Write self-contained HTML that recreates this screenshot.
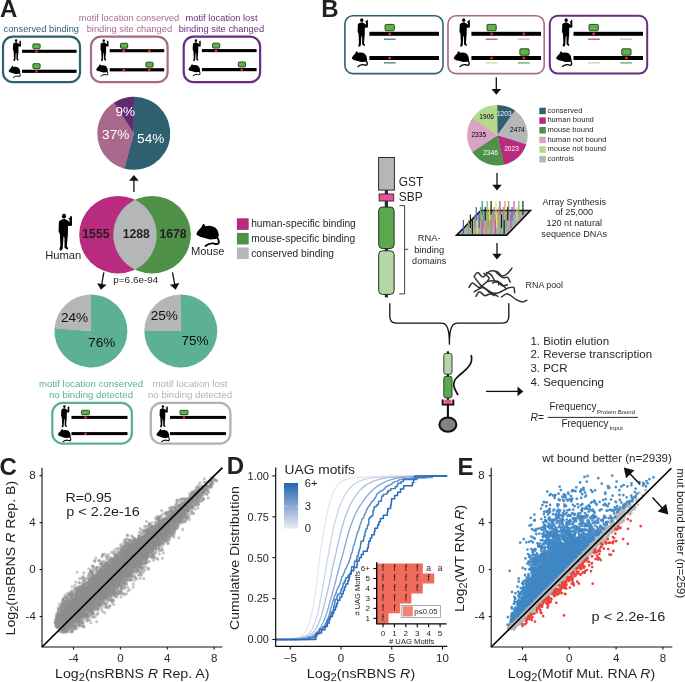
<!DOCTYPE html>
<html><head><meta charset="utf-8"><title>Figure</title>
<style>html,body{margin:0;padding:0;background:#fff}svg{display:block;will-change:transform}text{font-family:"Liberation Sans",sans-serif}</style>
</head><body>
<svg width="685" height="682" viewBox="0 0 685 682">
<rect width="685" height="682" fill="#fff"/>
<text x="0" y="17.2" font-size="24" font-weight="bold" fill="#231f20">A</text>
<text x="3.5" y="31.8" font-size="9.3" textLength="75.5" lengthAdjust="spacingAndGlyphs" fill="#2e6070">conserved binding</text>
<text x="129" y="20.8" font-size="9.3" text-anchor="middle" textLength="100.5" lengthAdjust="spacingAndGlyphs" fill="#a8698d">motif location conserved</text>
<text x="129.4" y="31.8" font-size="9.3" text-anchor="middle" textLength="85.5" lengthAdjust="spacingAndGlyphs" fill="#a8698d">binding site changed</text>
<text x="221.5" y="20.8" font-size="9.3" text-anchor="middle" textLength="72" lengthAdjust="spacingAndGlyphs" fill="#6a2c7e">motif location lost</text>
<text x="221.4" y="31.8" font-size="9.3" text-anchor="middle" textLength="85.5" lengthAdjust="spacingAndGlyphs" fill="#6a2c7e">binding site changed</text>
<rect x="3" y="36.6" width="77" height="45.6" rx="10" fill="none" stroke="#2e6070" stroke-width="2.2"/>
<g transform="translate(12.9,39.2) scale(0.0405)"><path d="M62,79 L27,94 Q5,102 4,129 L0,254 Q2,279 14,286 L19,306 L22,384 L26,474 L14,514 Q10,539 27,546 Q52,539 62,514 L64,474 L72,354 L78,332 L86,354 L88,474 L86,499 Q107,524 130,530 Q147,524 140,506 L122,479 L130,384 L137,314 L139,176 Q162,184 192,178 Q200,174 199,154 L198,54 Q197,32 184,30 Q172,32 170,54 L164,64 L150,54 L145,64 L160,84 L164,129 L142,104 L102,86 L98,74 Z"/><ellipse cx="80" cy="36" rx="31" ry="35"/></g>
<rect x="22.1" y="49.75" width="54.5" height="3.1" fill="#000"/>
<g transform="translate(8.5,65.8) scale(0.0462)"><path d="M0,117 Q15,77 55,42 L77,2 Q95,-3 103,27 Q165,7 215,42 Q260,82 255,142 Q250,167 225,172 L155,177 L115,167 L65,152 L40,147 Q35,137 15,132 Z"/><path d="M238,155 Q268,200 250,227 Q235,237 195,222 Q145,217 105,252" fill="none" stroke="#000" stroke-width="21" stroke-linecap="round"/></g>
<rect x="22.1" y="69.7" width="54.5" height="3.2" fill="#000"/>
<circle cx="36.4" cy="51.5" r="1.35" fill="#ee2d2a"/>
<circle cx="36.4" cy="71.5" r="1.35" fill="#ee2d2a"/>
<rect x="32.9" y="43.9" width="7.2" height="4.9" rx="1" fill="#5db54a" stroke="#1c3a1a" stroke-width="0.9"/>
<rect x="32.9" y="63.7" width="7.2" height="4.9" rx="1" fill="#5db54a" stroke="#1c3a1a" stroke-width="0.9"/>
<rect x="91" y="36.6" width="76.6" height="45.6" rx="10" fill="none" stroke="#a8698d" stroke-width="2.2"/>
<g transform="translate(100.5,39.2) scale(0.0405)"><path d="M62,79 L27,94 Q5,102 4,129 L0,254 Q2,279 14,286 L19,306 L22,384 L26,474 L14,514 Q10,539 27,546 Q52,539 62,514 L64,474 L72,354 L78,332 L86,354 L88,474 L86,499 Q107,524 130,530 Q147,524 140,506 L122,479 L130,384 L137,314 L139,176 Q162,184 192,178 Q200,174 199,154 L198,54 Q197,32 184,30 Q172,32 170,54 L164,64 L150,54 L145,64 L160,84 L164,129 L142,104 L102,86 L98,74 Z"/><ellipse cx="80" cy="36" rx="31" ry="35"/></g>
<rect x="109.7" y="49.15" width="54.5" height="3.1" fill="#000"/>
<g transform="translate(96.1,64.3) scale(0.0462)"><path d="M0,117 Q15,77 55,42 L77,2 Q95,-3 103,27 Q165,7 215,42 Q260,82 255,142 Q250,167 225,172 L155,177 L115,167 L65,152 L40,147 Q35,137 15,132 Z"/><path d="M238,155 Q268,200 250,227 Q235,237 195,222 Q145,217 105,252" fill="none" stroke="#000" stroke-width="21" stroke-linecap="round"/></g>
<rect x="109.7" y="68.2" width="54.5" height="3.2" fill="#000"/>
<circle cx="123.8" cy="50.9" r="1.35" fill="#ee2d2a"/>
<circle cx="149.3" cy="50.9" r="1.35" fill="#ee2d2a"/>
<circle cx="123.8" cy="70" r="1.35" fill="#ee2d2a"/>
<circle cx="149.3" cy="70" r="1.35" fill="#ee2d2a"/>
<rect x="120.5" y="43.3" width="7.2" height="4.9" rx="1" fill="#5db54a" stroke="#1c3a1a" stroke-width="0.9"/>
<rect x="145.9" y="62.2" width="7.2" height="4.9" rx="1" fill="#5db54a" stroke="#1c3a1a" stroke-width="0.9"/>
<rect x="183.7" y="36.6" width="76.4" height="45.6" rx="10" fill="none" stroke="#6a2c7e" stroke-width="2.2"/>
<g transform="translate(192.7,39.2) scale(0.0405)"><path d="M62,79 L27,94 Q5,102 4,129 L0,254 Q2,279 14,286 L19,306 L22,384 L26,474 L14,514 Q10,539 27,546 Q52,539 62,514 L64,474 L72,354 L78,332 L86,354 L88,474 L86,499 Q107,524 130,530 Q147,524 140,506 L122,479 L130,384 L137,314 L139,176 Q162,184 192,178 Q200,174 199,154 L198,54 Q197,32 184,30 Q172,32 170,54 L164,64 L150,54 L145,64 L160,84 L164,129 L142,104 L102,86 L98,74 Z"/><ellipse cx="80" cy="36" rx="31" ry="35"/></g>
<rect x="201.9" y="49.05" width="54.7" height="3.1" fill="#000"/>
<g transform="translate(188.3,64.1) scale(0.0462)"><path d="M0,117 Q15,77 55,42 L77,2 Q95,-3 103,27 Q165,7 215,42 Q260,82 255,142 Q250,167 225,172 L155,177 L115,167 L65,152 L40,147 Q35,137 15,132 Z"/><path d="M238,155 Q268,200 250,227 Q235,237 195,222 Q145,217 105,252" fill="none" stroke="#000" stroke-width="21" stroke-linecap="round"/></g>
<rect x="201.9" y="68" width="54.7" height="3.2" fill="#000"/>
<circle cx="216.1" cy="50.8" r="1.35" fill="#ee2d2a"/>
<circle cx="241.7" cy="69.8" r="1.35" fill="#ee2d2a"/>
<rect x="212.6" y="43.2" width="7.2" height="4.9" rx="1" fill="#5db54a" stroke="#1c3a1a" stroke-width="0.9"/>
<rect x="238.3" y="62" width="7.2" height="4.9" rx="1" fill="#5db54a" stroke="#1c3a1a" stroke-width="0.9"/>
<path d="M133.8,133.3 L133.04,96.81 A36.5,36.5 0 1 1 123.98,168.46 Z" fill="#2e6070"/>
<path d="M133.8,133.3 L124.72,168.65 A36.5,36.5 0 0 1 114.89,102.08 Z" fill="#a8698d"/>
<path d="M133.8,133.3 L114.24,102.48 A36.5,36.5 0 0 1 133.8,96.8 Z" fill="#602a72"/>
<text x="125.3" y="115.5" font-size="13.6" text-anchor="middle" fill="#fff">9%</text>
<text x="115.7" y="139.3" font-size="13.6" text-anchor="middle" fill="#fff">37%</text>
<text x="150.7" y="142.9" font-size="13.6" text-anchor="middle" fill="#fff">54%</text>
<line x1="133.9" y1="192" x2="133.9" y2="180.3" stroke="#111" stroke-width="1.3"/>
<path d="M133.9,175 L138.7,180.8 L129.1,180.8 Z" fill="#111"/>
<circle cx="118" cy="234.7" r="38.8" fill="#b92b7e"/>
<circle cx="152.1" cy="234.7" r="38.8" fill="#4f9148"/>
<path d="M135.05,199.85 A38.8,38.8 0 0 1 135.05,269.55 A38.8,38.8 0 0 1 135.05,199.85 Z" fill="#b4b6b8"/>
<text x="95.9" y="237.6" font-size="12.2" text-anchor="middle" font-weight="bold" fill="#231f20">1555</text>
<text x="136.2" y="237.6" font-size="12.2" text-anchor="middle" font-weight="bold" fill="#231f20">1288</text>
<text x="173" y="237.6" font-size="12.2" text-anchor="middle" font-weight="bold" fill="#231f20">1678</text>
<g transform="translate(58.6,213.8) scale(0.0675)"><path d="M62,79 L27,94 Q5,102 4,129 L0,254 Q2,279 14,286 L19,306 L22,384 L26,474 L14,514 Q10,539 27,546 Q52,539 62,514 L64,474 L72,354 L78,332 L86,354 L88,474 L86,499 Q107,524 130,530 Q147,524 140,506 L122,479 L130,384 L137,314 L139,176 Q162,184 192,178 Q200,174 199,154 L198,54 Q197,32 184,30 Q172,32 170,54 L164,64 L150,54 L145,64 L160,84 L164,129 L142,104 L102,86 L98,74 Z"/><ellipse cx="80" cy="36" rx="31" ry="35"/></g>
<text x="63.3" y="258.6" font-size="11.2" text-anchor="middle" fill="#231f20">Human</text>
<g transform="translate(196.3,223.9) scale(0.0877)"><path d="M0,117 Q15,77 55,42 L77,2 Q95,-3 103,27 Q165,7 215,42 Q260,82 255,142 Q250,167 225,172 L155,177 L115,167 L65,152 L40,147 Q35,137 15,132 Z"/><path d="M238,155 Q268,200 250,227 Q235,237 195,222 Q145,217 105,252" fill="none" stroke="#000" stroke-width="21" stroke-linecap="round"/></g>
<text x="207.7" y="254.5" font-size="11.2" text-anchor="middle" textLength="33.4" lengthAdjust="spacingAndGlyphs" fill="#231f20">Mouse</text>
<text x="135.8" y="283" font-size="9.8" text-anchor="middle" textLength="45" lengthAdjust="spacingAndGlyphs" fill="#231f20">p=6.6e-94</text>
<line x1="103.8" y1="272.4" x2="101.78" y2="284.47" stroke="#111" stroke-width="1.3"/>
<path d="M100.9,289.7 L97.12,283.19 L106.59,284.77 Z" fill="#111"/>
<line x1="172.5" y1="272.4" x2="174.74" y2="284.49" stroke="#111" stroke-width="1.3"/>
<path d="M175.7,289.7 L169.93,284.87 L179.36,283.12 Z" fill="#111"/>
<rect x="236.9" y="218.3" width="11.8" height="11.6" fill="#b92b7e"/>
<text x="251.2" y="227.1" font-size="10.2" textLength="104.6" lengthAdjust="spacingAndGlyphs" fill="#231f20">human-specific binding</text>
<rect x="236.9" y="232.9" width="11.8" height="11.6" fill="#4f9148"/>
<text x="251.2" y="241.8" font-size="10.2" textLength="104" lengthAdjust="spacingAndGlyphs" fill="#231f20">mouse-specific binding</text>
<rect x="236.9" y="247.5" width="11.8" height="11.6" fill="#b4b6b8"/>
<text x="251.2" y="256.5" font-size="10.2" textLength="82.8" lengthAdjust="spacingAndGlyphs" fill="#231f20">conserved binding</text>
<path d="M90.9,331 L90.14,294.51 A36.5,36.5 0 1 1 54.53,327.95 Z" fill="#5bb191"/>
<path d="M90.9,331 L54.47,328.71 A36.5,36.5 0 0 1 90.9,294.5 Z" fill="#b4b6b8"/>
<path d="M180.8,331 L180.04,294.51 A36.5,36.5 0 1 1 144.31,330.24 Z" fill="#5bb191"/>
<path d="M180.8,331 L144.3,331 A36.5,36.5 0 0 1 180.8,294.5 Z" fill="#b4b6b8"/>
<text x="74.5" y="321.6" font-size="13.6" text-anchor="middle" fill="#111">24%</text>
<text x="101.7" y="347" font-size="13.6" text-anchor="middle" fill="#111">76%</text>
<text x="164.3" y="320.2" font-size="13.6" text-anchor="middle" fill="#111">25%</text>
<text x="195" y="345.2" font-size="13.6" text-anchor="middle" fill="#111">75%</text>
<text x="91" y="386.6" font-size="9.6" text-anchor="middle" textLength="104" lengthAdjust="spacingAndGlyphs" fill="#5bb191">motif location conserved</text>
<text x="91" y="397.8" font-size="9.6" text-anchor="middle" textLength="84" lengthAdjust="spacingAndGlyphs" fill="#5bb191">no binding detected</text>
<text x="190" y="386.6" font-size="9.6" text-anchor="middle" textLength="75" lengthAdjust="spacingAndGlyphs" fill="#b2b2b2">motif location lost</text>
<text x="190" y="397.8" font-size="9.6" text-anchor="middle" textLength="84" lengthAdjust="spacingAndGlyphs" fill="#b2b2b2">no binding detected</text>
<rect x="52.3" y="402.9" width="79.6" height="40.7" rx="10.5" fill="none" stroke="#5bb191" stroke-width="2.3"/>
<g transform="translate(61.1,405.1) scale(0.0412)"><path d="M62,79 L27,94 Q5,102 4,129 L0,254 Q2,279 14,286 L19,306 L22,384 L26,474 L14,514 Q10,539 27,546 Q52,539 62,514 L64,474 L72,354 L78,332 L86,354 L88,474 L86,499 Q107,524 130,530 Q147,524 140,506 L122,479 L130,384 L137,314 L139,176 Q162,184 192,178 Q200,174 199,154 L198,54 Q197,32 184,30 Q172,32 170,54 L164,64 L150,54 L145,64 L160,84 L164,129 L142,104 L102,86 L98,74 Z"/><ellipse cx="80" cy="36" rx="31" ry="35"/></g>
<rect x="71.5" y="415.9" width="56" height="3" fill="#000"/>
<g transform="translate(57.8,428.9) scale(0.0508)"><path d="M0,117 Q15,77 55,42 L77,2 Q95,-3 103,27 Q165,7 215,42 Q260,82 255,142 Q250,167 225,172 L155,177 L115,167 L65,152 L40,147 Q35,137 15,132 Z"/><path d="M238,155 Q268,200 250,227 Q235,237 195,222 Q145,217 105,252" fill="none" stroke="#000" stroke-width="21" stroke-linecap="round"/></g>
<rect x="71.5" y="432.1" width="56" height="3" fill="#000"/>
<circle cx="85.5" cy="417.5" r="1.3" fill="#ee2d2a"/>
<circle cx="85.5" cy="433.8" r="1.3" fill="#ee2d2a"/>
<rect x="81.5" y="410.3" width="8" height="4.4" rx="1" fill="#5db54a" stroke="#1c3a1a" stroke-width="0.9"/>
<rect x="150.8" y="402.9" width="79.6" height="40.7" rx="10.5" fill="none" stroke="#b2b2b2" stroke-width="2.3"/>
<g transform="translate(159.6,405.1) scale(0.0412)"><path d="M62,79 L27,94 Q5,102 4,129 L0,254 Q2,279 14,286 L19,306 L22,384 L26,474 L14,514 Q10,539 27,546 Q52,539 62,514 L64,474 L72,354 L78,332 L86,354 L88,474 L86,499 Q107,524 130,530 Q147,524 140,506 L122,479 L130,384 L137,314 L139,176 Q162,184 192,178 Q200,174 199,154 L198,54 Q197,32 184,30 Q172,32 170,54 L164,64 L150,54 L145,64 L160,84 L164,129 L142,104 L102,86 L98,74 Z"/><ellipse cx="80" cy="36" rx="31" ry="35"/></g>
<rect x="170" y="415.9" width="56" height="3" fill="#000"/>
<g transform="translate(156.3,428.9) scale(0.0508)"><path d="M0,117 Q15,77 55,42 L77,2 Q95,-3 103,27 Q165,7 215,42 Q260,82 255,142 Q250,167 225,172 L155,177 L115,167 L65,152 L40,147 Q35,137 15,132 Z"/><path d="M238,155 Q268,200 250,227 Q235,237 195,222 Q145,217 105,252" fill="none" stroke="#000" stroke-width="21" stroke-linecap="round"/></g>
<rect x="170" y="432.1" width="56" height="3" fill="#000"/>
<circle cx="184" cy="417.5" r="1.3" fill="#ee2d2a"/>
<rect x="180" y="410.3" width="8" height="4.4" rx="1" fill="#5db54a" stroke="#1c3a1a" stroke-width="0.9"/>
<text x="321.2" y="17.2" font-size="24" font-weight="bold" fill="#231f20">B</text>
<rect x="344.9" y="15.8" width="98.1" height="57.8" rx="8" fill="none" stroke="#2e6070" stroke-width="1.6"/>
<g transform="translate(357.6,18.3) scale(0.0522)"><path d="M62,79 L27,94 Q5,102 4,129 L0,254 Q2,279 14,286 L19,306 L22,384 L26,474 L14,514 Q10,539 27,546 Q52,539 62,514 L64,474 L72,354 L78,332 L86,354 L88,474 L86,499 Q107,524 130,530 Q147,524 140,506 L122,479 L130,384 L137,314 L139,176 Q162,184 192,178 Q200,174 199,154 L198,54 Q197,32 184,30 Q172,32 170,54 L164,64 L150,54 L145,64 L160,84 L164,129 L142,104 L102,86 L98,74 Z"/><ellipse cx="80" cy="36" rx="31" ry="35"/></g>
<rect x="369.4" y="31.8" width="69.6" height="4" fill="#000"/>
<g transform="translate(351.7,51.2) scale(0.0608)"><path d="M0,117 Q15,77 55,42 L77,2 Q95,-3 103,27 Q165,7 215,42 Q260,82 255,142 Q250,167 225,172 L155,177 L115,167 L65,152 L40,147 Q35,137 15,132 Z"/><path d="M238,155 Q268,200 250,227 Q235,237 195,222 Q145,217 105,252" fill="none" stroke="#000" stroke-width="21" stroke-linecap="round"/></g>
<rect x="369.4" y="56" width="69.6" height="4" fill="#000"/>
<circle cx="389.7" cy="33.9" r="1.4" fill="#ee2d2a"/>
<circle cx="389.7" cy="58.1" r="1.4" fill="#ee2d2a"/>
<rect x="385.1" y="24.4" width="9.2" height="6.4" rx="1" fill="#5db54a" stroke="#1c3a1a" stroke-width="0.9"/>
<line x1="383.9" y1="39.2" x2="395.7" y2="39.2" stroke="#2e6070" stroke-width="1.1"/>
<line x1="383.9" y1="62.9" x2="395.7" y2="62.9" stroke="#2e6070" stroke-width="1.1"/>
<rect x="448" y="15.8" width="96.2" height="57.8" rx="8" fill="none" stroke="#a8698d" stroke-width="1.6"/>
<g transform="translate(459.5,18.3) scale(0.0522)"><path d="M62,79 L27,94 Q5,102 4,129 L0,254 Q2,279 14,286 L19,306 L22,384 L26,474 L14,514 Q10,539 27,546 Q52,539 62,514 L64,474 L72,354 L78,332 L86,354 L88,474 L86,499 Q107,524 130,530 Q147,524 140,506 L122,479 L130,384 L137,314 L139,176 Q162,184 192,178 Q200,174 199,154 L198,54 Q197,32 184,30 Q172,32 170,54 L164,64 L150,54 L145,64 L160,84 L164,129 L142,104 L102,86 L98,74 Z"/><ellipse cx="80" cy="36" rx="31" ry="35"/></g>
<rect x="471.4" y="31.8" width="69.6" height="4" fill="#000"/>
<g transform="translate(453.6,51.2) scale(0.0608)"><path d="M0,117 Q15,77 55,42 L77,2 Q95,-3 103,27 Q165,7 215,42 Q260,82 255,142 Q250,167 225,172 L155,177 L115,167 L65,152 L40,147 Q35,137 15,132 Z"/><path d="M238,155 Q268,200 250,227 Q235,237 195,222 Q145,217 105,252" fill="none" stroke="#000" stroke-width="21" stroke-linecap="round"/></g>
<rect x="471.4" y="56" width="69.6" height="4" fill="#000"/>
<circle cx="491.6" cy="33.9" r="1.4" fill="#ee2d2a"/>
<circle cx="523.8" cy="33.9" r="1.4" fill="#ee2d2a"/>
<circle cx="491.6" cy="58.1" r="1.4" fill="#ee2d2a"/>
<circle cx="523.8" cy="58.1" r="1.4" fill="#ee2d2a"/>
<rect x="487" y="24.4" width="9.2" height="6.4" rx="1" fill="#5db54a" stroke="#1c3a1a" stroke-width="0.9"/>
<rect x="519.9" y="48.8" width="9.2" height="6.4" rx="1" fill="#5db54a" stroke="#1c3a1a" stroke-width="0.9"/>
<line x1="485.7" y1="39.2" x2="497.5" y2="39.2" stroke="#b92b7e" stroke-width="1.1"/>
<line x1="517.9" y1="39.2" x2="529.7" y2="39.2" stroke="#dba2c6" stroke-width="1.1"/>
<line x1="485.7" y1="62.9" x2="497.5" y2="62.9" stroke="#b5d98b" stroke-width="1.1"/>
<line x1="517.9" y1="62.9" x2="529.7" y2="62.9" stroke="#4f9148" stroke-width="1.1"/>
<rect x="549.8" y="15.8" width="97.4" height="57.8" rx="8" fill="none" stroke="#6a2c7e" stroke-width="2"/>
<g transform="translate(562,18.3) scale(0.0522)"><path d="M62,79 L27,94 Q5,102 4,129 L0,254 Q2,279 14,286 L19,306 L22,384 L26,474 L14,514 Q10,539 27,546 Q52,539 62,514 L64,474 L72,354 L78,332 L86,354 L88,474 L86,499 Q107,524 130,530 Q147,524 140,506 L122,479 L130,384 L137,314 L139,176 Q162,184 192,178 Q200,174 199,154 L198,54 Q197,32 184,30 Q172,32 170,54 L164,64 L150,54 L145,64 L160,84 L164,129 L142,104 L102,86 L98,74 Z"/><ellipse cx="80" cy="36" rx="31" ry="35"/></g>
<rect x="573.5" y="31.8" width="69.5" height="4" fill="#000"/>
<g transform="translate(556.1,51.2) scale(0.0608)"><path d="M0,117 Q15,77 55,42 L77,2 Q95,-3 103,27 Q165,7 215,42 Q260,82 255,142 Q250,167 225,172 L155,177 L115,167 L65,152 L40,147 Q35,137 15,132 Z"/><path d="M238,155 Q268,200 250,227 Q235,237 195,222 Q145,217 105,252" fill="none" stroke="#000" stroke-width="21" stroke-linecap="round"/></g>
<rect x="573.5" y="56" width="69.5" height="4" fill="#000"/>
<circle cx="593.7" cy="33.9" r="1.4" fill="#ee2d2a"/>
<circle cx="626.4" cy="58.1" r="1.4" fill="#ee2d2a"/>
<rect x="589.1" y="24.4" width="9.2" height="6.4" rx="1" fill="#5db54a" stroke="#1c3a1a" stroke-width="0.9"/>
<rect x="621.8" y="48.8" width="9.2" height="6.4" rx="1" fill="#5db54a" stroke="#1c3a1a" stroke-width="0.9"/>
<line x1="588.1" y1="39.2" x2="599.9" y2="39.2" stroke="#b92b7e" stroke-width="1.1"/>
<line x1="620.3" y1="39.2" x2="632.1" y2="39.2" stroke="#dba2c6" stroke-width="1.1"/>
<line x1="588.1" y1="62.9" x2="599.9" y2="62.9" stroke="#b5d98b" stroke-width="1.1"/>
<line x1="620.3" y1="62.9" x2="632.1" y2="62.9" stroke="#4f9148" stroke-width="1.1"/>
<line x1="496.3" y1="77.2" x2="496.3" y2="89.4" stroke="#111" stroke-width="1.3"/>
<path d="M496.3,94.7 L491.5,88.9 L501.1,88.9 Z" fill="#111"/>
<path d="M497.4,135.2 L496.77,104.91 A30.3,30.3 0 0 1 515.4,110.83 Z" fill="#2e6070"/>
<path d="M497.4,135.2 L514.89,110.45 A30.3,30.3 0 0 1 526.06,145.03 Z" fill="#b4b6b8"/>
<path d="M497.4,135.2 L526.26,144.43 A30.3,30.3 0 0 1 503.59,164.86 Z" fill="#b92b7e"/>
<path d="M497.4,135.2 L504.21,164.72 A30.3,30.3 0 0 1 472.01,151.73 Z" fill="#4f9148"/>
<path d="M497.4,135.2 L472.36,152.26 A30.3,30.3 0 0 1 472.69,117.67 Z" fill="#dba2c6"/>
<path d="M497.4,135.2 L472.33,118.19 A30.3,30.3 0 0 1 497.4,104.9 Z" fill="#b5d98b"/>
<text x="504.3" y="115.7" font-size="6.6" text-anchor="middle" fill="#fff">1203</text>
<text x="517.4" y="132.1" font-size="6.6" text-anchor="middle" fill="#000">2474</text>
<text x="511.5" y="150.8" font-size="6.6" text-anchor="middle" fill="#fff">2023</text>
<text x="490.5" y="154.6" font-size="6.6" text-anchor="middle" fill="#fff">2346</text>
<text x="478.8" y="136.5" font-size="6.6" text-anchor="middle" fill="#000">2335</text>
<text x="486.7" y="118.9" font-size="6.6" text-anchor="middle" fill="#000">1906</text>
<rect x="539.3" y="107.7" width="6.5" height="6.5" fill="#2e6070"/>
<text x="547.4" y="112.8" font-size="7.6" fill="#231f20">conserved</text>
<rect x="539.3" y="117.36" width="6.5" height="6.5" fill="#b92b7e"/>
<text x="547.4" y="122.46" font-size="7.6" fill="#231f20">human bound</text>
<rect x="539.3" y="127.02" width="6.5" height="6.5" fill="#4f9148"/>
<text x="547.4" y="132.12" font-size="7.6" fill="#231f20">mouse bound</text>
<rect x="539.3" y="136.68" width="6.5" height="6.5" fill="#dba2c6"/>
<text x="547.4" y="141.78" font-size="7.6" fill="#231f20">human not bound</text>
<rect x="539.3" y="146.34" width="6.5" height="6.5" fill="#b5d98b"/>
<text x="547.4" y="151.44" font-size="7.6" fill="#231f20">mouse not bound</text>
<rect x="539.3" y="156" width="6.5" height="6.5" fill="#b4b6b8"/>
<text x="547.4" y="161.1" font-size="7.6" fill="#231f20">controls</text>
<line x1="497" y1="173" x2="497" y2="185.2" stroke="#111" stroke-width="1.3"/>
<path d="M497,190.5 L492.2,184.7 L501.8,184.7 Z" fill="#111"/>
<line x1="497" y1="243" x2="497" y2="254.2" stroke="#111" stroke-width="1.3"/>
<path d="M497,259.5 L492.2,253.7 L501.8,253.7 Z" fill="#111"/>
<line x1="386.4" y1="188" x2="386.4" y2="297.4" stroke="#2b2b2b" stroke-width="3.2"/>
<rect x="378.6" y="157.5" width="15.8" height="32.6" fill="#b4b6b8" stroke="#2b2b2b" stroke-width="1"/>
<rect x="379.1" y="194" width="14.6" height="7" fill="#e94f9b" stroke="#2b2b2b" stroke-width="0.9"/>
<rect x="378.7" y="207" width="15.4" height="41.5" rx="3.8" fill="#5aa94c" stroke="#2b2b2b" stroke-width="1"/>
<rect x="378.7" y="250.8" width="15.4" height="43.6" rx="3.8" fill="#b4d7a5" stroke="#2b2b2b" stroke-width="1"/>
<text x="398.8" y="185.7" font-size="11.9" fill="#231f20">GST</text>
<text x="398.8" y="201" font-size="11.9" fill="#231f20">SBP</text>
<path d="M399.4,205.6 L404.6,205.6 L404.6,249.3 L408.2,249.3 M404.6,249.3 L404.6,293.9 L399.4,293.9" fill="none" stroke="#2b2b2b" stroke-width="0.9"/>
<text x="429.2" y="241.1" font-size="9.3" text-anchor="middle" fill="#231f20">RNA-</text>
<text x="429.2" y="252.8" font-size="9.3" text-anchor="middle" fill="#231f20">binding</text>
<text x="429.2" y="263.5" font-size="9.3" text-anchor="middle" textLength="34.2" lengthAdjust="spacingAndGlyphs" fill="#231f20">domains</text>
<path d="M456.6,235.1 L506.8,235.1 L530.4,210.5 L480.9,210.5 Z" fill="#a9abad" stroke="#111" stroke-width="1.6" stroke-linejoin="miter"/>
<line x1="482.19" y1="214.7" x2="482.19" y2="201" stroke="#3f5fbf" stroke-width="1.15"/>
<line x1="487.19" y1="214.7" x2="487.19" y2="201" stroke="#5fbf4a" stroke-width="1.15"/>
<line x1="491.13" y1="214.7" x2="491.13" y2="201" stroke="#111" stroke-width="1.15"/>
<line x1="495.99" y1="214.7" x2="495.99" y2="201" stroke="#f0e43a" stroke-width="1.15"/>
<line x1="499.93" y1="214.7" x2="499.93" y2="201" stroke="#3f5fbf" stroke-width="1.15"/>
<line x1="504.93" y1="214.7" x2="504.93" y2="201" stroke="#f5892e" stroke-width="1.15"/>
<line x1="508.74" y1="214.7" x2="508.74" y2="201" stroke="#8c8e90" stroke-width="1.15"/>
<line x1="513.99" y1="214.7" x2="513.99" y2="201" stroke="#c24fb0" stroke-width="1.15"/>
<line x1="518.86" y1="214.7" x2="518.86" y2="201" stroke="#5fbf4a" stroke-width="1.15"/>
<line x1="522.93" y1="214.7" x2="522.93" y2="201" stroke="#111" stroke-width="1.15"/>
<line x1="476.28" y1="220.6" x2="476.28" y2="207" stroke="#3f5fbf" stroke-width="1.15"/>
<line x1="480.49" y1="220.6" x2="480.49" y2="207" stroke="#5fbf4a" stroke-width="1.15"/>
<line x1="485.22" y1="220.6" x2="485.22" y2="207" stroke="#111" stroke-width="1.15"/>
<line x1="489.42" y1="220.6" x2="489.42" y2="207" stroke="#f0e43a" stroke-width="1.15"/>
<line x1="494.02" y1="220.6" x2="494.02" y2="207" stroke="#8c8e90" stroke-width="1.15"/>
<line x1="498.88" y1="220.6" x2="498.88" y2="207" stroke="#f5892e" stroke-width="1.15"/>
<line x1="503.22" y1="220.6" x2="503.22" y2="207" stroke="#8c8e90" stroke-width="1.15"/>
<line x1="507.82" y1="220.6" x2="507.82" y2="207" stroke="#111" stroke-width="1.15"/>
<line x1="512.02" y1="220.6" x2="512.02" y2="207" stroke="#3f5fbf" stroke-width="1.15"/>
<line x1="517.02" y1="220.6" x2="517.02" y2="207" stroke="#f0e43a" stroke-width="1.15"/>
<line x1="470.37" y1="227.9" x2="470.37" y2="214.4" stroke="#111" stroke-width="1.15"/>
<line x1="474.97" y1="227.9" x2="474.97" y2="214.4" stroke="#8c8e90" stroke-width="1.15"/>
<line x1="479.17" y1="227.9" x2="479.17" y2="214.4" stroke="#3f5fbf" stroke-width="1.15"/>
<line x1="483.51" y1="227.9" x2="483.51" y2="214.4" stroke="#8c8e90" stroke-width="1.15"/>
<line x1="488.11" y1="227.9" x2="488.11" y2="214.4" stroke="#5fbf4a" stroke-width="1.15"/>
<line x1="492.31" y1="227.9" x2="492.31" y2="214.4" stroke="#f5892e" stroke-width="1.15"/>
<line x1="496.65" y1="227.9" x2="496.65" y2="214.4" stroke="#f0e43a" stroke-width="1.15"/>
<line x1="501.51" y1="227.9" x2="501.51" y2="214.4" stroke="#111" stroke-width="1.15"/>
<line x1="506.24" y1="227.9" x2="506.24" y2="214.4" stroke="#5fbf4a" stroke-width="1.15"/>
<line x1="510.84" y1="227.9" x2="510.84" y2="214.4" stroke="#c24fb0" stroke-width="1.15"/>
<line x1="463.4" y1="233.8" x2="463.4" y2="220" stroke="#3f5fbf" stroke-width="1.15"/>
<line x1="468.4" y1="233.8" x2="468.4" y2="220" stroke="#5fbf4a" stroke-width="1.15"/>
<line x1="472.34" y1="233.8" x2="472.34" y2="220" stroke="#111" stroke-width="1.15"/>
<line x1="477.33" y1="233.8" x2="477.33" y2="220" stroke="#f0e43a" stroke-width="1.15"/>
<line x1="482.19" y1="233.8" x2="482.19" y2="220" stroke="#c24fb0" stroke-width="1.15"/>
<line x1="486.4" y1="233.8" x2="486.4" y2="220" stroke="#f5892e" stroke-width="1.15"/>
<line x1="491" y1="233.8" x2="491" y2="220" stroke="#8c8e90" stroke-width="1.15"/>
<line x1="495.34" y1="233.8" x2="495.34" y2="220" stroke="#c24fb0" stroke-width="1.15"/>
<line x1="500.2" y1="233.8" x2="500.2" y2="220" stroke="#5fbf4a" stroke-width="1.15"/>
<line x1="504.14" y1="233.8" x2="504.14" y2="220" stroke="#111" stroke-width="1.15"/>
<text x="574.2" y="204.5" font-size="9.1" text-anchor="middle" textLength="63.5" lengthAdjust="spacingAndGlyphs" fill="#231f20">Array Synthesis</text>
<text x="574.2" y="215.3" font-size="9.1" text-anchor="middle" fill="#231f20">of 25,000</text>
<text x="574.2" y="226.1" font-size="9.1" text-anchor="middle" fill="#231f20">120 nt natural</text>
<text x="574.2" y="236.9" font-size="9.1" text-anchor="middle" fill="#231f20">sequence DNAs</text>
<path d="M474.27,276.02 C474.86,275.44 476.32,272.37 477.78,272.52 C479.23,272.67 480.99,277.13 483.03,276.9 C485.07,276.67 487.7,271.96 490.04,271.12 C492.37,270.27 495,271 497.05,271.82 C499.09,272.64 500.55,275.76 502.3,276.02 C504.05,276.29 505.95,274.71 507.56,273.4 C509.16,272.08 511.21,269.02 511.94,268.14" fill="none" stroke="#2b3133" stroke-width="1.5" stroke-linecap="round"/>
<path d="M469.02,287.41 C469.6,286.68 470.77,283.03 472.52,283.03 C474.27,283.03 477.05,287.64 479.53,287.41 C482.01,287.18 484.64,282.65 487.41,281.63 C490.18,280.61 493.69,280.61 496.17,281.28 C498.65,281.95 500.4,285.07 502.3,285.66 C504.2,286.24 506.68,284.93 507.56,284.78" fill="none" stroke="#2b3133" stroke-width="1.5" stroke-linecap="round"/>
<path d="M474.27,291.79 C475.73,291.06 480.4,287.26 483.03,287.41 C485.66,287.56 487.41,291.79 490.04,292.67 C492.67,293.54 495.88,293.4 498.8,292.67 C501.72,291.94 505.08,289.16 507.56,288.29 C510.04,287.41 512.52,286.68 513.69,287.41 C514.86,288.14 514.42,291.79 514.57,292.67" fill="none" stroke="#2b3133" stroke-width="1.5" stroke-linecap="round"/>
<path d="M476.02,296.17 C476.61,295.44 478.07,291.88 479.53,291.79 C480.99,291.7 483.03,295.29 484.78,295.64 C486.53,296 488.43,293.89 490.04,293.89 C491.64,293.89 493.69,295.35 494.42,295.64" fill="none" stroke="#2b3133" stroke-width="1.5" stroke-linecap="round"/>
<path d="M501.43,297.05 C502.45,296.52 505.08,293.45 507.56,293.89 C510.04,294.33 513.84,298.33 516.32,299.67 C518.8,301.02 520.7,301.86 522.45,301.95 C524.2,302.04 526.1,300.49 526.83,300.2" fill="none" stroke="#2b3133" stroke-width="1.5" stroke-linecap="round"/>
<path d="M474.27,276.9 C475.44,278.36 478.36,283.03 481.28,285.66 C484.2,288.29 489.02,290.89 491.79,292.67 C494.56,294.45 496.9,295.73 497.92,296.35" fill="none" stroke="#2b3133" stroke-width="1.5" stroke-linecap="round"/>
<path d="M486.53,272.52 C487.26,272.87 489.45,273.16 490.91,274.62 C492.37,276.08 493.69,279.88 495.29,281.28 C496.9,282.68 498.8,281.86 500.55,283.03 C502.3,284.2 504.93,287.41 505.81,288.29" fill="none" stroke="#2b3133" stroke-width="1.5" stroke-linecap="round"/>
<path d="M496.17,272.52 C497.19,273.34 500.4,276.61 502.3,277.42 C504.2,278.24 506.24,276.64 507.56,277.42 C508.87,278.21 509.75,281.37 510.19,282.15" fill="none" stroke="#2b3133" stroke-width="1.5" stroke-linecap="round"/>
<path d="M483.91,273.4 C484.78,274.13 488.58,276.46 489.16,277.78 C489.75,279.09 487.7,280.69 487.41,281.28" fill="none" stroke="#2b3133" stroke-width="1.5" stroke-linecap="round"/>
<path d="M492.67,283.03 C493.54,282.74 496.9,280.99 497.92,281.28 C498.94,281.57 498.65,284.2 498.8,284.78" fill="none" stroke="#2b3133" stroke-width="1.5" stroke-linecap="round"/>
<text x="525.6" y="287.6" font-size="9.1" textLength="37.4" lengthAdjust="spacingAndGlyphs" fill="#231f20">RNA pool</text>
<path d="M389.8,303.3 L389.8,316 C389.8,321 391.5,323.1 396,323.1 L441,323.1 C446.5,323.1 449.4,327 449.4,344.2 C449.4,327 452.3,323.1 457.8,323.1 L502.6,323.1 C507.1,323.1 508.8,321 508.8,316 L508.8,303.3" fill="none" stroke="#111" stroke-width="1.3" stroke-linejoin="round"/>
<line x1="447.9" y1="351.3" x2="447.9" y2="419" stroke="#111" stroke-width="2.1"/>
<rect x="443.8" y="353.4" width="8.2" height="20.8" rx="2.2" fill="#b4d7a5" stroke="#2b2b2b" stroke-width="0.9"/>
<rect x="443.8" y="376.3" width="8.2" height="21.6" rx="2.2" fill="#5aa94c" stroke="#2b2b2b" stroke-width="0.9"/>
<path d="M442.7,399.4 L442.7,404.6 L453.3,404.6 L453.3,399.4" fill="none" stroke="#111" stroke-width="2"/>
<rect x="444.3" y="399.7" width="7.2" height="3.9" fill="#e94f9b"/>
<ellipse cx="447.9" cy="424.6" rx="8.5" ry="7.1" fill="#808285" stroke="#111" stroke-width="2"/>
<path d="M471.3,355.7 C474,366 462,372 456.5,378 C451,384 455,390 457.7,394.5" fill="none" stroke="#111" stroke-width="1.7" stroke-linecap="round"/>
<line x1="486" y1="391.4" x2="518" y2="391.4" stroke="#111" stroke-width="1.3"/>
<path d="M523.3,391.4 L517.5,396.2 L517.5,386.6 Z" fill="#111"/>
<text x="530.4" y="344.5" font-size="11.5" fill="#231f20">1. Biotin elution</text>
<text x="530.4" y="358.32" font-size="11.5" textLength="121.7" lengthAdjust="spacingAndGlyphs" fill="#231f20">2. Reverse transcription</text>
<text x="530.4" y="372.14" font-size="11.5" fill="#231f20">3. PCR</text>
<text x="530.4" y="385.96" font-size="11.5" fill="#231f20">4. Sequencing</text>
<text x="530.6" y="420.8" font-size="10.3" fill="#231f20"><tspan font-style="italic">R</tspan>=</text>
<line x1="547.7" y1="417.4" x2="638" y2="417.4" stroke="#111" stroke-width="0.9"/>
<text x="549.4" y="410.2" font-size="10" textLength="47.2" lengthAdjust="spacingAndGlyphs" fill="#231f20">Frequency</text>
<text x="597" y="413.6" font-size="5.8" textLength="38" lengthAdjust="spacingAndGlyphs" fill="#231f20">Protein Bound</text>
<text x="561.4" y="426.9" font-size="10" textLength="47.2" lengthAdjust="spacingAndGlyphs" fill="#231f20">Frequency</text>
<text x="609.6" y="430.1" font-size="5.8" textLength="13.4" lengthAdjust="spacingAndGlyphs" fill="#231f20">Input</text>
<text x="-0.6" y="474.8" font-size="24" font-weight="bold" fill="#231f20">C</text>
<path d="M136.6 553.2h0M72.5 603.3h0M151.8 534.9h0M111 576.4h0M120 564.4h0M131.7 554.4h0M163.3 543.1h0M71.2 613.6h0M80.6 614h0M78.2 589.2h0M113.4 577h0M133.4 551.3h0M166 527.9h0M187.6 504.9h0M57.7 621.8h0M72.4 610.6h0M72.1 622.1h0M147.2 545.4h0M92.2 572.8h0M141 562.4h0M72.1 591.8h0M104.2 591.8h0M62.5 617.8h0M146.9 554.8h0M173.6 521.6h0M111.6 583.6h0M150.4 539.5h0M149.7 542.8h0M87.8 597h0M98.5 583.3h0M87.7 610.6h0M69.9 592.5h0M91.5 590h0M172.2 507.1h0M122.8 560.2h0M56.3 621.6h0M159.5 530.3h0M81.6 614.9h0M136.8 544.5h0M121.9 581.1h0M107.3 580h0M143.9 565.7h0M87.2 588.9h0M130.1 565.9h0M67.4 609.6h0M67.9 616.4h0M158.4 524.7h0M169.5 528.7h0M170.2 523.3h0M105 578.6h0M142 544.3h0M111.9 563.8h0M126.4 556.7h0M109.7 578.5h0M93.5 596.6h0M130.4 565.9h0M115.1 563.3h0M117.3 574.5h0M91.7 589.3h0M64.9 608.5h0M178 514.4h0M73 613.8h0M117.7 564.9h0M116.8 584.7h0M84.5 595.6h0M119.2 582.7h0M108.2 583.3h0M140.2 545h0M132.7 566.1h0M124.6 552.2h0M90.6 599.9h0M111.3 575.5h0M182.7 510.5h0M108.1 572.7h0M60 616.1h0M139.5 539.1h0M124.1 558.6h0M192.7 499h0M111.6 552.4h0M174.2 520.7h0M72.7 600.6h0M113.7 595.5h0M147.4 553.6h0M96.6 581.7h0M114.2 580h0M103.5 574.9h0M97 576.2h0M75.7 597.6h0M150 538.6h0M101.2 584.4h0M92.2 598.9h0M100.8 601h0M114.7 583.8h0M128.8 551.6h0M139.5 558.5h0M156.6 532.5h0M76.9 616.3h0M55.6 621.9h0M67.6 611.8h0M196.4 502.1h0M136.8 554.5h0M173.4 517.3h0M154.1 542.5h0M67.8 616.6h0M109.4 600.4h0M129.3 562.7h0M185.4 499.3h0M72.3 618h0M75.3 604.5h0M68.3 607.3h0M72.4 618.6h0M87.5 602.7h0M118.3 580.6h0M137.9 553.3h0M154.6 544.2h0M100.7 603.6h0M135.7 543.9h0M143.3 550.4h0M146.3 542.9h0M165.8 533.2h0M94.6 589.4h0M64.2 622.3h0M81.8 607.1h0M157.2 536.2h0M184.7 504.9h0M164.3 536.2h0M130 549.3h0M174.5 511.5h0M98.4 583.9h0M91.4 587.5h0M127.8 557.1h0M80.1 605.6h0M181.9 510.2h0M130.3 579.6h0M184 516h0M187.6 510.8h0M120.6 576.5h0M170.6 517.1h0M111.4 573.9h0M199.1 488.6h0M129.9 560.2h0M153.4 549h0M163.8 539.8h0M178.2 514.4h0M118.3 574h0M132.8 551.4h0M149.4 551.2h0M111.1 572h0M128.3 563.3h0M124.1 594.5h0M96.3 580.9h0M102.3 593.5h0M182.8 507.3h0M181 518h0M58.9 612.9h0M141.6 554.4h0M105.3 594.3h0M135.4 561.6h0M123.9 560h0M105.5 573.4h0M135.6 559.5h0M107.2 576.5h0M107.2 584.7h0M124.4 546.3h0M113.9 581.1h0M106 585.1h0M131.2 571.3h0M154.5 540.4h0M159.2 520.8h0M97.7 574.9h0M115.3 575h0M142.9 554.1h0M88.1 582.2h0M78.7 619.8h0M121.4 565.8h0M124.4 570.5h0M75.8 603.1h0M121.9 552.2h0M73.2 600.5h0M136.7 554.3h0M196.1 497.5h0M82.4 596.3h0M136.4 555.9h0M115.7 563.6h0M98.5 587.6h0M155.6 531.1h0M79.7 606.8h0M77.9 618.4h0M100.2 585.2h0M78.7 620.8h0M106 555.9h0M78.5 624.6h0M68.3 619.6h0M113.2 574.9h0M58.3 620.8h0M86.7 597.4h0M86.8 598.2h0M82.5 589.1h0M150.2 543.8h0M162.8 534.5h0M128.3 575.3h0M87.1 602.9h0M120.7 560.3h0M118.8 570.8h0M113.8 559.6h0M152.1 538.1h0M68.5 623.5h0M91.2 591.7h0M164.7 524.9h0M79.3 605.7h0M63.3 618.6h0M66.6 610.6h0M181.7 508.7h0M109.3 600.3h0M113.9 583.2h0M76.2 611.1h0M77.3 604h0M91.4 603.4h0M112.4 567.3h0M122 561.8h0M92.8 593.9h0M85.5 600.4h0M119.6 567.7h0M111.9 588.6h0M164.1 527.9h0M188.7 503.1h0M128 556.7h0M97.4 584.7h0M97.9 593.9h0M188.6 514.4h0M167.8 531.4h0M104.9 582.8h0M150.5 530.7h0M122.9 562.7h0M118.1 594.1h0M147.9 547h0M87 609.1h0M88.6 595.1h0M87.1 602.9h0M106.6 586h0M161.2 536.8h0M104.9 587.2h0M167.4 525.5h0M126.7 577h0M199.9 492.3h0M89.7 597.3h0M137.1 551h0M92.4 594.2h0M122 573.7h0M71.3 611.4h0M109.8 581.4h0M76.6 619h0M148.6 547.6h0M74.9 610.4h0M111.7 578.4h0M127.6 563.9h0M79.1 599.4h0M125.3 566.5h0M78.5 616.2h0M140.1 548.1h0M84 597.6h0M147.2 544.5h0M107.7 601.5h0M74.7 615h0M144.4 552.6h0M85.1 588.2h0M83.9 611.5h0M128.8 559.2h0M99 582.2h0M84.8 593.3h0M139.8 547.4h0M89.5 600.4h0M115.8 576.2h0M93 581.6h0M91.1 595.1h0M113.7 569.6h0M129.2 560.2h0M118 578.7h0M115.9 571.6h0M83.4 609h0M124.2 555.2h0M163.5 522h0M110.5 573.3h0M129.3 568.6h0M72.4 603.3h0M121 565.9h0M107.4 569h0M146 535.3h0M104.7 612.9h0M104.2 566.2h0M93.3 592.9h0M132.5 542.7h0M63.6 632.3h0M116 578.6h0M196.4 494.2h0M70.4 627.5h0M177.6 511.6h0M120.3 580.2h0M120.5 567.5h0M99.6 573.8h0M111.4 590.6h0M65.8 615.6h0M147.1 531.2h0M121.3 560.9h0M82.4 595h0M97.9 590.6h0M142.2 550.1h0M100.2 580.3h0M89.6 592.2h0M123.8 572.5h0M161.5 530.1h0M57.1 619.1h0M186.7 506h0M199.8 490.1h0M171.1 524.3h0M135.7 553.2h0M104.9 591.6h0M97.9 610.4h0M136.9 551.3h0M59.4 616.6h0M99.8 583.8h0M82.1 590.7h0M185.5 502.2h0M205 487.6h0M116.5 586.1h0M114.3 582.7h0M120.8 556.9h0M114 592.8h0M176.9 510.5h0M83.8 615.2h0M96.8 604.7h0M134.6 549.8h0M133.6 550.8h0M111.1 572h0M102.3 592.5h0M86.9 604.9h0M108.7 577.1h0M153.2 536.2h0M81.5 625.1h0M148.7 539.1h0M98.8 590.8h0M139.3 558.1h0M103.3 599.6h0M146.2 553.2h0M76.3 602.1h0M107.5 568.6h0M61.9 629.8h0M98.8 575.8h0M98.9 590.1h0M145.5 537.3h0M148.5 546.5h0M140.3 549.9h0M110.2 576.2h0M93.7 594.3h0M131 553h0M109.8 606.3h0M129 562h0M151.8 546.2h0M158.6 534.4h0M87.9 591h0M165.4 512.6h0M132.8 550.3h0M188.6 502h0M68.9 605.4h0M151.4 532.3h0M213.8 480.1h0M75.4 611.4h0M124.3 569h0M102.5 603.6h0M83.9 604.5h0M71.2 614.1h0M176.5 515.7h0M103.7 591h0M142.3 551.7h0M64.7 625.2h0M66.9 621.4h0M81.3 603.9h0M154.4 543.2h0M177.1 506.3h0M111.6 567.5h0M183.1 508.3h0M112.4 567.6h0M105.1 573.3h0M167 540.4h0M140.5 541h0M79.7 619.9h0M164.7 531h0M82.1 608.7h0M102.9 587.9h0M136.2 563.9h0M122.2 565.6h0M109.1 589.1h0M134.3 553.9h0M105.2 569.4h0M68.5 595.2h0M164.5 526.7h0M154.5 533.2h0M111.6 569.1h0M81.6 602.8h0M110.1 576.2h0M158.7 545.9h0M112.6 564.9h0M168.3 537.2h0M135.4 556h0M102.6 566.1h0M173.7 513.1h0M165.3 530.9h0M65 623.7h0M76.7 615h0M101.9 583.5h0M109 588.6h0M119.4 562.6h0M127.5 549.8h0M117.6 567.7h0M72.5 630.6h0M121 575h0M99.1 588h0M90.3 595.1h0M120.5 556.9h0M87.9 591.9h0M155.3 545.6h0M88.1 591.1h0M103.6 565.3h0M85.8 599.1h0M189.4 507.7h0M176.7 510.6h0M87.7 591.2h0M104.4 603.8h0M63.5 616.4h0M116.2 573.9h0M177.7 514.9h0M119.9 568.5h0M159.8 530.9h0M104.4 576.3h0M143.2 550.8h0M185.7 520.4h0M61.7 608.6h0M75 628.5h0M87.7 590.2h0M140.4 545.3h0M89.7 580h0M119.7 574.1h0M101.1 585.5h0M57.3 626.4h0M109.8 575.1h0M80.9 603.2h0M79.6 625.4h0M134.6 560.5h0M65.8 617.8h0M91 602.2h0M77.1 614.3h0M62.3 629.7h0M149.2 536.5h0M73.4 606.3h0M102 599.1h0M78.8 623.6h0M82.7 586.6h0M114.9 585.8h0M131.9 562.5h0M115.2 591.1h0M67.9 628.3h0M199.6 500.9h0M97.5 567h0M68.8 613h0M70.7 615h0M173.3 530.3h0M74.9 605h0M115.6 576h0M126.8 553.6h0M93.9 581.1h0M90.4 593.7h0M156 539.1h0M102.5 590.9h0M76.8 611.9h0M70.1 610.3h0M89.8 602.3h0M75 599.4h0M99.2 598.3h0M160.2 529h0M97 588.5h0M118.1 559.8h0M112.1 583.1h0M200.6 500.2h0M151.3 549.3h0M140 550h0M206.1 488.8h0M131.5 572.9h0M86.1 606.5h0M122.1 572.9h0M158.7 528.9h0M89.9 582.4h0M78 610.2h0M90.8 610.4h0M157 531.9h0M131.7 546.4h0M143.8 578.4h0M105.9 562.9h0M164 527.4h0M131.1 551.4h0M61.9 618.9h0M100.6 578.2h0M136.5 565.1h0M110.9 579.2h0M148.5 544.7h0M60.8 617.4h0M131.8 548.2h0M116.3 557.6h0M84.8 608.2h0M83.4 619.9h0M134.1 538.2h0M88.2 596.9h0M66.3 630h0M89.6 590h0M166.2 540.6h0M87 592.4h0M56.8 613.6h0M106.9 579.7h0M156 542.4h0M71.5 604.6h0M133.5 548.5h0M68.2 629.1h0M91.8 590.3h0M103.2 583.6h0M89.6 592.4h0M147.4 551.5h0M82.2 623h0M161.1 532.4h0M116.2 591.5h0M99.7 587.6h0M92.9 596.4h0M148.4 544h0M111 578.9h0M73.6 605.1h0M128.6 555.4h0M102.8 579.9h0M142.4 547.1h0M94.7 607.6h0M128.8 558h0M77.6 615.5h0M182.2 519.6h0M78.5 596.9h0M160 532.4h0M189.6 507.6h0M142.1 542.6h0M89.4 595h0M79.4 591h0M137.4 556.8h0M114.9 580.9h0M104.4 563.9h0M162 529.9h0M62.9 618.9h0M89.9 599.7h0M163.2 535.4h0M79.6 604.4h0M93.6 597.7h0M163.7 531.2h0M121.7 579.8h0M79.8 607.3h0M202.3 491.6h0M124.3 557h0M153.2 532.4h0M162.4 523.7h0M80.8 607.3h0M133.1 564.8h0M171.3 510.2h0M113.9 581.6h0M112 580.4h0M197.2 501.6h0M148.5 527.3h0M98.2 595.3h0M75.9 588.2h0M136.8 556.1h0M77.4 617.8h0M135 550.5h0M118.1 568h0M159.1 531.9h0M78.5 602.9h0M172.5 507.4h0M142.3 543.3h0M100.4 583.2h0M147.1 539.1h0M102.8 572.6h0M136.8 541.6h0M75.5 606.4h0M102.9 590.3h0M64.8 612.5h0M97.4 580.8h0M156.4 537.9h0M118.3 562.1h0M103.2 588.3h0M106.7 587.4h0M101.4 584.4h0M99.1 589.5h0M104.5 585.8h0M122.1 558.3h0M110.3 585.2h0M94.2 594.9h0M158.3 541h0M127.1 563.2h0M104.7 597.7h0M171.7 516.5h0M152.1 556.7h0M119.2 571.3h0M80.7 608.6h0M145.9 553.6h0M154.7 542h0M125.4 558.7h0M75.4 606h0M68.9 623.7h0M114 559.6h0M67.2 625.5h0M143.7 565.2h0M138.1 568.5h0M116.5 576.9h0M119.9 556.1h0M74.3 603.8h0M78.2 595.1h0M140.3 549.2h0M188.7 498h0M133.4 584.1h0M103.4 590.9h0M147.5 555.2h0M83.2 624.5h0M148.9 548.5h0M161.6 527.3h0M107.5 582.2h0M99.7 580.6h0M114.9 583.1h0M98.5 574.5h0M116.8 575.7h0M77.7 606.7h0M89.5 587.7h0M140.4 555.6h0M64 622.7h0M111.5 566.9h0M64.2 607h0M148.5 541.7h0M121.3 564.9h0M132.5 543.6h0M67.2 621.5h0M103.1 594.3h0M162.3 528.6h0M74.3 612.1h0M89.6 597.8h0M146 540.8h0M137 550.5h0M114.1 560.5h0M92.3 578.1h0M141.5 547.1h0M94.6 582.9h0M142.1 540.5h0M101.8 586.6h0M106.3 576.9h0M136.7 558.6h0M86.3 582.4h0M131.7 553h0M117 581.5h0M136.6 565.3h0M91.2 603.5h0M137.7 556h0M64.7 626.9h0M88.9 601.7h0M81.7 593.9h0M89.8 609.4h0M107.6 580.2h0M130.5 558.6h0M97 601.5h0M96.6 608.4h0M88 592.3h0M190 504.8h0M135.6 557.6h0M167.9 523.5h0M82.1 612.3h0M133.5 540h0M88.5 579h0M132.6 559.5h0M127.5 572.4h0M165.9 526.9h0M144.8 554.8h0M122.4 564.5h0M107.1 577.9h0M78.1 599.6h0M104 595.7h0M133.2 563.1h0M127.1 557.4h0M105.5 582.7h0M110.5 574.3h0M108.9 579.5h0M63.4 614.9h0M104.5 591.3h0M83.3 576.4h0M95.4 588.7h0M114.2 570.4h0M109 588.1h0M107.9 579h0M88.5 592.7h0M73.5 610.6h0M130.9 554h0M154 533.8h0M103.8 597.5h0M55.8 622.4h0M199 491.2h0M174 516.7h0M138.7 538.4h0M202 496.1h0M82.8 601.4h0M160.7 533h0M133.2 549.6h0M118.2 568.3h0M181 518.9h0M107.6 586.6h0M128.5 551.5h0M57.5 613.5h0M83.3 601.2h0M64.4 619.9h0M98 580.7h0M152.9 542.8h0M112 573.3h0M175.5 507.8h0M124.2 558.5h0M104.2 575h0M182 505.9h0M122.5 580.7h0M112.8 570.6h0M106.4 569.6h0M81.1 620.2h0M197.3 501.4h0M159.3 529.5h0M93.7 577.7h0M94.5 583.9h0M89.2 593h0M92.1 588.4h0M151.8 527.7h0M136.3 561.8h0M66.5 625.3h0M102.4 581.3h0M130.1 555.5h0M109.3 585.1h0M100.6 598h0M77.2 613.2h0M93.5 605h0M81.9 609.8h0M96.6 588.8h0M102.7 587.1h0M101.7 586.4h0M84.3 606.9h0M121.8 560.8h0M151.1 545.9h0M114.9 583.2h0M80.1 609h0M140.2 578.4h0M68.7 609.9h0M156.5 539.5h0M120 576.8h0M216.8 481.1h0M154.6 535.3h0M102.7 582h0M91.3 603h0M188.7 510.9h0M126.6 557.3h0M118.2 557.4h0M139.2 547.2h0M196.8 495.2h0M73.8 620.2h0M122.5 580.5h0M167.2 534.4h0M123.5 554.5h0M85.4 614.8h0M127 558h0M106.9 596.5h0M146.1 555.3h0M122.1 568.1h0M77.8 605.9h0M212.7 482.3h0M96 576.5h0M115.1 588.9h0M58.4 623.9h0M147.6 547.1h0M143 552.2h0M85.4 600.6h0M166.4 530.8h0M120.4 575.6h0M87.8 589.7h0M203.1 486.5h0M150.2 534h0M81.8 589.4h0M67.2 619.2h0M133.8 551.7h0M108.1 588h0M103.5 574.7h0M153.5 543.2h0M124.5 582.1h0M129.4 569.6h0M82.9 595.1h0M136.5 545h0M105.8 584.8h0M98.9 595.6h0M155.6 540.2h0M71.7 623.5h0M77.5 611.5h0M100.4 604h0M152.1 542.6h0M110.3 581.7h0M126.2 541.9h0M141.3 559.8h0M67.5 620.9h0M137.6 555.8h0M103.5 594.4h0M131.5 557.5h0M158.8 527h0M132.6 560.4h0M152.5 555.9h0M89.1 592.1h0M138.6 543.3h0M128.5 558.9h0M108.4 586h0M115 595.6h0M63.4 619.9h0M99.5 583.9h0M93.4 591.2h0M164.8 528.4h0M106.1 588.6h0M116.5 571.8h0M96.7 575.6h0M102.3 573h0M141.5 536.5h0M155.9 533.4h0M121.3 580.6h0M129.9 551.3h0M128 575.6h0M125.7 563h0M113.7 585.6h0M150.8 540.9h0M209.1 486.7h0M103.6 583.8h0M176.1 517.4h0M126.4 570.5h0M115 563.6h0M92.3 598.8h0M156.5 532.7h0M112.2 575h0M100.2 591h0M135.2 566.3h0M111.1 582.6h0M112.5 566.4h0M121.1 561.5h0M95.7 584.8h0M137.2 547.5h0M118.2 574.6h0M70.1 604.6h0M68.2 606.7h0M138.1 554.1h0M117.3 566.7h0M117.6 578.6h0M94.6 599.9h0M166.1 532.4h0M140.4 566.4h0M145.2 554.7h0M87 598.8h0M90 593.7h0M157.5 528.5h0M183.7 508h0M137.6 549.7h0M108.6 594.3h0M168.9 520.5h0M109.7 580.6h0M116.2 566.6h0M112.9 583h0M157.1 558.3h0M185.8 518.9h0M157.1 525h0M192.5 506.3h0M155.9 539.8h0M95 599.1h0M86 610h0M80.6 600.4h0M135.4 549.6h0M166.7 528.3h0M170.3 519.8h0M82.2 612.8h0M72 604.5h0M87.3 590h0M145.6 536.1h0M166 523h0M117.5 587.6h0M138.9 540.4h0M71.4 605.3h0M159.7 535.4h0M126.4 559.4h0M81.5 615.8h0M107.8 566h0M132.5 549.2h0M94.1 589.9h0M121.6 586.8h0M94.8 594.6h0M73 607.9h0M126.7 556.2h0M117.6 583.9h0M56.2 623h0M119.4 591.9h0M213.3 483.3h0M125.2 550.4h0M85.2 599.3h0M178.3 515.5h0M152.6 534.6h0M113.8 575.8h0M98.4 602.6h0M102.5 579.2h0M109.5 576.4h0M143.7 553.1h0M106.4 578.6h0M131.8 554.5h0M106.7 574.7h0M63.2 630.8h0M115.3 581.8h0M124.9 563.5h0M95.6 605.5h0M154.2 538.4h0M85.4 600.9h0M87.4 593.1h0M70.4 609.2h0M84 589.2h0M91.7 602.8h0M84.9 593h0M110.8 569.2h0M115 570.1h0M139.8 553.5h0M164 525.3h0M74.2 607.8h0M58.6 615.9h0M94.1 594.4h0M144.3 538.3h0M116.8 563.4h0M112.4 569.8h0M104.8 587.6h0M142.8 549h0M188.6 502.3h0M92.4 591.5h0M140.7 533.3h0M93.1 593.9h0M96.2 585.2h0M132.7 547.6h0M144.6 545.5h0M93.7 569.8h0M171.6 529.4h0M100.9 585.1h0M112.4 594.7h0M138.8 550h0M91.7 595.7h0M150 537.4h0M111 592.1h0M119.7 569.1h0M107.7 581.2h0M116.8 561.9h0M78.1 603.3h0M150.3 536.4h0M128.1 564h0M94.2 575.7h0M181.8 502.4h0M82.6 597h0M67.4 608.3h0M201 488.2h0M139.1 551.7h0M154.5 557.2h0M101.1 572.6h0M101.8 597.5h0M62.7 619.5h0M147.4 544.1h0M136.9 549.4h0M149.6 537.7h0M110.4 573.3h0M133.3 558.6h0M171.1 512.2h0M124.2 588.6h0M73.5 609.2h0M178.8 513.5h0M145.6 541h0M126.8 567.8h0M179.9 512.1h0M90.4 591.2h0M94.4 568.5h0M66.2 618.9h0M74.7 601.5h0M129.6 562.3h0M71.6 627.9h0M152 528.2h0M145.1 543.8h0M89.9 595.8h0M159.8 528.5h0M64.7 602.9h0M174.1 519.3h0M87.8 596.2h0M145.1 549.6h0M94.1 596.2h0M121.6 575h0M141.9 552.6h0M134.2 556.6h0M125 561.2h0M91.1 588.7h0M117.6 571.6h0M101.4 588.6h0M60.7 627.2h0M120.6 556.6h0M102.1 576.4h0M69.1 604.1h0M161.7 534.9h0M163 528.5h0M204.3 492h0M78 593.1h0M147.5 538.5h0M116.8 555.6h0M127.6 555.8h0M161.5 543.8h0M120.6 561.2h0M136.8 554.4h0M172.2 515.6h0M82.1 597.2h0M123.3 575.4h0M141.4 547.4h0M138.4 575.3h0M139 536.1h0M113.3 564.7h0M94.8 578.3h0M181.4 505.4h0M125.7 555.3h0M103.9 597.3h0M136.2 543.9h0M80.5 604.3h0M166.2 518.2h0M132.9 554h0M148.8 545.1h0M123.9 558.1h0M152.8 533.8h0M131.7 559.2h0M95.7 587.8h0M145.2 546.7h0M90.6 605h0M166.4 521.3h0M199.9 499.4h0M90.5 601.7h0M140.1 574.8h0M68.5 608.3h0M156 534h0M113.8 565.8h0M125 552.6h0M170.9 522.6h0M94.1 584.3h0M98 605.1h0M136.7 548.3h0M114.4 563.9h0M159.5 541.8h0M109.2 571.4h0M71.7 625.2h0M68.4 609.1h0M142.7 549.4h0M160.6 521.8h0M160.4 538h0M110.5 571.3h0M131.7 558.8h0M84.9 594.8h0M158.2 534.9h0M134.5 563.3h0M141.5 567.1h0M101.1 586.7h0M70.7 616.8h0M83.2 618.7h0M123.1 568.7h0M155.1 536.3h0M113.3 571h0M92.1 602.7h0M97.5 586.8h0M110.7 576.1h0M118.4 572.7h0M163.3 540.9h0M138.3 546.1h0M128 579.9h0M178.8 515.3h0M92.3 600.5h0M72.3 607.9h0M169.3 527.2h0M134.2 552.8h0M131.1 552.1h0M150.4 543.2h0M113.7 573.1h0M121.6 572.7h0M141.7 550.2h0M110.9 577.5h0M185.5 509.3h0M102.7 580.7h0M77.8 605.1h0" fill="none" stroke="#898b8d" stroke-width="3.1" stroke-linecap="round" opacity="0.5"/>
<path d="M148.9 542.6h0M115.4 580.3h0M133.5 545.1h0M146.9 543.1h0M97.4 587.1h0M118.8 563.4h0M117.8 578.6h0M93 585.3h0M68.7 620.7h0M153.1 531.7h0M131.9 560.9h0M89.8 619.8h0M81.3 609.6h0M70.6 605.4h0M130.2 556.9h0M117.5 561.7h0M77.8 603h0M174.4 507.1h0M141.6 541h0M128.8 565.7h0M73.8 611.1h0M141.2 561.1h0M66.6 615.6h0M77.3 608h0M105.4 569.4h0M80.4 602.8h0M118.4 580.9h0M99.9 576.2h0M70.7 616.8h0M77.7 611.1h0M108.3 586h0M160.5 542.8h0M62.2 615.3h0M132.9 554.6h0M92 601.4h0M84.4 606.2h0M80.6 600.2h0M146.5 540.8h0M121.1 551.8h0M139 566.6h0M59.2 615.9h0M77.3 605.4h0M127.5 558.7h0M166.2 520.9h0M109.4 591h0M146 538.7h0M70.1 605.5h0M194.7 499.2h0M87.2 594.8h0M74.7 618h0M99 574.4h0M85.5 593.5h0M63.2 612.7h0M113.7 577.6h0M128.4 569.1h0M197.3 491.8h0M162.2 530.8h0M139.3 544.6h0M135.4 564.6h0M138 556h0M106.2 574h0M197 494.4h0M147.6 554.1h0M135.2 547.7h0M112.7 580.6h0M69.4 615h0M117.2 580.3h0M147.4 546.1h0M158.1 536.5h0M90.3 592h0M124.6 557.2h0M206.9 484.8h0M146.7 536.2h0M125.8 559h0M88.8 574.9h0M164.4 522.3h0M87.8 594.1h0M138.8 551.7h0M115.1 564.4h0M82.4 615.4h0M66.8 612.7h0M76.3 622.1h0M150.1 551.4h0M141.4 558.4h0M101.4 573.9h0M141.8 545.9h0M73.9 603.2h0M101.2 595.3h0M99.4 596h0M162.5 538h0M96.2 600.8h0M92.5 589.6h0M126.9 559.9h0M100.4 584h0M113 577.9h0M104.7 596.8h0M193.6 500.3h0M100 583.2h0M138.1 555.4h0M73.1 605.5h0M171.2 533h0M143.2 550.9h0M159.7 520.9h0M124.1 570.6h0M179.4 521.4h0M148.5 556h0M157.5 534.6h0M103.4 587.4h0M112.2 577.6h0M118.3 581.2h0M149.7 539.2h0M107.8 567.6h0M181.1 512.7h0M140.3 550.6h0M122.8 564h0M137.8 552.8h0M87.2 593.4h0M116.2 573.1h0M170.8 520.3h0M125.3 550.1h0M140.6 551.8h0M210.4 485.7h0M160.3 542.7h0M73.6 608.5h0M108.4 570.2h0M58.9 615.8h0M147.3 536h0M195.3 490.8h0M117.3 581h0M90.9 600.2h0M123 561.5h0M80.1 601.8h0M101.1 572.9h0M104.8 585.6h0M188.2 508.3h0M56.5 626.7h0M113.2 572.2h0M124 584.6h0M116.3 563.2h0M131.1 560.8h0M78 604h0M154 526.7h0M191.9 506.2h0M153.1 539h0M83.2 585.3h0M97.7 593h0M168 513.5h0M120 586.2h0M82.4 590h0M145.1 540.7h0M116.3 548.8h0M163.5 529.6h0M127.4 565.6h0M74.3 616.4h0M86.5 604h0M74.7 601.4h0M147.8 540.4h0M115.8 582.5h0M181.9 517.5h0M93.2 598.1h0M98.7 587.5h0M146.5 545.5h0M154.7 526.6h0M66.1 631.6h0M126.6 561.7h0M64.7 607.2h0M144 557h0M77.9 615.9h0M176.2 517.5h0M118.4 564.8h0M155.9 551.7h0M115 576.9h0M96.6 592.4h0M69.8 608.1h0M133.5 552.3h0M210.4 482h0M110.2 578.8h0M90.1 593.8h0M196.4 496.4h0M125.6 563.9h0M97.1 603.7h0M183.1 509.6h0M115.4 569.8h0M99.4 583.6h0M161.1 526h0M151.3 537.5h0M173.2 515.6h0M93.3 602.4h0M74.3 599.4h0M108.3 572.1h0M135.7 577.8h0M109.5 579.3h0M166.6 515.7h0M61.4 617h0M132 550.6h0M165.1 536.4h0M66.1 607.4h0M114.6 554.5h0M135.7 552h0M160.4 540.3h0M110.8 584.4h0M151.9 540.3h0M148.5 552.3h0M142.3 560.7h0M82.2 588.5h0M63.5 615.6h0M151.1 542h0M198.1 488.3h0M118.4 570.1h0M68.7 611.9h0M135 555h0M76.2 615h0M91.8 609.4h0M151.3 525.9h0M121.1 592h0M161.4 526.8h0M167.8 528.6h0M119.9 562.1h0M118.5 566.4h0M137.7 553.3h0M174.9 523.6h0M146.2 545.2h0M80.5 602h0M102.7 596.5h0M126 572.8h0M84.3 609.5h0M187.6 502.2h0M186.9 508.9h0M57.6 622h0M71.6 616.1h0M104.5 593.3h0M177.9 513.9h0M94.7 592.4h0M99.3 594.1h0M166.7 541.5h0M116.7 567.8h0M94.3 590.9h0M81.9 601.1h0M80.4 600.2h0M181.1 516.3h0M136.1 549.9h0M91.2 593.7h0M80.3 592.9h0M82.6 601.9h0M73.1 599.2h0M76.4 595.1h0M150.5 532h0M178.2 516.3h0M81.1 592.5h0M151 540.9h0M127.9 557.5h0M80.5 616.2h0M186.6 506.4h0M141.3 551.4h0M132.9 548.9h0M160.1 535.3h0M66.7 617.6h0M137.7 548.8h0M156.6 539.6h0M140.8 550.4h0M157.8 527.9h0M139.3 550.8h0M83.5 608.5h0M108.9 583.5h0M134.4 556h0M142.3 551.3h0M83.3 585.7h0M199.2 494.9h0M130 560.9h0M101.3 579.5h0M131 565.4h0M78.8 610.8h0M140.3 554.8h0M134.1 561h0M98.2 575.2h0M90.1 585.6h0M72 596.3h0M88.6 596.7h0M96.6 590.3h0M182.4 513.3h0M100.4 581.3h0M199 491h0M108.2 581.1h0M82.4 598.6h0M82.5 598.5h0M72 609h0M160.7 522.7h0M95.5 587.7h0M99.6 600.3h0M101.9 576.2h0M102.6 593.8h0M201.5 489.8h0M91.2 596.9h0M144.3 549.5h0M98.8 585.1h0M79.1 596.6h0M129.9 554.6h0M82.6 596.5h0M112.9 600.5h0M134.8 553.3h0M128.6 542.9h0M188.4 511.2h0M81.9 604.4h0M130 566.4h0M146.9 542.6h0M128.6 551h0M102.5 581.5h0M144 554h0M99.3 588h0M84.8 595.7h0M99.5 585.7h0M118.9 584.1h0M68.7 624.3h0M132.3 556.1h0M102.5 580.1h0M134.8 548h0M193.1 513.3h0M143.1 548.5h0M168.8 523.9h0M77 620.5h0M134.1 551.4h0M79.9 596.8h0M141.2 557.9h0M120.6 573.5h0M122.6 556.4h0M68.3 606.5h0M83 602h0M121.4 560.7h0M83.3 600.4h0M70.2 607h0M102.7 586.9h0M149.2 524.8h0M151.7 557.4h0M61.3 617.4h0M102 589.4h0M125 560.9h0M107.5 570h0M169.2 539.5h0M153.1 534.8h0M147.4 536.3h0M120.4 560.8h0M127.4 534.9h0M123.3 563.9h0M158.8 538.9h0M158.7 549h0M85.4 607.1h0M158.7 522.7h0M112 579.8h0M119.9 592.9h0M157.3 531.8h0M154 533.9h0M80.8 598.4h0M167.5 531.1h0M109.2 579.5h0M133.8 550.7h0M149.6 543.1h0M152.1 532h0M168.5 543.1h0M104.6 582.3h0M135.2 559.3h0M110.2 579.5h0M171.7 514.8h0M77.9 613h0M190.6 505.6h0M148.1 540.5h0M152.2 549.3h0M173.3 520.3h0M126.4 543.8h0M64.3 627h0M140 539.3h0M142.4 549.5h0M118.3 561.8h0M140.9 542.9h0M142.2 533.5h0M115.6 564.1h0M138.9 547.1h0M113.8 576.2h0M96.3 575.6h0M165 524.8h0M124.2 568.1h0M173.7 514.1h0M76.6 594.3h0M128 547.6h0M72.1 586.8h0M215.6 479.8h0M151.4 557.7h0M126.9 553.1h0M76.6 612.3h0M97 595.4h0M159.1 544.6h0M144.2 538.3h0M146.2 557.8h0M147.3 553.3h0M68.5 599.7h0M90.4 590.3h0M79.3 591.6h0M117.5 557.9h0M90.2 604.8h0M115.5 570.5h0M99.8 587.3h0M60.7 614.3h0M150 549.6h0M131.7 563.8h0M133.4 561.3h0M141.2 545.3h0M95 588.5h0M184.7 513.2h0M82.1 595.9h0M92.4 607.4h0M161 537.2h0M64.8 623.5h0M163.2 519.6h0M91.1 577h0M61.8 607.6h0M72.9 602.1h0M134.6 566.9h0M72.2 603.1h0M124.9 540.3h0M83.4 603.8h0M125.9 574.4h0M173.7 525.8h0M108.5 608h0M100.9 594.4h0M156 545.6h0M70.8 614.7h0M140.3 551.4h0M145.8 537.8h0M120.2 555.3h0M155.2 538.3h0M134.6 556.9h0M133.5 566.9h0M133.8 553.7h0M114.7 558.1h0M58.3 624.7h0M200.7 496.9h0M108.9 582.7h0M128.7 566.6h0M89.5 595.8h0M87.1 597.4h0M91.6 602.6h0M90.2 612.3h0M76.3 598.2h0M95.6 580.4h0M69 611.4h0M61.7 615.6h0M127.4 579.9h0M174.1 521.4h0M127.3 553.2h0M105.1 574.3h0M204.3 478.8h0M155.1 544.2h0M184.5 512.5h0M124.6 567.6h0M82.5 598.1h0M185.9 505.5h0M120.1 563.8h0M136.3 560.1h0M131.5 554.9h0M148 544.4h0M152 534.8h0M80.2 601.2h0M113 594.1h0M73 607.3h0M94.9 591.5h0M72.4 619h0M175.9 522.8h0M85.8 593h0M109.5 578h0M133.9 560.4h0M71.6 620.6h0M112.8 571.1h0M63 618.4h0M187.7 516.6h0M126 570.1h0M159.1 526.2h0M132.5 548.8h0M124.6 573.1h0M123.7 559.6h0M93.4 589.9h0M62.7 614h0M148.4 542.9h0M108.8 565.3h0M63.6 625.6h0M164.6 531.4h0M131.1 552.9h0M138.6 553.3h0M143.6 564.1h0M106.1 567.3h0M65.1 611.9h0M95.2 592.9h0M85 594.1h0M136.3 543.3h0M129.8 549.7h0M123.9 566.7h0M210.8 478.3h0M129.8 565.9h0M133 567.2h0M101.5 595.3h0M89 590.1h0M166.3 537.1h0M69.9 604.1h0M98.9 575.4h0M197.8 489.8h0M186.8 510.7h0M108.8 584.1h0M58.5 609.9h0M151.2 534.7h0M64.2 601h0M144.1 547.4h0M191.2 513.8h0M128.2 547.7h0M88.9 575.4h0M80.7 606.3h0M123.8 559.6h0M147 556h0M163.7 526.7h0M120.9 567.1h0M162.9 514.1h0M111.7 572.6h0M97.3 591.5h0M127.9 561.7h0M77.2 603.6h0M87.4 595.9h0M94.8 590.9h0M112.6 579.4h0M119 577.5h0M64.8 615.9h0M72.6 609.2h0M160.8 533.9h0M122.6 557.5h0M104.8 593.6h0M101.2 589h0M102.8 592.7h0M126.9 546.8h0M91 602.6h0M76.5 595.3h0M101.2 588.7h0M152.8 536h0M157.7 534.3h0M150.5 542.8h0M107.5 576.3h0M117.9 560.9h0M141.9 552.7h0M75.2 616.5h0M116.9 574h0M102.6 554.4h0M84 595h0M179.4 511.8h0M136.8 565h0M107.9 594.2h0M96.5 589.1h0M132.5 547.6h0M154.2 545.6h0M96.6 585.3h0M120.9 574.1h0M94.8 601.6h0M70.9 595.3h0M86.5 600.3h0M134.3 552h0M155.9 538h0M105.5 579.3h0M110.6 572.3h0M139.8 562h0M87.8 605.4h0M69.1 618.3h0M114.1 576.9h0M96.8 595.8h0M158.6 536.9h0M133.8 559.8h0M97.8 596h0M199 496.2h0M145.5 536h0M66.9 608.8h0M122 570.6h0M138.4 542h0M96.6 580.8h0M132.1 565.7h0M166.3 532.3h0M206.5 485.3h0M146.6 542.4h0M101.7 564.1h0M126.4 571.1h0M92.9 590.4h0M136.5 562.3h0M167.8 528.1h0M86.4 599.6h0M113.4 562.4h0M159.1 541.5h0M108.5 588h0M132.6 555.2h0M93.9 578.2h0M69.8 610.6h0M138.8 559.8h0M135.1 547.6h0M68.3 614h0M95.7 590.6h0M153.7 543.2h0M161.6 531.8h0M158.1 542h0M83.5 604.2h0M159.1 537.7h0M91.6 607.9h0M138.5 552.1h0M126.8 566h0M119.3 577.9h0M168.5 526.1h0M172.2 514.8h0M113.2 568.9h0M167.9 525.7h0M143.4 537.8h0M145.7 561.6h0M70.8 613.9h0M169.5 516.8h0M166.3 513h0M81.2 595.1h0M144 545.5h0M93.6 589.1h0M150.6 545.3h0M64.6 628.2h0M174.1 520.8h0M123.8 554.5h0M111.4 579.2h0M98.4 574.5h0M155.2 529.2h0M206.4 494.1h0M93.1 603.8h0M135.7 554.3h0M114.5 560.2h0M166.5 519.5h0M85.5 601h0M160 529.2h0M119.6 579.8h0M76.1 599.2h0M69.1 612.2h0M111.1 582.3h0M97.5 602.9h0M77.1 588h0M95.6 587.9h0M92.2 587.2h0M70.1 618.7h0M119.1 575.7h0M95.4 594.1h0M86.6 615.4h0M110.6 577.4h0M56 625.7h0M86.3 589.3h0M145.8 547.6h0M126 570.1h0M137.5 547.6h0M97.6 585.1h0M171.8 509.7h0M117.8 581.5h0M125.7 570.9h0M159.3 530h0M142.1 556.6h0M142.2 545.7h0M117.5 577.1h0M133.8 563.1h0M98.2 576.5h0M183.7 512.6h0M143.1 552.2h0M154.3 530.7h0M112.9 578.8h0M82.1 606h0M150.8 540.3h0M147.3 533h0M117.2 556.9h0M107.6 581.3h0M77.8 607.8h0M153.9 539.8h0M61.8 629h0M80.2 612.4h0M121.6 572.4h0M112.1 591.9h0M137.3 559.1h0M101.8 594.6h0M79.1 613.7h0M98.3 581.7h0M163.6 533.4h0M95.4 581.7h0M115.4 566h0M123.8 568.1h0M124.4 581.7h0M115.1 564.3h0M132.6 564.2h0M95.2 589.6h0M149.3 539.5h0M129.3 560.8h0M99.5 586.5h0M103.9 597.8h0M137.8 552.5h0M100.6 575.6h0M167.3 518.8h0M103.2 587.4h0M70 617.2h0M89.5 588.2h0M206.6 486.3h0M132.5 552.8h0M121.7 549.5h0M83.2 600.8h0M126.3 571.6h0M132.1 553.3h0M107.8 586.5h0M132.1 548h0M120.5 566.5h0M125 570.4h0M152.6 545h0M160.5 538.8h0M136.9 551.5h0M158 523.9h0M72.2 611h0M107.7 581.6h0M156.5 533.9h0M108.8 569.9h0M148 541.4h0M116.8 581.9h0M61 616.9h0M159.4 534.4h0M125.5 575.3h0M124.3 540.1h0M113.2 560.4h0M114.2 576.9h0M84.1 599.6h0M163 530.4h0M143.7 550.3h0M113 571.9h0M92.3 608.7h0M78.4 589.2h0M153.8 539.7h0M181.6 510.5h0M188.4 498.8h0M90.9 609.3h0M126 559.3h0M145.7 549.4h0M146.7 530.1h0M126.9 579.7h0M169.9 537h0M140.3 545.7h0M106.2 580.9h0M124.2 576.1h0M77.8 621.5h0M107.7 584h0M99.5 575.5h0M124.1 567.8h0M98.7 589h0M89.1 599.2h0M155.9 542.9h0M97.6 608.3h0M65.9 606.7h0M149.2 540.6h0M81.9 610.9h0M67.7 624.9h0M123.2 562h0M142.7 557.6h0M96.6 592h0M93.5 601.3h0M142.7 540.4h0M144.5 551.7h0M89.8 607.7h0M79.7 602.5h0M158.6 517.8h0M82.8 580.3h0M133.2 550.3h0M139.5 552.3h0M95.6 585.7h0M107.3 568.5h0M138.9 544.4h0M142 545.8h0M63.8 616.5h0M182.5 498.7h0M149.2 529.8h0M83.5 607.4h0M191 498.4h0M97.8 604h0M100.1 588.1h0M148.6 531.7h0M119.2 563.7h0M121.1 568.8h0M100.9 597.7h0M103.3 595.2h0M158.2 531.1h0M79.6 597.8h0M104.2 590h0M147.8 533.5h0M77.6 604.3h0M82.2 596.9h0M124.6 573.4h0M113.8 588.6h0M85.2 604.7h0M127.2 563.6h0M67.1 615.7h0M148.5 531h0M114.4 571.2h0M84.6 584.3h0M140.5 549h0M143 541.6h0M136.6 540.5h0M71.4 614.9h0M166.1 514.8h0M113.8 600.6h0M128 563.9h0M176.1 507.2h0M153.4 560.1h0M71 617.7h0M65.5 607.2h0M102 576.3h0M111.6 586.5h0M124.8 557h0M160.9 536.7h0M78.7 608.5h0M83.1 602.2h0M117.2 581.2h0M172.6 520.8h0M116.6 562.3h0M140.6 550.3h0M180.2 509.7h0M197.4 491.3h0M86.7 587.4h0M137.2 545.9h0M68 625.7h0M100.1 579.3h0M97.4 580.8h0M135.2 557.9h0M77.7 617.1h0M63.1 614.5h0M97.2 585.7h0M92.9 601.8h0M109.9 582h0M179.9 506.6h0M160.1 538.4h0M152.3 549.4h0M159.4 531.3h0M149.4 542.1h0M130.2 573.2h0M79.5 598.1h0M103.4 589.5h0M74.9 604.5h0M99.6 578.6h0M71.6 596h0M141.1 555.9h0M109.4 585.1h0M95.6 591.4h0M63.8 617.7h0M172.3 518h0M101 570.3h0M182.5 504.5h0M71.2 622.6h0M77 613.4h0M168.3 516.8h0M143.8 544.5h0M170 533.6h0M152 548.5h0M148.5 533.1h0M197.5 502.2h0M73.1 614.6h0M117.8 557.3h0M126.4 552.4h0M96.6 579.2h0M117.8 577.1h0M89.9 591.2h0M143.9 544.6h0M106.4 590.1h0M145 537.6h0M152.8 537.5h0M78.5 608.8h0M70 621h0M203.9 488.6h0M91 571.9h0M130.8 566.2h0M72.6 609.7h0M121 596.9h0M74.5 618.9h0M99 590.5h0M96.7 621.6h0M131.8 555.2h0M145.2 558.3h0M117.2 575.6h0M191.8 500.6h0M104.5 596.1h0M69.7 594.9h0M109 585.1h0M130 564.5h0M165.4 528.5h0M121.7 575.8h0M80.1 586.8h0M90.8 596.3h0M67.7 601.8h0M122 569h0M77.9 598h0M98.7 580.2h0M112.3 565.9h0M100.9 561.3h0M124 572.2h0M83.5 607.9h0M66.5 596.9h0M95.8 599.1h0M101.5 563.2h0M135.9 542.8h0M185.3 504.6h0M88.5 609.9h0M99.8 604.5h0M119.9 574.6h0M144.1 529.9h0M152.6 550.3h0M88.5 597.8h0M161 535.4h0M127.6 558.7h0M99.2 581.3h0M179 509.2h0M135.4 557.6h0M125 576.2h0M146.6 532.4h0M182.6 529.4h0M119 573h0M119 579.1h0M168.2 517.9h0M138.2 543.6h0M131.3 554.4h0M66.5 625.5h0M91.2 597h0M106.2 574.2h0M116.2 580.2h0M83.8 604h0M114.5 563.7h0M129.8 556.9h0M97.2 584.6h0M193 498.3h0M149.6 542.1h0M118.1 585.3h0M154.7 529h0M59.9 631.5h0M104.5 570.9h0M99.6 604.4h0M88.6 592.2h0M139.6 546h0M124.6 562.9h0M94.2 594.7h0M145.7 548.5h0M204 482.1h0M138 563h0M155.6 529.1h0M64.5 616.3h0M119.6 566.9h0M86.3 582.9h0M118.3 571.3h0M121.1 567.9h0M104.5 577.4h0M122.3 570.7h0M94.1 584.7h0M102.7 590.5h0M124.6 563.7h0M140.2 540.3h0M164.4 523.4h0M111 583.8h0M124 593.7h0M95.3 593.7h0M146.2 531.6h0M156 532.8h0M93.8 605.8h0M101.2 598.3h0M131.8 551.9h0M176.9 527.9h0M125.2 552.7h0M103.3 576.8h0M93.1 604.4h0M77.7 593.9h0M125.6 564.7h0M67.9 626.2h0M78.4 590.9h0M88.7 589h0M81.4 608.2h0M177.6 516.7h0M78.2 609.4h0M152.7 536.7h0M117.5 569.2h0M70.1 618.1h0M77.6 610.2h0M103.4 590h0M181.8 515.9h0M107.3 573.6h0M158.3 533.6h0M80 602.8h0M97.9 587.4h0M61.3 631.9h0M195.5 495.6h0M148.7 541.3h0M100.2 595.1h0M179.4 507.5h0M158.2 529.3h0M90.4 592.5h0M107 585.6h0M159.1 533.3h0M127.5 555.6h0M97.6 582.3h0M163.5 529.2h0M119.5 565.7h0M96.1 603.7h0M124.8 561.9h0M70.3 612.7h0M85.4 609.5h0M134 558.9h0M65.9 618.3h0M154.1 555.9h0M67.5 615.2h0M113.7 580.6h0M99.1 589.7h0M91.4 583h0M90.5 604.4h0M83.3 593.7h0M113.8 579.6h0M114.9 578.9h0M123.6 572.4h0M147.2 551.8h0M91.4 605.9h0M72.5 617.6h0M81.2 619.3h0M140.5 545.8h0M75.2 614.3h0M87.7 577h0M157.9 524.9h0M135.6 549.8h0M72.1 615.3h0M118.7 564h0M109.3 578.8h0M73.5 615.1h0M114.1 573h0M154.8 553.7h0M122.2 568.7h0M62.4 618.8h0M76.1 608h0M139.1 548h0M193.7 499.7h0M121.1 570.3h0M88.4 613.9h0M134.4 555.5h0M95.8 558.1h0M109.1 573.2h0M149.1 552.1h0M124.1 570.2h0M76.8 609.7h0M73.9 616.8h0M108.8 585.9h0M62.9 620.8h0M96.4 588.7h0M143.9 547h0M117.4 575.7h0M168.6 521.6h0M111.3 558.1h0M202.3 492.9h0M115.7 572.3h0M88.4 588.5h0M124.6 565.3h0M139.6 545.5h0M140.4 544.2h0M106.3 587.5h0M99.2 603.2h0M160.5 532.7h0M78.6 600.9h0M127.7 550.3h0M147 533.4h0M137.7 541.6h0M98.7 602.9h0M126.2 556.1h0M67.5 601.5h0M141.9 545h0M86.2 591.7h0M131 558.8h0M95.4 597.2h0M136.4 548.4h0M113.2 593.5h0M99.1 583.6h0M187.2 501.6h0M102 577.5h0M168.1 525.9h0M180.5 518.7h0M70.9 600.3h0M100.9 572.3h0M143.9 543.9h0M196.9 500.7h0M139 557.5h0M64 622.9h0M161.8 543h0M187.3 502.5h0M92.7 594.1h0M64.5 614.9h0M119.3 552.9h0M129.6 550.3h0M117 565.7h0M74.5 610.3h0M139.2 545.5h0" fill="none" stroke="#898b8d" stroke-width="3.1" stroke-linecap="round" opacity="0.5"/>
<path d="M131.9 570.9h0M79.1 594.3h0M102.3 593.3h0M203.8 493.3h0M65 612.9h0M154 541.1h0M90.3 592.9h0M129.7 553.4h0M130.5 550.5h0M140 544h0M166.8 532.1h0M138.3 550.9h0M83.3 596.1h0M83.7 594.2h0M173 525h0M56.8 621.2h0M125.9 565h0M72.4 616.2h0M116 588h0M100.4 573.7h0M143.5 538.4h0M80.2 596.4h0M169.9 517h0M176.7 522.9h0M63 611.7h0M123.8 553.5h0M95.3 594.6h0M112.6 591.7h0M135.1 556.5h0M108.3 592.8h0M67.8 629h0M144.9 542.1h0M135.5 548.9h0M109 574.6h0M143.9 546.5h0M191.7 511.3h0M95.1 577.4h0M123.1 560.8h0M58 620.3h0M201.2 490.6h0M88.1 591.2h0M160.1 532.6h0M101.5 583.1h0M155.6 531h0M189.4 500.4h0M138.9 543.1h0M175.2 516h0M94.5 600.4h0M83.4 603.1h0M81.4 600.7h0M73.1 607h0M139.6 565.1h0M136.4 560.1h0M108.3 572.2h0M146.5 549.4h0M178 524h0M110.8 590.6h0M175.7 520.4h0M149.3 540.8h0M62 622.5h0M92.3 611.4h0M194.5 494.7h0M141.8 562.9h0M100.5 591.3h0M96.7 576h0M130.5 563.7h0M63.1 618.7h0M62.1 630.7h0M114.2 591.2h0M63.3 610.5h0M165.6 535h0M67.3 616.2h0M115.8 587.5h0M101.5 590.5h0M60.4 610.3h0M172.2 527.6h0M110.6 579.2h0M64.3 624.4h0M164.4 536.4h0M67.6 614.3h0M63.6 620.2h0M164.7 533.8h0M175.5 508.9h0M161.1 523.7h0M167.9 528.3h0M91.8 600h0M119.5 567h0M133.2 552.5h0M184.2 506.4h0M133.9 545.5h0M179.6 516.1h0M138.9 546.5h0M122.4 571.4h0M207.3 487.2h0M95.6 596.4h0M142 558.8h0M103.9 581.7h0M104.6 579h0M130 562.4h0M58.1 623.2h0M155.5 544.4h0M77.4 609.3h0M135.8 568.5h0M186.1 504.8h0M116.4 580.6h0M115.3 573.6h0M165.1 538.8h0M99.3 599.4h0M104 591.1h0M133.8 564.7h0M83.7 600.4h0M105.6 581.8h0M200.7 495.9h0M162.1 526.1h0M156.9 545.9h0M130.2 566.3h0M116.1 574.3h0M184.8 504.9h0M66 620.3h0M146 549h0M119.6 563.7h0M95.5 593.3h0M177.5 526.8h0M94.2 586.5h0M84.4 578.8h0M94 596.6h0M62.6 613.6h0M104.6 584.9h0M96.5 573.4h0M86 598.9h0M158.3 533h0M155.8 517.4h0M97.2 571.8h0M155.4 542.3h0M78.8 612.7h0M68 621.1h0M119.4 584h0M136 564.7h0M118.2 584h0M72.8 618.6h0M141.6 549.5h0M129.3 549.6h0M81.5 593.7h0M113.9 574.7h0M187 505.3h0M134.6 540.5h0M116.2 571.1h0M135.7 561.2h0M91.2 607h0M76.8 592.9h0M114.9 576.1h0M132.5 551h0M104.1 581.8h0M75.5 613.3h0M131.7 570.5h0M151.5 547.3h0M155.2 537.2h0M149.2 540.3h0M67.2 601.1h0M96.2 586.5h0M123.2 557.7h0M138.2 561.4h0M120.3 575.4h0M189.2 504.8h0M136.9 561.2h0M81 599.3h0M127.4 555.7h0M101.9 591.8h0M78.2 616.2h0M127.7 552.7h0M89.4 591.5h0M90.6 580.2h0M174.5 520.1h0M71.7 597.7h0M72.4 597h0M179.8 512.6h0M108.1 554.5h0M97.3 574.9h0M178.6 505.4h0M92.4 595.1h0M103.9 583h0M161.8 539.3h0M57.3 613.5h0M76.1 602.9h0M109 589.4h0M142.4 547h0M115.6 586.4h0M200.2 493.3h0M127.5 565.8h0M168.9 532.8h0M120.1 581.8h0M135.5 558h0M189.5 500.1h0M154.2 539.2h0M55.1 622.6h0M67.6 606.4h0M132.8 558.9h0M139.1 550.3h0M83.7 608.8h0M178.2 515.8h0M120.9 564.7h0M123.3 555.3h0M117.5 569.2h0M167.2 525h0M115.1 572.6h0M133.1 553.9h0M142.1 555.9h0M107.9 577.8h0M118 564.2h0M166.1 540.2h0M113.5 574.8h0M142.6 563.1h0M141.8 542.1h0M92.1 606.3h0M120.2 570.3h0M192 499.2h0M199.3 497.3h0M192 506.5h0M126.8 554.3h0M159.8 529.1h0M85.8 590.6h0M126.4 560.8h0M119.9 557.4h0M100.9 588.8h0M99.4 580.5h0M164 534.5h0M89.2 585.1h0M176 509.3h0M211 483.7h0M109.5 573.8h0M142 567.8h0M122.1 570.2h0M68.9 610.4h0M128.5 576.4h0M189 504.8h0M87.4 594.9h0M80.1 619.3h0M97.2 580.6h0M82 602.6h0M73 607.3h0M107.8 591.8h0M146.3 543.3h0M124.2 552.5h0M156.7 534.4h0M204.4 489.7h0M86.6 597.4h0M164.1 524.1h0M113.2 570.7h0M131.2 561.8h0M113.2 566.1h0M131.8 553h0M100.5 585.5h0M179.1 509.8h0M123.4 572.1h0M80.1 601.5h0M173.8 516.6h0M72.2 615.3h0M131.3 558h0M65.9 626.4h0M114.5 573.4h0M91.6 594.3h0M100.8 584.6h0M77.9 606.5h0M134.8 551.6h0M123.3 577.2h0M69.5 628.1h0M75.4 594.9h0M185.9 514.1h0M143.3 546.1h0M67.6 609.8h0M93.9 595.4h0M81.2 612.8h0M141.7 551.5h0M63.4 617.5h0M116.7 565.1h0M132.6 547.1h0M58.2 609.1h0M116.4 586.3h0M70.9 616.4h0M74.7 605.7h0M122 568.4h0M83 609.7h0M147.8 534.9h0M159.8 534.1h0M76.4 627.5h0M160.4 538.7h0M101.2 597.2h0M104.9 566.4h0M145.8 556.8h0M179.5 517.8h0M99.3 586.6h0M70.6 602.1h0M85.7 600.3h0M160.2 530.6h0M205.8 488.8h0M85.2 599.2h0M79.5 592.2h0M63.3 610.6h0M104.8 587.1h0M71.8 617.4h0M154.2 545h0M78.4 604.5h0M92.3 593.1h0M176.4 510.4h0M112.7 580h0M63.8 616.6h0M127 575.3h0M89.1 575.5h0M166.9 526.8h0M191.7 493.9h0M131.5 550.2h0M84.7 615.4h0M80.9 621.6h0M146.5 553.3h0M156.2 537.8h0M119.2 561.4h0M121.2 572h0M75.8 608.4h0M149.8 547.6h0M102.1 578.4h0M65 616.5h0M90.8 610.6h0M82.9 591.3h0M137.4 542.7h0M61 623.6h0M141.4 556.5h0M146.8 542.1h0M112.4 581.4h0M119.6 586.6h0M87.7 618.5h0M83.5 594.3h0M154.1 534.6h0M97.3 584.1h0M191.2 495.8h0M117 562.1h0M60.2 611.1h0M110.7 566.4h0M151.2 533.7h0M156.3 530.8h0M59.7 608.8h0M148.8 533.9h0M91 587.1h0M89.5 601.8h0M171.8 529.8h0M77.7 596.4h0M131.1 573.2h0M173.9 517.7h0M134 558.6h0M164 525.8h0M78.9 606.9h0M105.8 585.8h0M105.8 588.4h0M202.3 500.6h0M68.4 611.1h0M60 627.2h0M114 569.2h0M159 532.3h0M67 602.1h0M105.3 585.4h0M104.2 579.8h0M91.6 605.5h0M116.3 568.8h0M150.6 531.8h0M110 568.8h0M65.4 620.1h0M83.3 599h0M110 590.7h0M149.5 544.9h0M99.1 593.8h0M106.3 589.5h0M128.8 551.8h0M63.3 625.1h0M86.7 613.7h0M116.5 569.2h0M124.3 548.8h0M112.1 578.9h0M132.7 549.4h0M154.1 542.4h0M142.6 548.8h0M128.7 568h0M185.3 509.3h0M178.4 522.5h0M174.8 529.7h0M125.1 552.7h0M61.5 618.5h0M115 567.8h0M138.6 544.3h0M114.2 569.6h0M78.7 615.4h0M201.6 492.2h0M174.7 515.2h0M128.6 561.3h0M128.6 568.3h0M156.6 538.5h0M106.6 582.9h0M93.3 596.6h0M61.5 622.7h0M90.3 603.1h0M112.1 584.9h0M127.7 563.4h0M111.6 568.5h0M139.3 561.6h0M69.1 610.3h0M96.8 599.4h0M94.7 592.4h0M95 595.7h0M123.1 571.4h0M125.2 556.5h0M139.4 557.5h0M160.1 525.2h0M104.8 571.8h0M83.8 612.6h0M60.9 612.5h0M117.1 576.1h0M141.4 544.5h0M105.7 570.1h0M132 548.8h0M132.7 560.4h0M111.8 565.4h0M104.2 591.9h0M136.4 572.4h0M100 598.8h0M166.4 532.1h0M86.1 615.8h0M89.6 604.1h0M137.1 548.8h0M103.9 571h0M81.2 603.5h0M143.4 535.8h0M96.2 583.1h0M149.9 531h0M151.6 555.5h0M110.3 566.2h0M171.2 519.3h0M147.5 557.9h0M136.2 564.1h0M196.7 498.1h0M179.3 510.4h0M99.4 593.4h0M154.4 534.4h0M123.6 564.6h0M101.4 594.8h0M98.9 578.5h0M75.4 607.5h0M93.7 595.8h0M170.2 510.8h0M134 561.3h0M193 494.2h0M83.8 608.6h0M148.7 534.6h0M208.2 497.9h0M97.9 574.6h0M143.1 539.4h0M143.2 556.5h0M135.2 544.3h0M148.9 537.2h0M116.2 567.5h0M168.1 522.2h0M126.8 563.3h0M62.7 630.1h0M60.2 617.4h0M91.9 591.9h0M129.7 567.1h0M153.9 540.3h0M88.4 594.6h0M110.1 587.8h0M127.5 561.9h0M137.5 550.8h0M97.3 606.4h0M95.1 586.4h0M103.3 575.9h0M79.1 610.4h0M86.2 587.7h0M122.7 579.7h0M69.2 604.9h0M125.9 584h0M66.2 604.6h0M143.5 554h0M92.1 584.4h0M147 555.1h0M116.2 580.4h0M147 544.9h0M156.3 532.8h0M159.4 526.4h0M58.3 617.5h0M108.8 585h0M208.1 486.7h0M130.8 562.1h0M104.2 586.9h0M145.4 543h0M172.2 521.2h0M132.3 557.4h0M111.9 563.4h0M129.2 556.7h0M88.6 617.3h0M79.6 601.2h0M83 583.5h0M80 612.9h0M145.2 556.2h0M64.2 620.9h0M161.9 532h0M105.3 571.4h0M121.8 546.2h0M82.8 604.7h0M94.8 581.9h0M153.8 544.5h0M110 605.6h0M134.6 557.4h0M101.3 571.2h0M120.6 563.9h0M159.2 528.5h0M74.1 603.4h0M81.7 616.3h0M141.4 556.8h0M64.6 613.6h0M99.7 586.1h0M97.2 587.7h0M140.2 547.8h0M111.6 574.6h0M170.4 517.4h0M93.7 592.6h0M74.9 615h0M86.6 599.7h0M124.7 563.7h0M111.2 569.7h0M62.3 605.5h0M93 587.4h0M145.8 541.6h0M168.6 532.7h0M67.1 627.4h0M160.3 528.5h0M89.6 588h0M132.5 559.5h0M89.1 587.2h0M93.7 590.2h0M92 584.5h0M159 528.4h0M132.6 553.9h0M82.5 601.2h0M116.9 564.2h0M148.9 545.8h0M121.1 559.8h0M114.1 585h0M73.4 625.5h0M108.6 591.6h0M130.1 552h0M125.2 564.3h0M109.3 575h0M121.8 569.1h0M100.2 591.1h0M119.2 567h0M161.5 528h0M109.2 589.9h0M109.7 577.4h0M90.5 581.5h0M106.4 572.9h0M98 598.6h0M120.4 574.3h0M91.1 594.8h0M172 515h0M178.6 510h0M98.1 573.6h0M93.7 599.4h0M108.9 597.1h0M161.9 521h0M81.8 599.7h0M70.7 610h0M117.9 589.8h0M118.4 564.1h0M107.4 570.4h0M60.4 615.2h0M123.3 576.1h0M85.1 606.6h0M92.4 588.1h0M105.9 576.6h0M143.4 538.9h0M93.2 583.3h0M83.9 607.5h0M110.9 593.8h0M108.9 582.9h0M121.3 561.8h0M108 593.6h0M151.2 553.4h0M116.5 565.7h0M93 600.2h0M67 603.9h0M174.8 527.1h0M84.3 579.5h0M185.2 510.9h0M138.9 538.6h0M94.6 587.6h0M110.2 582.4h0M144.9 570.1h0M109.3 566.1h0M89.3 598.6h0M140 549.8h0M104.4 574.7h0M128.8 558.7h0M145.9 548h0M94.5 595.1h0M112.5 578.5h0M160.6 536.9h0M80.4 602.4h0M81.1 606h0M123.6 560h0M148.8 542.2h0M134.2 538.4h0M89.3 593.9h0M98.6 580.9h0M158.1 533.4h0M82.7 593h0M98.8 595.2h0M74.2 615.9h0M127.4 574h0M184.1 510.1h0M130.4 565.3h0M94 585.5h0M82.8 593.5h0M65.7 627.7h0M169.5 537.5h0M109 582.9h0M84.3 601.1h0M78.4 613.6h0M117.6 583.3h0M199.8 491.4h0M95.2 601.2h0M154.8 537.3h0M120.5 584.1h0M96.8 582.5h0M136.3 548.1h0M109.4 586.1h0M91.7 601.8h0M171 519.4h0M155.5 526.1h0M121.8 567.6h0M130.1 548.1h0M133.2 587.3h0M64.3 604.4h0M75 604.2h0M118.2 568h0M99.6 581.9h0M94 590.6h0M65.3 606.8h0M136.8 548.5h0M71.5 632h0M158 537.6h0M97.2 577h0M186.8 499.5h0M99.9 584.5h0M156.7 540.6h0M73.8 595.7h0M81.1 605.9h0M118.6 586.5h0M89.3 605h0M70.2 611.3h0M75.3 617.2h0M104.6 585.9h0M98.7 587.9h0M130.5 571.6h0M83.3 595.2h0M112.1 564h0M97.7 602.5h0M93.9 595.3h0M73.4 626.2h0M77.8 612.9h0M138.9 539.9h0M68.6 624.6h0M78.9 595.9h0M74.7 612.8h0M105.2 604h0M189 501.6h0M123.9 563.5h0M140.7 563.2h0M130.2 564.1h0M90.8 599h0M101.1 598.1h0M107.2 579.4h0M173.5 521.1h0M70.1 601.1h0M129.6 552.7h0M166.1 518.8h0M128.6 558.5h0M120.6 544.6h0M105.4 582.5h0M82.3 606.4h0M155.3 535.4h0M108.5 584.6h0M120.4 561.9h0M182.6 507h0M74.1 614.3h0M90 582.3h0M116.1 558.1h0M87.4 601h0M105.9 589.3h0M115.9 582.6h0M135.1 548.2h0M138.5 551.7h0M180.7 512.3h0M105.9 592.9h0M88.1 592.3h0M171.6 516h0M127.2 565.7h0M93.3 596.3h0M89 588.8h0M71.1 623.8h0M83 610.4h0M87.6 592.6h0M75.9 615.4h0M110 571.6h0M164.5 531.5h0M139.9 551.1h0M139.6 541.7h0M162.8 519.9h0M95 594.2h0M83.2 616.2h0M68 603.5h0M207.7 491h0M108.6 577.9h0M116.9 572.8h0M102.1 591.5h0M138.7 549.6h0M147.8 544.8h0M157.4 534.8h0M135.6 564.4h0M76.4 602.2h0M71.2 625.2h0M67.8 599.1h0M136.7 562.1h0M107.9 570.8h0M211.2 479.4h0M75.8 597.5h0M69.2 613.7h0M61.3 611.1h0M97.2 588.9h0M119.7 580h0M129 554.2h0M141.4 545h0M82.8 592.6h0M154.2 543.3h0M79.5 601.4h0M184.2 514.8h0M108.3 564.2h0M118.8 571.9h0M72.3 617h0M83.6 605h0M162.3 536.3h0M93 586.9h0M158.7 518.3h0M63.1 618.1h0M75.3 607.5h0M140.9 540.3h0M187.2 507.2h0M88.8 604.1h0M78.9 590.1h0M189.2 499.9h0M130 575h0M127.3 552.8h0M78.9 611.9h0M125.6 576.3h0M149.2 545.9h0M117.7 580.9h0M167.8 528.7h0M172.7 533.8h0M113.4 570.2h0M141 557.4h0M69.8 607.6h0M70 622.4h0M126.3 565.7h0M164.4 526.8h0M118.6 576.1h0M139.3 532.2h0M107.4 579.2h0M130.9 540.5h0M133.6 567.6h0M64.6 627.7h0M182.8 513.5h0M160.1 531h0M169.7 524h0M183.6 517.4h0M167.2 521.6h0M98.8 588.6h0M95.7 588.5h0M83.7 612.7h0M66.9 616.4h0M96.5 586.1h0M90.9 598.8h0M129.6 547.7h0M103.9 582.5h0M167.5 536.4h0M115.1 593h0M97.2 593.2h0M127.6 560.3h0M165.1 531.8h0M61.3 618.4h0M138.6 556.9h0M96.1 582.2h0M67.3 612.5h0M131 561.4h0M153.1 537.5h0M113.1 573.9h0M133.1 547.2h0M101.8 572.7h0M62.3 616.8h0M105 583.5h0M130.6 556.8h0M146 562.7h0M145.4 551.7h0M179.4 519.1h0M84.5 601.4h0M107.3 569.7h0M163.1 530.8h0M133.2 571.6h0M144.4 554.8h0M170.2 515h0M173.7 518.5h0M144.5 543.5h0M79.8 610.4h0M98.3 597.6h0M145.9 546.6h0M121.2 549.8h0M67.4 610.8h0M143.5 531.1h0M91.9 584.5h0M154.1 539.6h0M190.9 502.8h0M69.2 606.6h0M130.4 547.1h0M79.3 611.6h0M97.8 603.1h0M158 530.3h0M101.6 572.7h0M94.1 595.4h0M145.1 552.1h0M105.4 571.3h0M198.4 504.8h0M123.4 567.4h0M199.5 491.4h0M106.8 607.3h0M75 610.2h0M158.4 523.3h0M88.4 584h0M126.3 560.7h0M160 527.8h0M118.8 570.9h0M175 517h0M95.6 577.8h0M139.4 551.4h0M125.9 565.1h0M136 562.1h0M120.7 580.7h0M157.5 526h0M101.7 577h0M60.1 624.3h0M74.5 588.2h0M167.2 522.5h0M161.1 549.6h0M105.9 597.8h0M96.4 608.7h0M89.8 598.1h0M117.7 581.7h0M147.1 531.2h0M136.5 558.5h0M80.9 610.7h0M180.1 508.7h0M69.5 614.9h0M126.3 568.1h0M99.3 601.1h0M116.4 577h0M124.6 547.3h0M69.3 603.1h0M80.4 615.8h0M59.3 611.3h0M106.8 575.1h0M201.2 498.2h0M147.6 547.8h0M108 587.5h0M174.2 526.4h0M131.8 558.7h0M151.4 549.9h0M96.2 593.4h0M140.7 544.6h0M102.9 589.2h0M204.8 489.3h0M79.7 605h0M167.8 528.1h0M172 530.7h0M110.3 575.9h0M106.2 578.2h0M184.4 498.6h0M75.6 625.6h0M80.8 612.8h0M192.8 506h0M122.2 557.8h0M151.6 536.5h0M111.2 578.5h0M148.1 544.6h0M122.5 576.2h0M146.2 531.4h0M121.4 560.6h0M65.5 619.7h0M142.1 557.7h0M71.1 605.1h0M164.9 527.6h0M106.2 572.5h0M79.5 611.1h0M111.4 574.5h0M132.5 559.5h0M99.4 593h0M86.3 606.7h0M104 582.5h0M62.5 628.7h0M105.2 585.8h0M122.5 584.1h0M152.7 539h0M62.2 609.9h0M152.2 530.8h0M131.6 535.9h0M100.4 569.6h0M144.8 551.3h0M206.2 486.2h0M62 603.2h0M119.7 562.1h0M114.4 577.4h0M63.3 620.7h0M126.4 580.3h0M152.7 533.4h0M125.1 576.4h0M76.1 621.9h0M112 590.8h0M58.3 618.3h0M186.5 509.9h0M146.7 558.9h0M113.1 578.7h0M107.4 585.4h0M107.4 575.1h0M120.6 583.7h0M99.3 605.8h0M142.1 551.7h0M96.3 605.9h0M116 562.3h0M79.3 615.7h0M162.1 524.2h0M155.6 538.8h0M102.9 592.3h0M145.1 541.2h0M165.7 533.6h0M134.6 564.6h0M145.1 545.2h0M174.7 522.7h0M103.2 602h0M71.1 604.7h0M168.6 539.9h0M134.6 560h0M91.6 593.8h0M151.2 546.3h0M147.5 542.8h0M103.3 581.3h0M126.2 561.8h0M198.8 499.7h0M137 551.1h0M104.2 579.1h0M95 561.3h0M154.8 535.1h0M134.8 550.8h0M131 555.7h0M78.2 604.3h0M91.7 581.5h0M163.1 535h0M71.2 617.8h0M148.6 537.1h0M163.1 525h0M76.5 628.4h0M91.4 590h0M175.2 524.7h0M126.5 543.4h0M127.2 567h0M130 561.9h0M141.1 560.2h0M156.8 531.9h0M106.7 583.6h0M141.3 550.7h0M106.5 567.8h0M113.5 558.6h0M112.6 575.7h0M92.3 593.3h0M162.7 526h0M82.3 614.2h0M96.8 585h0M205.6 482.3h0M111.6 560.5h0M104.4 584.1h0M104.3 588.3h0M68.7 613.6h0M169 530h0M61.3 628.7h0M142.7 555.6h0M154 526.1h0M161.2 530.4h0M157.4 516.4h0M143 543.1h0M88.1 591.9h0M164.8 530.5h0M69.9 617.8h0M152.3 556.8h0M115.2 596.7h0M114.6 566.1h0M57.6 618h0M186.3 508.3h0M133.3 556.8h0M121.9 593.5h0M109.4 577.2h0M116.3 558.2h0M151.2 537.5h0M99.4 578.6h0M95.8 600h0M65.3 602.4h0M134 546.9h0M146.7 546.4h0M74.4 607.4h0M94.6 600.2h0M89.2 603.5h0M86.1 600.2h0M110 578.1h0M111.1 575.8h0M62.2 604.1h0M128.5 565h0M117 571.8h0M75.7 609.5h0M159.1 526.2h0M93.1 603.5h0M120.3 551.8h0M172.3 522.8h0M128.7 562.1h0M109.7 573.1h0M99.8 586.2h0M196.7 498.7h0M79.6 609.3h0M98.2 591.5h0M171 534.7h0M148.4 548.4h0M99.1 582.2h0M58.1 611.9h0M197.4 486.6h0M105.8 577.9h0M135.1 553.9h0M113.6 567.7h0M94.6 592.2h0M124.3 569.3h0M136.7 558.5h0M64.6 625.8h0M148 550.9h0M74.7 608.1h0M126.1 565.2h0M106.4 587.1h0M204 490.9h0M84.2 605h0M131.1 550.9h0M130.3 570.3h0M56.7 622.5h0M106 597.1h0M92.1 595.9h0M117.1 556.9h0M102.5 570h0M106.4 571.6h0M96.3 594.7h0M98.5 560.6h0M171.4 516.7h0M120.1 561.1h0M89.8 580.6h0M143.4 537.2h0M111.8 574h0M87.7 583h0M132.7 544.6h0M120.8 565.5h0M211.3 486.5h0M58.3 615.8h0M68.6 625.9h0M75.3 608.4h0M192.6 494.7h0M122.2 581.3h0M84.3 611.6h0M134.6 564.8h0M160.6 532h0M181.3 513.1h0M166.8 523.3h0M93.7 575.9h0M98.6 599.8h0M105.5 567.9h0M62 630.1h0M147.6 540.7h0" fill="none" stroke="#898b8d" stroke-width="3.1" stroke-linecap="round" opacity="0.5"/>
<path d="M122.6 567.1h0M117 562.2h0M84.8 590.4h0M90.3 597.9h0M165.4 526.6h0M140.4 547.7h0M112.5 586.1h0M86.6 607.3h0M67 615.1h0M77.6 610.3h0M86.7 592.7h0M56.7 618.2h0M96.6 574.1h0M157.8 545.3h0M125.9 563.9h0M124.8 571.3h0M176.1 522h0M81.1 599.7h0M112.9 579.1h0M114.8 563.3h0M187.9 500.6h0M161.8 534.3h0M75.9 609.3h0M140.7 537.4h0M69.4 607.5h0M163.8 524.7h0M73.3 613.4h0M81.9 606.2h0M100.2 592.2h0M163.4 523.2h0M154.4 558h0M95.6 580.4h0M86.3 590.4h0M101.1 594.4h0M184.4 504.4h0M113.6 593h0M164.6 533.8h0M69 625.4h0M134.7 553.8h0M109.7 591.3h0M85 594h0M121.8 581h0M148.5 546.9h0M146.5 521.3h0M113 569.6h0M138 557.1h0M79.7 597.1h0M159.8 528.7h0M105.6 569.7h0M99.5 570.4h0M163 527.1h0M169.9 516.1h0M125.7 554.6h0M147.7 540.4h0M67 618.3h0M172 534.5h0M86.8 601.2h0M94 589.5h0M117.5 562.8h0M129.4 561.4h0M156.1 518.7h0M159.8 543.5h0M70.3 619.4h0M95.6 598.9h0M138.9 556.5h0M88.6 582.3h0M193.1 503.1h0M139.9 542.1h0M152.6 540.5h0M104.1 593.4h0M153.6 539.7h0M141.9 551h0M113 568.1h0M71.6 600.8h0M74.3 620.4h0M83.3 611.3h0M159.6 537.3h0M86.4 604.7h0M131.5 556.6h0M102 592.6h0M83 590.5h0M181.1 506.8h0M107.5 575h0M85.7 596.7h0M104.4 578.5h0M126 569.4h0M131.5 566.5h0M172.6 530.1h0M79.4 600h0M91.4 585.8h0M79 614.7h0M131.2 580.6h0M187.6 510.8h0M180.6 511.1h0M164.7 532.8h0M84.3 602.4h0M205.6 488.5h0M176 503.6h0M88.3 606.1h0M180.2 515.6h0M96.8 575.6h0M120.7 578.7h0M127 546.3h0M132.8 560.9h0M76.8 609.7h0M143.7 556.2h0M121 571.1h0M88 589.6h0M103.2 591h0M106.8 581.5h0M122.2 572.1h0M123.6 574.2h0M173.5 516.5h0M139.1 560.6h0M82.5 604.6h0M67.4 609.5h0M150.4 547.1h0M67.1 630.5h0M91.8 595.2h0M128.4 546.4h0M143.6 547.3h0M78.2 602.5h0M85.1 596.7h0M185.2 517.2h0M106 594.1h0M159.7 531.1h0M84.7 589.7h0M157.1 529.3h0M163.1 522.5h0M115.9 576.8h0M98.3 580.5h0M112 573.1h0M97.7 600.4h0M109.9 573.7h0M139.7 555.3h0M145.1 549.2h0M119.3 554.2h0M126.7 567.1h0M123.3 564.6h0M143.6 536.5h0M174 535.1h0M93 590.5h0M118 548.5h0M128.8 557h0M112 577.3h0M99.5 588.1h0M150.8 538.4h0M97.9 588.8h0M163.7 544h0M104.4 554h0M89.3 598.8h0M75.6 595.7h0M150 531h0M149.4 548.6h0M84.1 612.9h0M142.5 547h0M129.2 544.4h0M119 557.8h0M138 549.4h0M144.7 542.3h0M132.8 563.4h0M90.6 571.4h0M146.8 547.3h0M104 593.8h0M85.1 593.3h0M150.3 535.5h0M116.9 574.8h0M63.8 609.7h0M67 625h0M109.3 563.9h0M157.8 531h0M128.9 560.5h0M89.5 601.2h0M107.5 592.3h0M132.6 548.5h0M67.6 600.9h0M71.6 617.5h0M149.7 550.1h0M199.9 501.8h0M123.5 566.3h0M152.7 536.9h0M75.4 605.3h0M101.1 578.9h0M182.4 518.7h0M133.2 540.3h0M153.8 536.1h0M93.7 580.8h0M176.5 525.8h0M112.2 567.7h0M177.4 524.8h0M120.9 571.2h0M125.1 567.7h0M124.9 559.7h0M89.5 583.1h0M99.2 586.1h0M92.8 585.1h0M122 591.7h0M156.5 530.5h0M163.7 531.1h0M156.9 541.4h0M138 556.8h0M97.8 585h0M116.5 558.4h0M162.3 532.4h0M114.1 550.8h0M174.7 517.4h0M116.8 574.1h0M60 626.7h0M78.6 615.7h0M114.3 579.7h0M101.5 584.4h0M83.4 598h0M198.5 504.1h0M70.6 612.6h0M134.7 557h0M94 583h0M95.5 589h0M145.5 537.6h0M88.5 587.1h0M82.9 601.9h0M72.5 609.3h0M145 548.4h0M76.7 598.6h0M181.8 509.6h0M182 507.3h0M69.7 611.7h0M87 602.4h0M92 584.8h0M159.7 520.7h0M134.3 555.6h0M56.3 616.4h0M137.5 550.3h0M140.6 541.6h0M112.4 559.6h0M165.6 523.1h0M99.6 604.8h0M116.2 582h0M190.1 501.5h0M159.2 529.3h0M145.8 545.8h0M141.5 554.3h0M106.5 575h0M130.3 551.9h0M71.6 620.4h0M134.6 539.5h0M131.7 559.5h0M60.4 619.9h0M59.4 627.7h0M130.4 548.4h0M93.6 592.7h0M123.7 547.4h0M186.6 511.1h0M130.8 574.8h0M137.3 553.1h0M165.6 519.8h0M118.7 580.6h0M179.5 513.3h0M103.9 584.2h0M92.6 612.6h0M72.6 604.3h0M111.8 571.7h0M104.8 580.3h0M155.9 530.4h0M83.9 604.5h0M129.5 554.9h0M124.3 565.6h0M89.3 587.1h0M125.8 557.9h0M137.5 553.3h0M127 565.6h0M164 533.2h0M78.2 617.6h0M74.3 600.1h0M167.5 543.6h0M142.8 542.1h0M64.7 621.8h0M122 555.3h0M172.2 518.9h0M123.4 558.6h0M64.7 618h0M174.4 514.7h0M132.2 565.7h0M119.2 553.7h0M68.9 611.6h0M135.3 548.8h0M55.6 625.3h0M124.9 541.7h0M102 573.4h0M72.7 626.4h0M88.2 611.3h0M100 586.7h0M77 607.9h0M181 506h0M139.3 555.9h0M140.4 541.6h0M162.2 538.2h0M143.8 549.2h0M138.5 548.2h0M104.9 579.8h0M193.4 502.8h0M86.4 594.6h0M93.3 609.7h0M177.8 520.2h0M134.3 561.5h0M149.2 548.1h0M156.7 532.5h0M95.5 583h0M108.8 583.5h0M59.8 618.1h0M146.9 541.9h0M138.5 552.9h0M75.4 591.2h0M64.5 601.2h0M123.9 580h0M83.8 585.2h0M131.3 551h0M145.7 559.1h0M66.7 598.6h0M104.3 589.3h0M102.6 578.2h0M97.4 601.9h0M105.4 578.4h0M101.9 577.8h0M125.6 568.8h0M140.9 562.6h0M91 599.1h0M58.8 617.1h0M115.7 574.1h0M82.6 594.6h0M109.8 568.5h0M93.6 566.3h0M113.4 579.6h0M145.9 546.8h0M109.3 569.6h0M107.1 579.8h0M90.7 597.8h0M145.5 557.1h0M103.8 592.1h0M165.8 532.4h0M151.8 530.2h0M67 602.9h0M199.7 488h0M65.1 621.9h0M147.7 543.9h0M124.6 565.6h0M137.8 560.2h0M98.9 589.7h0M108.7 576.4h0M68.2 609.7h0M81.6 615.7h0M127.4 560.1h0M59.6 627.6h0M147.2 543.5h0M89.5 581.5h0M111.6 575.7h0M119.6 576.2h0M117.2 570.2h0M76.5 604.8h0M86.1 599.5h0M141.4 544.7h0M72.3 601.3h0M119.9 571.3h0M119.8 557.6h0M148.2 551.7h0M91.4 593.8h0M97.8 587.5h0M100.1 595.1h0M168.5 528h0M185.5 518.5h0M61.4 623.1h0M125 551h0M149.9 528.4h0M67.2 602.1h0M164.5 523.5h0M117.7 563.4h0M194.2 493.9h0M171.1 518.8h0M90.5 594.7h0M111.7 566.9h0M129.2 546.6h0M101.1 582h0M142.6 545.2h0M64 618.4h0M179.5 514.6h0M148.3 569.2h0M123.6 567.4h0M57.1 619.5h0M129.5 551.6h0M93.6 617.2h0M114.3 589.7h0M63.6 611.7h0M87.4 583.5h0M110.1 568.2h0M136 548h0M110.6 572.4h0M106 569.7h0M205.2 489.3h0M119.4 571.1h0M73.8 621.4h0M175.8 517.9h0M79.5 589h0M80.1 598.3h0M108.2 577.1h0M99.5 593.6h0M148.7 550.6h0M106.9 596.6h0M132.5 576.3h0M123.1 549.3h0M118.7 579.3h0M140.9 551.2h0M165.4 526.9h0M71.9 619.3h0M115.6 568.4h0M115.2 576h0M89.7 611.9h0M124.6 572.7h0M135.7 548.2h0M125.5 557.9h0M141.4 547.6h0M62.7 619.9h0M73.9 613.5h0M132.4 546.6h0M116.8 588.5h0M138.2 569.4h0M117.2 559.8h0M140.1 539.8h0M78.1 600.8h0M64.6 612.1h0M135.1 548.8h0M95.8 592.8h0M74.2 622.2h0M79.9 623.1h0M85.9 586.8h0M90.5 601.3h0M108.1 565.9h0M103.3 598.6h0M133.8 555.5h0M71 618.7h0M106.4 563.9h0M135.8 556.4h0M164.7 520.5h0M138.3 542.7h0M72.9 609.4h0M125.8 549.9h0M166.3 534.7h0M82.8 600.7h0M90.7 584.7h0M189.5 503.5h0M182.9 506.4h0M90.7 596.3h0M182.7 516.6h0M171.8 511.4h0M89.7 590.6h0M77.3 596.7h0M70.2 613.9h0M65.8 632h0M107.6 576.2h0M71.6 602.3h0M145.5 538.2h0M143.9 554h0M211.8 477.2h0M131 546.2h0M146.9 536.2h0M148.6 547.6h0M72.2 631.7h0M67.6 609.8h0M68 626.3h0M73.5 618.9h0M115.5 582.1h0M159.8 534.6h0M82.7 608.6h0M83.7 596.2h0M155.6 544.5h0M141 546.8h0M108.1 575.7h0M79.6 578.6h0M160.7 533.6h0M180.6 514.4h0M88 595.5h0M78.1 604.3h0M71.2 614h0M143.7 537.5h0M146.9 531.9h0M79 605.2h0M157.7 559.3h0M70.4 597.5h0M81.9 626h0M103.7 561.1h0M99.7 596.2h0M89.5 611.3h0M131.5 563.4h0M81.2 602.2h0M136.6 555.4h0M128.3 555.2h0M129.5 545.3h0M171.9 527.7h0M127 568.4h0M132.4 557.8h0M128.8 554.5h0M65.5 604.8h0M160.7 528.3h0M102.3 590.3h0M84.6 593.6h0M121.2 562.8h0M112.6 571.3h0M185 504.9h0M82.5 595.4h0M71.5 612.7h0M97.9 598h0M147.1 540.5h0M168.8 524.6h0M109.6 581.5h0M105.2 579.3h0M76.3 605.9h0M75.1 604.1h0M90.1 601.6h0M157.4 539.6h0M114.8 573.5h0M110.2 592.2h0M149.5 534.2h0M104.8 582.3h0M130.2 554.5h0M74.5 614.4h0M124.3 582.1h0M111.4 575.8h0M60.2 617.8h0M95 583.1h0M148.4 552.2h0M85.5 593.3h0M180.6 508.2h0M78.7 607.5h0M97.2 570.3h0M102.9 579.3h0M167.8 528.7h0M113.9 564.2h0M144.4 555h0M98 580.8h0M132.9 545.6h0M84.4 592h0M99.4 589.6h0M105.8 607.2h0M111.3 579.9h0M73.4 605.3h0M106.2 582.7h0M110.3 578.9h0M134 566.1h0M68.3 609.1h0M116.3 566.8h0M111.2 598.2h0M141.9 549.3h0M80.8 595.6h0M80.8 613.2h0M114.9 578.4h0M137.9 547.7h0M78.2 612.2h0M112.1 580.2h0M133.6 570.5h0M140.5 544.4h0M95.2 598.2h0M199.7 491.4h0M108.9 587h0M187.2 509.5h0M107.8 575.6h0M79.5 597.2h0M154.7 533.2h0M161 534h0M102.9 576.6h0M80.8 592.8h0M204.2 488.3h0M105.9 576.6h0M104.9 567.1h0M78.1 603.7h0M144.8 547.2h0M108.4 585.4h0M112.9 573.1h0M179.2 500.4h0M60.1 623.6h0M171.6 527.6h0M112.8 590.6h0M148.7 543.7h0M197.4 494.4h0M129.7 569.8h0M92.7 594.6h0M206.1 486.8h0M86.8 604.5h0M106.3 587.4h0M177.3 514.4h0M80.2 605.1h0M173.9 537.1h0M109.3 570.5h0M180.7 522.2h0M174.5 527.9h0M130.6 544.6h0M107 591.9h0M148.2 539.1h0M89 591h0M97.6 575h0M69.8 603.1h0M120.1 572h0M143.4 549h0M195.3 505.2h0M81.2 595.9h0M89.5 593.2h0M117.5 580.4h0M65.1 613.2h0M137.6 563.8h0M78.3 609.4h0M176.4 519.8h0M134.7 539.3h0M102.2 575.8h0M140.2 554.6h0M113.5 576.2h0M79.1 610.8h0M164.2 540.9h0M143.6 548.6h0M56.3 616.6h0M111.9 583.1h0M146.9 537.3h0M138.4 554.8h0M182.8 507.3h0M85.1 594.2h0M137.7 544.1h0M92.4 604.3h0M160.9 524.9h0M79.3 593.4h0M72 598.3h0M97.5 585h0M113.5 559.6h0M176.2 509.5h0M139.6 554h0M165.2 539.2h0M140.6 559.5h0M127 561.4h0M130.7 566.4h0M124.3 567.3h0M108.1 562.6h0M96.3 588.7h0M81.1 603.5h0M124.5 559.8h0M65.4 616.3h0M111.5 581.5h0M114.6 568.9h0M142.5 553.5h0M122.7 554.7h0M146.6 552.7h0M117.2 578.4h0M91.1 590.1h0M179.2 508.8h0M130.5 550.3h0M98.9 584.5h0M106.8 585.1h0M97.3 583.4h0M120.7 589.2h0M65.3 618.8h0M116.8 568h0M150.1 555.4h0M137.6 555.7h0M136.7 565h0M108.4 587.7h0M75.9 608.8h0M173.4 521.2h0M87.2 613.7h0M191.1 506.9h0M81.4 601.5h0M130.3 573.9h0M156.8 534.7h0M104.3 606.8h0M148 545.1h0M137.6 552.8h0M153.1 550.6h0M108.5 574.2h0M160.9 535.1h0M70.1 621.2h0M130.8 558h0M61.9 616.4h0M91.4 584.3h0M173.4 527.8h0M82.5 622.9h0M68.7 606.9h0M147.7 542.6h0M109.4 571.1h0M144.4 540.1h0M82.6 614.4h0M183.3 514.9h0M182.3 515h0M120.6 565.1h0M199.9 482.7h0M137.9 571.6h0M151 548.1h0M116.7 574.4h0M198.6 504.3h0M109.9 562.7h0M121 572.5h0M141.8 546.9h0M117 578h0M102.4 570.3h0M74.9 626.2h0M152.9 554.4h0M76.8 599.3h0M112 577.7h0M121.2 568.6h0M70 615.6h0M139 535.7h0M67.7 602.6h0M154.3 546.7h0M129.6 552.2h0M98 592h0M102.1 595.6h0M109.9 569.5h0M133.4 568.8h0M113.7 566.2h0M132.8 561.6h0M153.5 535.7h0M87.4 586.5h0M129.2 554.5h0M103.7 588.1h0M195.3 509.3h0M65.8 615.3h0M103.5 590.6h0M105.2 594.3h0M110.6 578.5h0M110.9 580.5h0M87 599.7h0M106.5 586h0M112.4 594.8h0M129.6 580.1h0M127 553.6h0M197.6 498.7h0M91.9 573h0M112.7 599.1h0M136.4 549.9h0M140.5 539.7h0M148.4 534.9h0M92 585.3h0M76.2 601.2h0M128.1 561.8h0M91.4 593.8h0M120.9 582.2h0M152.5 533.9h0M192.8 500.9h0M127 574.3h0M85.5 591h0M161.8 529.2h0M85.2 604.1h0M79.7 591.2h0M148.2 529.6h0M158.3 538.6h0M78.3 605.5h0M138.8 551.7h0M180.9 506.6h0M174.4 520.4h0M121.4 576.8h0M133.2 562.5h0M136 553.5h0M123.8 572.7h0M121.9 566.8h0M125.1 567.3h0M99.1 597.3h0M144.2 541.4h0M134.7 566.7h0M106.2 584.4h0M67.3 618.2h0M84.4 603.8h0M85.5 589.1h0M159.2 522.7h0M113.9 581h0M59.9 615.9h0M111.2 575.4h0M108.5 587.7h0M147.6 539.5h0M131.5 561.4h0M108.2 591.4h0M96.9 595h0M117.2 570.7h0M77.4 596.1h0M85.2 602.8h0M158.4 538.6h0M174.7 513.8h0M99.4 594h0M183.4 514h0M163.9 534.4h0M78.9 582.6h0M166.5 533.9h0M144.6 546.2h0M93.6 585.9h0M71.6 623.2h0M135.6 547.5h0M81.3 608.2h0M69.8 619.4h0M71.1 619.1h0M106 586.9h0M136.7 571.3h0M104 597.9h0M72.4 610.1h0M122.3 576.7h0M143.5 550.4h0M71.4 621.5h0M135.9 553.1h0M126.4 593.9h0M65.4 607.1h0M175.2 517h0M75.6 620.6h0M136.9 550.2h0M89.9 604.5h0M79 601.5h0M92.9 598.1h0M73.5 620.5h0M85.7 610h0M76.6 613.1h0M141.8 553.2h0M160.6 529.8h0M129.6 566.7h0M99.6 599.7h0M99.4 587.1h0M152.3 526.9h0M161.7 531.9h0M96 597.8h0M154 545.9h0M93.1 586.1h0M100.6 586h0M92.8 594.5h0M90.9 588.4h0M127.6 546.4h0M72.2 603.2h0M105.3 594h0M127.2 559.6h0M130.5 571.7h0M111.8 575.2h0M121.6 569.2h0M73 602.4h0M119 554h0M109 556.7h0M148.6 531.8h0M73.8 605.4h0M105.1 579.2h0M65.1 608.6h0M110.4 587.9h0M101.2 585.3h0M87.2 583.9h0M121.1 572.1h0M124.5 547.8h0M100 580.7h0M147.9 537.7h0M84.7 597.4h0M90.9 612h0M66.9 618.9h0M97.1 582h0M93.6 586.5h0M147.6 539h0M201.7 485.7h0M71.3 597.1h0M146 542.3h0M135.7 555.2h0M58.9 622.2h0M74.2 603.6h0M152.8 555.6h0M168.6 526.7h0M94 590.4h0M109.7 583.9h0M106.8 587.5h0M129.7 550.4h0M117.9 557.1h0M139.6 552.1h0M108.2 577h0M130.1 575h0M69 597.1h0M119.7 557.4h0M98.9 596.7h0M77 612.8h0M109 576.4h0M126.7 562h0M189.6 506.7h0M91.3 599h0M66.9 608.6h0M154.8 536.5h0M85.5 601.5h0M134.6 558.3h0M61.4 622.1h0M115 592h0M94.7 586.5h0M72 613.9h0M103.8 568.7h0M157 536h0M81.3 597.3h0M162.3 531h0M114.6 576.2h0M137.9 545.5h0M81.8 610.8h0M65.2 603.8h0M88.5 603.8h0M136.3 543h0M103.7 598h0M104.4 600h0M145.8 541.7h0M127.6 566h0M182.1 521.1h0M189 517h0M149.2 532.7h0M140.1 546h0M171 516.9h0M93.6 576.9h0M105.8 573.9h0M100 589.2h0M113.5 586.4h0M162.8 532.6h0M125.2 574.9h0M152.4 539.6h0M126.1 551.7h0M151.4 540.7h0M170.5 517.4h0M107.2 580.2h0M161.2 538h0M134.7 540h0M110.5 585.9h0M89.2 611.3h0M154.2 544.4h0M62.8 617.6h0M109.9 585.6h0M74.2 613.9h0M85.7 616.7h0M168.7 530.8h0M93.8 587.7h0M79.7 604.7h0M122.8 568.5h0M184.6 510.7h0M106.1 575.8h0M101.7 584.2h0M64.5 618.8h0M157.6 534.6h0M61.8 629.9h0M161.5 529.3h0M149.9 537.8h0M88.8 593.7h0M100.4 578.8h0M129.3 589.6h0M92.5 593.8h0M169.9 531.7h0M94.4 596.8h0M85.7 584h0M77.1 572.2h0M115.1 561.1h0M96.8 596.5h0M104.3 576.9h0M113.7 572.9h0M154.4 529.4h0M152.8 534.1h0M179.3 512.8h0M177.1 516.8h0M99.4 594.5h0M152.5 539h0M85.9 589.3h0M78.8 605h0M129.9 567.7h0M144.9 548.3h0M112.5 570.3h0M125 556.6h0M87.9 611.9h0M89 580h0M140 564.8h0M165.5 523h0M62.1 622.1h0M210.5 486.1h0M100.8 582.9h0M127.9 548.2h0M155.6 534.7h0M109.2 589h0M174 523.4h0M61.9 620.5h0M96.4 600.3h0M92.3 581.3h0M159.6 535.3h0M159.7 540.6h0M78 599.1h0M111.2 577.5h0M143.6 558.7h0M55.5 623.8h0M68.9 623.8h0M123.1 580.4h0M109.2 582.4h0M93.7 597.5h0M139.4 536.7h0M56 623.8h0M139 555.5h0M88.7 599h0M150.6 543h0M152.3 547.6h0M127.4 553.5h0M130.4 549.4h0M157.8 526.4h0M85.4 585.6h0M111 574.5h0M109.6 576.2h0M139.6 553.5h0M103.7 584.8h0M161.7 534.7h0M125.5 552.2h0M119.6 562.6h0M155.7 548.3h0M128.6 562h0M135.6 544.9h0M128.1 564.5h0M156.8 542h0M83.8 606.9h0M177.3 513.2h0M76.7 595.2h0M142.9 552.7h0M71.5 622.1h0M60.9 617.2h0M95.8 589.9h0M130.8 557.1h0M193.3 496.9h0M109.5 575.3h0M124.4 564.5h0M107.1 576.5h0M90.9 586.8h0M181.6 515.6h0M76.2 603.5h0M113.1 584.6h0M148.3 546.3h0M154.7 540.2h0M90 595.4h0M124.4 572.7h0M146.3 541h0M129.4 566.3h0M84.1 626.7h0M126.8 572.9h0M76.4 609.7h0M127.3 571.5h0M71.3 610.4h0M73.7 606.9h0M115.2 576.3h0M93.8 582.5h0M111.8 558.6h0M92.3 607.5h0M100.5 590.3h0M110 574h0M176.4 513.6h0M98.5 579.1h0M127.1 552.4h0M125.6 563.1h0M107.4 599.1h0M123 575.8h0M86.9 604.2h0M137.5 551.3h0M95.8 595.6h0M120 573.6h0M95.1 604.8h0M77 592.1h0M87.3 609.4h0M90.4 590.9h0M79.8 590.9h0M96.5 576.7h0M65.3 629h0M100.4 587.5h0M93.1 589.4h0M75.2 594.9h0M79.1 617.7h0M105.6 583.5h0M130.4 570.6h0M149.3 561.4h0M147 541.4h0M128.7 576.8h0M178.9 506.3h0M179.5 521.2h0M87.5 592.9h0M127.4 568.2h0M82.6 593.8h0M79.8 602h0M71.4 612.2h0M161.5 524.3h0M106 568.2h0M138 549h0M176.3 520.2h0M95.5 593.3h0M191.8 499h0M135.7 548.3h0M71.5 594.5h0M170.6 519.8h0M95.1 592.5h0M127.7 561.8h0M173 511.1h0M117.7 580h0M135.4 560.3h0M104.3 574.2h0M78.9 596.5h0M148.2 531.9h0M110.5 575.7h0M67 622.1h0M83.6 593.7h0M118.5 581.1h0" fill="none" stroke="#898b8d" stroke-width="3.1" stroke-linecap="round" opacity="0.5"/>
<path d="M135.9 564.3h0M161.6 534.7h0M103.7 590.6h0M137.2 553.9h0M79.7 588.8h0M105.5 581.6h0M70.7 616.9h0M61.3 617.2h0M91.9 616.8h0M79.7 588.2h0M93.1 589.4h0M123.3 565.6h0M137 552.3h0M128.5 560.2h0M140.1 551.9h0M93.7 574.8h0M121.5 563.7h0M124.5 559h0M114.7 575.3h0M81.1 609.6h0M122.2 567.3h0M78.1 614.5h0M117.8 586.3h0M96.4 589.3h0M65.2 627.8h0M56.2 619h0M115.3 578.3h0M123.8 556h0M112.5 565.7h0M120.5 572.6h0M100.6 594.5h0M172.3 518.1h0M102.9 583.8h0M168.1 531.2h0M107.7 582.5h0M155.9 540.3h0M195.3 500.1h0M108.1 594.5h0M72.1 613.4h0M91.2 593.7h0M74.5 621.5h0M62 626.5h0M142 545.3h0M174.3 520.8h0M159.3 520.1h0M134.6 540.2h0M147.4 546.7h0M105.8 571.3h0M180.9 516.8h0M152.4 539.9h0M63.1 629h0M130.1 565.7h0M87.7 605.8h0M119.2 567.1h0M163.5 552.9h0M111.4 576.8h0M212.7 478.5h0M88.8 599.9h0M89.1 601.5h0M85.3 608.3h0M74.6 609.3h0M77.5 617.1h0M67.6 629.9h0M78.9 609.8h0M100.2 576.7h0M158.4 537.7h0M82.9 602.9h0M119.3 565.4h0M148.2 548.9h0M109.3 573.4h0M68.8 609.3h0M131.2 550.5h0M153 544.7h0M168 530.6h0M108.7 574.2h0M173.9 522h0M123.6 547.6h0M73 629.5h0M138.8 557.4h0M64.2 627.8h0M109.9 559.6h0M141.8 544.1h0M148.7 536.7h0M142.4 544.1h0M83 598.6h0M145.2 539.5h0M127.2 553.4h0M127.4 543h0M125.4 562.5h0M150.5 548.8h0M115.4 574.7h0M134.5 576h0M80.2 612.9h0M66.1 617.4h0M140.9 565h0M68.6 610.5h0M71.6 617.7h0M100.1 603.9h0M125.3 575.9h0M88.5 606.7h0M133 573.6h0M120.7 565.8h0M159.6 536.2h0M102.4 562.9h0M171.4 521.7h0M111.6 591.7h0M105.2 577.2h0M128.7 563.9h0M101.3 594.4h0M190.3 498.1h0M76.6 590.7h0M106.8 587.1h0M130.5 557h0M109 560.8h0M160.6 537.2h0M141.1 562.7h0M165.3 533.1h0M105 580h0M97.2 575h0M89.8 594.9h0M145.9 538.1h0M136.7 557.9h0M164.7 518.6h0M155.9 544.8h0M87.4 591.6h0M130.7 558.2h0M191.1 505.1h0M85.1 607.2h0M106.4 586.5h0M112.3 602.5h0M93.9 583.7h0M126.2 555.4h0M102.1 591.4h0M93.1 581.4h0M95.9 593.9h0M77 616.3h0M184.4 506.5h0M91.6 600.5h0M167.2 515.1h0M194.9 503.9h0M172.2 523.2h0M166.6 521.2h0M169.8 518.5h0M106.3 565.2h0M175.4 520.5h0M85.8 618.9h0M185.4 510.1h0M133.3 565.5h0M76.4 607.2h0M201.2 493.7h0M105 581.3h0M163.6 526.4h0M74 611.7h0M100.7 575.7h0M91.2 598.5h0M168.1 529.8h0M150 546.1h0M71.4 600.5h0M192.1 491.8h0M123.4 565.9h0M129.8 576.4h0M133.9 558.9h0M161.2 542.2h0M66.7 609.9h0M100.4 597.8h0M81 589.5h0M106.3 581.8h0M127.8 560.7h0M176.3 517.5h0M197 497.7h0M129.1 560.3h0M122.2 557h0M105.1 589.4h0M81.2 613.9h0M69.6 603.9h0M79.1 603.8h0M155.7 549.3h0M124.1 560.7h0M118.6 584h0M96.4 590.9h0M121.4 568.5h0M110.7 572.9h0M73.9 612.2h0M211.9 483h0M159.1 525.1h0M105.2 584h0M134.1 544.5h0M177.1 500.5h0M80.6 587.5h0M141.5 549h0M112.1 567.1h0M142.9 554.8h0M112.7 572.4h0M136.4 565.3h0M190.1 498.5h0M81 612.5h0M92.5 591.6h0M94.3 579.7h0M130.2 563.1h0M132 561.3h0M87.4 603.5h0M137.6 570h0M73.9 606.2h0M101.3 590.6h0M179.6 520.3h0M66.1 610.4h0M174.5 528.5h0M114.7 573.1h0M106.9 564.1h0M109.7 569.7h0M79.3 598h0M125.5 559.8h0M141.4 539.5h0M88.1 593.5h0M108.6 579.9h0M79.8 597.5h0M120.8 577.4h0M158.3 545.3h0M79.4 624h0M107.3 567.3h0M99.5 576.7h0M133.8 557.2h0M59 631h0M91.1 583.4h0M57.3 620.8h0M171.1 522.2h0M102.3 572h0M88.9 601.2h0M84.5 609.6h0M110 582.6h0M115.9 571.8h0M93 592.4h0M65.4 614.3h0M68.3 605.7h0M160.1 535.7h0M112.6 583.3h0M151.7 542h0M128.6 564.1h0M146.9 547h0M152.8 538.9h0M160.9 535.3h0M168.7 532.8h0M125.9 550.4h0M160.9 541.5h0M104.7 594.5h0M176 505.2h0M125.9 557.7h0M113.7 586.4h0M182.6 508.6h0M124.4 567.6h0M156.8 534h0M121.6 564.3h0M178.9 512.8h0M134.7 571h0M77.3 609.6h0M131.9 572.7h0M111.7 574.2h0M139 553.2h0M73.3 608.5h0M58.3 624.4h0M211.5 479.9h0M203.5 498.4h0M136.9 545.1h0M121.2 575.8h0M105.5 563.8h0M100.6 593.7h0M118.3 567.2h0M88 616.3h0M201.1 495h0M126 555.9h0M99.2 577.1h0M133.5 553.2h0M106.1 573.9h0M175.5 518.1h0M98.4 579.5h0M114.3 577.9h0M165.8 520h0M73.6 604.6h0M104.7 579.9h0M79.7 609.9h0M148.8 549h0M150.8 536.3h0M126.2 555h0M134.2 549.3h0M106.9 582.8h0M115.4 575.4h0M147.8 541.8h0M135.6 555.9h0M167.2 531.3h0M96.2 575.6h0M80.1 601.9h0M58.2 616.1h0M78.8 600.6h0M130.5 554.5h0M73.7 600.2h0M126 549h0M83.8 600.7h0M116.5 571.8h0M143.7 541.8h0M80.2 599.6h0M114.9 573.7h0M141.4 564.4h0M79.3 605h0M113.7 579.8h0M160.8 536h0M162.6 537.6h0M92.8 598.2h0M64.9 611.5h0M97.3 591h0M145.6 563.4h0M164.7 528.5h0M97.7 588.1h0M124.2 569.2h0M165.3 529.8h0M91.8 581.8h0M116.9 585.9h0M117.2 560.3h0M154.8 536.6h0M70.5 602.6h0M87.8 590.2h0M111.5 586.8h0M133.6 564.7h0M170.5 520.7h0M76.9 606.8h0M65.9 614.5h0M77.2 604h0M91.4 601.2h0M164.5 522.2h0M93.4 609.8h0M109.2 583.6h0M126.1 575.9h0M103.4 592.3h0M90.7 600.9h0M157.7 528.6h0M56.3 618.7h0M138.6 550.4h0M64.8 625.7h0M99.1 578.7h0M161 528.7h0M155.8 528.4h0M178.7 537.8h0M193 494.5h0M92 596.8h0M177 524.2h0M153.3 540h0M144.3 551.6h0M148.9 553.8h0M128.6 573.9h0M160.5 541.9h0M80.4 610h0M139.3 547.4h0M146.3 547.2h0M85.7 586.6h0M154.8 536.3h0M100.2 593.8h0M127.8 572.6h0M140.3 566.8h0M111.8 569.4h0M102.9 584.4h0M81.8 604.3h0M70.5 615.7h0M153.4 544.8h0M128.2 560.8h0M68.2 616.7h0M69.3 594.2h0M120.7 567.4h0M136.7 540.2h0M141.6 552.8h0M174.5 515h0M140.1 558.7h0M129.3 544.2h0M176.8 516h0M82 593.4h0M121.6 568.2h0M86.8 593.8h0M150.7 525.2h0M93 573.2h0M80.3 620.2h0M150.1 534.5h0M66.9 610.1h0M154.3 547.4h0M137.8 569.7h0M163.4 535h0M126.6 563.8h0M159 548.2h0M159.1 527.9h0M134.7 546.3h0M108.8 581h0M65.8 606.8h0M89.8 609.3h0M192.2 507.3h0M122.4 577.3h0M174.7 511.4h0M75.3 609.2h0M132.5 572.5h0M194.9 493.9h0M166.7 519.3h0M113.8 581.1h0M100.5 570h0M122.3 568.6h0M185 504.5h0M129.1 550.8h0M146.7 552.8h0M166.5 536.9h0M140.3 542.6h0M103.3 589.3h0M98.7 586.4h0M124.6 577h0M116.6 584.3h0M103.1 568.2h0M176.5 516.4h0M67 609.3h0M93.4 587.3h0M75.3 607.6h0M136.3 551.2h0M168 535h0M71.7 618.5h0M89.5 589.6h0M131.1 554.4h0M175.7 505.6h0M133.3 545.7h0M170.7 524.8h0M108 568.2h0M185.9 514h0M101.7 577.5h0M112.9 582.9h0M80.4 596.5h0M184.7 507.5h0M136.2 556.4h0M107.9 571.7h0M179.4 511.4h0M92.1 587.1h0M59.6 619.7h0M118.4 568.9h0M82.4 606.3h0M129.5 562.5h0M85.9 602.1h0M97.5 595.6h0M130.6 566.7h0M92.6 603h0M63.7 598.1h0M107.3 572.7h0M132.1 551.5h0M122.1 562.5h0M95.6 598.9h0M188.6 508.2h0M107.7 573.7h0M91.4 569.9h0M78.3 608.1h0M140.5 539.3h0M150.8 543.8h0M99.2 589.4h0M182.6 515.7h0M162.5 534.7h0M112.2 567.3h0M61.2 613.3h0M102.4 585.1h0M60.4 617.8h0M133.7 553.2h0M106.8 594.2h0M112.8 580.6h0M125.4 578.1h0M73.1 618.8h0M120 573.8h0M80.2 583h0M129.3 563.2h0M111.7 590.5h0M151.5 552.7h0M170.7 532.2h0M131.3 561.1h0M141.9 549.7h0M131.8 564.8h0M113.5 568.1h0M68.2 612.2h0M157.9 531.9h0M101.9 596.5h0M153 548.7h0M71.1 629.1h0M84.9 594.8h0M143.8 555.3h0M86.9 597.1h0M203.6 488.9h0M147.4 539.7h0M104.1 577.6h0M188.3 507.4h0M83.8 594.7h0M145.1 549h0M92.3 608.1h0M70.3 617.5h0M127 565.4h0M115.5 556.7h0M113.3 594h0M183.3 511.1h0M130.9 564.4h0M206.5 486.3h0M192 506.4h0M136.2 556.7h0M148 536.3h0M130.7 547.8h0M137.3 539.2h0M118.2 570h0M59 624.9h0M151.5 541h0M129.2 572.6h0M119.2 557.8h0M74.3 617.7h0M89.9 587.2h0M157.9 533.3h0M131.3 560.3h0M159.5 536.2h0M83.9 590h0M70 614h0M164.7 524.8h0M163 524.3h0M97.7 605h0M94.2 583.3h0M122.8 571.5h0M135.8 563.8h0M112.2 585.6h0M215.8 480.3h0M67.9 617.6h0M80.9 613.8h0M179.7 518.4h0M80.6 617.3h0M176.8 511.8h0M63.5 626h0M118.6 566.3h0M172.6 521h0M117.3 578h0M141.9 545.5h0M86.7 602.4h0M78 610.3h0M134.7 546.8h0M181.2 508.8h0M132.1 564.3h0M154.9 547.3h0M133.4 559.6h0M117.8 593h0M115 591.7h0M128.4 573.4h0M112.6 563.7h0M162 532.1h0M86.8 598.4h0M111.5 574h0M127.6 547.5h0M99.1 593h0M148.1 547.6h0M146.8 543.2h0M124 568.6h0M126.5 558.2h0M124.6 562.4h0M133.2 575.4h0M157.6 542.5h0M87.4 593.1h0M91.6 586h0M101.8 601.6h0M93.1 589.3h0M161.5 540.8h0M95.3 595h0M84.7 596.5h0M74.5 607.2h0M137.8 552h0M128 572.1h0M138.6 549.8h0M62.1 624.3h0M173.1 516.4h0M96.7 584.4h0M159.7 534.7h0M84.2 587.8h0M86 599h0M116.2 578.1h0M161.4 530.1h0M83.8 590.4h0M119.9 569.3h0M128.2 566.4h0M134.6 566.2h0M127.4 560h0M149.4 542.1h0M82.9 602h0M104 587.1h0M154.4 536.5h0M158.9 536.3h0M148.4 536.6h0M99.1 584.8h0M132.4 559h0M180.7 511.7h0M145.9 538.8h0M78.2 601.8h0M134.1 548.2h0M87.7 601.2h0M192.8 501.8h0M157.7 519.2h0M60.2 621.5h0M102.6 586.6h0M117.9 573.2h0M84.7 599.2h0M61.7 617.2h0M86.3 600.8h0M166.2 534.5h0M143 549.7h0M84.2 601.7h0M133.7 565.6h0M108 565.5h0M120.5 572.7h0M90.6 579.4h0M145.2 526.8h0M81.8 592.2h0M151.6 540.7h0M66.1 612.5h0M127.4 561.7h0M164.4 529.9h0M93.4 592.5h0M150.1 531.6h0M109.1 588h0M79.8 607.7h0M155.2 543h0M129.7 573.4h0M100.7 606.6h0M137.4 557.8h0M102.9 582.7h0M131.9 556.2h0M106.5 577.7h0M84.5 606.6h0M187.4 508.4h0M137.3 550.8h0M154 531.7h0M178.7 521.1h0M79.1 620.6h0M73.7 599.5h0M62.9 611.4h0M139.5 546.3h0M104.7 584.1h0M153.7 537.3h0M117.1 582.6h0M93.9 592.3h0M162.3 542h0M115.3 571h0M126.8 565.1h0M117.8 576.8h0M191.7 494.1h0M89.1 609.1h0M146.9 546.1h0M155.3 544h0M127.6 587.2h0M83.4 597.8h0M80.1 608.8h0M109.2 573.2h0M168.2 512.2h0M150.4 531h0M163.2 534.2h0M106.9 581.4h0M133.1 551h0M73.9 625.6h0M141.8 551.7h0M127.6 564.2h0M129.9 554.2h0M180.9 499h0M124.1 568.5h0M140.7 554.4h0M91.3 608.9h0M118.7 573.6h0M140.1 549.2h0M61.8 612.4h0M185.6 505.9h0M92.7 596.6h0M62 618.2h0M152.1 549.7h0M179.3 507.7h0M191.8 498.5h0M104.1 590.6h0M93 603.9h0M143.1 572.4h0M96.2 596.1h0M105.6 564.2h0M88.9 603.9h0M66.5 622.4h0M80.6 610.7h0M83.4 595.1h0M112.4 581.1h0M91.3 589.2h0M99.3 587h0M80.9 608.7h0M152.5 542.7h0M94.3 591h0M103.1 595.7h0M103 591.3h0M167.7 531.8h0M93.2 608h0M184.6 505.7h0M70.8 628.2h0M110.2 574h0M60.3 625.2h0M107.3 569.6h0M162.7 536.8h0M74 616.2h0M76.5 589.6h0M99.9 588.7h0M127.4 555.9h0M84.1 587.7h0M125 564.2h0M75.4 618.2h0M144.6 526.3h0M126.8 561.2h0M64.7 620.1h0M89.8 586.7h0M112.4 601.7h0M124.8 543.3h0M162.4 528.2h0M144.8 552.7h0M59.6 615.6h0M121.6 589.1h0M141.5 546.4h0M86.1 607h0M136.8 579.1h0M56.2 619.2h0M133.3 561.6h0M94.9 588.3h0M141.9 541.9h0M108.1 592.3h0M117.4 572.5h0M71.3 592.8h0M111.3 561.8h0M106.4 604.1h0M119 561.9h0M144.3 539.3h0M131.4 558.9h0M74.3 601.9h0M126.2 561.4h0M98.1 576.3h0M123 569.6h0M159.3 517.5h0M160.6 525.7h0M165.3 541.4h0M101.1 589h0M113.2 575.5h0M107.8 579.1h0M127.9 562.4h0M97.4 594.9h0M135.7 551.3h0M186.1 517.1h0M166.5 532.4h0M169.9 523.4h0M73.4 618.5h0M97.6 583.8h0M123.7 542.9h0M154.9 536.4h0M158.9 528.3h0M107.3 568.5h0M94.6 575.2h0M78.9 610.7h0M111.1 595.6h0M158.4 526.8h0M188.3 501.9h0M160 542.3h0M99.5 595.4h0M168.8 524h0M152.3 533.7h0M134.6 558.4h0M64 629.3h0M98.1 571.8h0M192.7 498.2h0M89.2 597.7h0M122.2 576.2h0M113.1 579.2h0M190.6 496.5h0M63.2 620.5h0M142.7 543.5h0M142 571.6h0M182.8 522.5h0M91.8 605.5h0M121.6 560.6h0M110.6 577.8h0M90.3 606.4h0M115.1 558.7h0M113.4 588.4h0M120.9 559.1h0M58.4 616.9h0M101.6 577.8h0M123.3 573.8h0M96.6 596.8h0M77.1 605.9h0M137.9 543.9h0M92.4 603.8h0M150.5 530.8h0M63.3 623.7h0M126.8 554.5h0M140.1 560.2h0M140 562.1h0M63.8 614.6h0M82.2 597.6h0M163.9 522.8h0M127.5 545.2h0M136.9 553.5h0M90.9 622.8h0M131.1 567.3h0M82.9 594.3h0M111.3 577.4h0M151.9 553.1h0M136.4 566.9h0M117.2 580.9h0M109.7 585.5h0M105.7 599.3h0M97.2 578.3h0M85 584.2h0M92.1 585h0M127.5 561.4h0M137.8 555.9h0M113 572.7h0M175 516.3h0M130.4 557.4h0M85.9 618.4h0M75.5 608.3h0M92 604.4h0M111.8 578.9h0M158.2 538.7h0M148 544.7h0M83.8 587.4h0M73.2 594.2h0M192 499.9h0M206.5 485.9h0M112.2 584.7h0M64.3 626.9h0M63.1 628.3h0M115.4 582.2h0M162.4 542.5h0M152.8 554.8h0M157.4 537.9h0M71.2 605h0M111.4 566.2h0M142.7 544.5h0M149 532.7h0M108.6 583.7h0M90.7 596.5h0M138.5 543h0M164.4 518.2h0M123 575.1h0M142.1 548.7h0M133.9 555h0M155.7 540.5h0M130.7 566.4h0M68.6 615.5h0M130.2 558h0M63.7 619.4h0M116 563.4h0M66.7 609.8h0M103.2 586h0M174.4 507.5h0M70.8 613.7h0M144.9 537.6h0M136.9 548.8h0M139.5 547.3h0M115.5 568.1h0M123.4 560.1h0M154.5 533.6h0M77.1 620h0M92.1 601.6h0M103 572.6h0M124.7 557.1h0M136.7 546.2h0M75.2 615.4h0M122.7 576.8h0M149.4 523.7h0M174.4 532.8h0M109.1 573.7h0M67.8 618h0M66.1 613.3h0M84.7 592.1h0M94 591.8h0M156.5 532.3h0M92.7 583.4h0M60 615.7h0M184.4 499.7h0M104.5 568.4h0M104.8 586.9h0M127.9 554.3h0M98.2 613.4h0M97.3 599.1h0M150.3 536.1h0M106.4 571.1h0M96.8 601.2h0M92.7 611.6h0M125.4 570.8h0M113.7 560.2h0M184.2 509h0M66.7 609.1h0M130.6 552.9h0M108 583h0M134.3 541.6h0M136.8 561.9h0M130.8 556.3h0M153.7 537.3h0M191.1 504.8h0M64.1 625h0M72.1 602.7h0M106.6 576.5h0M83.4 601h0M80.6 600.3h0M140.3 548.8h0M175.6 510h0M159.4 532.5h0M94.7 590.5h0M104.1 586.6h0M102.2 585.6h0M107 582.3h0M194.6 491.1h0M65.1 624.3h0M87.4 596.1h0M125 567.5h0M214.9 479.2h0M87 590.7h0M109.3 584.3h0M90.4 593.5h0M87 594.4h0M109 581h0M96.4 577.9h0M170.8 522.1h0M155.1 534.9h0M122.6 557.7h0M120.8 556.9h0M89.4 588.1h0M87.5 600.3h0M158.6 523.5h0M117.9 582.9h0M95.6 583h0M144.1 555.6h0M85.9 592.4h0M62 605.4h0M99.7 592.9h0M113.8 572.5h0M154.6 546.7h0M156 534.1h0M62.2 618.5h0M63.1 628.1h0M112 564.4h0M62.6 617.8h0M127.1 573h0M130.5 557.4h0M71.3 614.8h0M121.7 560.9h0M125.9 559.7h0M61.5 623.7h0M94.4 591.6h0M158.9 532.7h0M146.3 547.5h0M98.1 576.6h0M180.6 512.3h0M93.9 591.8h0M132.5 563.5h0M173 508.1h0M71.7 609.6h0M144.4 537.4h0M127.2 575.7h0M106.4 586.4h0M132.5 576.2h0M63.5 625.4h0M63.1 605.8h0M181.8 508.2h0M160.2 528.3h0M118 577.9h0M90.6 593.2h0M111 584.1h0M74 611.7h0M112.6 580.3h0M106.5 594.4h0M147.5 554.2h0M68.9 595h0M92.1 578.5h0M156.4 536.4h0M66.4 615.8h0M72.7 619.8h0M134.2 571.5h0M62.8 614.9h0M123.6 571.4h0M185.7 509.1h0M101.7 574.1h0M103.2 581.1h0M64.4 613.8h0M83.4 608.7h0M138.7 553.5h0M74.6 606.5h0M181 520.8h0M103.7 567.5h0M82.2 604.3h0M111.9 571.8h0M99.1 585.4h0M99.6 587.1h0M126.4 558.6h0M90.4 587.2h0M107.4 582.9h0M61.3 623.6h0M63.3 623.8h0M102.9 578.9h0M105.2 581.4h0M101.8 605.2h0M171.2 512.2h0M116.6 579h0M148.3 545.3h0M175 528.8h0M95.4 578.1h0M141.7 567.4h0M146.7 552.3h0M74.8 608.8h0M131.5 567.3h0M208.4 481h0M130.3 571.1h0M121.8 574.1h0M65.9 609h0M100.9 588.3h0M147.4 562.1h0M122.8 575h0M85.6 615.7h0M138 545.2h0M194 492.4h0M100.4 604.7h0M162.5 534.3h0M90 583.4h0M127.4 565.7h0M119.1 565.4h0M129.7 549.9h0M88.5 599.5h0M67.2 625.6h0M160.9 515.7h0M134.4 573.5h0M176.5 516.1h0M95.8 599.9h0M136.5 562h0M122.1 564.4h0M99.7 585.3h0M140.6 549.4h0M90.7 599.2h0M145.5 545.1h0M117.7 567.5h0M154.7 536.3h0M113.7 604.4h0M96.4 567.8h0M145.1 544h0M57.7 627.4h0M117.6 583.2h0M119.2 580.6h0M174.6 519.1h0M141.7 563.5h0M77.4 610.7h0M77.4 599.6h0M152.8 531.1h0M60.3 623.8h0M130 545.9h0M69.1 602.8h0M79.5 614.3h0M100.7 575.3h0M152.5 539.1h0M141.4 548.1h0M133.1 549.7h0M134.8 541.4h0M62.6 623.2h0M75.8 604.3h0M124.7 545.5h0M100.7 573.1h0M71.8 627.2h0M92.9 613.9h0M92.6 604h0M152.1 548.2h0M117.3 573.7h0M143.5 549.8h0M77.8 613.5h0M153.8 539.7h0M134.4 563.1h0M127.5 553.8h0M170.8 517h0M177.6 519.8h0M141.6 552h0M122.7 563.3h0M81.7 599.6h0M146.5 539.3h0M100.8 591.8h0M159 529h0M86.4 604.8h0M178.5 508.2h0M72.5 609.6h0M129.7 575.6h0M87.7 604.2h0M202.4 486.4h0M115 566.3h0M76.1 621.7h0M91.6 597.4h0M143.5 548.9h0M112.5 581.4h0M72.1 600.2h0M80 602.3h0M71.6 620.6h0M94.6 592.9h0" fill="none" stroke="#898b8d" stroke-width="3.1" stroke-linecap="round" opacity="0.5"/>
<path d="M71.2 613.6h0M136.1 551.4h0M71.2 619.9h0M58.5 618.2h0M132.4 547.3h0M62.3 619.3h0M92.9 592.6h0M97.8 577.1h0M110.5 582.7h0M79.1 623.6h0M206.1 485.5h0M58.7 620.4h0M140.5 557.7h0M135 545.4h0M142.6 569.1h0M152.4 533.3h0M138.7 556.9h0M115.3 570.4h0M120.3 567.6h0M123.5 551.4h0M73.4 619.4h0M151.1 537.4h0M119.7 562.3h0M75 615.5h0M93.4 602.8h0M141.6 538.2h0M110.3 567.4h0M83.5 626.9h0M75.8 608.3h0M154.6 548.2h0M72.7 606.4h0M73.5 627.5h0M135.5 562.4h0M135.3 545.6h0M76.9 601.7h0M93.3 613.1h0M100.8 587.3h0M138 560.7h0M103.3 594.9h0M134.9 568.1h0M145 562.3h0M107 574.7h0M116.2 554.5h0M108.3 588.2h0M120.5 579.2h0M85.4 602.9h0M89 602.9h0M116.8 578.6h0M120.6 557.5h0M88 587.3h0M116.3 565.5h0M65.2 597.1h0M144.9 531.5h0M160.1 534.5h0M151.7 526.9h0M92 588.4h0M123.5 576.8h0M182.3 516.2h0M80.1 600.5h0M109.1 573.8h0M61.7 618.2h0M168 521h0M89.6 591.4h0M165.4 534.6h0M163.5 535h0M78.8 596.5h0M170.5 519.4h0M98.7 582.8h0M141.3 559.9h0M79.7 615.6h0M65.6 614.5h0M98.4 581.7h0M145.4 559.2h0M100.9 582.3h0M62.2 610.4h0M136.3 546.7h0M81.8 609.2h0M153.6 536.1h0M110.4 570.5h0M62.8 621.4h0M150.2 543.6h0M84 615.6h0M159.6 545h0M190.9 498.2h0M129.4 557.2h0M80.6 606.2h0M100.8 602.7h0M143.2 538.3h0M125.4 563.2h0M113.3 575.1h0M124.6 569.9h0M127.7 591h0M180.5 503.3h0M81.9 577.6h0M77.8 595.1h0M165.9 513.5h0M144 560.6h0M71.8 617.6h0M138 560.9h0M138 539.3h0M129.9 559.7h0M92 613h0M158.4 517.8h0M150.7 534.6h0M86.1 597.4h0M118.9 576.9h0M148.7 538.5h0M132.4 548.4h0M137.1 563.4h0M102.6 565.7h0M112.2 575.4h0M67.3 615.1h0M97.5 580.8h0M147.8 544.1h0M69.3 616.6h0M113.6 565.7h0M86.4 601.7h0M129.7 578.9h0M93.1 608.6h0M89.4 603.3h0M106.7 564.9h0M165.2 531.9h0M127.5 573.2h0M116.8 596.9h0M171.9 525.8h0M75.3 596.6h0M88.3 596.7h0M90.4 602.7h0M203.6 490.7h0M150.2 541.2h0M114.9 579.5h0M68.8 604.9h0M157.1 536.6h0M122.2 556.5h0M147.3 532.1h0M88.5 599.5h0M120 572.8h0M107.8 578.9h0M92.2 565.8h0M137.7 542.3h0M134.7 566h0M137.4 566.8h0M105.1 570.1h0M139.5 569h0M113.6 583.6h0M88.6 587.2h0M123.4 582.6h0M129.2 562.1h0M66.4 613.1h0M79.9 603.6h0M170.6 525h0M110.2 572.5h0M164.9 528.9h0M93.4 577.6h0M152.5 533.8h0M141.5 563.2h0M117 576.5h0M106.1 590.1h0M101.7 609.2h0M144.1 545.9h0M110.2 580.8h0M153.8 548.8h0M75.3 602h0M132.1 568.7h0M104.1 578.7h0M91.9 594.6h0M70.1 612.5h0M148.5 529.2h0M106.6 565.9h0M135 564.4h0M104.9 587.1h0M57.6 618.1h0M140.7 550.7h0M184.7 509.3h0M163.5 529.5h0M162.4 558.3h0M94.2 606.7h0M108.9 591.3h0M67.2 606h0M115.4 567.8h0M141.8 554.2h0M196.1 490.3h0M114.4 580.8h0M92.7 588.2h0M103.5 586.5h0M157.4 537.3h0M118.8 572.4h0M96.8 581h0M106.2 591.6h0M93.1 591.5h0M112.3 565.3h0M94.1 589.2h0M114.9 581.9h0M160.7 533.4h0M194.8 502.8h0M160.5 524.5h0M83.3 586.6h0M156.3 543.5h0M136.2 554.5h0M89.3 605.8h0M84.7 606.2h0M119.7 566.4h0M94.1 588.8h0M61.3 617.9h0M138.1 564.7h0M147.7 542.6h0M86.2 578.5h0M118.4 568.6h0M211.4 485.4h0M169.9 528.5h0M113.7 567.3h0M135.8 569h0M97.2 595.4h0M157.7 542.4h0M106.9 581.6h0M93 584.4h0M56.7 615.7h0M125.9 559.6h0M100.5 582.2h0M118.7 566.5h0M193.7 513.5h0M64.7 625.3h0M78.5 620h0M114.4 579.5h0M89.6 578.3h0M124.3 565.4h0M137.6 564.8h0M149.7 548.3h0M147.4 532.1h0M103.8 576.4h0M136.9 542.5h0M109.5 581h0M79.7 604.1h0M101.4 591.5h0M78 619.6h0M156.6 526.9h0M92 594.2h0M80.8 618.7h0M146.6 543.9h0M172.7 535.8h0M105 583.9h0M145.8 536.9h0M114.6 576h0M93.6 589.1h0M157.6 539.3h0M63.6 630h0M86.1 605.5h0M142 555.9h0M120.3 559.5h0M117.4 583h0M70.7 615.1h0M147.7 533.4h0M77.3 602.6h0M170 517.6h0M60.1 625.5h0M131 559.4h0M126.9 578.9h0M123.1 550.6h0M140.5 572.5h0M59.9 613.2h0M122 572.9h0M139.7 562.8h0M88 596.7h0M73.6 618.8h0M81.8 612.1h0M63.7 612.1h0M79.3 597.5h0M118.7 577.7h0M104.7 590.6h0M144.6 551.4h0M94.2 591.2h0M159 532h0M70.1 615.9h0M85.9 596.4h0M114 558.7h0M134.4 550.2h0M126.4 559.4h0M98.9 589.7h0M103.6 578.2h0M165.7 531.5h0M130.7 565.9h0M156.3 527.9h0M76.9 592.9h0M147.4 542.4h0M129 572.8h0M115 577.5h0M125.9 559.3h0M84.9 597.9h0M191.7 502.5h0M91 579.5h0M109.7 574.2h0M119.6 572.6h0M63.7 616.2h0M108.4 589.1h0M61.9 622h0M119.4 565.2h0M206.4 490.2h0M149.5 539.8h0M61.5 619.5h0M68.9 626h0M154.1 531h0M162 530.6h0M78.9 603.3h0M145 548.3h0M123.3 580h0M158.5 532.9h0M92 578.7h0M113.7 566.1h0M178.1 515.8h0M136 553h0M98.4 592.2h0M62 609.5h0M62.2 631.1h0M110.8 590.1h0M116.3 573.6h0M153.9 542.9h0M78.2 610.5h0M167.2 533.8h0M131.2 556h0M133 553.5h0M190.9 507.2h0M77.4 597.4h0M106.1 571.7h0M143.6 555.4h0M169.6 533.5h0M136.4 552.2h0M83.5 603.9h0M101.6 580.4h0M57.8 621.4h0M138.6 540.4h0M96.7 587.9h0M102.4 590.6h0M59.5 627.4h0M61.2 605.7h0M59.8 612.5h0M70.7 611.7h0M125.3 563.1h0M102.9 571.8h0M110.2 561.8h0M133.3 565.5h0M75.5 599.3h0M100.2 592.1h0M122.1 570.8h0M66 609.9h0M190.7 499.6h0M95.6 599.8h0M66 608.5h0M137.7 544.6h0M164.6 521h0M86.2 594.8h0M186.3 509.7h0M73.8 606.2h0M96 596.3h0M141.8 558.1h0M80.1 614.1h0M183.5 502.7h0M157.8 535.7h0M87.8 620.6h0M160.1 541.6h0M114 575.7h0M60.3 608.6h0M59.7 618h0M117.9 569.5h0M115.5 576.1h0M66.3 615.9h0M79.4 612.1h0M190 496.8h0M117.1 564.8h0M152.9 540.8h0M122.5 552.4h0M96.4 592h0M193.2 493.6h0M130.8 579.3h0M144.2 533.4h0M63.1 616.4h0M84.2 608.3h0M61.7 614.2h0M153 532.7h0M121 564.1h0M79.3 626.1h0M68.1 614.3h0M179.7 523.2h0M108 568.7h0M85.4 594.6h0M63.3 611.2h0M103.6 566h0M108.8 578.9h0M70.3 624.1h0M82.8 607.1h0M165 522.4h0M58 616.5h0M108.7 581.4h0M155.4 545.1h0M125.1 554.3h0M88 601.9h0M131.7 545.6h0M205.6 492h0M158.3 529.5h0M89.4 594.5h0M141 561.7h0M64.5 621.2h0M144 558.9h0M120.4 593.8h0M111.6 572.1h0M107.6 572.8h0M170.8 529h0M123.5 553.9h0M87.8 601.7h0M160.1 531.5h0M140.2 543.1h0M116.2 558.2h0M84.8 602.9h0M85.8 613.2h0M156.3 526.3h0M122.2 566.8h0M104.1 585.9h0M115.1 576.2h0M77.8 614.2h0M123.8 564.7h0M90.2 615.3h0M104.4 585.1h0M154.3 526.8h0M103.9 591h0M116.8 575.8h0M190.2 508.7h0M66.9 604.7h0M164.1 520.1h0M155 542.8h0M91 609.5h0M170 520.6h0M112.2 580.7h0M80.4 595.8h0M182.5 520h0M191.3 508h0M87.5 599h0M98.9 600h0M103.4 584.3h0M94 585.1h0M161.9 521.5h0M132.9 549.6h0M66.5 622.8h0M122.5 562.8h0M182.3 508.4h0M110 591.4h0M84.2 601.1h0M60.7 607.2h0M126.9 550.2h0M132.4 560.8h0M135.7 560.5h0M89.2 592.4h0M160 529.9h0M132.8 551h0M83.9 597.2h0M68.5 616.3h0M97.3 589.5h0M139.5 540.7h0M168.1 525.7h0M105.6 578.9h0M110.9 574.8h0M139.7 551.5h0M68.8 615.5h0M100.5 580.1h0M103.1 573h0M59 618.6h0M121.7 556.1h0M120.9 581h0M110.8 569.3h0M65 618.1h0M83.4 608.5h0M85.8 613.2h0M133.2 568.5h0M126.6 567.1h0M91 596.2h0M128.9 556.3h0M79 613h0M123.8 571h0M195.1 492.3h0M75.6 618.7h0M99.3 585.6h0M133 541.5h0M171.7 536.1h0M83.1 602.3h0M151.4 537.1h0M134.5 544.7h0M117.8 573.9h0M60.5 617.1h0M195.8 501.6h0M98.1 598.6h0M155.7 535.1h0M123.8 560.7h0M126.2 563.6h0M114 567.8h0M108.3 571.7h0M64.4 605.8h0M68.5 610.4h0M121.8 555.1h0M91.6 599.7h0M124.2 566h0M85.6 599.2h0M125.6 563.2h0M134 558.5h0M167.6 519.9h0M77.9 588.1h0M118.5 559.9h0M81.3 594.3h0M108.9 581.1h0M128.5 569h0M151.4 535.7h0M120.8 590h0M101.2 582.1h0M70.5 595.6h0M154.5 541.6h0M65.3 604h0M100.3 567h0M145.5 548.4h0M101 584.4h0M122.5 561.3h0M170.3 522h0M89.8 589.5h0M127.8 562.7h0M150 533.3h0M62.8 599.8h0M161.9 539.9h0M157.2 540h0M130.3 556h0M190.6 499.7h0M95.1 607.4h0M114.4 581.6h0M89.5 594.9h0M115.6 571.8h0M127.7 548.5h0M102.2 594.5h0M74 613.6h0M140.5 549.6h0M123.5 572.1h0M112.1 578.2h0M159.9 525.9h0M71.6 614h0M130.2 575.7h0M131.2 564.5h0M119.1 580.1h0M66.6 609.6h0M81.9 587.5h0M80.5 605.8h0M77.4 596.9h0M162.7 537.7h0M109.3 598.3h0M143 546.8h0M78.2 605.8h0M77 605.6h0M76.3 616h0M100.5 598.1h0M146.7 555.4h0M146 548.4h0M129.1 557h0M91.9 606.5h0M96 590.3h0M199.2 494.9h0M109.4 568.3h0M117.8 564.9h0M63.7 628.4h0M97.6 591.2h0M142.5 554.8h0M153.3 527.2h0M123.2 566.4h0M100.2 579.3h0M95.2 616.8h0M186.8 519h0M134.7 546.8h0M96.1 596.6h0M164.6 524.5h0M73.9 607.9h0M94.9 588.6h0M110.2 573.4h0M100.5 592.2h0M198.8 485.3h0M179.4 505.5h0M93.5 606.5h0M113.5 576.1h0M111.2 581.5h0M150.7 542.3h0M128.4 577.9h0M140.7 550.3h0M192.9 506.9h0M155.7 535.4h0M110.2 581.1h0M138.3 555.3h0M144.5 541.7h0M132.4 552.2h0M103.6 582.6h0M69.9 618h0M113 579.7h0M71 597.9h0M124.2 572.3h0M71 614.3h0M84.9 596.8h0M161.1 516.3h0M126.6 557.6h0M144.5 553.1h0M83.4 602.7h0M126.8 544h0M125.5 557.1h0M127.9 552.2h0M94.2 585.7h0M137.4 538.7h0M93 578.2h0M147.2 556h0M169.7 523h0M116.3 566.2h0M145.3 546h0M166.3 522.5h0M101.2 586.5h0M211.5 480.5h0M108.3 583.6h0M131 561.7h0M124.2 560.7h0M179.3 513.9h0M140.9 537.9h0M62.7 618.1h0M182.8 515.3h0M173.7 531.5h0M119.5 564.3h0M141.6 556.1h0M177.7 514.9h0M132.7 570.5h0M167.5 526.8h0M120.5 564.8h0M73.6 619.9h0M145.7 535.7h0M138.4 545.7h0M76 592.9h0M68 614.2h0M94.5 601.8h0M130.4 545.4h0M153.9 526.6h0M104.1 577.7h0M179.6 516.4h0M127.2 567.2h0M63.5 603.8h0M100.6 577.6h0M82.8 596.9h0M89.4 607.3h0M150.6 546.1h0M94 589.3h0M117.4 583.9h0M156.9 533.4h0M159.1 543.2h0M174.9 517.6h0M62.7 614.4h0M121.4 586.7h0M130.8 542.5h0M161.1 535.8h0M115.1 562.6h0M150.2 543.1h0M132.5 553.2h0M79.5 592.3h0M149.4 523.6h0M163.4 532.8h0M76.4 618.3h0M125.8 550h0M115.2 572.7h0M161.5 526.5h0M59.2 624.9h0M143.9 567.9h0M107.9 594.5h0M149.9 541.1h0M71.3 610.7h0M94.7 587.8h0M69.9 615.5h0M160.9 522.8h0M102.8 591.3h0M93.2 597.6h0M139.7 551.5h0M180.9 522.6h0M183.6 507.2h0M92.8 597.3h0M114.6 573.2h0M189.3 493.9h0M92.6 575.9h0M91.9 584.3h0M133.9 566h0M75.1 585.3h0M76.6 594.1h0M147.7 554.6h0M173 518.3h0M59.8 613.2h0M115.4 572.1h0M94.4 594.9h0M145.9 536.6h0M65.9 607.8h0M64.8 631.9h0M64.3 606.6h0M106.6 589.2h0M163.2 522.9h0M94.8 596.7h0M74.7 610h0M157.4 523.7h0M121.1 550.5h0M196.1 496.6h0M110.6 562.4h0M147.6 531.4h0M65.2 607.2h0M102.2 593h0M149.1 551.4h0M88.1 591.4h0M93.1 576.5h0M123.1 574.9h0M71.1 610.5h0M100 580.6h0M158.4 536.7h0M127.6 553.3h0M163.6 520h0M174.5 520.1h0M74.1 608.6h0M129.5 554.2h0M153.8 541h0M120.6 567.9h0M180.6 505.2h0M88.8 568.8h0M122.6 567.1h0M155.6 522.3h0M136.3 553.7h0M112.7 560.6h0M131.7 549.3h0M168.3 526.1h0M164.6 539.5h0M133.8 547.3h0M166.4 534.2h0M66.2 619.8h0M134.2 545.9h0M88.5 600.8h0M184.1 504.2h0M78.6 607.2h0M83.9 610.1h0M154.5 533.6h0M136.5 547.2h0M193.5 501.6h0M97.4 596.1h0M56.7 620.5h0M89.2 590.7h0M172.2 527.7h0M87.4 603.9h0M165.6 528.7h0M127.9 552.3h0M130.2 573.9h0M77.6 618.9h0M107.3 566.1h0M89.8 606.1h0M190.1 501h0M108.4 566.2h0M146.3 550.8h0M186.4 505h0M175.8 529.2h0M98.4 607.9h0M166.8 525h0M86.2 613.1h0M128.9 565.6h0M130.5 560.7h0M57.3 618.4h0M129.7 554.9h0M153 552.9h0M88 602.6h0M156.7 542.1h0M138.4 551.2h0M85.9 593.4h0M57.9 618.5h0M103.7 573.6h0M89.8 593h0M150.3 550.4h0M146.2 537.6h0M164.4 524.4h0M105.9 575.4h0M138.8 545.2h0M118.4 558.2h0M128.9 570.4h0M137.6 570.6h0M138.5 556.8h0M170.1 530.9h0M80 604.3h0M199.9 494.4h0M166 523.7h0M89.8 598.3h0M58.7 625.3h0M91.5 585.2h0M124.5 566.6h0M75.7 609.9h0M142.8 548.5h0M125.1 557.6h0M164.1 529.7h0M113.4 585.8h0M73.8 619.3h0M93.9 599.2h0M122.8 565.3h0M145.7 548.8h0M156 533.9h0M186 502.6h0M156 536.2h0M177.7 520.2h0M183.8 515.4h0M158.6 532.8h0M82.5 603.7h0M71.2 602.7h0M105.8 596.3h0M157.8 541.8h0M130.1 559.8h0M150 552.5h0M126.5 570.2h0M77.8 620.4h0M81.3 608.6h0M82.7 599.5h0M131.7 560.2h0M60.9 611.8h0M56.3 620.8h0M72.4 608.2h0M94.6 603.6h0M149.4 542h0M110.1 563.4h0M154 540.1h0M156.9 529.3h0M114.3 579.1h0M136.9 552.6h0M126.1 567.3h0M128.5 571.3h0M74 622.5h0M64.3 625.8h0M92.9 581h0M63.6 613.5h0M157.9 532.3h0M134.4 542.8h0M75.3 617.6h0M80.1 599.4h0M206.2 488.9h0M101.5 603.3h0M102.7 555.4h0M97.9 592.4h0M78.1 617.2h0M116.4 569.6h0M99.6 584.9h0M127.2 571.6h0M121.4 568h0M155.6 542.5h0M152 542.1h0M141.2 554.8h0M157.3 520.4h0M141.5 546.5h0M133 557.7h0M101.9 593.6h0M96.6 593h0M129.4 557.3h0M89 583.1h0M118.2 566.3h0M67.8 613.7h0M153.7 531.6h0M167 531.8h0M92.9 586.7h0M193 501.2h0M150.2 548.2h0M60.3 614.1h0M98.2 587.4h0M191.9 508.5h0M66.7 619.5h0M102.3 597h0M143.1 557h0M76.9 602.9h0M140.6 551.2h0M135.4 556h0M108.5 571.4h0M108.1 579.2h0M121 573.5h0M67.5 615.3h0M74.2 599.2h0M206.3 489.5h0M124.4 559h0M93.3 606.1h0M143.1 551.3h0M107.3 569.3h0M108.8 564.1h0M119.1 577.4h0M165 526.8h0M181.4 512.8h0M108.5 586.3h0M64.4 620.2h0M70 593.8h0M74.2 616.3h0M139.3 564.2h0M97.9 578.9h0M149.4 542.2h0M132.2 544.4h0M159.2 537.3h0M156.8 536.9h0M141.4 537.1h0M159.4 554.1h0M86.7 606.1h0M182.1 517.3h0M83 599.2h0M76.6 590.5h0M58.6 609.9h0M144.3 546.6h0M139.9 568h0M118.3 585.5h0M117.3 561.8h0M120.6 552.3h0M113.3 590.6h0M120.8 571.6h0M210.8 487.4h0M163.9 527.2h0M81.9 616.8h0M98.8 585.2h0M180 508.4h0M101.4 586.1h0M156.9 532.2h0M129.1 567.6h0M130.7 545.9h0M66.8 623.8h0M116.4 579.7h0M110.4 595.8h0M107.6 587.6h0M77 604h0M157.8 531.3h0M82.7 601.8h0M129.2 564.3h0M118.6 551h0M139.6 536.9h0M101.8 596.6h0M144.1 547.4h0M175.7 516.9h0M65 625.7h0M89.4 611.4h0M80.4 611.9h0M128.3 557.8h0M203.1 487.5h0M165.7 534.9h0M152.8 544.1h0M87.6 617.1h0M103.3 577.8h0M103.3 578.7h0M68.6 624.7h0M111.4 580.9h0M145.6 550.8h0M187.7 508.1h0M165.5 522.1h0M127.4 555.9h0M76.7 590.3h0M79.7 608.7h0M141.9 558.4h0M196.1 498.3h0M92 596h0M116.6 571.5h0M134.9 555.1h0M134.1 558.2h0M101.5 572.5h0M89.5 585.6h0M89.7 591.9h0M156.1 530h0M96.9 576h0M128.2 558.2h0M132.7 569h0M69 617.6h0M82 608.9h0M151.9 535.5h0M115.8 572.2h0M127.7 560.7h0M143.4 547.2h0M121.6 566.5h0M178.8 525.3h0M140.9 552.2h0M148.2 538.1h0M138.2 566.4h0M118.4 574.3h0M120.9 570.6h0M174.7 523h0M152.2 551.8h0M68.4 607.3h0M154.2 538.7h0M114.1 586.3h0M156.5 539.2h0M99.4 601.3h0M60.3 626.2h0M164.1 533.3h0M57 616.8h0M153.5 546h0M85 599.5h0M142.5 544h0M141.1 548.2h0M88.9 601.1h0M121.1 562.5h0M97.7 590.1h0M141.2 552.3h0M128.1 553.3h0M166.6 522.5h0M105.9 585.5h0M91.3 605.1h0M106.1 571.7h0M132.8 556.3h0M78.7 600.9h0M158.7 534.3h0M115.3 558.9h0M109.7 581.1h0M111.2 567.4h0M138.4 548.3h0M111.5 571.6h0M121.8 562.8h0M59.6 604.1h0M96 579.1h0M75.9 602.1h0M166.2 531.7h0M136.7 549.4h0M73.4 599.3h0M87.9 590.2h0M144.2 533.5h0M70.3 607.4h0M121.5 574.3h0M140.3 572.5h0M110 567h0M108.7 588.6h0M71.8 602h0M111.5 563h0M197.1 493.1h0M102.8 583.1h0M71.7 608.1h0M128.2 566.4h0M58.8 623h0M122.8 558.8h0M114 574.7h0M171.1 534.5h0M101.9 583.1h0M191.8 511.9h0M116.8 578.2h0M92.3 590h0M117.2 563.3h0M77.6 600.5h0M112.7 573.7h0M148.7 533.5h0M185.2 511.2h0M127.7 552.6h0M161.6 537.5h0M196.5 497.1h0M107.4 596.8h0M112.2 561.2h0M92 600.8h0M159.8 516.9h0M100.3 573.3h0M100.7 593.5h0M117.5 563.6h0M167 520.6h0M159.8 537.4h0M93.5 601.2h0M123.4 582.5h0M117.2 578.6h0M91.1 593.1h0M98.3 581.3h0M111.1 599.9h0M157.5 524.1h0M94.9 594.7h0M134.7 552.3h0M157.2 543.7h0M115 593.8h0M90 604.6h0M72.6 622.7h0M146 539.3h0M112.6 574.9h0M84.2 585.5h0M111.6 567.9h0M124.3 572.7h0M141.6 558.4h0M127.2 565.6h0M202.9 493.6h0M129.2 540.1h0M188.5 499.3h0M99.9 591.2h0M154.4 539.3h0M133.4 562.8h0M110 560.1h0M72.4 603.8h0M90.9 591.2h0M123.1 565.1h0M81.9 589.9h0M111.9 573.6h0M131.1 552.2h0M139.2 563h0M63.4 630h0M84.3 596.1h0M156.1 542.7h0M164.4 529.1h0M90.9 596.5h0M141.9 557.5h0M196.4 504.4h0M191 499.5h0M72.4 622.1h0M100.2 581.4h0" fill="none" stroke="#898b8d" stroke-width="3.1" stroke-linecap="round" opacity="0.5"/>
<path d="M77.1 616.1h0M142.2 540h0M99 582.1h0M160.5 530.7h0M65.7 610.5h0M72.9 614.2h0M100.9 569.4h0M86.4 587.9h0M176 510.7h0M80.8 593.9h0M166.6 514h0M133.8 555.5h0M127.6 553.8h0M110.5 595h0M84.3 604.9h0M67.4 613.7h0M203 494.6h0M98.1 576.9h0M83.9 610.2h0M106.9 566.5h0M146.1 553.6h0M92.3 583.4h0M121.7 565.6h0M84.6 598.8h0M113.4 582.7h0M91.2 610.9h0M142.9 542.5h0M65.4 621.7h0M142.4 544.2h0M102 596.2h0M98.9 587h0M63.4 613.8h0M128.8 547.4h0M67.3 618.4h0M62.6 601.4h0M96.2 592h0M58.9 614.5h0M76.4 601h0M117.9 579.9h0M141.6 575.2h0M95 598.3h0M78.6 590.5h0M128.7 556.6h0M102.2 589.2h0M92.9 603.5h0M148.3 542.2h0M104.9 577.4h0M78.7 594.8h0M148.8 532h0M89.6 595.1h0M119.1 573h0M149.9 541.6h0M85.5 598.7h0M157.6 542.3h0M196.1 493.5h0M87.7 594.8h0M131.4 554.1h0M96.7 614.4h0M154.5 543.7h0M73.7 610.2h0M67.4 624.5h0M97.1 585.7h0M123.7 573.7h0M113.6 567.9h0M94.9 592.7h0M81 611h0M152.8 536.5h0M178.7 518h0M153.7 526.4h0M159.3 550.9h0M101.7 589.8h0M86.4 591.9h0M191.3 505.5h0M122 569.6h0M73.4 612.1h0M119.2 564h0M146.9 550.9h0M98 588.2h0M177.5 527.8h0M110.3 579.2h0M157.9 534.9h0M143.5 541.9h0M178.3 517.5h0M111.5 571.3h0M98.5 587.8h0M143.8 541.3h0M177.7 522.3h0M132.6 553.5h0M98.4 587.6h0M116.3 575.6h0M178.5 521.2h0M88.9 588.8h0M143 544.3h0M71.7 593.8h0M170.7 515.6h0M80.7 593.4h0M168.7 531.9h0M139.2 566.1h0M125.5 553.4h0M135 549.2h0M120 577.9h0M81.2 590.2h0M91.5 576.7h0M79.4 610.6h0M83.6 592.9h0M98.2 594.9h0M97.2 591.6h0M129.5 545h0M160 531.2h0M142.2 562.7h0M118.3 565h0M97.2 584.7h0M102.7 571.3h0M73.3 600.6h0M127.8 559.1h0M112.6 568h0M142.6 545.3h0M106.2 603.5h0M141.1 548.8h0M167.5 517.5h0M124.1 545.1h0M152.4 531.8h0M59.9 618.7h0M108.2 587.2h0M158.2 528.3h0M167.2 531.1h0M151.2 544.6h0M84.1 606.7h0M118.9 573.1h0M100.4 584.8h0M126 566.2h0M76 609h0M176.8 525.3h0M187.2 511.2h0M155.9 535.9h0M102.4 580.8h0M62.3 607.8h0M93.5 579.8h0M107.1 556.7h0M108.2 568.5h0M145.5 562.7h0M147.4 539.1h0M114.5 565.8h0M66.1 624h0M107.9 585.4h0M77.7 609.4h0M131.3 564.3h0M104.6 564.5h0M154.8 530.3h0M183.7 502.8h0M175.7 528h0M137.9 563.3h0M92.5 602.4h0M88.4 611.2h0M116.4 564.2h0M167 523.1h0M151.9 532.4h0M89.3 588.7h0M134.1 547.5h0M82.3 596.3h0M197.9 491.1h0M92.8 567h0M166 523.5h0M127.8 564.6h0M81.2 609.6h0M107.2 585.5h0M82.1 615.9h0M123.6 568.9h0M83.8 600.1h0M79 599.3h0M129.6 554.7h0M97.9 580.3h0M147 545.1h0M108.4 583.1h0M165.1 532.1h0M75.5 615.5h0M112 581.3h0M131.6 567.2h0M136.4 562.7h0M118.5 566.5h0M83.3 612.1h0M60.3 606.4h0M137 548.7h0M122.5 560.7h0M146.6 545.6h0M141.8 552.9h0M151.4 544.4h0M146 559.1h0M108.1 565.5h0M196.1 496.3h0M127.9 572.3h0M112.1 580.5h0M72.3 621.5h0M56.3 623.5h0M103.9 575.8h0M138 552.5h0M81.8 594.3h0M138.8 542.1h0M106.6 587.9h0M107 586.3h0M73.5 603.4h0M151 530.7h0M118 577.8h0M126.4 555.1h0M142 541.1h0M180.4 519.6h0M194.8 502.2h0M125.1 566.1h0M159.7 531.2h0M91.8 589h0M155.7 525.7h0M92 602.7h0M152.3 533.6h0M115.2 581.2h0M186 499h0M130.7 548.9h0M177.1 511.4h0M100.6 574.9h0M128.8 552h0M96.8 588.8h0M173.1 515.4h0M130.3 555.2h0M88.3 595h0M75.2 593.3h0M83 622.2h0M121.5 548.9h0M121 585.5h0M170.3 520.5h0M148.1 546.7h0M134 551.6h0M161.1 531.4h0M193.6 497.6h0M131.6 559h0M140 542.7h0M124.3 584.4h0M130.1 554.4h0M169.1 524.6h0M127.5 567.8h0M130.2 566.7h0M143.5 545.2h0M207.9 488.2h0M150.5 539h0M70 624.3h0M167.6 525.6h0M65 602.6h0M74.1 612.6h0M121.5 564.7h0M62.2 621.1h0M146.3 536.1h0M84.6 598.5h0M152.4 550.4h0M131.8 568.9h0M197.9 507.7h0M83.6 606.8h0M85.4 600.6h0M197.7 507.9h0M155.1 540.7h0M163.1 520.5h0M181.8 513.9h0M142.1 557.1h0M119.5 554.3h0M139.1 571.3h0M143.9 536.6h0M119.8 563.4h0M123.8 550.1h0M177.1 518.1h0M85.1 604h0M127.7 535.7h0M97.5 580.9h0M162.1 530.1h0M128 553.6h0M138.3 561h0M142 561h0M83 608.4h0M126 564.2h0M100.6 582.6h0M176.7 515.1h0M138.1 557.3h0M113.6 578.8h0M80.4 595.4h0M71.8 609.9h0M172.4 532.6h0M116.6 555h0M128.3 546.9h0M162.7 534.9h0M175.7 514.1h0M171.2 519.8h0M70.8 609.4h0M155.1 531.8h0M143.3 561.5h0M142.7 558.5h0M145.4 545.7h0M95.8 587h0M109.8 577.4h0M87.8 605.1h0M145 544.5h0M96.1 591.8h0M156.9 529.9h0M115.8 576.1h0M169.3 508.2h0M69.5 614.4h0M55.9 621.8h0M118.2 573.7h0M146 529.6h0M103.7 570.2h0M79.2 623.5h0M184.3 501.7h0M65.7 611.1h0M93.5 614.2h0M93.1 591.2h0M126.3 564.1h0M101.8 596h0M138.1 553.7h0M102.4 582.6h0M93.9 578.7h0M130.6 561.1h0M98.4 599.1h0M86.9 603h0M145 547.8h0M109.1 571.8h0M112.1 571h0M153.6 537.3h0M131.2 550.2h0M73.3 598.5h0M175.8 516.3h0M102.9 589.6h0M80.1 609h0M133.6 568.8h0M139.9 553.2h0M101.3 600.4h0M107.1 572.6h0M114 580h0M143.4 538.1h0M85.4 615.7h0M64.6 611.3h0M137 560.8h0M190.7 498.6h0M132.8 552.1h0M96.5 608.9h0M115.3 561.4h0M124.8 557h0M154.4 545.4h0M132.9 537h0M91.1 605.3h0M107.1 582.1h0M85.2 587.6h0M89.1 588.3h0M96 587.6h0M160.5 530h0M137.6 546.7h0M106 577.8h0M133 543.9h0M118.6 568.7h0M71 615.2h0M91.2 575.4h0M114.8 582h0M59.4 626.2h0M96.8 595.4h0M100.6 588.5h0M90.9 589.7h0M123.4 548.9h0M69 620.9h0M127.3 560.2h0M89.1 599h0M158.5 523.7h0M192.3 501.6h0M107.6 587.1h0M198.1 495h0M122.7 583.1h0M96 576.3h0M110.8 568h0M142.5 550h0M103.5 572.1h0M143.4 552h0M80.3 597.8h0M133.3 570.7h0M158 528.3h0M203.9 491.8h0M114 573.8h0M77.6 610.8h0M154.4 547.6h0M114.5 594.1h0M111.4 582.4h0M82.5 604.5h0M114.3 571.5h0M170.7 529h0M142 569.4h0M61.5 611.1h0M144.2 545h0M130.2 551.3h0M117.7 569.2h0M89.5 608.2h0M149.4 551.7h0M136.5 570.7h0M66.4 622.1h0M83.7 572.7h0M90.9 571.6h0M130.9 553.9h0M146.2 543h0M183.2 512.3h0M125 568.9h0M135.6 540.6h0M127.3 573h0M174.1 518.3h0M179.2 505.3h0M60.7 619.8h0M165.1 519.3h0M153 543.6h0M113.2 553.1h0M82.7 606.3h0M98.5 608.7h0M84.1 592.3h0M119.8 569h0M73.6 612.6h0M118.9 577.3h0M102.3 592.7h0M101.3 592.5h0M171.7 513.4h0M114.7 577h0M103.8 592.4h0M110.2 573.9h0M117.8 566.3h0M102.1 584.4h0M138.8 558.2h0M58.6 607.3h0M158.6 538h0M103.5 577.3h0M158.7 536.4h0M132.7 542.7h0M157.7 532.9h0M151.1 528.5h0M176.2 519.7h0M63.9 599.3h0M89.2 601.3h0M74.3 590.4h0M104 598.9h0M75.7 609.4h0M140.2 563.5h0M154.9 536.3h0M95.9 584.9h0M147.9 538.1h0M163.7 527.3h0M114.6 571.8h0M96.6 595.6h0M97.6 602.2h0M152 522.7h0M91.2 590.5h0M129.5 575.6h0M144 538.5h0M116.5 572.7h0M176.9 519.8h0M65.1 598.7h0M125.7 576.6h0M127.8 563.9h0M209.4 482.9h0M86.3 606h0M72.6 615.1h0M83.9 597.8h0M132.9 560.5h0M60.2 623.1h0M108.1 558.8h0M139.6 545.9h0M154.9 530.9h0M108.4 580.8h0M170.5 518.2h0M116.5 564.9h0M117.8 552.7h0M103.7 582.9h0M92 581.5h0M150.9 539.2h0M110.9 572h0M76.2 608.8h0M109.5 563.1h0M104.8 582.1h0M147.8 551.6h0M127.9 557.6h0M122.2 550.4h0M102.7 588h0M117.4 567.8h0M168.6 536.2h0M92.7 581.9h0M202.2 489.3h0M190.1 498.1h0M74.8 621.4h0M154.8 533h0M96.5 597.6h0M184.3 521.7h0M83.1 598.4h0M80.8 601.5h0M182 502.8h0M154.9 546.6h0M119.9 561.4h0M154.9 534.6h0M164.4 531.8h0M93 583.4h0M146.7 546.6h0M88.9 593.5h0M101.5 587.5h0M55.3 622.6h0M116.7 574.5h0M86.9 601h0M113.5 579.5h0M140.3 547.2h0M114 566.4h0M122 555.6h0M141.6 542.9h0M155.4 552.7h0M80.9 588.1h0M71.8 602.9h0M78.4 608.3h0M89.4 607.4h0M94.8 601.4h0M135.7 556.9h0M144.6 542.3h0M131 563.2h0M85.5 607.9h0M64.6 625.8h0M117 575.7h0M105.5 571.5h0M86.2 597.4h0M146.3 534.1h0M131.4 541.2h0M123.7 564.8h0M100.1 564.1h0M74.6 613h0M75.7 598.3h0M80.3 604.8h0M88.3 605.5h0M144.2 550.2h0M84.2 599.3h0M87.4 594.7h0M144.7 556.4h0M83 608h0M69.5 612.5h0M108 561.6h0M178.2 512.9h0M147.2 544.8h0M169.9 518.8h0M108.1 592.4h0M112.3 582.3h0M90.2 604.2h0M122.8 563.7h0M115.3 577.1h0M132.8 555.3h0M125.7 572.7h0M141.8 550.2h0M73.2 606.8h0M132.4 552.4h0M90.1 599.1h0M124 567h0M108.1 588.4h0M80.6 590.4h0M131.8 554.9h0M173.5 520.5h0M86.8 585h0M148.6 551.4h0M75.9 619.2h0M165 522.8h0M99.2 582.4h0M139.7 550.4h0M113.3 580.1h0M166.8 537.7h0M94.4 594.5h0M102.1 578.4h0M58.8 614.4h0M88.2 603.8h0M116.3 562.3h0M146.1 560h0M108.3 582.8h0M174.9 512.9h0M125.4 574.3h0M73.4 611.7h0M101.9 592.7h0M97.5 603.6h0M117.5 567.8h0M163.4 534.6h0M68.7 620.6h0M173.5 516.4h0M115.9 565.3h0M90 589.8h0M190.4 501.5h0M152.3 545.9h0M68.1 611.7h0M168.9 514.2h0M74.5 612.6h0M129 569.4h0M137.4 556.4h0M167.9 528.3h0M136.3 557.9h0M142.3 559.1h0M152.5 531.1h0M118.5 578.1h0M82.1 610.6h0M164.6 524.9h0M110.8 573.8h0M180 505.8h0M107.4 587h0M123.8 572.9h0M142.7 546.5h0M75.2 607.3h0M73.6 619.3h0M75.9 607.8h0M55.8 620h0M137.3 554.3h0M72.7 624.8h0M90.1 606.9h0M94.4 560.9h0M154.7 536.8h0M113.4 582.5h0M86.5 598.9h0M83 594.1h0M150 540.8h0M89.9 590.9h0M140.7 549h0M98 594.9h0M207.1 486.5h0M110.6 579h0M114.6 569.3h0M102.5 580h0M123.6 562.9h0M117.9 573.2h0M158.4 525.2h0M158.5 536.2h0M136.8 559.9h0M104.2 574.5h0M105.1 580h0M74.3 601.8h0M118.5 570.8h0M94.4 593.6h0M116 565.2h0M75.8 582h0M133 560.1h0M118.5 581.9h0M90.6 592.6h0M70.3 603.2h0M79.3 599.8h0M129.5 566h0M122.5 563h0M143.8 554h0M69.8 606.3h0M94.2 592.3h0M129.3 562.5h0M209.7 483.2h0M130.7 540.4h0M113.5 584h0M192 497.4h0M171.7 516.4h0M133.4 556.9h0M77.7 595.5h0M92.4 580.5h0M181.2 509.8h0M111.2 569.6h0M194 500h0M103.9 585.6h0M68.3 609h0M158.8 534.7h0M112 560.2h0M193.1 500.4h0M127.6 574.5h0M79.4 602.5h0M114.2 581.1h0M65.8 630.3h0M88.1 582.7h0M138.4 540.6h0M71.8 590.9h0M185 504.4h0M206.1 485.7h0M176.1 525.7h0M121.8 559.8h0M117.3 569.2h0M115.6 572.2h0M82.6 601h0M95.4 590.8h0M68.4 612.5h0M111.3 569.4h0M154.7 539.6h0M197.2 498h0M126.4 584.2h0M92.4 592.9h0M99.2 588.8h0M151.8 534.6h0M102.2 603.3h0M96.9 587.8h0M112.3 566.5h0M159.1 532.5h0M80.2 607.1h0M143 550.4h0M94.1 582.5h0M99.6 599.8h0M76.5 588.6h0M77.9 613.3h0M92 591.8h0M210.9 483.1h0M81.2 602.6h0M62.7 603.4h0M194.9 501.5h0M94.7 589.9h0M59.4 623.2h0M148.2 538.2h0M127.3 565.2h0M122.7 552.6h0M209.7 481.6h0M89.5 608.4h0M129.2 561.6h0M103.9 582.3h0M103.3 572.4h0M86.2 607.4h0M115 577.6h0M84.4 612.5h0M92.9 574.7h0M88.2 602.1h0M149.1 526.1h0M155.7 539.3h0M109.5 583.1h0M109.9 588.8h0M180.9 518.5h0M72 611.3h0M140.8 560.6h0M151 548.4h0M83.8 617.1h0M124.8 566.9h0M100.8 593h0M69.6 601.7h0M88.6 583.4h0M171.3 527.3h0M113.9 570.4h0M106.8 582.7h0M93 593.6h0M94.5 592.3h0M63.7 618.6h0M81.6 592.3h0M102 569.2h0M158.9 543.1h0M74.8 614.5h0M102.5 584.5h0M115.7 552.2h0M121.2 568.9h0M141.9 561.9h0M102.1 584.6h0M76 626.6h0M80.4 586.6h0M99.7 600.6h0M65.5 600.6h0M212.7 478.3h0M63.4 632.2h0M114.7 555.1h0M88.6 589.3h0M143.1 545.4h0M88.6 584.2h0M93.7 583.2h0M144.3 531.5h0M99.9 590h0M119.5 573.3h0M67.6 619h0M90.5 611.6h0M63.3 616.2h0M78 601.3h0M164 535.4h0M122.6 565.4h0M113.7 584.6h0M67.6 613.8h0M77.2 616.7h0M95.9 599.9h0M84.4 613.1h0M107.3 584.8h0M100.8 582.7h0M78.2 604h0M85 608.2h0M94.6 606.9h0M114.6 569.2h0M166.8 527.2h0M115.5 576.3h0M114.2 577.4h0M147 548.7h0M112 570.7h0M83.3 610.3h0M141.2 545.5h0M84.3 612.4h0M132.6 552.8h0M82.2 606.3h0M169.9 522.8h0M88 611.7h0M122.8 587.4h0M96.1 599h0M122 567.4h0M74.7 611.3h0M71.6 616.5h0M77.1 602.5h0M94.8 581.6h0M79.8 600.6h0M64.5 611.2h0M82.7 587.4h0M161.8 546.4h0M163.3 525h0M137.4 553.1h0M68.4 624.3h0M122.5 571.8h0M56.4 624h0M147 543.7h0M143.5 562.6h0M104.8 579h0M95.7 604.5h0M126.3 556h0M79.4 602.3h0M77.6 618.8h0M89 573h0M84.6 602h0M166.5 529h0M153.5 539h0M86.9 588.4h0M75.9 616.9h0M115 576.9h0M132.3 553.1h0M67.6 612h0M98.8 571.6h0M139.4 553.3h0M84.8 594.6h0M68.4 611.1h0M165.1 531.1h0M177.4 513.4h0M89.3 589.3h0M126.2 557.1h0M75.3 594.3h0M56.6 626.5h0M134.1 564.7h0M146.1 567h0M132.3 546.9h0M205.1 490.1h0M73.9 614.2h0M135.1 554.9h0M108.2 570.4h0M110.1 582.3h0M87.9 587h0M147.4 543h0M170.5 525.6h0M161.7 510.5h0M140.2 528.6h0M95.4 581.6h0M164.4 539.2h0M177.1 510.4h0M129.5 567.5h0M87.4 610.4h0M90.1 594.7h0M110.8 579.7h0M120.2 577.3h0M130.5 562.5h0M96.3 586.4h0M162.7 534.6h0M86.3 593h0M118.3 564.9h0M77.7 616.3h0M117.7 572.7h0M152.5 535.3h0M119.4 573.5h0M83.2 599.8h0M98.4 584.3h0M134.7 551.1h0M175.2 522.7h0M172.5 511.7h0M113.3 577.4h0M68 625.8h0M94.6 570.8h0M170.1 511.2h0M140.8 548.7h0M152.9 547.1h0M117.7 574.7h0M113.2 571.7h0M176.6 516.9h0M129.6 573h0M99 590.4h0M149.1 535.5h0M164.3 518.8h0M100.4 605.7h0M69.7 619.7h0M165.2 529.9h0M66 625.4h0M138.7 554.3h0M173 518.6h0M95 604.2h0M145.4 531.1h0M84.7 604.3h0M148.7 534.2h0M98.8 594.6h0M179.3 516.3h0M178.1 513.2h0M175.5 517.7h0M77.5 619.3h0M93.4 588.1h0M103.4 583.5h0M147.5 549.3h0M123.8 570.7h0M113.5 572.4h0M192.1 503.9h0M83.5 599.1h0M115.7 557.9h0M192.6 505.7h0M98.8 589.5h0M137.3 541.2h0M124 560.4h0M89.2 609.9h0M144.5 547.2h0M112.3 601.1h0M159.2 542.4h0M81.3 599.3h0M75.7 612.7h0M107.6 590.7h0M187.5 501.3h0M126.8 549h0M143.6 542h0M59.6 626.5h0M88.4 606.8h0M167 525.3h0M109.5 577.4h0M119.2 591.3h0M58.6 626.4h0M186 513.4h0M107.5 579.7h0M116.3 587.6h0M152.4 539.3h0M124.1 587h0M104.8 572.4h0M94.6 586.9h0M87.1 620.9h0M159.1 517.5h0M106.2 569.8h0M91.1 599.3h0M103.6 597.8h0M74.7 603.8h0M109.6 576.4h0M180.5 516h0M173.7 525.2h0M116.5 567.6h0M98.1 590.9h0M102.5 594.5h0M153.7 541.4h0M136.3 545.4h0M141.5 541h0M135.3 549.8h0M95.7 582.3h0M82.1 601h0M113.1 578.4h0M179.2 511.7h0M128.6 567.7h0M106.7 580.1h0M135.3 554.4h0M71 610.4h0M138.8 546.6h0M130.2 556.6h0M161.9 532.7h0M99.4 594.3h0M117.7 571.5h0M140.4 552.6h0M66.4 627.6h0M137.7 549.8h0M187.7 506.7h0M94.1 578.2h0M128.5 570.8h0M145.3 550.5h0M164.7 533.2h0M140 557.5h0M163.3 532.9h0M119.9 562.8h0M116.7 573.1h0M117.8 570.3h0M130.9 566.5h0M145.7 540.8h0M121.7 557.4h0M99.6 578.6h0M146.3 526h0M79.9 602.5h0M64.7 611.2h0M102.7 586.6h0M92.1 578.4h0M71.6 615h0M105.4 593.6h0M100.3 577.4h0M89.4 606.4h0M102.2 566h0M119.3 574.4h0M63.8 608.9h0M119.7 569.7h0M87.6 613.1h0M73.2 601.7h0M204.7 490.5h0M94.1 586.7h0M142.5 548.4h0M123.2 558.9h0M95.1 587.5h0M139.6 547.8h0M135.1 561.6h0M113 573.4h0M125 563.7h0M155.1 528.2h0M132 565.2h0M83.5 607.7h0M103 584.7h0M130.4 567.1h0M151.5 543.1h0M116.4 565.8h0M96.7 568.6h0M140.8 557.2h0M106.9 587.4h0M161.9 528.5h0M184.6 512.6h0M105.1 572.9h0M80 610.5h0M148.2 556.2h0M57.4 622.9h0M189 500.9h0M120.4 568h0M150.7 537h0M153.8 532.4h0M64.8 619.5h0M120 560.4h0M102 581h0M127.3 539.5h0M97.1 589.2h0M151.6 540.6h0M69.4 611.9h0M60.7 619.5h0M155.3 534.9h0M62.7 624.5h0M89.4 588.4h0M110.3 588.1h0M169.4 531.1h0M93.6 597.8h0M160.5 519h0M140.6 543.1h0M74.1 593h0M146.8 535.4h0M203.9 499h0M77.9 616.1h0M170.2 524.5h0M68.3 618.2h0M92.1 587.5h0M211.9 483.4h0M157.7 539.2h0M166.3 519.7h0M120.3 578.7h0M89.5 591.4h0M145.7 543.4h0M143 552.1h0M129 568.3h0M80.1 604.4h0M77.9 608h0M107.8 585.1h0M106.7 570.4h0M61 620.4h0M106.9 587h0M75.5 608.3h0M153.9 529.8h0M146.4 544.3h0M211.8 485.2h0M118.4 558.9h0M82.4 609.9h0M112.7 588.8h0M74.7 610.3h0M134.6 554.7h0M158.8 529h0M138.6 553.5h0M57.5 627.9h0M196.1 487.9h0M146.5 536.2h0M105.6 596h0M67.6 609.7h0M108.3 576.6h0M138.8 563.3h0M97.2 603.1h0M130.3 552.5h0M151.4 544.3h0M137.8 540.2h0M70.8 623h0M145.6 552.9h0M103.3 579.6h0M63.4 629.3h0M68.2 622.2h0M63.1 627.9h0M141.9 539.3h0M112.8 561.7h0M143.9 545h0M91.5 604.3h0M108.9 570.8h0M80.1 600.7h0M140.8 556.8h0M193.5 491.9h0M117.7 594.3h0M170.8 514.3h0M83.8 581.5h0M120.5 567.1h0M64.5 615.3h0" fill="none" stroke="#898b8d" stroke-width="3.1" stroke-linecap="round" opacity="0.5"/>
<path d="M159.9 528.7h0M57 621.9h0M135.9 556.2h0M160.6 529.7h0M146.9 561.9h0M187.2 509.4h0M104.6 587.4h0M116.2 595.8h0M73.2 622.9h0M130.8 554.3h0M83.4 617h0M114.3 571.7h0M75.8 595.2h0M138.4 557.4h0M166.6 531.5h0M91.9 572.6h0M67 620.7h0M140.5 543h0M65.9 614.5h0M85.1 580.8h0M66.5 604h0M76.9 607.6h0M131.3 567.1h0M148.3 547.3h0M122 562h0M84.2 591.4h0M82 591.6h0M107.8 581.8h0M153.4 542.4h0M103.7 580.7h0M118.5 567h0M79.5 616.5h0M111.7 585.5h0M125.2 561h0M92.4 598.1h0M142 538.1h0M57.8 619.8h0M102.5 583.1h0M144.9 537.6h0M105.1 589.8h0M57 626.4h0M106.6 585.4h0M148.7 538.8h0M83.5 592h0M88.5 604.8h0M83.4 603.5h0M108 568.9h0M139.2 574.7h0M79.5 611.9h0M134.2 580.3h0M124.6 572h0M86.9 597.1h0M75.2 628.9h0M80.7 615.7h0M69 606h0M120.1 548.1h0M154.4 535h0M109 567.2h0M167 524.7h0M72.5 612.5h0M128.9 553.2h0M123.5 556h0M115.5 575.9h0M125.3 567h0M67.4 631.7h0M108.1 584.9h0M145.3 548h0M112.9 571.8h0M171 525.3h0M92.8 579.5h0M110.2 591.9h0M126.2 550.9h0M94.4 597.6h0M184.8 515.2h0M74.9 620.9h0M57 617.9h0M145.8 539.2h0M76.7 622.5h0M100.4 584.6h0M197.7 490.8h0M76.1 594h0M108.2 580.9h0M119.9 563.9h0M147 558.2h0M64.5 615.2h0M111 580.9h0M107.2 568.2h0M106.9 576.4h0M145.6 540h0M177.5 511.3h0M210.6 485.3h0M87.9 616.3h0M79.9 599.9h0M108.7 568.7h0M101.8 556.7h0M102.8 595.5h0M110.7 570.6h0M113.5 588.7h0M102.1 594h0M95.3 594.3h0M113.5 571.1h0M163.3 525.1h0M82.8 607.6h0M173.3 525.1h0M74.1 622.3h0M160.2 536.2h0M132.2 543.3h0M168.5 519.8h0M133.9 560h0M154.7 545.7h0M92.3 586.3h0M120.4 583.4h0M175.3 517.7h0M178.2 518.1h0M91.1 614.4h0M103 591.7h0M171 519.5h0M98.4 587.9h0M95.7 592.7h0M132.7 548h0M135.6 547.8h0M133.5 555h0M94.8 610.2h0M121.5 565.6h0M175.3 512.7h0M64.6 617.1h0M102.5 579.1h0M80.8 613.3h0M126.4 583h0M119.8 580.9h0M161.8 525.7h0M127.6 573.6h0M124.7 587.3h0M170.1 517.6h0M145.8 561.8h0M167 527.2h0M99.8 577.3h0M170.7 507.6h0M67 616.5h0M96.9 598.2h0M100.9 571.9h0M111.6 559.2h0M118.8 579h0M112.5 585.5h0M139.3 546.4h0M105.6 588.9h0M152.3 538.3h0M161.2 529.4h0M92.6 597.5h0M169 531.4h0M114 582h0M142.1 550.6h0M62.3 616.9h0M86.6 615.4h0M94.1 595.7h0M125.1 556h0M60.8 625.4h0M56.6 618.3h0M127.9 550.8h0M144.2 548.2h0M70.3 616.1h0M108.3 599.4h0M110.4 560.7h0M74.9 615.3h0M176.2 519.8h0M75.9 608.2h0M135.2 560h0M106.4 574.5h0M93.6 578.3h0M110.1 596.3h0M70 631.5h0M108.7 586.1h0M106.6 558.7h0M130 567.9h0M105.1 589.9h0M118.2 571.4h0M62.3 612h0M190.4 505.3h0M95.9 595.5h0M108.1 577.5h0M199.7 489.6h0M102.8 597.5h0M75.7 595.4h0M144.1 540.6h0M82.7 584.6h0M102.1 574.3h0M82 601.9h0M144.3 545.6h0M55.8 623.6h0M68.8 598.7h0M84.4 588.5h0M63.4 615.9h0M144.1 550.8h0M129.6 550.7h0M75.2 614.4h0M143.2 542h0M194.2 493.6h0M146.4 541.1h0M111 571.9h0M135.2 562.1h0M70.8 626.4h0M96.7 579.6h0M74.3 620.6h0M188.7 510.3h0M144.6 549.6h0M136 563.8h0M84 586.9h0M192.8 500.3h0M86.8 605.4h0M66.7 609.6h0M106.8 575.2h0M142.1 544.5h0M96.2 592.2h0M73.6 618.7h0M140.1 554.3h0M128.1 553.5h0M65 595h0M179.8 520.7h0M89.5 610h0M66.3 601.3h0M106.8 606.4h0M76.1 595.3h0M98 582.1h0M156.7 536.3h0M187.5 517.4h0M132.3 559.7h0M128.8 563.2h0M65.7 620.7h0M142.5 553h0M126.3 562.8h0M124.6 565.4h0M176.5 517.3h0M128.6 558.7h0M130.6 551.6h0M162.8 528h0M62.4 625.7h0M101.5 578.1h0M80.2 614.3h0M115.7 568.7h0M172.8 513h0M83.6 600.2h0M179.4 520.9h0M167.6 512.1h0M85 612.4h0M82.2 614.4h0M87.3 598.7h0M182.1 511.3h0M88.8 590.3h0M170.7 516.9h0M156.7 547.2h0M98 592.2h0M121.5 584.1h0M167.3 519h0M107.1 568.6h0M166 530.2h0M60.5 612.8h0M78.6 586.4h0M97.8 594h0M107.6 581.4h0M132.4 565.1h0M121.3 555.6h0M158 525.1h0M100.1 582.9h0M86.3 615.6h0M88.4 600.2h0M100.5 593.8h0M130.4 545.4h0M114.4 561.2h0M84.6 603.3h0M110.9 573.6h0M74.3 614.4h0M169.5 522.2h0M93.6 602.1h0M142.2 547.9h0M99.2 570.9h0M146.1 537.4h0M78.7 622.3h0M75.6 611.4h0M186.1 516.4h0M80 608.9h0M70.9 612.5h0M93.5 597.5h0M91.8 596.9h0M157.3 529h0M88.5 607.8h0M137 544.2h0M152.1 534.9h0M123.7 571.9h0M86.7 598.2h0M107.5 570.7h0M88.4 600.1h0M70.1 619.9h0M83.9 602.7h0M81.2 594h0M111.6 561.3h0M129.9 563.6h0M78.3 612.4h0M142.5 554.1h0M181.6 511.2h0M126.7 555h0M102.8 586.4h0M115.5 581h0M147.9 540.7h0M98.2 593h0M107.2 567.7h0M122.3 577.4h0M162.4 542.9h0M145.6 544.6h0M95.4 580h0M68.8 613.1h0M96.5 584.8h0M117.9 591h0M128.9 567.6h0M108.7 565.5h0M148.6 556.7h0M80 597.9h0M202.1 488.8h0M180.7 515.2h0M67.3 617.4h0M84.9 596.7h0M104.2 580.5h0M149 549.3h0M135.4 558.9h0M129.7 556.3h0M94.3 588.3h0M126.1 580.9h0M145.5 546.7h0M111.9 573.7h0M74 619.8h0M148.2 537.4h0M87 591.3h0M196.7 495.6h0M149.7 548.7h0M86.9 599.6h0M62.7 599.7h0M155 531h0M61.5 614h0M146.1 547.9h0M177.4 502.7h0M129.4 541.2h0M166.7 524.5h0M169.8 518.3h0M89.6 597.1h0M185.3 521.4h0M128.6 564.3h0M92 589.9h0M70.8 629.6h0M126.7 562.3h0M198.1 502.5h0M122.3 550.6h0M163.5 527.9h0M119.8 574.5h0M57.2 618.2h0M83.6 612.4h0M83.3 578.2h0M88.2 615h0M145.2 552.9h0M87.9 585.5h0M161.6 536.9h0M73.8 597.2h0M115.2 562.2h0M158.4 532.8h0M142.3 548.5h0M106.3 562.1h0M66.4 625.1h0M70.5 612.2h0M147.8 533.1h0M66.5 597.1h0M159.2 542.8h0M81.8 611.3h0M132.3 553.2h0M113.6 576.4h0M155.6 525h0M116.9 580.1h0M162.7 530.3h0M107.2 569.4h0M192 492.3h0M67.3 610.6h0M62.7 620.4h0M56.5 616.1h0M189.3 519.4h0M76.7 603.4h0M90.7 590.5h0M89.7 588.3h0M67.1 604.9h0M109.1 572.5h0M64.9 611h0M115.7 571.8h0M151.3 544.1h0M105.2 586.7h0M113.5 578.9h0M159.1 538.2h0M72.5 610.2h0M91.8 592.5h0M73.1 595.6h0M124.1 558h0M107.4 567.5h0M152.3 540.2h0M67.9 599.1h0M88 586h0M71.4 625.8h0M86.5 599.7h0M79.6 602.2h0M125.7 553.1h0M89.9 607.8h0M81 607.3h0M69.4 611.2h0M95.1 589h0M92.8 588.6h0M138.4 558.4h0M114.9 561.9h0M140 544.8h0M107.1 591.1h0M162.4 535.5h0M131.4 561.5h0M139 535.9h0M98.3 597h0M91.3 578.2h0M112.2 577.7h0M101.6 594.6h0M57.5 618.5h0M96.4 597.4h0M155.5 548.3h0M153.6 540.2h0M80.2 598.2h0M119.3 569.9h0M159.8 545.5h0M145.5 538.6h0M132.7 559.3h0M183.2 507h0M103.9 588.6h0M120.5 568.3h0M96 586.2h0M136.7 557.1h0M122.9 568.5h0M101.4 579.2h0M85.5 589.6h0M101.5 588.8h0M114.9 555.9h0M74.2 595.8h0M146.3 539.1h0M100.8 563.2h0M143.7 542h0M106 573.9h0M141.8 546.7h0M126.6 568.8h0M112.3 589.7h0M67.3 617.1h0M131.2 566.8h0M142.2 542.9h0M87.3 595.2h0M151.4 544.1h0M135.9 566.7h0M62.6 602.6h0M70.8 601.6h0M106.1 575.7h0M131.3 563.2h0M62.3 605.6h0M110.1 592.4h0M172.7 526.2h0M78.6 613.1h0M92.9 590.8h0M137 559.5h0M69.7 624.7h0M147.1 530h0M126 571h0M87.6 615.9h0M70.7 628h0M66.1 614.6h0M160.1 527h0M156 548.5h0M89.4 604.8h0M141.9 548.4h0M81.2 591.8h0M127.9 572.5h0M161.2 525.5h0M69 623.8h0M102.9 582.5h0M105.9 563.4h0M112.2 578.7h0M152.7 549.1h0M97.9 590.1h0M65 625.7h0M92 573.9h0M92.5 606.5h0M94.9 578h0M108.3 578.7h0M131.3 554.1h0M72.6 608.1h0M143.7 541.1h0M103 585.3h0M126.4 546.2h0M93.2 584.3h0M95.4 599.8h0M95.5 599.5h0M144.9 534.2h0M87.3 598.4h0M117.8 558.6h0M142.2 542.4h0M154.3 540.5h0M85.2 598.2h0M85 595.7h0M141.6 530.4h0M180.3 519.6h0M88.4 597.1h0M147.8 545.7h0M149.1 548.6h0M64.2 615.5h0M86.4 594.5h0M122.2 561.3h0M138.1 551.6h0M108.4 573.2h0M111.1 576.8h0M130.8 547.1h0M103.1 568h0M101.3 593.6h0M92.8 602.6h0M160.4 539.3h0M84.8 612.5h0M173.4 511.7h0M77.5 613.5h0M104.8 585.5h0M105.9 589.6h0M111.8 575.1h0M55.6 619.3h0M63.8 619.4h0M78.7 607h0M113.8 577.8h0M104.8 573.9h0M99.4 591.8h0M140.4 547h0M144.3 539h0M102.9 586.1h0M95.2 608.7h0M176.8 510.6h0M86.1 599.8h0M128.1 551.2h0M111 580.8h0M152.8 542.7h0M137.4 547.2h0M99.2 560.5h0M170.2 520.9h0M145.9 534.4h0M147 536.9h0M121.8 568.2h0M108.6 572.5h0M176.6 516.7h0M152 553.2h0M119.1 562.5h0M71.7 593.2h0M68.1 623h0M100.2 584.1h0M100.3 568.3h0M96.6 589.2h0M136.8 547.6h0M68.6 603.2h0M124.6 556.5h0M102.7 577h0M61.8 609.4h0M105.6 577.8h0M107.9 581.3h0M125.3 562.6h0M143.7 554.7h0M79.5 616.7h0M188.1 508.9h0M82.9 601.8h0M164.2 527.7h0M158.6 532.7h0M111.3 574.7h0M155.5 537.3h0M120.3 571.5h0M92.2 573.1h0M70.5 614.9h0M71.7 593.2h0M90.7 604.4h0M103.6 588.6h0M170.5 527.3h0M114.1 578.2h0M64.2 613.8h0M122 562.3h0M152.2 547.8h0M139 551.3h0M163.5 534.8h0M107.7 575.7h0M91.2 592h0M145.7 543.8h0M64.5 617.3h0M82.2 610.4h0M102.3 584.1h0M170.1 530.2h0M78.6 620h0M75.9 601.8h0M132 555.5h0M126.1 538.8h0M89.6 591.4h0M159.7 534.2h0M83.9 607.1h0M100.5 597.9h0M131 565.4h0M108.9 568.1h0M87.1 603.5h0M167.7 528.5h0M86.6 591.3h0M122.6 556h0M139.2 555.9h0M63.5 620.5h0M153.5 536h0M119.3 568.2h0M187.7 502.6h0M67.3 611.7h0M94.3 581h0M130.1 567.1h0M139.7 547.3h0M109.7 590h0M72.5 615.6h0M148.1 530.1h0M125.7 579h0M120.7 568.6h0M136.5 549.4h0M85.6 609.2h0M73.7 600.8h0M106.2 593.5h0M65.5 630.6h0M174 526.3h0M84.1 584.1h0M100 584.5h0M149.9 534.2h0M61.8 627.7h0M78.8 615.1h0M156.1 525.4h0M203.9 486.5h0M135.2 552.4h0M139.4 554.3h0M187.6 504.7h0M116 571.4h0M199 495.1h0M91.8 614.2h0M118.7 578.7h0M163 519.1h0M81.3 592.1h0M153.9 544.6h0M69.5 610.2h0M106.1 581.5h0M65.9 619.6h0M117.7 581.9h0M161.3 533.9h0M102.1 586.6h0M109.9 571.9h0M111.2 565.4h0M112.7 585.4h0M92.3 586.4h0M176.4 517.6h0M153.7 527.8h0M149.9 540.8h0M118.9 560.7h0M70.2 600.5h0M138.2 549.5h0M203.1 489.3h0M145.6 555h0M113.9 590.5h0M134.9 557.1h0M126.4 566.2h0M120.3 564.2h0M153.6 540.1h0M101 579.3h0M138.3 549.2h0M175.6 519.6h0M107.1 580h0M146.8 536.5h0M123.9 577.6h0M160.6 533.6h0M131.5 554.5h0M128.1 567h0M90.4 596.7h0M170 517.9h0M150.1 540.1h0M101.6 569.8h0M127.2 560.1h0M141.6 556.7h0M145 557.7h0M140.7 573.1h0M83 599.5h0M61.9 605.8h0M124.1 560.7h0M147.7 553h0M145.6 545.3h0M86.6 606.9h0M180.7 517h0M137.9 550.2h0M159.6 527.4h0M169.7 522.7h0M118.2 554.9h0M142.2 551.5h0M121.3 576.2h0M192.7 508.1h0M173.2 528.6h0M98.2 588.3h0M74.6 603.3h0M144.2 551.4h0M121.4 547.4h0M75 600.8h0M104.4 586.3h0M160.1 543.1h0M122.6 563.8h0M136.1 549.3h0M122.4 557.1h0M148.3 548.7h0M136.3 557.9h0M172.9 528.6h0M89.3 595.9h0M129.4 553.5h0M130.3 551.8h0M89.7 591h0M67.4 593.4h0M70.6 608.5h0M66.5 619.5h0M80.6 599.5h0M88.4 603h0M105.6 583.8h0M147.4 548.4h0M115.8 561.5h0M68.8 613.7h0M87.2 604.4h0M67.1 618.4h0M104.1 601.7h0M117.6 574.2h0M168.1 528.5h0M121.4 546.1h0M91.1 600.5h0M124 578h0M115.7 568.5h0M109.8 589.1h0M165.1 527.5h0M63.2 626.3h0M133.3 553.1h0M184.1 502.7h0M78.2 602.6h0M98.5 595.9h0M76.5 624.9h0M106.3 582.5h0M88.7 604.6h0M93.4 592.7h0M168 528.3h0M82.8 593.5h0M162.7 527h0M75.9 595h0M134.7 577.6h0M140.9 549.2h0M85.6 608.5h0M131.5 562.3h0M121.8 586.9h0M149.1 549.3h0M105.6 588.1h0M117.3 581.6h0M104.4 599.1h0M70.1 614.6h0M57 616.9h0M134.9 565.2h0M145.7 542.8h0M105.5 592.5h0M75.2 601.5h0M90 593h0M62 628.2h0M121.2 565.1h0M163.8 534.5h0M115.7 592.9h0M209.7 485.6h0M61.5 609.5h0M132.2 559.3h0M139.9 564.9h0M195.4 504.9h0M127.5 557.9h0M104.5 577.2h0M73.3 614.3h0M68.8 628.7h0M91.2 611.3h0M101 587h0M81.2 586.3h0M199.8 496.4h0M117.7 560.2h0M148.5 545.4h0M131.3 559.8h0M172.2 526.3h0M159.5 528.1h0M131.9 575.4h0M73.4 621.3h0M129.3 554.5h0M112.1 582.1h0M133 571.2h0M106.2 584.8h0M108.8 587h0M113.1 574.2h0M128.2 568.7h0M76.3 609.2h0M143.2 553.2h0M153.6 537.7h0M162.6 549.4h0M98.9 582.5h0M155.5 522.8h0M128.6 561.9h0M149.7 537.2h0M140.7 546.5h0M113.6 563.1h0M97.5 585.4h0M170.1 523h0M135.8 551.6h0M140.2 550.2h0M150.4 539.3h0M211.6 481h0M129.9 563.9h0M117.3 575.8h0M104.2 580h0M190.7 499.8h0M191 494.7h0M207 494.2h0M154 529.4h0M66.4 623.7h0M150.9 540h0M86.1 596.6h0M150.6 536.9h0M121.4 574.8h0M56.8 625.4h0M99.9 587.5h0M115.2 559.4h0M133.3 557.4h0M154 545.1h0M145.7 555.4h0M144.3 556.6h0M149.8 531.8h0M92.6 589.6h0M102.1 589.8h0M84.9 611.5h0M92.4 587.7h0M137.3 562.3h0M141.7 540.9h0M98.8 587.1h0M136.1 546.9h0M169.2 531h0M157.5 544.2h0M101.2 573.8h0M117 577.8h0M113.7 580.5h0M80.1 598.9h0M188.2 503.6h0M107.2 573.8h0M101.7 588.1h0M132.4 560.3h0M140.6 563.3h0M99.9 593.1h0M103 590.2h0M146.3 557.1h0M104.8 570.5h0M142.9 551.2h0M169.5 524.4h0M148.6 568.3h0M176.7 519.2h0M150.2 537.4h0M85.3 598h0M197.1 496.1h0M117.2 578.3h0M136.9 545.4h0M67.5 612.9h0M114.7 563.7h0M130.2 557.6h0M161.6 550.5h0M120.7 563h0M119.6 581.7h0M123.6 565.5h0M125.5 569.7h0M151.4 537.7h0M140.5 549.6h0M147.4 551.8h0M113.2 567.5h0M72.6 619.4h0M181.7 514.4h0M168 520.1h0M124.6 554.7h0M169.6 517.2h0M100.8 598.4h0M161.8 538.3h0M111.1 565.8h0M169 525.8h0M148.7 540.4h0M114.3 585.8h0M129.5 574.4h0M97.2 605.7h0M157.5 529.4h0M134.3 552.9h0M79.9 607.2h0M98.8 582.4h0M149 549h0M129.6 544.5h0M169.6 518.1h0M181.5 499.5h0M75.3 619.7h0M108 581h0M71.6 601h0M85.1 593.5h0M139.8 551.6h0M172.4 517.8h0M146.1 556.3h0M157.1 524.5h0M182.2 507.5h0M187.4 506.8h0M84.6 615.1h0M105.9 591.4h0M164.3 530.5h0M101.9 600.1h0M137.7 563.1h0M115.5 585.1h0M105.3 590h0M106.8 583.7h0M90.7 592.8h0M156.7 529.7h0M69.9 622.7h0M74.4 624.2h0M188.7 503.4h0M155 537.6h0M129.6 539.9h0M119.6 568h0M77.3 619.1h0M157.7 542h0M82.5 594.5h0M87.9 602.7h0M103.9 588.4h0M191.3 500.8h0M60.1 622.2h0M87.9 598.4h0M95.8 598.9h0M136.2 555.4h0M119.6 583.2h0M103.6 584.8h0M116 564.4h0M107.9 588.2h0M124.5 564.1h0M136.5 564.5h0M96.3 598.9h0M73.2 609.2h0M120.4 585.4h0M81.5 606.6h0M137.7 567.2h0M82.7 596.8h0M80 610.7h0M109.4 568.3h0M167.7 538.1h0M185.6 502.9h0M122.5 563.6h0M131.5 566.5h0M142.7 549.5h0M97.8 594.5h0M151.3 530.6h0M90.2 610h0M78.4 606.7h0M146.6 539.4h0M142.4 541.4h0M129.7 562.9h0M78.8 624.4h0M121.9 553.2h0M141.9 554h0M202.8 492.3h0M117.2 561.2h0M126 574.9h0M120 572.4h0M97.2 587.9h0M134 567.5h0M166.2 529.9h0M92.8 598.4h0M173.9 515.3h0M190.9 498.5h0M70.5 624.2h0M113.7 564h0M180.7 515.7h0M97 567.7h0M130.2 557.4h0M184.3 504.7h0M170.7 515.8h0M118 572.2h0M60.5 615.6h0M106.8 595.8h0M72.2 611.9h0M108.2 578.6h0M106.8 592.7h0M137.2 550.9h0M124.7 578.4h0M92.6 603h0M95.8 577.9h0M111.2 600.1h0M62.2 621.4h0M104.4 593.8h0M173.5 519.4h0M61.1 616.6h0M157.1 532.4h0M87.7 603.3h0M133.6 548.8h0M107.1 580.6h0M192.6 495.6h0M76.2 602.4h0M112.5 576.4h0M117.8 568.6h0M149.1 528h0M104.3 588.2h0M181.6 515.8h0M102.4 611.2h0M129.4 556.7h0M95 608h0M81.3 608.8h0M129.3 556.3h0M123.4 564.3h0M139.1 545.2h0M79.5 601.7h0M174.9 519.2h0M184.4 509.4h0M68.1 607.8h0M183.6 516.4h0M130 545.2h0M64.1 613.5h0M88.9 598.5h0M111.9 589.2h0M98.3 603.5h0M177 500h0M131.3 551.3h0M81.1 608.8h0M95.7 591.7h0M112.7 581.2h0M142.8 558.7h0M95 591.9h0M128.1 560.3h0M131.2 562.8h0M137.7 541.3h0M160.1 544.4h0M74.4 613.4h0M97 572.2h0M140.2 560.1h0M101.7 574.1h0M133.9 563.5h0M129.8 562.6h0M150.1 539.5h0M105.5 586.7h0M198.5 498.5h0M107.3 577.6h0M159 545.2h0M142.5 551.7h0M130.8 560.1h0M157.6 548.3h0M173.5 516.8h0M133.6 566.3h0M121.4 561.7h0M127.4 566.8h0M97.2 580.2h0M89.5 599.5h0M155.4 543.1h0M148.9 532.5h0M55.9 620.1h0M78.2 595.2h0M92 585.9h0M115.6 572.5h0M157.1 535.2h0M82.6 604.9h0M130.7 547.8h0M75 608.1h0M174.5 531.2h0M169.1 533.7h0M89 579.5h0M120.1 568h0M170.2 522.7h0M99.8 593.6h0M131.3 578.8h0M121.3 567.6h0M159.1 521.6h0M130.5 554.5h0M202.9 500h0M98.6 582.1h0M208.7 492.4h0M81.7 597h0M112.3 586.7h0M93.6 598.8h0M183 517.2h0M184 509.2h0M119.2 562h0M92.9 590.7h0M71.3 604h0M136.8 556.9h0M113.9 580.7h0M136 554.5h0M208.1 489.7h0M82.4 613.6h0M95.6 597.3h0" fill="none" stroke="#898b8d" stroke-width="3.1" stroke-linecap="round" opacity="0.5"/>
<path d="M42,467.8 L42,647 L222.4,647" fill="none" stroke="#111" stroke-width="1.1"/>
<line x1="42" y1="647" x2="222.4" y2="467.7" stroke="#000" stroke-width="1.7"/>
<line x1="39.6" y1="616.56" x2="42" y2="616.56" stroke="#111" stroke-width="1.1"/>
<line x1="73.52" y1="647" x2="73.52" y2="649.6" stroke="#111" stroke-width="1.1"/>
<text x="35.8" y="620.26" font-size="10.2" text-anchor="end" textLength="10.25" lengthAdjust="spacingAndGlyphs" fill="#231f20">-4</text>
<text x="73.52" y="662.4" font-size="10.2" text-anchor="middle" textLength="10.25" lengthAdjust="spacingAndGlyphs" fill="#231f20">-4</text>
<line x1="39.6" y1="569.6" x2="42" y2="569.6" stroke="#111" stroke-width="1.1"/>
<line x1="120.4" y1="647" x2="120.4" y2="649.6" stroke="#111" stroke-width="1.1"/>
<text x="35.8" y="573.3" font-size="10.2" text-anchor="end" textLength="6.41" lengthAdjust="spacingAndGlyphs" fill="#231f20">0</text>
<text x="120.4" y="662.4" font-size="10.2" text-anchor="middle" textLength="6.41" lengthAdjust="spacingAndGlyphs" fill="#231f20">0</text>
<line x1="39.6" y1="522.64" x2="42" y2="522.64" stroke="#111" stroke-width="1.1"/>
<line x1="167.28" y1="647" x2="167.28" y2="649.6" stroke="#111" stroke-width="1.1"/>
<text x="35.8" y="526.34" font-size="10.2" text-anchor="end" textLength="6.41" lengthAdjust="spacingAndGlyphs" fill="#231f20">4</text>
<text x="167.28" y="662.4" font-size="10.2" text-anchor="middle" textLength="6.41" lengthAdjust="spacingAndGlyphs" fill="#231f20">4</text>
<line x1="39.6" y1="475.68" x2="42" y2="475.68" stroke="#111" stroke-width="1.1"/>
<line x1="214.16" y1="647" x2="214.16" y2="649.6" stroke="#111" stroke-width="1.1"/>
<text x="35.8" y="479.38" font-size="10.2" text-anchor="end" textLength="6.41" lengthAdjust="spacingAndGlyphs" fill="#231f20">8</text>
<text x="214.16" y="662.4" font-size="10.2" text-anchor="middle" textLength="6.41" lengthAdjust="spacingAndGlyphs" fill="#231f20">8</text>
<text x="132.3" y="678" font-size="13.1" text-anchor="middle" fill="#231f20" xml:space="preserve" textLength="154.4" lengthAdjust="spacingAndGlyphs">Log<tspan font-size="10.22" dy="3">2</tspan><tspan dy="-3">(nsRBNS </tspan><tspan font-style="italic">R</tspan> Rep. A)</text>
<text x="15.4" y="558.1" font-size="13.1" text-anchor="middle" fill="#231f20" xml:space="preserve" transform="rotate(-90 15.4 558.1)" textLength="154.6" lengthAdjust="spacingAndGlyphs">Log<tspan font-size="10.22" dy="3">2</tspan><tspan dy="-3">(nsRBNS </tspan><tspan font-style="italic">R</tspan> Rep. B)</text>
<text x="65.4" y="501.5" font-size="13.5" textLength="46.4" lengthAdjust="spacingAndGlyphs" fill="#231f20">R=0.95</text>
<text x="66.3" y="515.9" font-size="13.5" textLength="73.6" lengthAdjust="spacingAndGlyphs" fill="#231f20">p &lt; 2.2e-16</text>
<text x="226.7" y="474.4" font-size="24" font-weight="bold" fill="#231f20">D</text>
<path d="M275 639.5 L288.2 639.5 L297.2 637.7 L301.9 635.8 L303.7 634 L305.2 632.1 L306.3 630.3 L307.2 628.5 L307.9 626.6 L308.5 624.8 L309.1 623 L309.7 621.1 L310.3 619.3 L310.8 617.4 L311.3 615.6 L311.7 613.8 L312.1 611.9 L312.5 610.1 L312.9 608.3 L313.3 606.4 L313.6 604.6 L313.9 602.7 L314.2 600.9 L314.5 599.1 L314.8 597.2 L315.1 595.4 L315.4 593.5 L315.6 591.7 L315.9 589.9 L316.1 588 L316.3 586.2 L316.6 584.4 L316.8 582.5 L317 580.7 L317.2 578.8 L317.4 577 L317.6 575.2 L317.8 573.3 L318 571.5 L318.2 569.6 L318.4 567.8 L318.6 566 L318.8 564.1 L319.1 562.3 L319.3 560.5 L319.6 558.6 L319.8 556.8 L320.1 554.9 L320.3 553.1 L320.6 551.3 L320.9 549.4 L321.1 547.6 L321.4 545.8 L321.7 543.9 L321.9 542.1 L322.2 540.2 L322.5 538.4 L322.8 536.6 L323.1 534.7 L323.4 532.9 L323.7 531 L324 529.2 L324.3 527.4 L324.7 525.5 L325 523.7 L325.4 521.9 L325.7 520 L326.1 518.2 L326.5 516.3 L326.9 514.5 L327.3 512.7 L327.7 510.8 L328.1 509 L328.5 507.1 L328.9 505.3 L329.4 503.5 L330 501.6 L330.5 499.8 L331.1 498 L331.8 496.1 L332.5 494.3 L333.3 492.4 L334.2 490.6 L335.1 488.8 L336.3 486.9 L337.8 485.1 L339.7 483.3 L342.1 481.4 L345.5 479.6 L353.2 477.7 L391.8 475.9 L447.1 475.9" fill="none" stroke="#e6e6eb" stroke-width="1.3" stroke-linejoin="round"/>
<path d="M275 639.5 L291.3 639.5 L300.8 637.7 L306 635.8 L308.2 634 L310 632.1 L311.3 630.3 L312.4 628.5 L313.2 626.6 L314 624.8 L314.7 623 L315.4 621.1 L316 619.3 L316.5 617.4 L317 615.6 L317.5 613.8 L318 611.9 L318.4 610.1 L318.8 608.3 L319.1 606.4 L319.5 604.6 L319.9 602.7 L320.2 600.9 L320.6 599.1 L321 597.2 L321.3 595.4 L321.7 593.5 L322 591.7 L322.4 589.9 L322.7 588 L323 586.2 L323.3 584.4 L323.6 582.5 L323.9 580.7 L324.2 578.8 L324.5 577 L324.8 575.2 L325.1 573.3 L325.4 571.5 L325.7 569.6 L326 567.8 L326.3 566 L326.6 564.1 L327 562.3 L327.3 560.5 L327.6 558.6 L328 556.8 L328.3 554.9 L328.7 553.1 L329 551.3 L329.3 549.4 L329.7 547.6 L330 545.8 L330.4 543.9 L330.7 542.1 L331 540.2 L331.4 538.4 L331.8 536.6 L332.1 534.7 L332.5 532.9 L332.9 531 L333.3 529.2 L333.7 527.4 L334.1 525.5 L334.6 523.7 L335.1 521.9 L335.5 520 L336 518.2 L336.6 516.3 L337.1 514.5 L337.6 512.7 L338.2 510.8 L338.8 509 L339.4 507.1 L340.1 505.3 L340.8 503.5 L341.6 501.6 L342.4 499.8 L343.3 498 L344.3 496.1 L345.3 494.3 L346.5 492.4 L347.7 490.6 L349.1 488.8 L350.9 486.9 L353 485.1 L355.7 483.3 L359 481.4 L363.4 479.6 L372.4 477.7 L412.1 475.9 L447.1 475.9" fill="none" stroke="#cad4ea" stroke-width="1.3" stroke-linejoin="round"/>
<path d="M275 639.5 L294.3 639.5 L303.8 637.7 L309.1 635.8 L311.5 634 L313.4 632.1 L314.9 630.3 L316.1 628.5 L317.1 626.6 L317.9 624.8 L318.8 623 L319.5 621.1 L320.2 619.3 L320.9 617.4 L321.5 615.6 L322 613.8 L322.5 611.9 L323 610.1 L323.5 608.3 L323.9 606.4 L324.3 604.6 L324.8 602.7 L325.2 600.9 L325.7 599.1 L326.1 597.2 L326.6 595.4 L327 593.5 L327.5 591.7 L327.9 589.9 L328.3 588 L328.7 586.2 L329.1 584.4 L329.5 582.5 L329.9 580.7 L330.3 578.8 L330.7 577 L331.1 575.2 L331.4 573.3 L331.8 571.5 L332.2 569.6 L332.6 567.8 L333 566 L333.4 564.1 L333.8 562.3 L334.3 560.5 L334.7 558.6 L335.1 556.8 L335.6 554.9 L336 553.1 L336.4 551.3 L336.8 549.4 L337.2 547.6 L337.6 545.8 L338 543.9 L338.4 542.1 L338.9 540.2 L339.3 538.4 L339.7 536.6 L340.2 534.7 L340.6 532.9 L341.1 531 L341.6 529.2 L342.1 527.4 L342.6 525.5 L343.1 523.7 L343.7 521.9 L344.3 520 L344.9 518.2 L345.5 516.3 L346.2 514.5 L346.9 512.7 L347.6 510.8 L348.4 509 L349.2 507.1 L350 505.3 L350.9 503.5 L351.9 501.6 L353 499.8 L354.1 498 L355.4 496.1 L356.7 494.3 L358.1 492.4 L359.6 490.6 L361.4 488.8 L363.5 486.9 L366 485.1 L369.2 483.3 L373 481.4 L378 479.6 L387.5 477.7 L422.2 475.9 L447.1 475.9" fill="none" stroke="#adbfe0" stroke-width="1.3" stroke-linejoin="round"/>
<path d="M275 639.5 L297.4 639.5 L306.8 637.7 L312.2 635.8 L314.8 634 L316.9 632.1 L318.5 630.3 L319.9 628.5 L321 626.6 L321.9 624.8 L322.8 623 L323.7 621.1 L324.5 619.3 L325.2 617.4 L325.9 615.6 L326.5 613.8 L327.1 611.9 L327.6 610.1 L328.2 608.3 L328.7 606.4 L329.2 604.6 L329.7 602.7 L330.2 600.9 L330.7 599.1 L331.3 597.2 L331.8 595.4 L332.3 593.5 L332.8 591.7 L333.3 589.9 L333.8 588 L334.3 586.2 L334.8 584.4 L335.3 582.5 L335.8 580.7 L336.2 578.8 L336.7 577 L337.2 575.2 L337.6 573.3 L338.1 571.5 L338.6 569.6 L339.1 567.8 L339.6 566 L340 564.1 L340.5 562.3 L341 560.5 L341.6 558.6 L342.1 556.8 L342.6 554.9 L343.1 553.1 L343.6 551.3 L344.1 549.4 L344.5 547.6 L345 545.8 L345.5 543.9 L346 542.1 L346.5 540.2 L347 538.4 L347.5 536.6 L348 534.7 L348.5 532.9 L349.1 531 L349.6 529.2 L350.2 527.4 L350.8 525.5 L351.5 523.7 L352.2 521.9 L352.9 520 L353.6 518.2 L354.4 516.3 L355.2 514.5 L356.1 512.7 L357 510.8 L358 509 L359.1 507.1 L360.2 505.3 L361.4 503.5 L362.6 501.6 L364 499.8 L365.4 498 L366.9 496.1 L368.5 494.3 L370.3 492.4 L372.1 490.6 L374.1 488.8 L376.3 486.9 L379 485.1 L382.3 483.3 L386.2 481.4 L391 479.6 L399.1 477.7 L427.3 475.9 L447.1 475.9" fill="none" stroke="#8da7d6" stroke-width="1.35" stroke-linejoin="round"/>
<path d="M275 639.5H300.4V639.1H302.8V638.7H307.7V638.3H309.8V637.9H311.8V637.6H312.1V637.2H312.3V636.8H313.5V636.4H314.1V636H314.1V635.6H314.9V635.2H315V634.8H315.3V634.4H315.9V634H316V633.7H316.2V633.3H316.5V632.9H317.6V632.5H318V632.1H318.3V631.7H319.4V631.3H319.5V630.9H320.4V630.5H320.6V630.2H321.2V629.8H321.6V629.4H322V629H322.2V628.6H322.4V628.2H322.5V627.8H323.3V627.4H323.8V627H323.8V626.6H324V626.3H324V625.9H324.3V625.5H324.5V625.1H325.1V624.7H325.1V624.3H325.3V623.9H325.3V623.5H325.8V623.1H326V622.8H326.2V622.4H326.3V622H326.4V621.6H326.5V621.2H326.7V620.8H326.8V620.4H327.1V620H327.1V619.6H327.5V619.2H327.5V618.9H327.8V618.5H328.1V618.1H328.2V617.7H328.3V617.3H328.3V616.9H328.5V616.5H328.6V616.1H329.1V615.7H329.1V615.3H329.4V615H329.5V614.6H329.5V614.2H329.6V613.8H329.6V613.4H329.7V613H329.8V612.6H329.8V612.2H329.9V611.8H330.1V611.5H330.2V611.1H330.3V610.7H330.3V610.3H330.3V609.9H330.4V609.5H330.7V609.1H330.7V608.7H330.9V608.3H330.9V607.9H331.1V607.6H331.2V607.2H331.3V606.8H331.4V606.4H331.5V606H331.6V605.6H331.8V605.2H331.9V604.8H332V604.4H332.1V604.1H332.2V603.7H332.4V603.3H332.4V602.9H332.6V602.5H332.7V602.1H332.7V601.7H332.8V601.3H333.2V600.9H333.2V600.5H333.6V600.2H333.7V599.8H333.7V599.4H333.7V599H333.8V598.6H334V598.2H334.2V597.8H334.2V597.4H334.2V597H334.4V596.7H334.5V596.3H334.7V595.9H334.8V595.5H335V595.1H335.4V594.7H335.5V594.3H335.7V593.9H335.7V593.5H335.7V593.1H336.3V592.8H336.3V592.4H336.3V592H336.4V591.6H336.5V591.2H336.7V590.8H336.7V590.4H336.8V590H337.1V589.6H337.3V589.3H337.3V588.9H337.6V588.5H337.9V588.1H338V587.7H338V587.3H338.2V586.9H338.3V586.5H338.7V586.1H338.8V585.7H339.4V585.4H339.5V585H339.7V584.6H339.8V584.2H340V583.8H340.1V583.4H340.1V583H340.1V582.6H340.2V582.2H340.4V581.9H340.7V581.5H340.7V581.1H341V580.7H341.1V580.3H341.3V579.9H341.3V579.5H341.3V579.1H341.4V578.7H341.4V578.3H341.4V578H341.7V577.6H341.8V577.2H342V576.8H342V576.4H342.6V576H342.8V575.6H343.2V575.2H343.2V574.8H343.3V574.4H343.3V574.1H343.5V573.7H343.7V573.3H344V572.9H344.3V572.5H344.4V572.1H344.5V571.7H344.6V571.3H344.7V570.9H344.7V570.6H344.8V570.2H345V569.8H345.3V569.4H345.7V569H345.8V568.6H346.1V568.2H346.4V567.8H346.5V567.4H346.5V567H346.6V566.7H347V566.3H347V565.9H347.1V565.5H347.3V565.1H347.4V564.7H347.8V564.3H348V563.9H348.1V563.5H348.4V563.2H348.5V562.8H348.6V562.4H349V562H349.1V561.6H349.1V561.2H349.2V560.8H349.2V560.4H349.6V560H349.7V559.6H349.8V559.3H350V558.9H350.1V558.5H350.1V558.1H350.1V557.7H350.3V557.3H350.4V556.9H350.7V556.5H350.7V556.1H350.8V555.8H350.8V555.4H350.8V555H350.8V554.6H351V554.2H351.2V553.8H351.5V553.4H351.5V553H352V552.6H352V552.2H352.2V551.9H352.3V551.5H352.4V551.1H352.5V550.7H352.6V550.3H352.6V549.9H352.6V549.5H352.7V549.1H352.8V548.7H352.9V548.4H352.9V548H353.1V547.6H353.2V547.2H353.2V546.8H353.4V546.4H353.4V546H353.4V545.6H353.6V545.2H353.8V544.8H354.1V544.5H354.5V544.1H354.5V543.7H354.5V543.3H354.5V542.9H354.5V542.5H354.6V542.1H355.1V541.7H355.1V541.3H355.2V541H355.3V540.6H355.4V540.2H355.5V539.8H355.6V539.4H355.6V539H355.8V538.6H355.9V538.2H356.1V537.8H356.2V537.4H356.3V537.1H356.3V536.7H356.4V536.3H356.5V535.9H356.6V535.5H356.6V535.1H356.7V534.7H356.8V534.3H356.8V533.9H356.9V533.5H357V533.2H357.4V532.8H357.6V532.4H357.6V532H357.9V531.6H358V531.2H358.3V530.8H358.3V530.4H358.5V530H358.6V529.7H359V529.3H359V528.9H359V528.5H359.1V528.1H359.2V527.7H359.3V527.3H359.6V526.9H359.8V526.5H359.8V526.1H359.8V525.8H360V525.4H360V525H360.2V524.6H360.3V524.2H360.4V523.8H360.5V523.4H360.8V523H361.1V522.6H361.1V522.3H361.2V521.9H361.3V521.5H361.4V521.1H361.5V520.7H361.7V520.3H361.8V519.9H361.8V519.5H362V519.1H362V518.7H362.9V518.4H363V518H363.5V517.6H363.9V517.2H364.1V516.8H364.1V516.4H364.1V516H364.1V515.6H364.1V515.2H364.2V514.9H364.6V514.5H364.6V514.1H365.1V513.7H365.1V513.3H365.3V512.9H365.4V512.5H365.7V512.1H366.2V511.7H366.2V511.3H366.2V511H366.2V510.6H366.4V510.2H366.5V509.8H366.8V509.4H367.3V509H367.4V508.6H367.4V508.2H367.6V507.8H368.1V507.5H368.1V507.1H368.3V506.7H368.9V506.3H368.9V505.9H369.2V505.5H369.5V505.1H370V504.7H370.3V504.3H370.3V503.9H370.7V503.6H370.8V503.2H371.2V502.8H371.3V502.4H371.3V502H371.4V501.6H372.4V501.2H373V500.8H373.3V500.4H373.3V500.1H373.6V499.7H374.2V499.3H374.4V498.9H374.4V498.5H374.7V498.1H374.7V497.7H375.5V497.3H375.9V496.9H375.9V496.5H376.2V496.2H376.3V495.8H376.3V495.4H376.4V495H376.5V494.6H376.7V494.2H377.3V493.8H377.8V493.4H378.3V493H378.6V492.6H379V492.3H379.8V491.9H379.9V491.5H380V491.1H381.3V490.7H382.6V490.3H382.8V489.9H383.3V489.5H383.8V489.1H384.4V488.8H384.4V488.4H384.9V488H385V487.6H385.3V487.2H385.7V486.8H386.2V486.4H387.7V486H388.4V485.6H388.8V485.2H388.8V484.9H390.6V484.5H390.8V484.1H392V483.7H392.1V483.3H392.4V482.9H392.8V482.5H394.1V482.1H394.8V481.7H395.3V481.4H397.7V481H397.9V480.6H398.5V480.2H399.2V479.8H399.5V479.4H402.4V479H403.7V478.6H410.2V478.2H412.3V477.8H416.8V477.5H432.4V477.1H432.4V476.7H432.4V476.3H432.4V475.9H447.1" fill="none" stroke="#6a90cc" stroke-width="1.4" stroke-linejoin="round"/>
<path d="M275 639.5H308.5V637.7H314.5V635.9H315.6V634H319.1V632.2H319.4V630.4H319.5V628.6H322.9V626.8H326V625H326.7V623.1H326.7V621.3H327.8V619.5H329.1V617.7H330.8V615.9H330.8V614.1H331.2V612.2H332.9V610.4H333.5V608.6H333.7V606.8H334.1V605H334.8V603.1H334.9V601.3H335.1V599.5H337V597.7H337.1V595.9H337.8V594.1H340.3V592.2H340.9V590.4H341.3V588.6H342.5V586.8H342.9V585H343.1V583.1H344.4V581.3H345.3V579.5H345.9V577.7H347.8V575.9H349.1V574.1H350.9V572.2H351.2V570.4H351.6V568.6H351.6V566.8H354.2V565H354.5V563.2H354.6V561.3H356.3V559.5H356.9V557.7H357.1V555.9H358.2V554.1H358.5V552.2H359V550.4H359.5V548.6H360.2V546.8H360.5V545H360.7V543.2H361V541.3H363.4V539.5H363.9V537.7H363.9V535.9H364.9V534.1H365V532.3H365.6V530.4H366.1V528.6H367.3V526.8H367.5V525H368.6V523.2H368.8V521.3H368.8V519.5H369.2V517.7H370.8V515.9H372.9V514.1H373V512.3H373V510.4H373.8V508.6H374.2V506.8H376.4V505H378.2V503.2H378.6V501.3H381.4V499.5H381.6V497.7H381.7V495.9H383.6V494.1H387.1V492.3H388.2V490.4H390.8V488.6H395.3V486.8H397.1V485H397.9V483.2H401.1V481.4H403.5V479.5H417V477.7H425.8V475.9H447.1" fill="none" stroke="#3d79c0" stroke-width="1.45" stroke-linejoin="round"/>
<path d="M275 639.5H315.9V636.2H316.9V633H321.6V629.7H325.1V626.4H327.4V623.1H329.2V619.9H329.9V616.6H332.5V613.3H333.7V610.1H335.5V606.8H336.7V603.5H337.7V600.2H339.9V597H341.9V593.7H343.3V590.4H344.5V587.1H345.7V583.9H347.9V580.6H349.1V577.3H349.6V574.1H351.3V570.8H353.8V567.5H357V564.2H357.4V561H359.2V557.7H361.3V554.4H363.3V551.2H367.3V547.9H368.3V544.6H368.7V541.3H370.3V538.1H371.8V534.8H374.3V531.5H374.9V528.3H377.6V525H378.9V521.7H380.4V518.4H383.4V515.2H387.3V511.9H387.8V508.6H390.6V505.3H391.2V502.1H391.6V498.8H394.6V495.5H397.6V492.3H400.5V489H403.7V485.7H412.4V482.4H413.7V479.2H414.8V475.9H447.1" fill="none" stroke="#276ab7" stroke-width="1.5" stroke-linejoin="round"/>
<path d="M275.7,467.6 L275.7,646.4 L447.3,646.4" fill="none" stroke="#111" stroke-width="1.2"/>
<line x1="272.4" y1="475.9" x2="275.7" y2="475.9" stroke="#111" stroke-width="1.1"/>
<text x="268.8" y="479.7" font-size="10.2" text-anchor="end" textLength="21.2" lengthAdjust="spacingAndGlyphs" fill="#231f20">1.00</text>
<line x1="272.4" y1="516.8" x2="275.7" y2="516.8" stroke="#111" stroke-width="1.1"/>
<text x="268.8" y="520.6" font-size="10.2" text-anchor="end" textLength="21.2" lengthAdjust="spacingAndGlyphs" fill="#231f20">0.75</text>
<line x1="272.4" y1="557.7" x2="275.7" y2="557.7" stroke="#111" stroke-width="1.1"/>
<text x="268.8" y="561.5" font-size="10.2" text-anchor="end" textLength="21.2" lengthAdjust="spacingAndGlyphs" fill="#231f20">0.50</text>
<line x1="272.4" y1="598.6" x2="275.7" y2="598.6" stroke="#111" stroke-width="1.1"/>
<text x="268.8" y="602.4" font-size="10.2" text-anchor="end" textLength="21.2" lengthAdjust="spacingAndGlyphs" fill="#231f20">0.25</text>
<line x1="272.4" y1="639.5" x2="275.7" y2="639.5" stroke="#111" stroke-width="1.1"/>
<text x="268.8" y="643.3" font-size="10.2" text-anchor="end" textLength="21.2" lengthAdjust="spacingAndGlyphs" fill="#231f20">0.00</text>
<line x1="290.25" y1="646.4" x2="290.25" y2="649.6" stroke="#111" stroke-width="1.1"/>
<text x="290.25" y="662.4" font-size="10.2" text-anchor="middle" textLength="13.14" lengthAdjust="spacingAndGlyphs" fill="#231f20">−5</text>
<line x1="341" y1="646.4" x2="341" y2="649.6" stroke="#111" stroke-width="1.1"/>
<text x="341" y="662.4" font-size="10.2" text-anchor="middle" textLength="6.41" lengthAdjust="spacingAndGlyphs" fill="#231f20">0</text>
<line x1="391.75" y1="646.4" x2="391.75" y2="649.6" stroke="#111" stroke-width="1.1"/>
<text x="391.75" y="662.4" font-size="10.2" text-anchor="middle" textLength="6.41" lengthAdjust="spacingAndGlyphs" fill="#231f20">5</text>
<line x1="442.5" y1="646.4" x2="442.5" y2="649.6" stroke="#111" stroke-width="1.1"/>
<text x="442.5" y="662.4" font-size="10.2" text-anchor="middle" textLength="12.82" lengthAdjust="spacingAndGlyphs" fill="#231f20">10</text>
<text x="361" y="678" font-size="13.1" text-anchor="middle" fill="#231f20" xml:space="preserve" textLength="108.3" lengthAdjust="spacingAndGlyphs">Log<tspan font-size="10.22" dy="3">2</tspan><tspan dy="-3">(nsRBNS </tspan><tspan font-style="italic">R</tspan>)</text>
<text x="239" y="558" font-size="13.1" text-anchor="middle" textLength="143.8" lengthAdjust="spacingAndGlyphs" fill="#231f20" transform="rotate(-90 239 558)">Cumulative Distribution</text>
<text x="284.6" y="473.5" font-size="12.8" textLength="70.3" lengthAdjust="spacingAndGlyphs" fill="#231f20">UAG motifs</text>
<defs><linearGradient id="cb" x1="0" y1="0" x2="0" y2="1"><stop offset="0" stop-color="#2166ac"/><stop offset="0.5" stop-color="#8aa6d4"/><stop offset="1" stop-color="#ececf1"/></linearGradient></defs>
<rect x="284" y="483" width="14.1" height="45.6" fill="url(#cb)"/>
<line x1="284" y1="506.3" x2="286.8" y2="506.3" stroke="#fff" stroke-width="0.6" opacity="0.8"/><line x1="295.3" y1="506.3" x2="298.1" y2="506.3" stroke="#fff" stroke-width="0.6" opacity="0.8"/>
<text x="304.7" y="486.9" font-size="10.2" textLength="12.79" lengthAdjust="spacingAndGlyphs" fill="#231f20">6+</text>
<text x="304.7" y="509.7" font-size="10.2" textLength="6.24" lengthAdjust="spacingAndGlyphs" fill="#231f20">3</text>
<text x="304.7" y="532.4" font-size="10.2" textLength="6.24" lengthAdjust="spacingAndGlyphs" fill="#231f20">0</text>
<path d="M376.7,563.5 L422.78,563.5 L422.78,573.47 L434.2,573.47 L434.2,583.44 L422.78,583.44 L422.78,593.41 L411.36,593.41 L411.36,603.38 L399.94,603.38 L399.94,613.35 L388.52,613.35 L388.52,623.32 L376.7,623.32 Z" fill="#ef6c5c"/>
<line x1="422.58" y1="573.47" x2="422.58" y2="583.44" stroke="#f39a8c" stroke-width="0.5"/>
<text x="383" y="571.4" font-size="8.6" text-anchor="middle" fill="#2a1512">f</text>
<text x="394.42" y="571.4" font-size="8.6" text-anchor="middle" fill="#2a1512">f</text>
<text x="405.84" y="571.4" font-size="8.6" text-anchor="middle" fill="#2a1512">f</text>
<text x="417.26" y="571.4" font-size="8.6" text-anchor="middle" fill="#2a1512">f</text>
<text x="383" y="581.37" font-size="8.6" text-anchor="middle" fill="#2a1512">f</text>
<text x="394.42" y="581.37" font-size="8.6" text-anchor="middle" fill="#2a1512">f</text>
<text x="405.84" y="581.37" font-size="8.6" text-anchor="middle" fill="#2a1512">f</text>
<text x="417.26" y="581.37" font-size="8.6" text-anchor="middle" fill="#2a1512">f</text>
<text x="428.68" y="581.37" font-size="8.6" text-anchor="middle" fill="#2a1512">f</text>
<text x="383" y="591.34" font-size="8.6" text-anchor="middle" fill="#2a1512">f</text>
<text x="394.42" y="591.34" font-size="8.6" text-anchor="middle" fill="#2a1512">f</text>
<text x="405.84" y="591.34" font-size="8.6" text-anchor="middle" fill="#2a1512">f</text>
<text x="417.26" y="591.34" font-size="8.6" text-anchor="middle" fill="#2a1512">f</text>
<text x="383" y="601.31" font-size="8.6" text-anchor="middle" fill="#2a1512">f</text>
<text x="394.42" y="601.31" font-size="8.6" text-anchor="middle" fill="#2a1512">f</text>
<text x="405.84" y="601.31" font-size="8.6" text-anchor="middle" fill="#2a1512">f</text>
<text x="383" y="611.28" font-size="8.6" text-anchor="middle" fill="#2a1512">f</text>
<text x="394.42" y="611.28" font-size="8.6" text-anchor="middle" fill="#2a1512">f</text>
<text x="383" y="621.25" font-size="8.6" text-anchor="middle" fill="#2a1512">f</text>
<text x="428.68" y="571.1" font-size="8.6" text-anchor="middle" fill="#231f20">a</text>
<text x="440.1" y="571.1" font-size="8.6" text-anchor="middle" fill="#231f20">a</text>
<path d="M376.7,562.3 L376.7,623.9 L446.6,623.9" fill="none" stroke="#000" stroke-width="1.3"/>
<line x1="373.4" y1="568.49" x2="376.7" y2="568.49" stroke="#000" stroke-width="1.1"/>
<text x="370.1" y="571.38" font-size="8.1" text-anchor="end" fill="#231f20">6+</text>
<line x1="373.4" y1="578.46" x2="376.7" y2="578.46" stroke="#000" stroke-width="1.1"/>
<text x="370.1" y="581.36" font-size="8.1" text-anchor="end" fill="#231f20">5</text>
<line x1="373.4" y1="588.43" x2="376.7" y2="588.43" stroke="#000" stroke-width="1.1"/>
<text x="370.1" y="591.33" font-size="8.1" text-anchor="end" fill="#231f20">4</text>
<line x1="373.4" y1="598.39" x2="376.7" y2="598.39" stroke="#000" stroke-width="1.1"/>
<text x="370.1" y="601.29" font-size="8.1" text-anchor="end" fill="#231f20">3</text>
<line x1="373.4" y1="608.37" x2="376.7" y2="608.37" stroke="#000" stroke-width="1.1"/>
<text x="370.1" y="611.26" font-size="8.1" text-anchor="end" fill="#231f20">2</text>
<line x1="373.4" y1="618.34" x2="376.7" y2="618.34" stroke="#000" stroke-width="1.1"/>
<text x="370.1" y="621.24" font-size="8.1" text-anchor="end" fill="#231f20">1</text>
<line x1="383" y1="623.9" x2="383" y2="627.3" stroke="#000" stroke-width="1.1"/>
<text x="383" y="636.1" font-size="8.1" text-anchor="middle" fill="#231f20">0</text>
<line x1="394.42" y1="623.9" x2="394.42" y2="627.3" stroke="#000" stroke-width="1.1"/>
<text x="394.42" y="636.1" font-size="8.1" text-anchor="middle" fill="#231f20">1</text>
<line x1="405.84" y1="623.9" x2="405.84" y2="627.3" stroke="#000" stroke-width="1.1"/>
<text x="405.84" y="636.1" font-size="8.1" text-anchor="middle" fill="#231f20">2</text>
<line x1="417.26" y1="623.9" x2="417.26" y2="627.3" stroke="#000" stroke-width="1.1"/>
<text x="417.26" y="636.1" font-size="8.1" text-anchor="middle" fill="#231f20">3</text>
<line x1="428.68" y1="623.9" x2="428.68" y2="627.3" stroke="#000" stroke-width="1.1"/>
<text x="428.68" y="636.1" font-size="8.1" text-anchor="middle" fill="#231f20">4</text>
<line x1="440.1" y1="623.9" x2="440.1" y2="627.3" stroke="#000" stroke-width="1.1"/>
<text x="440.1" y="636.1" font-size="8.1" text-anchor="middle" fill="#231f20">5</text>
<text x="411.7" y="643.6" font-size="6.9" text-anchor="middle" textLength="45.4" lengthAdjust="spacingAndGlyphs" fill="#231f20"># UAG Motifs</text>
<text x="360.2" y="593.3" font-size="6.9" text-anchor="middle" textLength="44.6" lengthAdjust="spacingAndGlyphs" fill="#231f20" transform="rotate(-90 360.2 593.3)"># UAG Motifs</text>
<rect x="401.2" y="605.5" width="39.2" height="12" fill="#fff" stroke="#8a8a8a" stroke-width="0.7"/>
<rect x="402.6" y="606.2" width="10.2" height="10.2" fill="#f08474"/>
<text x="414.2" y="613.8" font-size="7.6" textLength="23.4" lengthAdjust="spacingAndGlyphs" fill="#231f20">p≤0.05</text>
<text x="457.6" y="474.8" font-size="24" font-weight="bold" fill="#231f20">E</text>
<path d="M544.1 600.7h0M528.6 610.7h0M546.4 598.4h0M564.2 576.8h0M556.3 579.4h0M515.8 618.5h0M576.6 567.6h0M557.6 576.4h0M594.2 547h0M538.9 602.3h0M600.8 543h0M548.9 589.6h0M618.8 517.8h0M541.3 590.7h0M563 570.2h0M584.9 558h0M563.5 576.7h0M556.7 581h0M528.8 604.3h0M613.2 531h0M537.8 599.7h0M572 565.8h0M535.9 603.3h0M537.6 594.9h0M556.9 579.7h0M619.7 513.3h0M627.6 510h0M527.5 612.6h0M581.4 557h0M510.1 622.2h0M583.8 551.8h0M600.5 542.1h0M632.2 500.5h0M577.4 563.6h0M608.7 531.1h0M519.8 614.8h0M623.2 520.6h0M519.6 613.6h0M525.7 610.7h0M529.7 604.8h0M562.5 581.8h0M580.7 559.8h0M530.5 607.6h0M567.5 565.1h0M565.7 569h0M614.4 518.6h0M525.7 608h0M551.2 581.7h0M584.5 558.8h0M569.9 570.3h0M590.6 552h0M538.9 594.8h0M547.1 585.6h0M515.2 618.7h0M611.6 532.9h0M526.9 609.7h0M579 562.8h0M605.5 530.3h0M520.9 623.2h0M566.4 572.2h0M552.9 579.1h0M542.8 594.1h0M525.3 609.1h0M581.8 561.1h0M530.1 604.3h0M579.7 560h0M525.8 610h0M573.9 570.8h0M594.6 541.3h0M642.6 495.3h0M613.9 526.5h0M533.8 603.2h0M584.2 549h0M521.7 620.2h0M593.3 551.3h0M535.3 600.1h0M554.7 580h0M530.5 602.2h0M566.1 569.6h0M586.2 552.4h0M566.6 576.9h0M526.7 609.9h0M513.8 618.3h0M575.8 565.3h0M587.9 551.4h0M564.2 574.2h0M512 621.6h0M535.1 604.2h0M584.6 547.3h0M580.1 551.8h0M532.1 608h0M583.9 555.3h0M586.4 549.6h0M627 506.9h0M565.6 566.1h0M563.8 572.3h0M607.5 535.5h0M591.1 553.1h0M576 561h0M600.9 532h0M543.9 597.2h0M533.4 609.6h0M532.5 604.9h0M565.7 568h0M589.5 550.9h0M577.3 562.6h0M622.1 511.5h0M562.9 574.5h0M545.4 591.6h0M524 612.2h0M518.3 619.5h0M538.5 595.3h0M577.5 566.2h0M592.3 542.2h0M545.4 596.3h0M536.4 595.9h0M552.3 585.3h0M596 541.8h0M545.2 592.5h0M579.1 556.8h0M598.8 542.7h0M595.5 538.5h0M570.9 563.3h0M554 588.5h0M606.3 532.2h0M576.2 567.3h0M543.4 589.5h0M603.1 539.7h0M635.9 495.8h0M522.6 617.9h0M516.9 625.3h0M594.9 537.1h0M542.1 594.2h0M539.8 601.4h0M604 528.3h0M554.2 590.5h0M575.4 569h0M597.4 541.7h0M519.9 620.5h0M546 591.5h0M519.7 620.8h0M549.5 583.3h0M538.8 597.9h0M538.7 602.9h0M593.8 539.6h0M602.4 535.9h0M547.3 589.2h0M545.7 586.3h0M528.8 615.5h0M576.6 559.8h0M535.2 605.3h0M527.3 611.4h0M582.2 551.5h0M563.2 573.2h0M566.4 571.2h0M636 497.9h0M557.5 576.4h0M550.3 584.7h0M525.1 611.8h0M592.2 550.6h0M531.1 602.8h0M567.8 574.9h0M577.9 560.9h0M580.8 558h0M558.1 578.6h0M518.5 614.4h0M570.6 570.1h0M558.2 584.6h0M535 597.1h0M619.3 519.6h0M568.9 564.6h0M531.7 600.5h0M532.5 605.7h0M585.3 552.8h0M544.6 597.3h0M531 607.2h0M551.2 588.7h0M589.1 544.7h0M588.7 553.7h0M573.6 570.4h0M602.6 531.2h0M572.4 559.2h0M557.5 575.9h0M594.5 546.5h0M582.1 561.6h0M569.8 568.5h0M585.6 554.2h0M556.6 584.6h0M575.5 564.9h0M560.6 582.9h0M581.7 562.2h0M586 557.6h0M533.4 605h0M542.2 602.4h0M617.2 523h0M628.6 507.2h0M534.8 599.2h0M601.2 540.9h0M622.4 514.1h0M526.8 618h0M557.4 579.4h0M531.5 602.2h0M544.1 591.3h0M561.9 575.7h0M523.9 618.7h0M583.7 548.5h0M536.2 606.1h0M536.6 602.2h0M562.4 581.5h0M539.3 595.4h0M516.2 620.3h0M603.8 531.7h0M548.8 584.4h0M552.4 589.9h0M542 601.8h0M524.2 613.7h0M535.9 605.3h0M528.7 615.2h0M584.1 550h0M566.6 566.6h0M513.5 623.3h0M562.5 576.8h0M600 538.9h0M588.1 555.3h0M536.4 605.1h0M564.5 578.6h0M555 586.3h0M570.7 561.1h0M585.2 556.3h0M606.1 526.7h0M606.5 528.5h0M514.9 624h0M595.3 546.7h0M562.6 575.7h0M537.9 598.4h0M556.4 582.5h0M541.6 591.4h0M541 602h0M544.1 595.9h0M525 611.9h0M554.6 587.8h0M550.9 586.9h0M562.5 573.2h0M559.9 577.5h0M580.4 552.8h0M557.1 576.8h0M545.4 589.4h0M572.6 568h0M591.7 551.4h0M541.5 600.5h0M582 551.8h0M632.6 502h0M553.1 578.8h0M589.6 545.5h0M568.4 573.4h0M508.1 628.2h0M591.2 540.6h0M560.6 579.9h0M601 533.6h0M558.3 585.7h0M594.6 543.1h0M568 573.6h0M601.5 540.1h0M594.9 542.5h0M548.3 584.1h0M530.7 606.1h0M554.1 582.5h0M537.9 596.2h0M520.5 617.2h0M622.8 521.1h0M532.9 600.8h0M589.7 545.8h0M614.5 517.9h0M588.5 554.1h0M593.3 538.7h0M538.2 594.9h0M570.1 570.4h0M603.4 540.4h0M515.4 626.1h0M546 595.6h0M525.1 613.1h0M546.5 585.8h0M546.6 585.5h0M587.4 554.6h0M585.2 549h0M623.6 508.3h0M583.3 555.7h0M565 575.8h0M540.7 592.6h0M600.9 531.1h0M551.3 584.9h0M590 550.9h0M598.2 533.5h0M557.4 584.9h0M573.6 568.8h0M559.3 572.5h0M542.8 596.1h0M549.4 582.3h0M573.5 566h0M563.1 577h0M627.8 513.6h0M576.4 558h0M571.5 566h0M563.6 572.7h0M632.7 509.5h0M517.7 620.8h0M522.5 615.7h0M560 577.1h0M529.7 605.2h0M553.6 579.4h0M558.2 575.5h0M507.3 624.8h0M615.6 518h0M597.1 535.6h0M566.6 576.9h0M580.9 557.8h0M560.4 577.2h0M523.9 619h0M555.8 576h0M574.5 560.6h0M526.2 606.3h0M530 605h0M571.8 562.2h0M581 552.2h0M510.8 622h0M524.4 607.6h0M595.8 542h0M553.1 582.1h0M550 589.2h0M541.8 596.3h0M593 544.3h0M530.5 603.5h0M511 626.5h0M549.5 585.7h0M514 629.6h0M549.2 587.2h0M611.5 523.7h0M616.8 515.2h0M574.8 562.4h0M549.3 584.2h0M566.1 576.3h0M580.3 552.3h0M530.4 604.2h0M548.9 587h0M520.4 616.1h0M628.1 504.9h0M624.8 510.6h0M542.2 593.2h0M558.4 579.5h0M551.9 589.1h0M536 608.6h0M587.5 555.4h0M592.1 550.2h0M615.6 528.9h0M540.1 594.7h0M583.8 557.1h0M562.2 574h0M609.9 522.7h0M524.1 615.9h0M521.2 621.8h0M625.8 506.5h0M562.6 573.8h0M523.8 614.5h0M532.1 600.9h0M540.9 600.8h0M568.5 563.3h0M553.1 590.3h0M606.9 534.3h0M547.8 586.9h0M579.8 558.1h0M634.4 509.3h0M527.9 615.9h0M545.1 596.5h0M521.3 611.3h0M589.7 553.8h0M624.3 512.9h0M585.1 557.3h0M548.8 592.8h0M603.9 533.6h0M563.1 575.4h0M632.9 507.9h0M596.1 546.8h0M590.3 546.3h0M531.3 602.1h0M596 541.5h0M563.9 576.9h0M615.9 515.9h0M591.4 540.7h0M579 557.4h0M529.9 610.9h0M534.5 602.8h0M530.4 602h0M630.1 514.4h0M566.9 565.8h0M573.7 562.2h0M580.7 555.7h0M553.2 584.3h0M516.5 625.8h0M522.1 611.6h0M536.8 606.1h0M567 572.8h0M543.5 594.2h0M547.5 594.7h0M572.8 570h0M537 602.2h0M536.2 597.7h0M534.9 609h0M585.6 547.6h0M527.7 611.1h0M627 504.6h0M549.9 593h0M529.7 608.8h0M569.2 564.9h0M544.7 593.8h0M568.7 573.3h0M574.3 569h0M512.8 627.1h0M606.4 537.9h0M539.2 598.9h0M538 599.3h0M612.2 530.9h0M569.7 568.9h0M536.5 606.9h0M528.1 607.5h0M570.7 568h0M548.1 585.6h0M572.1 567.6h0M555.9 578.2h0M639.3 492.7h0M528.1 609.2h0M584.6 554.9h0M601 532.4h0M582.3 559.7h0M532.6 610.9h0M533.6 601.2h0M547.5 590.4h0M579.5 563.9h0M545.8 596.8h0M542.4 601.7h0M606.3 527.2h0M554.9 579.4h0M571.6 572.9h0M596.6 546.1h0M594 543.8h0M620.6 513.4h0M580 558.4h0M565.9 574.7h0M530.3 605.6h0M570.3 569.1h0M611.8 526.7h0M539.9 596.5h0M589.7 550.8h0M575.3 557.5h0M582.4 552.6h0M610.1 526.7h0M556.6 581.4h0M558.5 584.4h0M523.8 608.2h0M576.9 556.4h0M512 627.1h0M570.5 568h0M578.9 565.1h0M590.7 542h0M593.5 541.7h0M528 614.3h0M623.9 520.4h0M537.1 600h0M562.5 580.6h0M514.9 620.5h0M538.7 605.4h0M617.3 524.9h0M596.1 547.6h0M620.6 511.2h0M602.5 539.8h0M549.2 592.8h0M522.7 610h0M541.3 591.6h0M555 586.1h0M513.1 628.6h0M568.7 566.5h0M580.1 561.2h0M548.5 592.5h0M529.8 605h0M522.5 621.4h0M624.8 517.3h0M587.7 548.4h0M558.1 574.6h0M601.2 532.7h0M568.5 565.9h0M594.3 543h0M600.5 536.6h0M562.6 577.1h0M517.5 622.8h0M536.9 600.5h0M543.1 593.9h0M602.4 535.5h0M547.2 587h0M555.4 587.4h0M541.9 593.1h0M541.8 592.2h0M551.7 587.6h0M527.9 609.5h0M548.1 587.9h0M590.2 552.8h0M548.8 584.2h0M588.6 550h0M593.6 542.7h0M526.4 611.6h0M519 618.9h0M602.3 540.4h0M523.2 616.6h0M574.9 559.7h0M555.5 579.7h0M606 528.8h0M599.9 539.6h0M579.3 560.9h0M563.2 576.1h0M591.9 550.7h0M572.5 561.4h0M529.8 609h0M572.4 562.9h0M563.8 579.6h0M588.2 552.7h0M590.5 543h0M575.5 556.5h0M525.9 618.8h0M566.7 572.2h0M520.2 621.5h0M583.6 551.2h0M538.2 596.6h0M608.4 533.9h0M553.7 581.2h0M551.3 591.3h0M535.4 599h0M579.5 556.1h0M645.5 490.1h0M573.7 564.3h0M591.2 543.6h0M598.2 540.4h0M553.3 590.9h0M544.7 588.8h0M532.3 607.1h0M586.2 558.4h0M601 539.7h0M583.2 560.2h0M601.6 531.1h0M562.7 572h0M528.9 604.4h0M567.7 573.8h0M607.9 530.6h0M524.3 608.1h0M573.9 564.1h0M546.7 590h0M522.7 620.5h0M525 612.9h0M575.4 559.8h0M529.8 603.5h0M635.5 506.9h0M533.4 606.8h0M574.2 561.7h0M559.1 574.5h0M524.6 612.5h0M581.2 556.3h0M520.5 616.7h0M549 587.8h0M545.3 592.5h0M513.1 622.5h0M621.7 515.4h0M561.1 572.3h0M511.5 628.8h0M578.4 563.7h0M516.3 615.8h0M582.2 557.9h0M547 587.5h0M540.3 596h0M517.9 623.5h0M534.8 597h0M525.4 616.9h0M524 613.6h0M546.7 591.7h0M511.8 624h0M544.3 591.7h0M586.3 551.3h0M566.7 566.3h0M608.5 532.1h0M565.6 571h0M544.9 593.5h0M623.9 512.7h0M612.4 519.4h0M548.2 596.5h0M528.5 613.1h0M589.1 552.5h0M641.8 498.2h0M586.7 547.6h0M534.5 598.2h0M588.2 551.1h0M526.2 606.2h0M602.3 536.2h0M526.6 610.4h0M555.8 583.6h0M596.7 541.2h0M622 516.1h0M611.2 524.4h0M618.6 517.5h0M562 574.4h0M566.4 575.9h0M602.6 541.4h0M590.5 548.3h0M601.2 530.4h0M523.5 616.2h0M537.4 601.9h0M547.9 593.1h0M610.6 521.2h0M519.1 621.1h0M599.9 541.8h0M600.4 536.9h0M524.4 616.7h0M565.2 572.2h0M547.1 594h0M544.8 588.1h0M576.3 567.8h0M572 565.6h0M514.3 618.8h0M546.5 597.4h0M591.4 552.3h0M526 610.5h0M517.7 614.2h0M561.4 578.8h0M538.2 603.7h0M599.3 544.3h0M566.2 565.7h0M514.6 627.3h0M519.3 620.1h0M628.2 511.8h0M595.4 540.9h0M569.5 568.5h0M601.1 530.7h0M595.3 536.9h0M568.6 566.8h0M623.3 511.4h0M591.2 549.9h0M537.8 603.8h0M511 622.1h0M606.1 536.7h0M511.8 624.9h0M556.5 585.9h0M511.1 623.5h0M624.4 508h0M539.6 594.3h0M593.1 548h0M517.9 624.7h0M527.3 606.7h0M601.7 539h0M632.6 500.1h0M582.9 550.8h0M587.7 546.7h0M543.9 592.3h0M551.5 592.5h0M562.9 569h0M521.9 618.1h0M618.3 522.3h0M562.3 570.7h0M590.4 550.4h0M547.5 585.4h0M616.5 527.4h0M590 554h0M522.5 619.9h0M594.6 539.9h0M612.2 531.4h0M528 615.3h0M621.5 516.7h0M520.2 611.9h0M593.4 551h0M552.9 590.7h0M607.1 527.4h0M539.3 594.1h0M533.4 611.3h0M570.7 564.9h0M632.5 509.3h0M553.2 582.5h0M551.6 581.8h0M598.4 541.4h0M575.3 567.9h0M520.9 619.6h0M530.9 608.4h0M619.3 515.5h0M576.2 557.4h0M535.3 600h0M563.3 574.1h0M521.9 610.9h0M639.6 499.3h0M575.8 556.1h0M609.9 526.1h0M575.4 559.1h0M565.5 570.6h0M611.4 521.9h0M543.7 588.4h0M523.3 608.8h0M574.7 557.8h0M617.8 514h0M564 569.6h0M571.5 571.7h0M552.3 583.3h0M621.5 521.1h0M536.9 606h0M553.6 583.6h0M546.6 596.7h0M538.5 601.6h0M541 597.9h0M556.8 582.7h0M535.6 603.2h0M543.7 600.4h0M555.3 589h0M604.9 528.4h0M536.4 603.3h0M597.3 545.5h0M618.5 523.4h0M564.2 572.8h0M586.5 552.7h0M519.9 614.5h0M584.4 550.6h0M564.2 576.7h0M570.9 565.2h0M531.7 602.2h0M544.8 591.9h0M603.3 536.9h0M552.3 582h0M618.5 516.7h0M581.2 554h0M580.1 554h0M527.3 611h0M542.9 590.1h0M563.9 568.4h0M581.1 558h0M573.8 560.3h0M533.1 610.4h0M553.4 591.3h0M540.5 599.5h0M549.2 583.1h0M546 591.7h0M558.3 579h0M524.2 615h0M550.2 590.6h0M536.1 604.9h0M519.5 617.5h0M531.3 605.1h0M558.8 573.1h0M519.3 621.3h0M559.2 584.7h0M582.5 551.2h0M545.8 593.8h0M537.2 604.6h0M577 559.2h0M542.4 596.6h0M536.2 601.7h0M522.7 613.7h0M543.9 594.3h0M528.1 609.7h0M546.7 591.8h0M540.9 596.5h0M631.3 512.5h0M538.3 599.9h0M584.8 549.3h0M562 577.7h0M592.5 548.8h0M554.5 584.1h0M552.1 584h0M622.1 522.3h0M521.8 616h0M597.9 534h0M524.6 620h0M588.4 552.6h0M592.2 549.8h0M592.5 540.2h0M576.2 556.5h0M548.7 591.6h0M533.9 607.7h0M570.3 573.7h0M554.6 579.4h0M614.6 526.2h0M516.1 627.1h0M586.9 555.9h0M544.8 591.5h0M586.2 548.3h0M557 577h0M514.3 622.6h0M536.4 602.8h0M581.7 559h0M630.5 512.9h0M546.4 590.4h0M584.7 547.5h0M526.7 617.5h0M540.7 602.5h0M530 607.5h0M569.7 570.1h0M544.4 600.2h0M524.2 610.2h0M525.2 606.7h0M514.3 626.2h0M622 511.4h0M523.5 612.9h0M532.2 600.7h0M591.7 550h0M521 613.4h0M549.3 583.3h0M534.7 609.7h0M562 574h0M559.5 580.7h0M591.7 550.6h0M583.8 556.4h0M634.4 506.6h0M575.9 565.5h0M512.6 623.6h0M559 579.3h0M604 532.3h0M612.4 520.2h0M544.9 599.7h0M604.3 534h0M570.7 562.2h0M589.2 544.7h0M583.4 548.3h0M518.3 619.7h0M553.5 578.9h0M574.3 559.1h0M540.6 603.7h0M597 546.5h0M519.7 623h0M630.1 505.1h0M548.6 584.5h0M608.3 529.9h0M535.1 597.9h0M515 628h0M606.7 530.3h0M603.9 533.9h0M607 528.2h0M521.8 618.6h0M563.7 570.4h0M549.4 588.3h0M525.4 608.3h0M579.7 552.3h0M511.8 624.7h0M545 589.7h0M524.4 615h0M570.3 573.2h0M520.9 617.2h0M565.8 567.9h0M553.5 586.4h0M611.3 531.3h0M576.3 560h0M548.5 588.6h0M541.8 593.3h0M581.5 562h0M537 599h0M563.9 577.7h0M536.2 604h0M551.2 587.2h0M508.9 624.7h0M599 540.5h0M536.8 596.4h0M598.1 541.1h0M591.9 543.9h0M567.4 574.2h0M515.3 626.8h0M582.5 561.8h0M531.9 606.1h0M561.3 576.2h0M592.7 551.8h0M557.7 578.1h0M602 541.2h0M580.6 561.9h0M548.7 591.8h0M545.8 588.9h0M558 573.7h0M545.2 594.8h0M539.5 604.7h0M588.4 555.1h0M597 541.6h0M609.4 528.6h0M617.8 525.4h0M520.6 611.9h0M538.4 596h0M595.3 537.3h0M514.1 618.1h0M579.5 557h0M516.2 622h0M563.8 573.7h0M537 606.2h0M511.4 621.4h0M596.1 538.4h0M576.8 567.9h0M527.2 607.3h0M616.2 526.3h0M540.8 597.7h0M554.5 580.3h0M561.2 577.2h0M554.8 588.4h0M582.3 555h0M567.1 574.3h0M582.5 551.2h0M575.1 558h0M567.1 571.9h0M619.9 516h0M551.8 583.3h0M535 602h0M570.7 574.1h0M558.5 584.1h0M603.6 532.9h0M592.1 542.5h0M518.6 618.3h0M540.7 597.6h0M540.9 593.5h0M517.7 620.2h0M608.8 532.2h0M516.9 618.6h0M557.3 580.2h0M612.5 528.4h0M613.5 530.4h0M524.7 619.8h0M511.5 621.2h0M586.3 551.3h0M573 568.6h0M573.9 560.6h0M589.7 542.2h0M594.6 538.3h0M573.9 570.6h0M594.2 539.4h0M593.9 549.4h0M582.3 557h0M517.1 615.8h0M550.4 583.9h0M628.9 502.8h0M603 536h0M527 613.5h0M550 582.1h0M581.4 561.9h0M559.7 583.8h0M582.4 551.2h0M569 570.7h0M555.6 577.2h0M629 511.1h0M585 553.3h0M606.9 525.7h0M553.5 591.2h0M541.4 592.3h0M614 523.1h0M570.1 566.5h0M559.8 578.8h0M639.1 500.3h0M525.2 611.4h0M583.1 554.3h0M525.7 616.8h0M605.7 532.7h0M561.6 577.9h0M602.3 534.8h0M572.9 571.7h0M548 585.9h0M595.3 543.7h0M572.1 563.7h0M556 586.2h0M533.4 604h0M531.1 611.2h0M541.4 597.5h0M617.3 516.6h0M557.1 581.1h0M610.3 531.4h0M630.3 508h0M596.8 544.6h0M517.9 619h0M524.1 609.8h0M552.4 585.9h0M576.2 565.1h0M575.8 564.7h0M555.6 581.2h0M519.6 615.1h0M587 556.4h0M537.1 595.8h0M608.9 534.7h0M531.2 611.4h0M553.5 586.2h0M552.6 583.2h0M551.6 593.1h0M563.8 572.4h0M621.1 518.2h0M557.3 578h0M570.5 572.5h0M602.3 530h0M515.8 627h0M574 566.1h0M581.1 553.5h0M580.9 562h0M527.9 609.6h0M515.1 620.6h0M534.9 604.8h0M606.2 532.8h0M591.4 545.2h0M530.7 611.4h0M631.1 510.8h0M614.8 526.7h0M589.4 550.3h0M545.2 590.6h0M542.4 591.9h0M520.3 618.6h0M623.3 517.2h0M558 583.1h0M527.8 607.4h0M523.2 618.4h0M582.7 554.9h0M572.4 564.5h0M523.9 620.4h0M591.3 541.5h0M615.7 525.7h0M599.3 532.8h0M574.7 564h0M604.8 533.5h0M514.2 621h0M555.4 579.3h0M564.9 569.5h0M524.7 608.5h0M533.2 599.2h0M574 564.3h0M550.9 593.2h0M587.3 544.9h0M541.9 591.7h0M508.8 628h0M569.7 569.2h0M552.2 580.1h0M536.1 596.8h0M636.3 500.5h0M617 525.9h0M531.3 610h0M531.1 612.1h0M525.9 607.4h0M558.4 575h0M567 568.6h0M577.9 555.6h0M593.3 540.4h0M555.1 579.7h0M538.4 595h0M526.7 618h0M522.4 609.6h0M527 608.6h0M611 531.1h0M603.3 532.2h0M620 523.3h0M622.4 520h0M536 606.4h0M582.7 549h0M548.3 595.8h0M574.6 557.8h0M600.2 536.6h0M589.1 550.9h0M621.1 514.2h0M548.9 595h0M555.7 585.2h0M581.8 554.2h0M525.4 610.6h0M617.3 514.4h0M630.6 505.8h0M535.3 606.6h0M549.3 595.4h0M548.4 583.3h0M547.3 593h0M561.3 571.6h0M567.8 574h0M566.7 574.3h0M591.1 543.5h0M526.4 606.1h0M549.8 589.5h0M543.5 592.4h0M565.5 575.6h0M621.2 514h0M616.6 515.9h0M559.8 573.7h0M576.1 561.2h0M528.5 606.8h0M524.8 617.7h0M574.8 557.5h0M599.5 533.3h0M532.1 610.8h0M588.3 551h0M519.4 621.2h0M542.7 596.4h0M522.4 610.5h0M535.5 604h0M542.9 601.1h0M517.5 620.9h0M519.3 615.4h0M583.9 548.7h0M553.4 588.2h0M532.7 609.4h0M541.2 601.2h0M538.9 603.2h0M521.6 617.9h0M546.5 587.7h0M519.2 613.1h0M559.8 583h0M608.7 531.8h0M559 584.3h0M535.9 600.9h0M563.8 577.3h0M594.4 547.7h0M566.8 567.9h0M518 618.4h0M522.4 621.5h0M576.4 555.3h0M535 609.4h0M541.6 601.7h0M574.4 564.5h0M545.1 596.9h0M526.8 607.3h0M564.8 574.7h0M560.7 579.2h0M508.8 629.6h0M572.7 570.2h0M587.5 547.8h0M535.5 607.8h0M585.8 552.9h0M516 617.6h0M556.4 577.9h0M585.4 546.3h0M638 504.5h0M574.4 569.3h0M552.3 591.8h0M530.6 607.2h0M542.4 599.4h0M586.3 556.8h0M558.9 578.4h0M546.9 588h0M537.3 606.3h0M577.7 555.6h0M569.4 573.1h0M560.4 582h0M562.7 570.4h0M549.9 582.2h0M573.9 560.7h0M598.4 542.7h0M560.3 583.5h0M588.8 549.1h0M524.4 614.6h0M602.7 534h0M591.1 547.6h0M557.8 580.6h0M542.2 591h0M550.4 586.9h0M572.7 565.2h0M613.8 527.5h0M521 611.1h0M539.9 602.4h0M546.2 594.8h0M607.4 537.2h0M567.1 568.3h0M611.8 527.5h0M565.9 569.4h0M531.6 613.1h0M622.5 509.6h0M579.6 559.2h0M584.7 553.7h0M523.3 609h0M590.3 552.2h0M571.4 568.8h0M573.6 559.5h0M618.3 521.9h0M548.7 594.7h0M559.3 582.4h0M508.1 626.1h0M524.4 613.9h0M598.5 538.9h0M570.5 571h0M545.7 597.3h0M571.3 569.1h0M546.6 594.1h0M553 582.8h0M584.3 560h0M544.7 596.2h0M620.2 519.1h0M559.1 577.5h0M526.9 607.7h0M560.2 577h0M573.8 564.7h0M595.6 541.6h0M532.2 604.8h0M519.6 614.6h0M577.5 559.4h0M593.8 538.1h0M572.1 571.8h0M599.5 544.3h0M544.9 588.1h0M563.3 579.6h0M559.3 578.8h0M558.3 574.5h0M514 624h0M575.6 558.2h0M569.1 562.9h0M547.5 594.3h0M583.1 554.2h0M533.3 609.3h0M624.6 514.9h0M587.2 551.4h0M568.5 564.9h0M536.1 595.9h0M573.2 560.5h0M568.2 572.6h0M537.6 599.7h0M534.7 604.6h0M523.4 608.4h0M576 556.6h0M602.9 538.2h0M534 605.7h0M580.6 559.2h0M546.1 594h0M531.8 603.5h0M616.9 524.4h0M595.6 539h0M589.8 547.6h0M577.2 565h0M526.4 616.2h0M545.3 588.5h0M525.2 617.6h0M579.8 560h0M571.2 566h0M596.4 540.2h0M534.5 601.7h0M553.3 588.8h0M550.1 581.9h0M587.8 552.6h0M529.3 609.9h0M542.3 599.5h0M597.8 543.4h0M514.7 618.4h0M566.5 571.4h0M536.5 602.8h0M562.5 576.5h0M546.6 590.3h0M547.4 589.9h0M587 549.3h0M522.1 615.4h0M514.6 619.1h0M544.7 597.5h0M513.1 621.4h0M522.1 618.5h0M579.7 557.6h0M570.1 567.9h0M556.4 584.2h0M595.6 542.7h0M574.4 567h0M561.6 574.4h0M510.9 621.3h0M532.5 607.7h0M549.8 586.6h0M599.1 536.7h0M561.7 573.3h0M528.6 612h0M610 522.4h0M574.1 559.9h0M565.7 570.1h0M513 624.8h0M598.1 537.6h0M559.9 583h0M535.5 608.7h0M579 562.1h0M553.2 582.4h0M604.6 527.5h0M565.8 576.3h0M567.5 575.8h0M523.4 614.7h0M590.8 553.1h0M595.7 541.8h0M583.2 554.1h0M555.4 588.6h0M549.6 591.6h0M560 575.8h0M571.7 562.6h0M526.4 615.1h0M577.9 558h0M575.8 559.5h0M545.6 589.9h0M612.7 523.9h0M544.6 591.3h0M597.6 542.3h0M536.5 598.9h0M547.7 587.2h0M560.5 578.9h0M593.3 546.7h0M594 541.6h0M580 563h0M563.7 580.4h0M602.8 539.2h0M561.1 579h0M611.6 521.1h0M535.4 609.5h0M542.9 598.7h0M565.2 573.8h0M575.1 567.3h0M541.8 602.1h0M550.1 588.2h0M587.2 554.7h0M582.4 550.1h0M533.5 610.7h0M586.4 558h0M599.3 535.8h0M591.1 552.4h0M566.8 571.2h0M530.1 614.2h0M575.1 564.2h0M549.5 588.5h0M568.1 564.3h0M524.6 612.5h0M580 558.5h0M541.5 602.6h0M512.3 620.9h0M523.2 620.1h0M562.6 577.3h0M629.8 504.4h0M538.8 602.2h0M598.9 535h0M574 563.4h0M615.1 517h0M613.5 521.2h0M623.7 513.3h0M588.4 547.7h0M594.2 547.4h0M600.8 543.1h0M541.3 593.8h0M549.7 583.1h0M582.6 558.8h0M593.7 549.2h0M517.5 616.4h0M576.6 556.4h0M553.8 585.1h0M555.6 587.2h0M555.5 587.1h0M542.4 594.7h0M595.7 548.8h0M544.4 590.6h0M547.4 593.5h0M556.1 587.8h0M540.1 592.8h0M538.7 600.8h0M541.3 600.5h0M534.5 608.8h0M548.5 591.4h0M622.6 515h0M618.5 513.8h0M531.5 609.5h0M555.3 585.6h0M507.6 624.8h0M576.9 562.5h0M582.7 560.7h0M571 565h0M519.8 624.5h0M562.7 581.3h0M551.7 583h0M613.6 521h0M551 593.4h0M578.5 560h0M524.9 614.5h0M573.1 563.2h0M569.3 570.6h0M538.3 594.5h0M572.3 568.2h0M608.8 526.6h0M605.5 533.1h0M527.1 611h0M592.4 540.6h0M576.8 560.4h0M555.4 582.1h0M532.2 600.6h0M594.2 544.4h0M569 570.9h0M569.1 562.8h0M568.9 570.8h0M557 585.3h0M561.3 582.9h0M518.4 616.3h0M555 589.7h0M543.3 594.4h0M518.3 622.6h0M616.3 515.7h0M545.3 589.9h0M515.6 621.7h0M566.7 577.6h0M524 611.5h0M566.8 566.9h0M549.7 588.5h0M526.7 612.1h0M588.4 550.6h0M551.6 586.3h0M564 568.7h0M594.6 548.1h0M589.4 549.9h0M608.6 535.7h0M605.5 539.1h0M571.5 560.8h0M540.8 597.3h0M569.7 562.4h0M601.4 536.5h0M542.5 596.6h0M537.6 604.1h0M529.5 603.1h0M577.1 557.6h0M520.4 619.9h0M549.5 592.6h0M552.4 592.4h0M514.9 618h0M558 573.9h0M546.3 591.2h0M613.2 518.6h0M591.2 548.2h0M629.4 506.4h0M557.3 575.2h0M542.3 595.9h0M580.2 558.1h0M539.6 592.4h0M512.9 627.4h0M566.2 570.4h0M594.7 549h0M538.7 598h0M511.5 621.9h0M623.9 510.2h0M587 550.5h0M588.9 546.8h0M529.5 603.3h0M563.4 569.9h0M528.9 610.3h0M570.3 565.7h0M537.6 605.3h0M568.9 564.2h0M562.9 569.9h0M620.9 515.7h0M617.4 519.9h0M577 566.2h0M560.1 577.9h0M526.5 610.4h0M586.2 555.3h0M590.8 551.5h0M608.9 530.1h0M612.4 524.2h0M583.6 552.4h0M547.6 596.4h0M561 582.6h0M580 564.5h0M581.5 556.2h0M583.7 553.1h0M540.3 604.5h0M517.4 617.1h0M557.6 575.6h0M607.8 531.6h0M606.8 530.5h0M536.5 597.2h0M540.6 599.7h0M567.4 573.8h0M572.7 560.4h0M590.6 552.1h0M531 610h0M557.6 585.3h0M574.3 562.2h0M593.4 539.4h0M581.4 558h0M546.6 593h0M580.6 555.6h0M559.7 575.7h0M512.5 620.8h0M529 609.1h0M619.4 519.9h0M523.8 620.1h0M531.4 601h0M556.6 584.3h0M603.3 528.8h0M579.8 560.3h0M541.7 602.1h0M559.6 575.1h0M589 555.3h0M596.9 544.6h0M573.5 565.1h0M585.7 555.4h0M611.1 521.2h0M605.4 527.2h0M538.2 594.2h0M541.3 597.9h0M533 603.4h0M545.4 589.8h0M544.5 594.1h0M563.7 577.4h0M510.4 624h0M609.1 526.6h0M589.5 551h0M528 616.1h0M619 522.4h0M543.1 601.4h0M542.1 593.7h0M572.7 563.4h0M540.4 595.2h0M559.9 578.7h0M582.8 550.8h0M557.2 579.9h0M568.1 568.5h0M513 622.2h0M588.7 544.3h0M512.5 622.1h0M559.8 583.2h0" fill="none" stroke="#b4b6b7" stroke-width="2.7" stroke-linecap="round" opacity="1"/>
<path d="M555.4 571.9h0M578.3 542.1h0M512.7 619h0M581.8 516.2h0M547.3 555.8h0M532.3 589.4h0M532.3 559h0M526.7 600.8h0M543.8 502.1h0M564.8 561.9h0M559.9 572.9h0M560.9 567.6h0M514.5 611.7h0M517 615.1h0M579.1 531.6h0M567.5 532.2h0M591.7 536.7h0M572.3 553.6h0M527.9 585.9h0M573.8 545.4h0M560.7 570.4h0M552.5 568.9h0M531.9 594.8h0M548.3 547.9h0M545.3 561.2h0M566 560.9h0M550.7 579.7h0M579.8 550.1h0M532.8 595.5h0M557.6 570.5h0M558.2 564.4h0M531 601.9h0M524.7 607.6h0M568.4 557.8h0M558.5 573.1h0M545 553.4h0M556.1 565h0M534.8 560.1h0M553 569.4h0M536.2 562h0M552 558.7h0M567.9 561.9h0M541.5 591.4h0M565.1 564h0M527.7 579h0M542.5 565.2h0M521.1 611.5h0M546.2 558.6h0M549.8 571.2h0M544.3 511.6h0M542.9 568.6h0M574.9 546.2h0M576.6 542.6h0M524.1 608.5h0M571.6 500h0M514 614.6h0M533.6 590.5h0M544.8 587.6h0M550.4 576.7h0M527.4 563.6h0M533.9 585.4h0M549.8 495.2h0M534.4 590.3h0M535.5 549.1h0M561.5 562.2h0M566.8 560.1h0M547 539.9h0M548.6 582.1h0M547.9 577.9h0M539.2 577.1h0M538.1 589.7h0M527.6 597.8h0M561.1 551.9h0M546.6 543.2h0M545.5 570.4h0M552.2 569.5h0M558.8 571.7h0M576.5 528.1h0M542.8 586.6h0M540.3 587.7h0M552.2 575.5h0M531.4 595.4h0M573.5 554.2h0M566.7 560.5h0M562 567.8h0M545.9 581.3h0M563 543.5h0M569.1 509.8h0M558.2 553.6h0M542.7 527h0M514.7 617.5h0M567.1 539.8h0M541.2 590h0M531.5 584.3h0M566 538h0M555 531.1h0M520 610.9h0M546.3 531.6h0M542.9 576.7h0M568 558.3h0M540.6 579.8h0M545.5 581.5h0M576.5 547.2h0M526.7 601.7h0M520.7 601.9h0M553.5 566.7h0M564.3 559.7h0M582.7 546.4h0M556.2 570.8h0M532.3 577.5h0M565.8 537.8h0M548 575.9h0M544.2 587.3h0M548.6 562h0M573.6 555.6h0M530.3 600h0M527.9 604.7h0M546.9 579.5h0M546.9 578.8h0M532 590.6h0M530.7 599.8h0M555.8 553.9h0M574.8 554.1h0M562.4 557.9h0M561.9 563.9h0M573 542h0M518.2 602.5h0M534.2 590.2h0M524.5 604.3h0M528.6 581.9h0M549.6 528.5h0M522.7 567.9h0M539.4 587.6h0M528.9 593.7h0M575 555.9h0M537.4 595.4h0M554.7 578h0M562.3 568.4h0M538.5 545.3h0M559.8 552.8h0M552.5 564.2h0M562.1 570.9h0M535.6 573.3h0M519.6 612.2h0M527.9 591.5h0M537.2 595.2h0M558.9 535.3h0M544.2 585.3h0M540.3 587h0M544.7 587.2h0M570.1 560.2h0M536.8 595.3h0M578.3 513.7h0M523.8 592.9h0M536.5 578.1h0M565.2 546.9h0M558.5 559.5h0M531.2 536.6h0M546.1 576.3h0M534.1 596.8h0M565.2 544.2h0M559 538.7h0M534.1 558.2h0M556.1 558h0M540.9 581.3h0M546.8 562.6h0M549.5 579.7h0M537 595.6h0M556.7 560.2h0M557.4 521.4h0M556.7 574.9h0M570.2 556.9h0M542.8 587.7h0M518.7 595.2h0M538.5 578h0M552.2 578.6h0M548.7 551.3h0M564.3 563.8h0M545.9 574h0M546 579.8h0M528.6 595.9h0M568.8 562.9h0M543 588.5h0M526.7 599.4h0M526.1 589.1h0M540 580.1h0M579.2 536.3h0M563.6 568.6h0M514.5 616h0M545.8 580.2h0M553.5 579.1h0M560.7 556.2h0M555.1 561.6h0M535.5 591.4h0M556.4 572.9h0M537.2 591h0M534.1 582.4h0M534.6 593.3h0M567.2 523.9h0M569.2 535.5h0M527.4 605h0M551.7 558.2h0M550 572.5h0M519.7 594.2h0M546.4 584.6h0M551 582.1h0M536.4 562.6h0M547.7 510.8h0M536.7 588.7h0M530.5 559.3h0M541.8 554.3h0M525.8 604.1h0M559.4 539h0M548.5 572.7h0M537.1 594.6h0M553.8 569.3h0M547.6 531.5h0M518 605.3h0M545.4 521h0M539.1 592.9h0M513.6 615.3h0M535.3 582.9h0M556.7 569.9h0M535.9 589.6h0M576.2 539.3h0M582 517h0M542.1 590.3h0M559.2 499.6h0M587.9 542.3h0M541.6 582.1h0M530.4 592.7h0M539.8 576.5h0M520.9 600.3h0M521.4 607h0M552.4 564.9h0M540 574.2h0M553.1 567.5h0M558 543.6h0M533 542.3h0M544.4 586.4h0M542.9 574.5h0M534.9 587.5h0M531.6 592.4h0M554.5 565.2h0M545.5 581.7h0M554.8 555.5h0M568.1 549.3h0M568.4 555.8h0M526.1 580.2h0M531.2 597.7h0M543.1 583.2h0M550.7 546.7h0M566.9 551.9h0M529.1 593h0M539.6 583.2h0M553.2 572.7h0M572.7 544.5h0M575.7 532.8h0M528.2 603.5h0M544 568.7h0M532.2 574.7h0M565.1 553.8h0M557.1 552.6h0M541.1 550.5h0M536.1 580h0M554.1 570.7h0M567.7 564h0M533 590.8h0M541.8 545.9h0M550.5 570.5h0M548.6 523.6h0M555 552.3h0M528.4 599.7h0M536.4 587.4h0M549.3 579.2h0M569.5 542.6h0M535.7 583.9h0M566.1 537.2h0M545.4 577.3h0M571.5 542.6h0M519.9 609.3h0M575.5 491.2h0M536.6 585.1h0M534.2 583.3h0M548.8 569.1h0M547.8 570.9h0M560.2 559.1h0M558.2 571.6h0M545.3 585h0M574.5 558.2h0M562.4 565.5h0M553.7 572.1h0M550.9 561.2h0M546.3 586.5h0M546.7 583.9h0M561.5 558.9h0M557.7 565.1h0M549 564.2h0M568.4 535.2h0M543 583.2h0M556.9 548h0M565.3 557.2h0M526.1 583.8h0M543 584.8h0M581.4 541.6h0M529.2 576.1h0M571.2 560.7h0M527.2 603.4h0M556.3 538.1h0M527.1 586.5h0M536 574.4h0M540.8 562.4h0M537.3 571.3h0M568.3 534.7h0M564.8 537.7h0M565.5 547.5h0M552.1 569.6h0M580.8 543h0M568.7 544.2h0M554.7 546h0M527.4 577.6h0M561.9 553h0M561.2 558.6h0M550.1 564.1h0M562.4 516.1h0M563.6 563.2h0M542.3 581.2h0M559.5 572.5h0M555.1 575.4h0M554.5 537.4h0M541.4 565.6h0M539 586.4h0M550.6 562.2h0M576.7 550h0M594.5 522.4h0M540.9 586.8h0M527.3 590.5h0M541.4 573h0M531.6 601.2h0M539.9 589.6h0M556.1 547.7h0M530.1 598.4h0M560.4 555.7h0M564 555.6h0M578.4 507.1h0M584.4 537.7h0M568.1 550.5h0M593.3 515h0M538.3 587.1h0M553.7 578.8h0M551.7 527h0M557 562.3h0M568.6 521.4h0M541.8 589.7h0M582.3 549.1h0M573.6 545.1h0M555.3 567.2h0M557.6 561.3h0M529.1 604.1h0M546.6 579.1h0M554.7 543h0M552.9 575.4h0M526.6 600.4h0M539.4 533.5h0M583.2 545.8h0M562.9 535.8h0M560.7 554.2h0M542.3 576.4h0M563.1 560.4h0M573.9 547.6h0M563.5 539.5h0M540.4 591.4h0M554.1 540.3h0M531.1 597.4h0M542.4 505.1h0M560.2 569.8h0M537.9 594.3h0M543.9 563.6h0M576.9 553.8h0M545.2 528.4h0M563.7 546.3h0M542.6 566.2h0M526 602.9h0M548.6 558.5h0M541.4 553.8h0M524.8 604.4h0M540.2 587h0M577.7 553.4h0M537.2 585.1h0M547.9 570.6h0M561 570.8h0M554.3 564.3h0M541.9 584.3h0M582.1 546.4h0M575 551.6h0M567.5 529h0M559.3 557.8h0M567.9 557.8h0M550.3 568.1h0M564.8 548.3h0M586.6 517.3h0M582.3 536.2h0M583.8 530.1h0M569.3 540.7h0M566.8 551.8h0M567.1 555.7h0M526.5 603.6h0M593.4 538.1h0M553.2 555.5h0M555 567.7h0M550.9 576.6h0M557.9 558h0M553.1 578.7h0M523.6 587.1h0M529.1 600.5h0M511.9 621.2h0M514.6 618.1h0M560.1 572.9h0M538.9 568.8h0M546.5 576.1h0M545.1 586.4h0M525.6 587.2h0M534.5 597.8h0M523.6 581.4h0M542.3 583h0M540.7 585.7h0M566.4 566h0M572.2 524.1h0M571 544.7h0M558.2 571.7h0M528.5 574.1h0M566.3 543.6h0M558.6 551h0M553.6 552.7h0M524.4 600.4h0M556 518.9h0M576.2 549.1h0M563 539.1h0M543.8 581.7h0M559.1 535.1h0M548.4 574.7h0M551.8 574.6h0M565 566.3h0M555.1 546.4h0M549.7 575.5h0M555.9 575h0M532.1 566.1h0M528.6 602.8h0M557.9 566.7h0M536.5 574.5h0M559.3 561h0M511.9 621.1h0M571.9 491.2h0M546.3 575.9h0M581.2 497.9h0M515 614.1h0M576 551.4h0M551.4 569.5h0M554.3 550.3h0M550.8 557h0M551.5 528h0M559 557h0M528.4 601.7h0M545 574.9h0M574 550.8h0M551.9 577.8h0M536.1 588.5h0M550.2 578.7h0M569 558.2h0M544.4 566.2h0M544.8 576.1h0M558.1 548.7h0M565.2 526.5h0M577.6 552.4h0M545.8 581.7h0M555.3 519.6h0M569 546.5h0M551.3 547.5h0M557.6 559.9h0M546.8 580.6h0M531.6 600.3h0M560.1 534.8h0M573.1 527.1h0M546.8 580.5h0M539 559.7h0M544.3 559.2h0M579.4 549.5h0M573.2 545h0M549.5 508.9h0M526.9 602.2h0M523.6 609h0M542.3 548.7h0M542.4 581.2h0M554 573.3h0M526.3 605.2h0M546.2 581.9h0M559.3 556.8h0M515.3 598.7h0M594.2 500.7h0M560.2 570.3h0M559.2 565h0M523 592.2h0M528.5 574.6h0M569 531.4h0M566.4 559h0M571.7 557.7h0M563.3 562.4h0M561.2 562.4h0M526.9 582.3h0M554 541.4h0M536.9 566.1h0M560.1 568.7h0M585.5 543.3h0M561.7 569.2h0M569.2 563.6h0M542.8 537h0M528.7 575.9h0M549.3 533.1h0M569.6 538.4h0M578.2 543.5h0M547.9 575.5h0M554.1 572.7h0M541.2 548h0M515 617.7h0M556 577h0M540.9 588.2h0M545.7 579.7h0M513.4 614h0M550.3 579.5h0M576.6 545.6h0M548.7 556h0M561 569.9h0M558 569.6h0M534.1 588.2h0M553.3 557.9h0M532.9 583.7h0M553.3 566h0M527.5 597.9h0M518.7 614.5h0M578.8 552.4h0M561.4 560.8h0M557 557.1h0M522.1 598.1h0M538 589.1h0M525.1 596.5h0M571 544.1h0M538.7 593.4h0M587.4 545.3h0M559.4 561.8h0M542.8 540.3h0M575.8 520.3h0M532.6 582h0M541.2 577.6h0M570.4 538.8h0M570.5 556.6h0M513.9 618.8h0M538.6 567.8h0M527.2 601.5h0M573.9 549.5h0M540.4 586.3h0M560.8 549.1h0M586 542.5h0M547.7 571.7h0M541.5 586.3h0M550.1 570.6h0M550 542.8h0M549.4 581.7h0M550.5 579.8h0M541.3 591.2h0M586.2 526.2h0M536.2 583.3h0M554 563.5h0M543.2 585.2h0M568.4 549.1h0M553.7 543.3h0M521.8 592.5h0M534.6 583.8h0M517 612.4h0M554.7 536.4h0M580 524.2h0M573.2 556.5h0M523.3 609.1h0M514.7 614.2h0M559.4 561.7h0M582.4 530.2h0M549.9 577.7h0M569.8 509.8h0M521.2 605h0M546.6 578.6h0M557.6 553.1h0M540.7 558.1h0M544.3 575.1h0M562.4 538.9h0M536.4 591.9h0M529 603.3h0M563.6 565.5h0M553.6 576.9h0M528.9 541.9h0M557.3 565h0M537.5 572.9h0M561.4 569h0M548.5 541.9h0M543 581.2h0M533.3 593.4h0M552.7 542.7h0M547.8 557.7h0M586.3 539.2h0M547.8 581.5h0M521.9 608.2h0M589.8 537h0M581.5 547.2h0M531.5 594.9h0M576.2 545.9h0M544.9 587.8h0M559.4 515.3h0M549.2 547.7h0M546.4 520.9h0M558.9 526.6h0M535.8 594.5h0M558.1 573h0M527 601.6h0M534 581.9h0M538.4 584h0M546.5 539.3h0M572.7 545.2h0M531.9 568.9h0M531.4 599h0M526.1 605.8h0M540.4 560.6h0M559.6 563.2h0M533.6 594.6h0M542.6 581.5h0M550.1 568.9h0M560.2 551.5h0M566.8 559.8h0M531.7 564.7h0M547 534.2h0M530.3 599.4h0M568.3 563.7h0M560.9 543h0M606 522.2h0M544.3 580.9h0M531 600.4h0M538.9 593.3h0M523.4 606.2h0M552.6 573.4h0M554.6 568.4h0M566.9 549.1h0M556.5 538h0M574.3 550.5h0M560.1 568.1h0M565.1 565.2h0M525.3 589.7h0M532 597.9h0M535.9 558.7h0M540.9 556.8h0M572.6 539.6h0M544.6 562.6h0M565.6 562.1h0M564.2 555.5h0M578.6 540.9h0M560.3 564.7h0M556.4 546.3h0M534.3 596h0M551.5 564.8h0M584 516.7h0M514.1 615.6h0M535.1 589.1h0M554.7 571h0M581.4 510h0M527.5 549.5h0M540.4 591.8h0M552.5 578.8h0M532.3 597.8h0M546.4 586.6h0M564.4 506.3h0M535.6 597.5h0M557.3 561h0M557.9 557.5h0M542.6 586.5h0M556.8 572.9h0M584.1 538.9h0M552.4 573.2h0M535.1 584.7h0M554.5 573.7h0M570.6 540.4h0M552.9 579.7h0M556.2 576.6h0M602.7 521.2h0M534.9 520.1h0M528.6 602.6h0M555.5 549.1h0M545.8 578.8h0M561.5 520.3h0M574.7 556.2h0M557.2 575.5h0M546.2 560h0M560.4 571.7h0M559.7 523.8h0M548.3 580h0M538.7 586h0M563.4 554.1h0M546.1 554.2h0M527.3 591.7h0M563.6 563.7h0M539.7 586.8h0M539.3 583.6h0M562.9 561.1h0M534.4 582.5h0M546.5 583.6h0M530.4 601.2h0M519.6 606.5h0M580.8 523.9h0M532.5 583.1h0M573 548.8h0M571 559.5h0M579.8 535.9h0M528.6 574.9h0M536.9 557.8h0M582.5 540.2h0M548.8 572h0M549.7 573.8h0M564 557.4h0M562.1 559.6h0M545.8 563h0M562.7 559h0M555.4 574.7h0M535.6 593.3h0M575.5 549.1h0M567 565.8h0M543.8 581.4h0M539.2 591.9h0M568.5 559.4h0M552.3 535.5h0M538.5 586.5h0M536.9 592.8h0M567.8 557.9h0M556.4 555.5h0M546.1 583.4h0M557.7 564.3h0M522.7 602.6h0M570.5 557.6h0M538.8 587.8h0M554.9 553.5h0M576.3 554.7h0M574.1 518.2h0M560.4 569.4h0M576.1 541.7h0M541.9 587.9h0M532.2 571h0M520.5 611.6h0M561.7 561.7h0M589.7 506.8h0M544.3 568h0M550.9 562.9h0M544.4 562.5h0M560.3 568.6h0M514.5 618.3h0M572.1 538.5h0M537.1 560.5h0M530.6 595.8h0M533.1 599.3h0M561.6 545.6h0M579.3 527.2h0M530.8 599.9h0M519.9 608.9h0M552.6 562.7h0M555.8 575.8h0M564.6 549.8h0M536.7 580.8h0M565 549.6h0M572.3 556.2h0M517.9 614.4h0M544.4 575.4h0M562.5 559.7h0M565.5 563.5h0M539.3 584.5h0M511.6 607h0M534.7 588.8h0M521.8 607.2h0M539.7 567.4h0M570.4 553.2h0M537.4 543.3h0M551.6 560.7h0M525.9 602.1h0M568.3 556.2h0M537.4 572.8h0M529.1 593.7h0M586.9 543h0M556.4 545.1h0M563.3 556.3h0M578 551.4h0M583.8 490h0M547 562.4h0M543.7 584.5h0M538.1 573.9h0M571 496.2h0M518.5 612h0M556.1 537h0M589.3 532.8h0M552.3 535.6h0M588.8 525.9h0M550.1 569.4h0M543.6 567.4h0M567.7 562.6h0M548.1 578.2h0M551.6 577.4h0M541.6 554.9h0M525.6 603.9h0M543.5 576.1h0M563.6 559.1h0M571 546.8h0M548.2 553.2h0M555.7 576.7h0M531.1 588.9h0M546.1 583.3h0M546.5 578.8h0M546.9 551.1h0M550.8 560h0M556.6 528.1h0M573.9 544.2h0M564.9 553.4h0M559.9 570.5h0M525.5 595.8h0M533.7 593.5h0M550.6 553.9h0M551.7 567.1h0M564.2 514.1h0M514.8 615.2h0M553.3 530.3h0M552.2 523.2h0M543 584.8h0M534 595h0M554.2 573.8h0M546.6 543.5h0M559.1 570.7h0M531.9 587.1h0M580 545.7h0M554.3 535.9h0M534.5 593.1h0M543.5 581h0M524.2 607.3h0M578 547.8h0M578.2 546.9h0M567.4 531.7h0M573.8 553.1h0M559.2 570.9h0M576 542.8h0M562.6 559.4h0M578 552h0M549.6 574.1h0M548.4 571.7h0M539 593h0M540.9 591.5h0M519 607.9h0M576.4 552.7h0M577.9 550.6h0M564.7 531.5h0M570 550.7h0M554.7 537.6h0M559.9 559.5h0M523.6 604h0M548.8 584h0M514.5 611.9h0M536.8 582.8h0M544.6 525.8h0M544.1 564.4h0M529.3 596h0M575.5 548.8h0M569.7 553.9h0M539.8 559.6h0M526 604.5h0M540.5 590.3h0M568.6 547.1h0M512.5 612.8h0M566 542.6h0M547.6 577h0M542.3 570.4h0M570.2 541.3h0M550.5 557.2h0M543.2 577.3h0M574.5 533.3h0M518.8 607.3h0M581.9 524.5h0M533.5 593.1h0M533.7 591.5h0M581.4 542.1h0M574.4 539.7h0M533.6 588.2h0M554.9 554.8h0M550.2 577.9h0M538.7 589.1h0M547.7 558.2h0M536.8 590.1h0M566.8 565.2h0M548.5 573.3h0M546 558.6h0M555.1 564.4h0M521.5 594h0M564.6 564h0M549.4 581h0M543.4 581.8h0M526.5 605.2h0M561 544.9h0M558.8 546.3h0M570.8 558.3h0M534.7 583.9h0M559.6 556.4h0M522.8 600.6h0M556.3 574.1h0M545.3 552h0M554.5 544.4h0M549.6 583.1h0M569.9 554.8h0M543 584.1h0M546.2 572.1h0M577.3 546.4h0M548.4 582.1h0M539.3 576.3h0M532 529.2h0M550 534.9h0M549.1 571.3h0M562.4 565.8h0M546.4 571.4h0M563.3 558.9h0M544.5 585.4h0M581.1 548.2h0M548.8 547.9h0M563.1 499.6h0M557.3 540.2h0M523.8 599.7h0M570.1 551.6h0M541.4 590.2h0M567.8 545.4h0M513.2 616.3h0M514.2 615.4h0M541.8 572h0M548.8 519.1h0M530.1 593.5h0M542.6 564.4h0M535.9 565.5h0M563.9 555h0M563.3 538h0M555.2 573.8h0M562 556.9h0M583.1 489.3h0M562 565.7h0M519.3 612h0M545.1 556h0M543.4 580.1h0M565.3 540.4h0M558.6 570.3h0M566.2 513.9h0M518.8 614.1h0M576.7 551.9h0M546.3 585.2h0M568.1 558.8h0M558.6 499.6h0M531.8 592.5h0M533 582.4h0M560.9 557.2h0M571.5 555.6h0M531.1 589.6h0M526.5 597h0M530.4 584.3h0M534.1 593.2h0M542.9 584.7h0M560.5 541.8h0M538.9 593.7h0M526.6 595.4h0M541 554.2h0M546.9 585.9h0M551.3 579.5h0M551 544.1h0M544.8 570.1h0M559.1 567.7h0M542.5 582.5h0M544.8 586.3h0M584.7 545.7h0M532.1 572.5h0M596.3 535.1h0M538.3 558.1h0M562.3 570.3h0M516.6 615.6h0M546.2 506.2h0M576.5 554.3h0M525.2 604.7h0M534 596.2h0M554.4 556.7h0M555.1 563.6h0M519.2 609.7h0M523.6 606h0M553.9 564.2h0M554 576.7h0M562.6 546.6h0M545 584.7h0M560.5 531.3h0M571.9 549.6h0M524.3 608.7h0M568.2 551.4h0M563.1 562.2h0M573.4 549.2h0M540.7 566h0M547.7 571.2h0M549.9 578.7h0M538.9 587.6h0M568.1 543.5h0M552.8 567.1h0M528.9 580h0M553.4 578.6h0M527.5 603.4h0M517.8 614.4h0M528 586.3h0M548.7 556h0M550.6 578.5h0M546.2 574.5h0M558.9 518.1h0M585.8 543h0M526.3 605.7h0M556.7 565h0M553.7 569.9h0M525.1 605.4h0M538.5 590h0M552.3 574.1h0M548.9 552.9h0M532.1 597.1h0M563.3 558.1h0M553 563.2h0M560.8 563.4h0M579.2 553.5h0M523.7 602.9h0M567.5 559h0M557.6 563.3h0M531.4 590.1h0M547.2 582.7h0M540.2 589.1h0M525.6 591.8h0M563.9 556.1h0M533.3 537.5h0M564.2 554.2h0M538.8 575.2h0M555.5 577.3h0M552.3 540h0M542.3 556.1h0M540.9 576.4h0M540.3 580.6h0M526.2 589.4h0M558 570.4h0M535.6 586.3h0M550.1 553.1h0M525.9 589h0M534.5 571.8h0M538.8 567.6h0M556 561.4h0M520.1 610.8h0M563 554.1h0M545.4 587.3h0M538.5 589.9h0M554.8 556.9h0M567.8 564.6h0M570.5 530.7h0M528 580.6h0M574.2 548h0M548.9 576.3h0M573.5 538.4h0M527.7 590.5h0M544.9 582.7h0M546 572.8h0M523.6 595.6h0M539.4 573.4h0M565.6 562.4h0M569.7 559.1h0M560.8 544.1h0M553.6 548.7h0M539.5 546.4h0M587.9 530.5h0M522.1 597.8h0M524.8 596.9h0M533.2 561.7h0M551.5 576.9h0M539.2 560.4h0M563 568h0M517.7 615.5h0M564.1 545.6h0M582 538.2h0M564.9 567.2h0M542.2 573h0M536.3 586.8h0M569 564h0M515 616.1h0M532.6 589.3h0M515.5 593.2h0M545.1 578.9h0M583.5 539.5h0M539.6 591.6h0M568.7 561.6h0M527 602.1h0M537.3 587.8h0M536.8 554.9h0M568.3 559.3h0M530.9 589.2h0M534.9 598.1h0M548 584h0M577.8 548.7h0M549.1 563.2h0M582.3 504.1h0M555.6 561.4h0M543 580.8h0M570.1 499.7h0M536.7 591.9h0M530.3 600.5h0M550 535.6h0M518.1 609.3h0M524.9 600.1h0M532.3 597.2h0M548.6 569.7h0M568 528h0M570.1 559h0M544.2 588h0M552.4 579.6h0M541.9 556.1h0M520.5 602.5h0M555.8 548.6h0M533.8 568.7h0M562.4 547h0M537.4 557.4h0M528.4 575.8h0M554.3 571.5h0M537.3 570.5h0M522.6 589.8h0M567.9 561h0M554 554h0M554 537.9h0M549.4 581.3h0M537.1 594.3h0M537 557.7h0M539.3 572h0M556 571.2h0M522.6 605.6h0M557.1 552h0M548.5 581.9h0M576.3 552.2h0M533.9 587.2h0M548.2 584.6h0M552.7 532.5h0M559.3 539.6h0M572.9 541.5h0M557.2 549h0M520.9 593.9h0M580 530.6h0M560.5 570.6h0M573.6 545.1h0M534.9 582.7h0M547.2 579.5h0M546.7 543.3h0M526.6 577.6h0M555.3 569.4h0M529.6 600.5h0M554.5 577.4h0M559.9 548.6h0M569.4 563.3h0M574.5 547.6h0M556.5 569.1h0M557.7 554.6h0M544 585.5h0M547 561.6h0M565.4 559.6h0M563.4 565.9h0M557.5 566.6h0M548.1 545.8h0M568.3 562.3h0M526.5 590.7h0M538 571.6h0M552.6 562.2h0M570.1 557.6h0M524.4 605.4h0M527.7 585.7h0M524.9 600.8h0M562.4 548.5h0M563.8 551.1h0M578 548.9h0M592.3 520.3h0M525.1 601h0M544.7 573.1h0M537.7 579.5h0M527.2 605.8h0M549.1 580.9h0M537.7 562h0M551.1 569.4h0M541.4 566.7h0M520.3 603.1h0M559.8 570.7h0M559.2 570.4h0M539.8 561.3h0M521.5 610.1h0M555.4 577.5h0M561.1 569.4h0M549.6 578.6h0M549.5 573.9h0M555.1 577.3h0M534.8 576.5h0M542.7 544h0M529.4 602.4h0M562.7 564.8h0M555.3 495.2h0M527.4 604.9h0M518 601.2h0M535.8 570.1h0M564.8 565.6h0M558.4 549.5h0M549 578.4h0M565.6 551.8h0M554.5 562h0M529.5 583.5h0M560.4 567.2h0M546.7 569.1h0M531.8 571.3h0M569.9 558.2h0M556.2 576.6h0M520 605.5h0M562.7 552.3h0M551.7 579.2h0M540.9 580.5h0M539 573.7h0M528.1 590.6h0M519.6 612h0M553.2 579.4h0M557 554.6h0M541.4 585.8h0M552.8 574.2h0M540.6 567.2h0M541.1 589.7h0M557.3 566.1h0M575.3 539.2h0M539 585.8h0M554.7 566h0M544.7 561.8h0M552.1 521.4h0M572.1 513.5h0M555.6 576h0M532.9 564h0M539.1 575.5h0M536.6 594.1h0M542.9 589.4h0M535.1 597.4h0M538.4 559h0M544.7 563.4h0M554.2 572.8h0M531.6 595.3h0M549.2 565.2h0M548.7 564.5h0M564.1 552.5h0M552.8 579.6h0M557.9 540.7h0M553.1 579.4h0M569.7 544.6h0M545.5 572.6h0M519.3 611.6h0M554.5 533.5h0M529.1 562.7h0M556.8 574.4h0M546.9 578.5h0M551.3 548.4h0M556.3 571.5h0M544.2 572.7h0M568 563h0M548.7 571.3h0M541.7 569.7h0M548 582.3h0M557.1 563h0M519.5 604.3h0M554.9 566.9h0M544.8 582.1h0M548.8 552.5h0M532 598.7h0M579 534.4h0M544.8 550.4h0M530.3 602.1h0M517.2 613.8h0M574.5 525.7h0M550.9 565.8h0M593.3 528.8h0M562.1 523.4h0M556.8 534.8h0M558.1 563.1h0M523.1 596.4h0M522.6 604.8h0M574.5 519h0M562.9 551.1h0M533.6 594.8h0M549.6 517.6h0M550.7 565.5h0M570.7 495.8h0M554.3 551.4h0M534.7 563.9h0M563.1 563.5h0M537.8 593.1h0M558.8 563.4h0M537 591.8h0M578.6 544.1h0M530.4 599.3h0M566.9 539.3h0M560 539.9h0M538.2 558.3h0M526.2 604.3h0M584.5 539.2h0M552.7 572.3h0M572.6 490.2h0M554.8 560.3h0M566.3 552.2h0M552.8 565.9h0M524.2 597.7h0M533.9 530.3h0M555.7 573.8h0M526 593.3h0M542.1 576.9h0M546.6 564.8h0M569.5 551h0M579.2 537.7h0M556.5 553.6h0M582.7 529.3h0M522.9 602.5h0M528.1 598.2h0M570.8 534.8h0M551.9 557.1h0M538.1 574.8h0M552.5 536h0M562.4 569h0M550.5 573.3h0M556.1 566.2h0M552.9 566.9h0M556.6 522.9h0M553.1 565.5h0M557.3 575.7h0M546.4 583.2h0M570.5 546.3h0M543.9 534.8h0M540.2 576.8h0M522.6 608.9h0M535.7 578.3h0M552.7 564.1h0M546.4 574.2h0M561.1 561h0M527.8 602.1h0M537.8 590.1h0M512.5 619.2h0M544.7 579.4h0M567.9 546.1h0M558.5 552.9h0M542.1 568.9h0M558.7 573.1h0M554.8 565h0M532.7 593.1h0M530.4 590.6h0M532 589.2h0M557.9 545.5h0M560.4 563.3h0M556.9 565.6h0M544.5 553h0M585.1 541.1h0M545.6 577h0M558.6 504.6h0M552.8 579.2h0M569 551.9h0M517.7 612.9h0M559.2 556.5h0M545.8 534.8h0M547.7 575.9h0M529.6 585.4h0M535.6 580.5h0M572.3 513h0M565.8 547.4h0M522.4 609.5h0M554 557.4h0M540.2 587.7h0M569.6 524.3h0M557.9 555.3h0M563.8 553.2h0M548.3 560.9h0M550.3 563.6h0M537.1 582.8h0M521.1 592h0M538.6 589.6h0M572.5 557.1h0M574.7 518h0M532.8 561.2h0M533.1 589.6h0M535.1 580.1h0M534.3 568.1h0M526.9 601.3h0M535.9 590.9h0M561.2 564.4h0M562.6 554.6h0M580.7 491.4h0M545.6 572.4h0M537.9 570.4h0M528.3 596.1h0M541.9 581.3h0M534.5 550h0M566.6 550.7h0M532.5 598.6h0M548.4 579.1h0M582.1 541.8h0M548 579.1h0M517 616h0M565.1 557.8h0M558.5 573.7h0M561.2 549.6h0M530.3 595.2h0M529.5 596.4h0M551 570.9h0M516.3 614.8h0M532.4 584.7h0M569.8 521.9h0M524.2 603h0M554.7 573.6h0M568.1 562.6h0M547 568.1h0M539.7 543.6h0M572.7 523.3h0M522.3 606.5h0M579.4 544.5h0M531.3 561.7h0M548.7 545.2h0M527.4 605.4h0M527.8 599.5h0M566.7 532.3h0M549.5 566.9h0M557.8 569h0M523.6 609.4h0M541.4 554.4h0M524.8 588.4h0M547.5 540.6h0M556.7 518.8h0M557.5 566.3h0M557.8 570.7h0M535.7 578.1h0M558.9 557h0M539.8 591.8h0M573.5 542h0M544.9 570.3h0M570.6 532.4h0M541.3 571.4h0M552.4 557.6h0M520.5 610.1h0M560.7 550h0M530.8 579.8h0M514.4 617.2h0M550.7 576.6h0M569.4 559h0M562 563.5h0M532.1 598.5h0M515.8 615.1h0M535.9 587.9h0M538.2 564.3h0M544.9 559.5h0M571.3 552.8h0M544.3 565.6h0M527.6 585.7h0M526.9 593.3h0M530 592.8h0M535.3 568.7h0M554.1 564.6h0M542 587.4h0M546.6 554.5h0M549.9 574.3h0M551.9 523.2h0M560.3 560.2h0M570.1 551.3h0M529.2 578.9h0M542.5 589.5h0M545.9 561.2h0M545.1 580.9h0M563.5 563.3h0M561.8 563.9h0M536.2 595.9h0M579.6 535h0M558 574.6h0M561.3 570.3h0M536.9 590.4h0M563.1 560.1h0M542.2 583.2h0M530.3 597.4h0M550.6 573.5h0M529 600.5h0M527.7 601.1h0M556.8 559.9h0M563.3 557.6h0M535.3 576.1h0M566.4 566.5h0M570.4 554h0M570 557.1h0M554.8 574.6h0M542.6 587h0M577.5 549.4h0M541.2 581.3h0M557.4 566.5h0M569.7 554.8h0M580.9 505h0M554.3 573.2h0M553.7 576.8h0M558.8 540.4h0M553 569.4h0M569.9 528.2h0M569.1 557.2h0M581.6 546.6h0M548.1 584.6h0M563.1 524.9h0M535.8 561.1h0M541.5 574.7h0M576.2 556.8h0M544.2 584.5h0M513.6 616.4h0M539.1 573.8h0M539.4 574.1h0M514.8 617.1h0M552.9 514h0M565 552.4h0M539.4 593.2h0M567.6 538.1h0M563.3 568.7h0M548.9 579.8h0M591.7 528.3h0M549.6 543.6h0M548.7 512.9h0M548.7 550.9h0M542.7 576.8h0M542 556.1h0M562.2 557.9h0M554.3 547.9h0M554.8 566.2h0M554.4 575.5h0M536.4 595.2h0M584.8 529.6h0M530.4 594h0M566.8 557.8h0M546.1 570h0M568.8 559.2h0M545.1 547.1h0M569.8 542.5h0M558.7 567.4h0M571.4 557.9h0M586.7 525.9h0M553.5 545.4h0M552.5 570.4h0M550 575.7h0M566.4 554.4h0M545 583.6h0M550.8 567.1h0M546.6 577.5h0M513.6 619.4h0M565.8 566h0M536.3 588.3h0M524.3 599.5h0M568 530.4h0M557.1 573.1h0M560.3 565.5h0M552.1 572.7h0M537.5 593.4h0M566.4 553.9h0M533.7 599h0M554.6 545.6h0M531.2 524.9h0M529.3 597.7h0M565 565.5h0M535.4 576h0M579.6 515.9h0M525.7 598.5h0M569.8 520.2h0M544.4 585h0M564.3 546.6h0M563 549.2h0M516.1 611.5h0M561.3 569.6h0M544.1 524.6h0M532.5 551.7h0M569.4 555.9h0M556.9 530.6h0M557.7 548.6h0M576.1 521.3h0M568.9 558.2h0M551.8 562.6h0M535 560.7h0M577.3 540.8h0M538 579.6h0M520.3 606h0M585.8 524.1h0M588.9 525.1h0M519.8 602h0M557.1 565.1h0M523.8 606.9h0M562 562.4h0M541.7 565h0M524.2 580.8h0M567.9 556.7h0M534 593.7h0M557.6 559.8h0M537.7 594.7h0M582 504.5h0M570.2 544.2h0M541.9 586.4h0M557 511.4h0M532.7 592.3h0M572.2 558h0M579.4 552.4h0M550.4 582.3h0M567 560.9h0M525.7 597.6h0M560.9 570.7h0M580.6 529.5h0M524.4 602h0M563.7 552.9h0M554.4 541.3h0M566 550.1h0M550.9 563.7h0M548.3 582.2h0M571.9 547.8h0M550.2 571.7h0M558.4 560.4h0M524.2 594.5h0M556.8 540.1h0M562.3 547.3h0M546.8 577.6h0M548.6 518.3h0M512.3 616.2h0M530 594.3h0M544.4 577.1h0M543.5 572.7h0M589.8 530h0M563.8 551.1h0M527.2 593.9h0M591.7 517.3h0M523.3 583.7h0M527.8 603.7h0M532.9 581.2h0M548.2 560.1h0M597.5 534.6h0M544.4 584.8h0M559.6 562.6h0M522 599.8h0M541 587.2h0M597.3 532.3h0M573.8 555.4h0M566.6 562.9h0M578 550.5h0M560.2 554.1h0M559.6 565.9h0M529.3 596.2h0M521.3 605.1h0M537 594.1h0M543.3 560.3h0M534.4 597.7h0M563 560.2h0M584 537.7h0M549.3 564.1h0M520.1 600.8h0M526.2 602.9h0M569.3 556h0M564.6 566.4h0M554 577.4h0M561.8 565.5h0M571 540.9h0M550.5 562.3h0M555.4 577h0M543.1 580.9h0M512.2 619.4h0M551.6 566h0M548.8 572.1h0M557 552.8h0M539 580.4h0M557.2 570.9h0M556.7 543.1h0M541.3 570.8h0M530.2 589.3h0M536.1 581.6h0M555.7 563.6h0M565.7 552.8h0M583.8 537.3h0M547.4 566.6h0M558.8 555h0M572.2 535.7h0M530.2 569.2h0M561.2 561.9h0M540.5 582.7h0M542 589.1h0M563.8 557.4h0M544.7 555.5h0M555.6 572.8h0M528.1 603h0M548 539.5h0M532.5 592.5h0M543.3 572.7h0M603.8 528.7h0M549.7 569.1h0M545.1 558h0M541.6 569.2h0M534.4 575.1h0M584 516.4h0M536 581.5h0M595.4 517.2h0M545.1 561.4h0M573.2 545.5h0M551.6 533.9h0M537 594.5h0M545.7 530.4h0M574.9 551.3h0M546 586h0M511.9 608.5h0M585.7 540.6h0M535.7 568.3h0M542.9 567.3h0M577.8 515.7h0M516.7 613.6h0M539.4 556h0M561.6 567.1h0M561.6 570.9h0M560.5 555.5h0M530.6 598.5h0M567.4 561.3h0M540.5 586.5h0M552.9 539.5h0M531.2 594.5h0M583.2 544.1h0M542 571.7h0M547.9 562.2h0M538.7 573h0M557.1 570.6h0M523.2 594h0M547.5 575.4h0M545 565.3h0M581.3 537.5h0M543 552.6h0M545.8 565.8h0M552.4 576.4h0M569.8 515.3h0M589.5 540.2h0M558.4 568.5h0M559.9 556.5h0M581.8 525.9h0M551.2 576.7h0M558.4 563h0M538.3 566.4h0M547.1 581h0M534.7 588.2h0M593.2 510.9h0M565.6 542.5h0M563.8 550.5h0M530.2 598.1h0M552.3 567.7h0M536.3 582.5h0M536.3 591.8h0M523.1 584.4h0M537 580.6h0M602.1 528.2h0M537.9 585.8h0M563.5 530.1h0M569 546.8h0M559.3 515.7h0M565.1 546h0M530.3 598.5h0M580.7 543h0M591.8 538h0M550.8 572.3h0M536.1 594.8h0M533.5 598.9h0M523.5 609.2h0M562 533.3h0M566.7 562.5h0M583.7 546.5h0M524.1 589.5h0M566.8 565h0M563.6 565.6h0M544.7 527.7h0M532.4 593.7h0M555.6 574.3h0M593.7 539.1h0M524.4 601.6h0M537.9 578.5h0M539.2 585.8h0M546.8 576.2h0M571.4 554.5h0M540.1 584.6h0M524.4 607.9h0M524 604.2h0M554.6 563h0M552.5 573h0M526.6 597.4h0M563.7 553.3h0M512.9 614.4h0M545.5 567.7h0M575.2 555.5h0M517.9 612h0M561.1 530.5h0M569.7 545h0M540 587.9h0M552.3 577.7h0M519.6 595.7h0M555.8 575.7h0M525.2 600.3h0M537.9 588.2h0M557.4 533.1h0M541.5 590.8h0M527.1 586.9h0M548.1 535.4h0M543.4 562.2h0M532.7 599.6h0M544.6 581.4h0M566.2 543.3h0M536.3 588.9h0M537.5 566h0M539 591.2h0M556.6 559.5h0M518.4 613.9h0M563.5 528.6h0M589.2 522.2h0M557.9 569.5h0M549.7 567.5h0M557.3 558.4h0M558.1 570.6h0M541.8 563.9h0M546 559.2h0M544.5 585.9h0M559.1 551.6h0M585.9 534h0M551.3 574.5h0M588.9 521.5h0M531.4 589.3h0M563.6 560.3h0M534.6 565h0M551.3 576.8h0M546.9 577.7h0M511.2 619.7h0M543.9 588.8h0M556.7 558.8h0M554.7 544.6h0M519.6 595h0M520.2 610.5h0M560.9 490h0M528.6 595.3h0M589.4 528.3h0M554.9 577.5h0M555.4 565.8h0M545.3 564.5h0M533.2 595.1h0M554.2 575.5h0M544.4 583.3h0M578.7 548.8h0M552 557.7h0M553.7 545h0M570 554.9h0M568.4 553.3h0M588 530.3h0M518.6 610.3h0M528.8 600.1h0M543 544h0M533.1 599.8h0M585 548h0M549.6 544.8h0M526.4 583h0M541.4 574.5h0M533.1 586.2h0M535.4 559.5h0M556.7 566.4h0M559.6 562.7h0M545.8 577.1h0M522.7 609.8h0M536.3 534.1h0M559.5 527.2h0M542.7 547h0M564 531.6h0M511.9 617.3h0M535.2 580.1h0M549.7 580.2h0M555.1 573.4h0M569.9 539.4h0M550.7 570.3h0M554.9 534.2h0M552.1 553.7h0M527.9 592.5h0M545.3 540.8h0M577.4 538.2h0M563.3 548.7h0M542.9 560.3h0M549.3 539.9h0M583.4 549.3h0M580.6 523.6h0M586.4 516.4h0M574.9 535.3h0M546.5 580.7h0M545.4 585.8h0M517.3 602.2h0M574.8 552.6h0M573.7 553h0M593.7 535.2h0M534.1 550.2h0M583.8 517h0M560.6 571.3h0M552.4 557.7h0M555.1 531.4h0M527.1 601.8h0M548.5 565.7h0M530.3 596.2h0M540.3 583.8h0M554.2 564.7h0M540.5 577.4h0M564.2 560.7h0M536.2 582.7h0M539.1 580.7h0M538.7 581.7h0M554.2 568.5h0M555.2 571.6h0M570 521.5h0M544.1 556.9h0M537.1 561.9h0M556.1 567.7h0M586 529.9h0M568 564.2h0M513.3 618.5h0M552.7 570.6h0M542.7 582.9h0M546.8 585.2h0M567.1 527.8h0M551.8 580.8h0M548.8 584.1h0M519.1 611.4h0M548.6 549.3h0M555.6 559.7h0M572.1 560.2h0M533.4 587.9h0M546.2 581.8h0M562.8 551.7h0M518.4 610.8h0M536.7 575.3h0M521.9 605.4h0M538.4 581.4h0M548.6 570.4h0M543.8 563.7h0M578.9 552.9h0M566.2 566.4h0M554.3 537.6h0M572.9 550.6h0M588.6 535.7h0M543.3 577.4h0M547.3 579h0M557.5 555.1h0M571.8 536.5h0M510.9 619.4h0M549.6 574.7h0M604.1 517h0M551.6 564.8h0M589.3 509.1h0M600.3 525.9h0M566.6 512.8h0M597.1 527h0M552.3 555.3h0M516.5 611.9h0M541.9 583.9h0M580.8 536.6h0M605 503.8h0M563.4 569h0M519.2 610.1h0M551.7 549.3h0M511.7 620.1h0M553.3 560.2h0M584.1 540.4h0M533.2 585.8h0M534 594.9h0M542.1 575.6h0M544.5 579.9h0M563.4 566.5h0M558.6 493.7h0M566.7 565.2h0M531.4 601.6h0M575.7 539h0M564.7 537.9h0M533.9 568.2h0M541 550.5h0M538.6 573.6h0M517 609.5h0M590.5 541.5h0M564.2 564.2h0M552.9 551.6h0M574.7 546h0M548.4 578.8h0M548.4 526.6h0M577.9 547h0M530.9 594.6h0M533.9 594h0M517.5 586.6h0M537.5 592.9h0M572.3 536.1h0M540.8 590.7h0M582.1 494.2h0M540.6 573h0M555.6 573.3h0M529.5 598.4h0M565.7 533.8h0M591.9 537.2h0M545.1 580.7h0M518.8 603.8h0M549 557.4h0M565.4 552.6h0M534.1 587h0M590 528h0M524.8 608.2h0M562.5 544.8h0M579.8 550.1h0M556.8 576h0M576.8 552.8h0M560.8 566.6h0M542.4 534.1h0M541.2 585.5h0M587.8 541.3h0M514.9 608.6h0M555.5 575.1h0M534.4 514.6h0M541.5 568.8h0M567.6 542.1h0M532.8 554.7h0M518.7 578.6h0M574.6 526.6h0M575.8 541.7h0M550.9 568.1h0M531.8 596.6h0M529.6 603.3h0M556.4 573.1h0M558.6 544.2h0M559.7 486.6h0M563.1 559.1h0M549.4 571.9h0M562 554h0M548.8 577.5h0M557 573h0M544.8 582.8h0M555.4 528.4h0M530.4 596.3h0M544.9 543.1h0M526 601.8h0M560.7 568.2h0M535.3 575.2h0M536 529.2h0M531.8 593.9h0M529.5 589h0M560.7 553.1h0M559.2 565.8h0M567.1 530h0M536.7 565.3h0M554.1 566.1h0M566.8 563.6h0M528.3 592.5h0M574.5 545.9h0" fill="none" stroke="#3e86c4" stroke-width="2.75" stroke-linecap="round" opacity="0.93"/>
<path d="M563.1 512.8h0M591.3 539.4h0M559.3 559.8h0M535.8 591.4h0M593.1 523.1h0M575.5 545.7h0M572.6 550.3h0M585.5 535.7h0M548.9 565.7h0M545.5 536.6h0M538 594.3h0M562.7 518.5h0M541.8 590.5h0M561.3 557.8h0M532.6 577.9h0M572.7 540.6h0M562.6 570.5h0M535.5 595h0M577.7 543.4h0M581.1 517.8h0M562.3 556.3h0M538.2 588.5h0M557.3 564.9h0M552.2 557.9h0M541.1 587h0M548.5 583.1h0M546.9 585.6h0M521.5 600.9h0M548.7 582.3h0M528.1 592.6h0M549.1 581.3h0M545.5 525.6h0M566.7 519.6h0M539.7 560.8h0M552.5 575.3h0M520.1 604.4h0M573.1 544.4h0M593.4 537h0M547.3 541.2h0M560.2 520.3h0M563.7 556.3h0M546.4 576.2h0M568.1 492.6h0M539.1 556.2h0M547.6 579.3h0M548.3 570.1h0M537.5 577.6h0M521.5 605.7h0M570.1 556.4h0M552.1 559.2h0M534.4 579.1h0M526.4 584.2h0M546.8 580.3h0M529.7 586.9h0M560.2 565.2h0M550.3 571.1h0M557.9 552h0M570.6 552.5h0M553.5 574.8h0M561.8 554.9h0M573.2 509.5h0M559.8 500.2h0M573.5 549.7h0M554.7 497.9h0M561.1 545.2h0M581.2 543.4h0M545.5 577.6h0M559.4 559h0M580 530.1h0M548.3 580.5h0M544.6 548.3h0M544.4 561.5h0M561.4 549.3h0M512.4 620.5h0M587.3 538.1h0M552 551.5h0M547.5 566h0M577.8 553.6h0M567.4 564.2h0M560 569.6h0M531.3 597.6h0M571.9 534.9h0M554.9 575.3h0M532.9 591.9h0M546 584h0M555.3 549.8h0M534.5 559.3h0M566.7 522h0M538.3 590.7h0M567.4 563.6h0M555.4 572h0M559 549.8h0M529.4 599.3h0M551.3 548.9h0M561.8 569h0M556.3 535.3h0M542.1 585.2h0M556.5 574h0M542.6 572.1h0M548.5 557.4h0M573.6 537.7h0M583 518.4h0M585.1 492.5h0M561.4 568.7h0M538.1 588.9h0M544.2 568.7h0M571.9 555.2h0M552.2 542.4h0M580.6 552.3h0M542.7 589.4h0M567.6 516h0M523.5 605.2h0M543.3 575.8h0M560 543.3h0M557.8 574.7h0M552.9 561.4h0M527.1 588.4h0M551.8 578.6h0M543.5 581.1h0M536.3 584.2h0M553.9 537.5h0M532.9 583.7h0M536.5 585.4h0M593.1 533.7h0M556.7 573.9h0M574.2 551.8h0M539.1 587.5h0M540.1 559.7h0M522.9 605.9h0M522.7 607.3h0M523.7 592h0M558.7 572.4h0M530.3 587.1h0M531.7 594.4h0M536.8 553.4h0M563.2 544.9h0M541 579.7h0M561 571.2h0M528.1 595.3h0M560.7 554.4h0M548.3 526.5h0M560.7 546.6h0M525.9 601.9h0M545.6 556.4h0M548.4 573h0M534.7 580.1h0M560.2 568.3h0M549.7 583.1h0M559.2 540.9h0M536.8 593.4h0M552.7 571.9h0M520.5 604.2h0M562.2 536.5h0M521.6 602.1h0M534.9 586.6h0M550.2 569h0M559.2 566.6h0M550.8 540.1h0M523.1 605.2h0M531.5 577.8h0M545.6 565.6h0M520.7 602.7h0M530.8 595.8h0M555 544.3h0M549.3 561.4h0M557.5 559.6h0M554.8 538.2h0M518.1 610.1h0M526.6 601h0M548.2 563.8h0M553.6 568.1h0M535.3 589h0M565.4 563h0M532.6 578.8h0M535.9 578.4h0M546.4 566.6h0M551.7 561.5h0M534.2 520.6h0M544.6 572.8h0M527 598.7h0M531.7 590.9h0M576.8 544.7h0M523.6 606.7h0M576.7 549.1h0M534.7 538.7h0M571.3 552.3h0M537.3 593.1h0M525.3 603.2h0M544.7 573.8h0M546.2 572.7h0M551.4 581.5h0M526.5 600.5h0M516.9 611.1h0M542 578.7h0M537.1 591.1h0M530.9 594h0M544.6 553.2h0M573.6 552.3h0M571.4 542.5h0M553.2 561.6h0M573.9 555.7h0M586.4 545.9h0M576.9 528h0M513.2 618.8h0M532.8 573.7h0M553.8 572h0M567.1 553.1h0M523 608.7h0M592.1 534.9h0M534.8 592h0M528.5 601.1h0M566.4 523.6h0M568.3 558.4h0M566.7 560.8h0M553 578.2h0M555.6 577.2h0M550.6 550.5h0M584.8 538.4h0M563.2 568.4h0M570 530.6h0M515.1 618.1h0M515.5 617.2h0M571.7 553.2h0M560.9 548.2h0M559.1 571.5h0M546.8 574.8h0M554.6 561.5h0M539.5 590.8h0M561.5 530.4h0M515 598.6h0M550.5 558.8h0M535.8 557h0M531.1 593.7h0M543.9 566.2h0M544.4 580.5h0M582 534.3h0M523.6 591.9h0M529 601.9h0M548.7 543.9h0M548.1 541.2h0M556.1 574.7h0M567 541h0M555.2 563.9h0M530.6 600.3h0M595.3 502.9h0M552.3 552.2h0M549.2 560h0M549.8 570.6h0M531.2 594.1h0M532.9 590.5h0M548.7 557.1h0M553.6 578.2h0M559.1 541h0M527.3 603.6h0M562.4 523.5h0M526.3 542.3h0M569.8 533.2h0M600.2 530h0M522.3 583.1h0M558.3 558.3h0M569.2 556.5h0M538.5 591.6h0M577.8 546.6h0M517.5 601.7h0M535.4 597.2h0M559.9 557.1h0M579.7 550.2h0M537.9 589h0M518.7 610.1h0M559 521.6h0M582 547.7h0M559.1 553.9h0M532.9 598.3h0M519.2 612.8h0M605.1 516.9h0M552.7 580h0M513.7 619.1h0M511 620.6h0M574.2 551.8h0M575.5 529.1h0M546.5 577.8h0M538.8 583.8h0M564.1 562.9h0M566 564.1h0M553.4 571.8h0M522.1 597.7h0M554.7 572.6h0M599.1 528.8h0M526.1 584.7h0M532.4 577h0M531.7 573.1h0M531.3 541h0M580.5 491.4h0M563.6 565.2h0M526.8 604.9h0M524 602.1h0M546.4 566.3h0M533.2 584.5h0M555.4 568.8h0M552.6 552.1h0M515.8 614h0M587.9 520h0M531.4 594.5h0M578.3 539.9h0M551.6 574.6h0M534.3 590h0M571.4 550.5h0M565.7 559h0M529.6 579.1h0M553.3 566.5h0M521 608.1h0M525.2 606.5h0M574.5 513.8h0M535.7 574.6h0M550.5 581.1h0M544.1 564.7h0M534.2 576.4h0M563.5 520.4h0M555.6 573.6h0M554.9 567.4h0M539.8 559.8h0M558.3 569.2h0M525 603.1h0M553.8 548.6h0M542.8 588.8h0M519 608.6h0M539.2 546.3h0M592.1 532.3h0M574.6 530h0M535.4 593h0M571.8 558.2h0M527.8 589.2h0M572.3 498.5h0M540.2 591.7h0M529.3 599.4h0M514.5 601.3h0M544.2 588.3h0M568.1 563.9h0M546.7 582.4h0M534.5 594.3h0M572.9 504.8h0M567.6 558.5h0M550.6 580.8h0M543.4 529.7h0M533.7 597h0M563.1 566.2h0M564.7 532.9h0M543.5 536.6h0M532.8 587.5h0M520.8 603.1h0M545.7 583.8h0M511.6 614.5h0M531.7 579h0M588.4 543.8h0M528.2 596h0M537.4 569.1h0M565.7 561.8h0M557.1 549.3h0M541.8 586.3h0M556.5 562h0M544.6 565.5h0M548.3 575.4h0M529.5 597.3h0M558.4 573.2h0M551.6 575.6h0M549 572h0M555.3 550.1h0M549.3 524.1h0M539.2 580.7h0M548.8 563.1h0M535.6 560.7h0M529.9 598.9h0M539 566.4h0M547.6 562.4h0M554 561.8h0M574 534.7h0M577.6 504h0M578.9 551.4h0M542 564.3h0M568.4 555.1h0M523.2 601.4h0M580.6 549.9h0M543.7 582.5h0M544.2 562.2h0M555.2 550.7h0M557.4 537.2h0M541.3 519.1h0M546.4 586.6h0M517.9 607.8h0M554.1 576.1h0M565.3 543.6h0M565.7 560.1h0M551 578.4h0M535.9 593.4h0M540.2 573h0M530.9 591.3h0M518.3 603.8h0M556.7 572.8h0M533.5 582.1h0M592 502.1h0M553.1 556.6h0M575.5 555.5h0M516.2 612.4h0M544.3 502h0M565.1 529.7h0M563.9 547.5h0M555.3 558.5h0M558.6 568.2h0M531.8 587.4h0M530 583.3h0M537.7 572.8h0M518.4 612.1h0M567.8 555.2h0M525.2 596.1h0M526.8 598.4h0M543.2 576.3h0M580.9 547.4h0M552.9 571.2h0M558.1 565.3h0M549.8 583.2h0M579.7 550.1h0M560 561.2h0M518.4 613h0M523.2 588.6h0M551.3 544h0M553.1 567.6h0M536.8 587.5h0M554.3 534.1h0M574.1 546h0M537.8 572.4h0M575.9 538.2h0M576.1 556.8h0M534.9 591.3h0M563.1 531.4h0M545.7 565.7h0M548.5 563.9h0M566.1 554.3h0M564 550.9h0M533.3 584.1h0M558.8 568.9h0M568.4 553.8h0M557.4 573.3h0M555.1 568.9h0M562.7 568.7h0M557.5 554.2h0M534.2 560.5h0M552.7 567h0M559.6 570.8h0M535.1 595.5h0M549.7 568.6h0M570.1 555.4h0M587.5 539.6h0M562.3 570.7h0M589.4 530.8h0M546.7 584.7h0M544.4 583.8h0M574.9 552.6h0M544.2 582.6h0M539.6 587.6h0M525 575.2h0M547.2 537.3h0M541.8 584h0M521.4 609.3h0M521.3 607h0M555.1 541.1h0M564 565.9h0M537.8 591.8h0M533.1 557.6h0M542.9 585.4h0M535.7 582h0M570.7 561.7h0M567.3 555h0M536.3 563.3h0M543.7 587.8h0M513.5 619.6h0M522.9 608.4h0M548.7 582.1h0M525.7 603.3h0M580.5 541.7h0M569.1 521.7h0M557.3 565.9h0M553.9 577.5h0M535.7 587.1h0M549.1 565.4h0M561.3 570.4h0M562.2 557h0M564.3 553.3h0M544.9 583.4h0M580 546.7h0M549.9 536.1h0M552.1 580.1h0M537.8 585.5h0M538.8 575.7h0M516.5 610.2h0M537.4 592.7h0M541.5 546h0M544 581.5h0M526.6 592.2h0M519.5 605.5h0M530.4 599.6h0M540.6 592.5h0M568 548.5h0M528.3 598.6h0M554.9 566.3h0M541.1 561.2h0M540.8 584.2h0M528.6 586.6h0M590.2 517.8h0M551.7 571.1h0M545.8 583.6h0M561.7 569.2h0M527.1 600h0M530 587.2h0M552.2 564.5h0M524.3 605.8h0M546.4 539.8h0M576.3 540.9h0M524.3 588.6h0M547.9 526.7h0M563.1 559.3h0M518.9 612.2h0M553.7 533.3h0M548.5 581.3h0M517.7 607h0M547.2 579.6h0M561.7 518.5h0M567.5 510.3h0M543.6 581.8h0M575.3 553h0M552.2 570.9h0M548.6 546h0M531.5 577.6h0M539.2 583.9h0M558 515.3h0M548.7 565.2h0M572.5 527.1h0M553.4 510.4h0M548.1 578.7h0M593.6 532.8h0M539.2 576.1h0M556.7 575.8h0M576.7 555.9h0M553.6 559.9h0M564.6 539.2h0M563.6 561h0M515.2 607.7h0M579.9 551h0M539.7 546.5h0M549 579.1h0M579.9 548.9h0M545.3 563.9h0M547.7 569h0M559.3 571.1h0M534.8 567.5h0M561.8 559.9h0M549.5 567h0M541.4 582.6h0M532.2 600.9h0M559.1 563.2h0M536.1 583.1h0M532.9 592.9h0M559 565.7h0M595 525.5h0M559 568.3h0M572.9 558.1h0M524 592.2h0M572.6 518.5h0M526.7 597.3h0M534.8 558.4h0M542.6 577.1h0M521.1 607.4h0M560.7 542.5h0M567.5 538.5h0M562.1 568.4h0M518.5 614.4h0M539.1 574.4h0M582 519.9h0M526.2 604.2h0M577.5 550.5h0M563.1 546.4h0M565.7 550.4h0M550.3 577.7h0M554 566.3h0M551.4 574.1h0M542.8 588.3h0M542.6 561h0M570.7 562h0M529.2 591h0M562.9 564.9h0M544.8 564.5h0M535.2 562.1h0M568.4 531.6h0M543.8 532.3h0M519.8 613.1h0M519.9 600.8h0M569.5 552h0M554.5 537.4h0M528.6 561.4h0M559.2 552.5h0M544.8 564h0M579.9 520.2h0M532.5 600h0M522.1 606.2h0M521.1 605.5h0M529.1 556.9h0M534.7 570.7h0M532.8 589.3h0M536.6 593h0M526.8 603.9h0M564.3 562.5h0M571.1 558.3h0M526.1 599.7h0M576.8 498.9h0M569 555.6h0M573.4 530.8h0M536.6 582.2h0M527.4 592.3h0M573.7 553.3h0M541 573.9h0M537.6 582.9h0M536.3 590.2h0M531.3 549h0M543.6 559.9h0M543 572.5h0M552.2 572.1h0M528.3 595h0M545.6 560h0M557.9 557.4h0M549.3 575.7h0M527.5 596h0M535.3 583.6h0M558 556.7h0M542.9 565.6h0M542.8 570.9h0M544.8 572.9h0M563.2 553.6h0M556.4 569.9h0M577.4 554.4h0M561.2 555.7h0M564.8 545.3h0M537.2 554h0M549.8 565.8h0M563.9 552h0M576.2 548.8h0M547.1 580.7h0M538.2 546.3h0M553.1 549.9h0M541.7 573.1h0M540.9 583.6h0M557.9 568.8h0M574.1 534.2h0M536.5 590.9h0M583 545.9h0M547.7 580.9h0M518.5 604.8h0M558 566.4h0M552.7 578.8h0M558.8 557.7h0M517.1 611.6h0M560.7 561.7h0M566.6 524.6h0M526.4 581.3h0M528.3 600.6h0M566.7 562.8h0M592.4 517.5h0M580.9 539.7h0M521.2 606.3h0M582.1 545.6h0M525.9 583.9h0M546 577.7h0M542.9 579.3h0M574.3 537.2h0M572.5 558.3h0M547.4 552.9h0M557.2 570.6h0M530.8 590.5h0M551.5 562.5h0M577.6 551.9h0M552.1 569.1h0M538.3 581.4h0M574.5 554.9h0M541.5 567.2h0M552.8 567.5h0M555.5 572.6h0M553.6 524.3h0M538.6 573.3h0M547.4 540.7h0M542.5 572.9h0M545.1 582.9h0M540.3 566.9h0M541.5 557.4h0M574.4 520.7h0M571.3 540h0M516.6 613.3h0M524.1 605h0M560.8 569.2h0M550.1 504.9h0M534.9 572.1h0M529.9 599.4h0M538.5 594h0M537.6 586.2h0M523.4 600h0M557.3 504.4h0M577.4 517.5h0M545.4 576.3h0M553.4 544.8h0M527.7 588.3h0M514.8 618.4h0M560.1 510.4h0M567.7 562.8h0M526.5 596.8h0M537.5 591.7h0M528.4 582.2h0M539.5 576h0M519.6 597.4h0M563.9 558.5h0M532 584.2h0M525.8 600.2h0M527.1 604.5h0M540.9 540.3h0M572 550.7h0M553.1 575.8h0M550.5 572.8h0M535 583.5h0M530.4 595.1h0M553.5 521.2h0M565.3 556.2h0M570.5 549.9h0M548.1 567.5h0M524.1 593.3h0M535.7 592.8h0M547.3 583h0M554.3 577.1h0M550.4 571.8h0M568.4 493.8h0M559.7 555.7h0M562 562.1h0M571.6 558.7h0M554.1 525.3h0M572.7 535.6h0M542.3 562.1h0M539.6 570.8h0M581.1 550.5h0M548.1 574h0M591.7 538.5h0M554.9 495.4h0M559.5 568.5h0M594.6 516.4h0M569.6 555.7h0M540.7 587.6h0M554.5 573.3h0M534.1 582.3h0M536.2 579.4h0M560.2 562.3h0M554.6 552.4h0M585.6 539.7h0M546 584.5h0M564.1 567.3h0M575.8 519.5h0M552.9 545.8h0M550.5 558.2h0M560.3 570.7h0M565.2 567.1h0M529.3 595.5h0M533.7 579.6h0M557.2 555h0M533.3 595.2h0M565.2 561.1h0M552.7 549.5h0M546.8 567.9h0M554.2 537.7h0M522 607.5h0M534.4 597.9h0M543.6 576h0M549.1 567.6h0M550.9 566.5h0M551.2 548.3h0M590.9 534.3h0M516.6 608h0M574.4 544.2h0M559.5 565.2h0M534.2 570.2h0M551.6 575.8h0M537.3 583h0M543.7 553.5h0M555.4 577.4h0M559.4 561.4h0M553.2 550.1h0M569.1 562.9h0M522.2 606.7h0M574.5 540.1h0M553 495.4h0M529.4 569.4h0M572.7 559.6h0M553 575.2h0M543.5 574.9h0M546.3 555.6h0M538.7 589.9h0M518.7 581.6h0M549.4 537h0M555.7 562.4h0M537.3 589.5h0M545.2 586.5h0M570 549.6h0M533.9 561.9h0M525.5 558.4h0M561.5 518.8h0M570.7 560.9h0M555.4 542.5h0M548.9 571.4h0M539.4 583.8h0M578.1 539.9h0M523.8 601.2h0M544.6 588.1h0M565.6 565.3h0M555.6 569.4h0M545.1 520h0M545.5 586.2h0M562.2 567.7h0M542.6 567h0M552.1 544.6h0M554.1 577.1h0M525.9 595.7h0M532 580.3h0M540.4 575.2h0M554.2 509.6h0M570.2 560.9h0M533.3 598.8h0M511.2 616.4h0M570.4 547.5h0M520.7 603.2h0M569.1 534.9h0M533.1 593.9h0M534.5 585.8h0M545.9 577.8h0M529.7 585.3h0M565.3 567h0M561.2 526.8h0M546.4 564.6h0M518.7 599.9h0M550.5 576.6h0M558.4 572.7h0M532.5 596.4h0M549.3 566.7h0M546.8 571.4h0M556.4 553.2h0M547.6 559.8h0M530.3 598.3h0M560.3 526.9h0M555 551.7h0M511.3 615.5h0M540.6 575.9h0M529 562.6h0M544.7 583.9h0M536.4 585.2h0M585.7 542h0M520 605.6h0M548 582.1h0M584.8 537.4h0M556.1 571.2h0M568.2 554.1h0M544.6 542.6h0M520.7 610.6h0M528.1 595h0M557.8 557.7h0M530.9 594.6h0M543.8 514.1h0M533 552.7h0M512.2 616.2h0M563.9 494.3h0M519.5 605.4h0M524.5 599.5h0M548.3 584.4h0M544 535.7h0M539.8 583h0M555.8 555.3h0M558.1 535.9h0M540.9 571.9h0M530.3 585.6h0M566.4 560.4h0M546.5 541.2h0M537.5 592.5h0M542.3 580.3h0M571.4 557.2h0M591 541.2h0M544.3 535.1h0M540.9 587h0M560.5 562.8h0M559.3 521h0M568.8 542.3h0M548.6 580.2h0M531.9 592.5h0M572 559h0M532.9 574.9h0M536.5 588.3h0M532.7 586.4h0M552.6 558.3h0M519.6 603.3h0M532.2 593.2h0M583.8 523.3h0M567.2 554.8h0M566.2 547.3h0M567.7 560h0M587.6 520.7h0M534.4 593.8h0M549.7 561.6h0M566.5 552.8h0M541.8 584.6h0M556.1 547.8h0M538.3 528.7h0M555 576.6h0M558.4 564.4h0M565.7 565.3h0M563.9 566.2h0M559.3 541.5h0M553.5 553.5h0M546.9 556.8h0M547.6 572.5h0M531.4 593.8h0M562.8 537.6h0M552.1 580.2h0M540.8 584.7h0M550.7 568.8h0M559.6 561.2h0M529.6 594.3h0M566.9 530.9h0M553.4 528.9h0M562.9 565.4h0M539.3 591.8h0M540.9 568.5h0M528.9 603.8h0M535.8 578.3h0M554.7 574.1h0M549.3 577.6h0M553.9 556.4h0M520.2 602.5h0M546.6 580.9h0M573.5 556.5h0M543.9 584.2h0M557 556.6h0M538.2 569.9h0M567.1 554h0M547.5 581.8h0M555.9 569.7h0M551.8 543.6h0M592.5 539.8h0M540.3 564.8h0M583.7 545h0M521.8 598.2h0M552.9 543.6h0M564.9 567.9h0M541.3 585h0M569.2 515.2h0M578.9 544.9h0M547.3 491.5h0M549 576.2h0M540.8 546.7h0M518.8 614.1h0M539.1 593.3h0M555.4 549.1h0M562.4 550.1h0M545.9 575.1h0M537.4 588.7h0M543.8 581.7h0M541 508.5h0M567.4 551.1h0M555 568.3h0M546.9 573.8h0M562.1 559.7h0M557 569.1h0M545.7 564.2h0M569.5 550.9h0M537.4 593.4h0M541.6 589.3h0M540.4 580.3h0M551 573.2h0M569.5 530.7h0M554.7 570.3h0M569.6 557.2h0M543.9 556.4h0M548.8 571h0M555 536h0M562.5 558h0M560.9 553.7h0M580.8 541.4h0M533.7 578.5h0M543.7 568.1h0M556.2 551.9h0M575.6 531h0M555.5 576.7h0M533.1 571.1h0M567.7 548.6h0M538.1 579.6h0M543.8 580.6h0M573.8 490.8h0M570 558.6h0M522.6 599.6h0M582 550h0M555.3 568.6h0M558.4 554.5h0M533.9 593.5h0M545 578.2h0M533.4 587.2h0M535.2 591.3h0M547.5 532.4h0M553.2 578.3h0M555.3 571.6h0M522 611h0M547.3 579.4h0M537.9 571.6h0M598.5 518.6h0M553.1 564.2h0M534.4 584.6h0M544.3 581.9h0M514.2 616.9h0M547.3 558.8h0M568.7 558.2h0M569.9 538.2h0M589.6 506h0M538.8 592.8h0M525.5 600.1h0M547.5 511.5h0M553.2 579.6h0M546.5 585.5h0M572.3 560.7h0M541 586.9h0M552.2 575h0M568.5 547.9h0M553.4 559.7h0M575.9 552.7h0M586.4 514.6h0M558.5 555.3h0M529.7 601.4h0M578.6 531.7h0M531.8 571.5h0M544.7 578.6h0M521.6 601.5h0M533.3 597.8h0M525.9 604.4h0M548 561.7h0M519.3 609.4h0M529.5 525.6h0M542 558.4h0M576.1 545h0M540.6 588.9h0M520.2 607.5h0M530 596h0M595.4 530.7h0M523.4 608.3h0M519.5 608.9h0M552.6 569.8h0M552.9 563.5h0M561.6 551h0M517.9 613.7h0M546 575.4h0M540 590.4h0M577.7 539.1h0M571.4 551.9h0M567.7 532.2h0M539.4 593h0M545.1 569.5h0M539.2 583.4h0M512.6 619h0M542.5 586.5h0M524.9 602.2h0M551.9 563h0M537.2 592.7h0M551.5 568h0M526.8 603.7h0M520.1 612.8h0M562.3 496.7h0M514.5 617.8h0M566.9 555.4h0M563.8 501h0M544.4 574.5h0M550.5 541.6h0M529.7 601.2h0M549.2 575.5h0M553.8 549.6h0M539.2 576.1h0M544.9 580.8h0M512.4 619.3h0M563.5 556.9h0M581.4 534.8h0M545.8 581h0M544.5 584h0M583.9 539h0M552.2 575.3h0M539.5 590.6h0M572.1 550.9h0M538.5 592.5h0M561.1 571.6h0M567.3 542.2h0M555.6 571.9h0M553.7 577.3h0M538.6 579.9h0M552.3 576.5h0M551.2 552.8h0M553.1 533.7h0M520.5 604.1h0M525.8 598.3h0M530.4 599.2h0M570.4 559.4h0M552.3 577.7h0M510.9 622.1h0M568.2 546.1h0M572.6 546.6h0M549.5 581.6h0M589 541h0M562.1 543.5h0M568 543.5h0M580.2 552.2h0M559.1 554.3h0M536.4 580.6h0M531.8 596.7h0M529.7 600.3h0M545.2 564.4h0M544 544.2h0M534.6 589.2h0M584.9 513.1h0M562.1 569.5h0M562.4 556h0M549.4 572.3h0M558.5 549.1h0M550.8 572.2h0M539.3 586.6h0M551.4 570.9h0M517.1 604.7h0M543.6 561.7h0M550.6 525.6h0M550.3 569.7h0M538.7 567.9h0M544.3 527.1h0M561.9 522.1h0M535.7 531h0M533.3 597.9h0M579.8 553h0M538.8 579.9h0M543 564.7h0M543.3 579.2h0M562 569.2h0M546.3 586.5h0M527.1 600.1h0M525.4 596.1h0M518.7 596.7h0M553.4 565.3h0M539.5 581.8h0M560.8 564h0M557.6 557.9h0M535.3 576.7h0M562.6 563.1h0M543.8 572.7h0M573 535.4h0M560.1 559.6h0M557.7 506.2h0M576.3 529.2h0M545.9 561h0M532.8 577.2h0M552.1 564.4h0M539.4 582.8h0M601.3 526.7h0M539.8 591.7h0M538.6 583.8h0M532.4 593.4h0M583.2 546.2h0M517.9 613.9h0M539.4 576.2h0M541.8 586.5h0M538.4 573h0M544.5 565.2h0M564 559.2h0M519.2 593h0M537.1 594.8h0M558.1 551.2h0M561 565.4h0M571.2 545.9h0M538.4 562h0M552.1 575.5h0M576.6 542.9h0M548.8 579.5h0M559.9 553.4h0M538.9 576.7h0M535.2 550.6h0M556.4 517.1h0M512.7 619.9h0M555.3 574.5h0M550.6 494.2h0M563.9 529.1h0M538.3 590.7h0M566.7 554.9h0M559.7 559.9h0M560.7 571.5h0M526.7 603.8h0M525.3 603.1h0M516.6 616.4h0M547.7 573.8h0M528.6 590.7h0M558.2 509.7h0M538.2 591.1h0M523.3 606.1h0M537.9 593.1h0M554.5 547.5h0M541.1 572.2h0M544.3 580.2h0M540.6 574.6h0M534.1 591.7h0M549.5 552.7h0M511.7 620.5h0M536.6 583.1h0M529.7 603.2h0M544.8 579.3h0M552.8 523.7h0M545.5 585.6h0M552.6 569.3h0M542.5 585h0M541.7 529.7h0M561 564.8h0M526.4 600.3h0M536.1 596.1h0M553.8 573.2h0M557.6 574.1h0M552.1 555.1h0M533.1 578h0M550.4 554.2h0M559.9 567.5h0M528.6 592.2h0M583.6 532.5h0M560.7 536.7h0M522.9 591h0M586.1 495.5h0M532.1 588.5h0M569 557.8h0M525.5 605.2h0M539.5 590h0M529 587h0M522.9 608.8h0M546.5 585.6h0M571.1 559.8h0M549.5 509.5h0M515.1 614.5h0M582.8 532.9h0M534.6 596.2h0M550.6 573.7h0M563.1 566h0M567.1 559h0M536.4 578.5h0M576 550.6h0M545.7 541.4h0M552.1 567h0M571.6 539h0M530.8 594.1h0M522.7 601.9h0M571.9 541.4h0M546 585.7h0M530.9 567.9h0M540.1 579.2h0M535.9 583.3h0M533.1 561.5h0M569.9 536.1h0M537.7 583.7h0M548 514.6h0M529.2 599.1h0M528.6 595h0M537.4 573.1h0M531.1 584.9h0M547.2 584.2h0M574.1 542.7h0M593.9 530.8h0M534.4 589.2h0M570.2 555.4h0M537.7 587.6h0M565.6 565.9h0M546.2 521.8h0M540.5 578.5h0M548.9 511.5h0M518.8 608h0M522.5 603.5h0M581.6 522.9h0M580.1 482.4h0M549.1 568.7h0M576.1 553.4h0M550.6 571.8h0M528.3 604.1h0M543.6 582.2h0M518.3 591.7h0M547.9 539.3h0M557.9 573.3h0M554.2 574.2h0M526.1 603.3h0M550.6 573.1h0M524 606.1h0M529.8 603.4h0M511.2 620.2h0M555.9 532h0M549.4 564.2h0M556.6 560.2h0M577.9 541.7h0M581.4 545.1h0M541 590.7h0M571.9 547.5h0M543.4 574.6h0M540.7 589.1h0M552.8 574.7h0M550.4 559.1h0M549.5 572.2h0M543.3 559.1h0M557.5 565.3h0M511.9 616.1h0M568.2 545h0M537 573.4h0M540.7 528.2h0M537.5 573.7h0M525.4 604.7h0M565.2 563.7h0M536.1 589h0M540.1 587.5h0M562.2 559.7h0M567.4 527.6h0M544.3 588.5h0M548.1 582.8h0M556.6 573h0M551.7 573.8h0M557.2 569.8h0M535.4 586.4h0M547.7 578.8h0M531.9 593.5h0M569.6 499.2h0M560.7 569.2h0M557.8 539.6h0M552.9 555.9h0M538.6 583.2h0M522.3 609.9h0M533.8 549.8h0M558.7 570.6h0M531.9 572.3h0M577.1 537.8h0M553.6 579.4h0M534.6 579.1h0M554.3 570.1h0M588.9 521.5h0M553.6 574h0M588.7 540.7h0M546.9 577.8h0M534.7 581.3h0M556.3 571.6h0M526.6 596h0M519.1 606.7h0M514.3 618.4h0M574.5 551.1h0M545.1 584.1h0M567.6 558.6h0M520.7 611.3h0M533.8 588.7h0M574.1 514.7h0M530.2 599.7h0M569.5 545.5h0M536.7 588.3h0M552.8 571h0M568.1 522.6h0M551.6 553.6h0M550.1 556.2h0M554.8 567.1h0M522.6 602.7h0M552.1 576.9h0M550.2 559.5h0M580 529.3h0M543.8 559.9h0M565.6 533.5h0M555.5 515.1h0M519.1 609.5h0M536.9 560.1h0M549.2 572.2h0M557.6 552.2h0M536.7 589.9h0M540.1 585.1h0M559.3 556.8h0M560.5 527.4h0M539.7 566.1h0M542 588.8h0M561.5 547.8h0M534.4 568.6h0M556.4 542.9h0M557.5 562.2h0M512.6 615.6h0M578.2 546.7h0M574.8 555.8h0M563.3 563.5h0M568.8 561.4h0M550.1 520.7h0M567.5 550.8h0M534.6 560.6h0M521.6 602h0M550 557.7h0M554 565.8h0M547.4 577.3h0M538.3 592.1h0M536 563.6h0M536.9 576.8h0M546.5 540.2h0M516.9 615.3h0M549 532.8h0M542.2 554.6h0M562.9 563.9h0M526.6 605.1h0M548.5 542.5h0M543 573.3h0M540.8 588.4h0M555.8 548.3h0M556.7 536.5h0M566.9 564.3h0M578.9 553.9h0M572.9 548.8h0M530.5 556h0M539.9 574.4h0M546.1 586.7h0M563.2 569.8h0M558.7 565.4h0M560.4 564.7h0M535.6 580.3h0M527.1 597.7h0M550.8 572.9h0M589.7 538.4h0M541 577h0M522.4 599.9h0M559.3 561.7h0M547.5 582.1h0M548.5 581.1h0M565.6 552.4h0M545.5 586.1h0M531.2 594.1h0M544.8 558.8h0M566 560.9h0M537.7 588.3h0M558.4 571.4h0M569.5 521.5h0M576.2 555.8h0M534.2 575.1h0M549.5 519.5h0M551.4 569.6h0M543.6 584h0M578.4 518h0M541.3 581.1h0M568.6 535.5h0M538.2 590.3h0M562.8 567.5h0M576.3 550.4h0M576 552.4h0M542.7 584h0M543.3 522.4h0M558.6 574.1h0M570.6 562h0M545.3 585.8h0M566.1 563.2h0M519.5 611.8h0M555.7 575.2h0M561 564.2h0M526.9 599.3h0M547.5 547h0M567.6 564.3h0M519.4 601h0M538.1 589.5h0M519.4 602.4h0M587.1 523.6h0M517.8 610.5h0M515.2 602.2h0M561.7 536.1h0M559.1 564.5h0M527.9 590.2h0M563.7 534.6h0M570.1 562.3h0M535.9 586.5h0M564.1 552h0M587.9 544.8h0M544.8 564h0M512 613.6h0M540.4 590.7h0M596.1 535.4h0M553.9 577h0M536 591.1h0M568 552.9h0M544.5 566.4h0M551.4 558.1h0M535.7 593.7h0M539.5 583.3h0M568.2 563.5h0M580.4 550.5h0M572.6 559.1h0M534.5 597.6h0M535.1 587.9h0M546 574.7h0M525.3 569.2h0M534.6 586.9h0M534.7 563.8h0M535 569.8h0M529.7 555.4h0M555.1 577.4h0M522.9 605h0M523.6 599h0M566.7 499.6h0M537.6 577.5h0M531.2 582h0M538.9 589.7h0M553 575.7h0M557.5 564.9h0M578.5 532.3h0M552.5 546.8h0M510.9 621.4h0M543.5 551.5h0M517.7 615.5h0M546.8 585.8h0M546 585.9h0M521.2 609.6h0M574 556.2h0M557.7 539.5h0M573 531.3h0M523.4 587.7h0M567.7 500.5h0M554.3 535.6h0M567.7 534.3h0M562.3 552.8h0M542.5 576.8h0M530.6 597.8h0M553.9 560.6h0M523.2 609.2h0M519.9 611.3h0M599.8 530.7h0M540.4 585.3h0M520.1 609.8h0M522.4 609.9h0M529.2 583.3h0M551.2 527.9h0M526.1 583.8h0M556.5 549.3h0M534.5 554.9h0M515.6 613.3h0M571.6 549.9h0M562.4 565.1h0M552.2 580h0M570.5 515.9h0M540.9 589.7h0M553.8 550.6h0M516.4 610.8h0M516.3 615.8h0M563.3 538.6h0M530.5 595h0M555 533.4h0M567.5 563.8h0M538.7 586.3h0M526.2 597.1h0M542.8 587.1h0M556.7 530.2h0M571.8 551.4h0M525 604.3h0M571.7 554.3h0M521.5 610.2h0M540.3 561.9h0M536.4 588.1h0M529.5 587.2h0M544.9 517h0M534.6 593.9h0M570 554.5h0M541.6 561.4h0M533.4 593.2h0M550.9 581.4h0M519.6 611.6h0M568.5 560.8h0M550.1 533.8h0M582.1 533.5h0M523.8 597.8h0M512.5 614.6h0M513 618.2h0M558.2 573.5h0M540.8 579.5h0M560.4 564.5h0M526.7 587.1h0M519.7 612.7h0M532.2 597.7h0M539.9 571.8h0M555.3 553.8h0M591 490.2h0M564.1 510.7h0M571.7 561.1h0M536.3 576.2h0M529.2 598.8h0M522.9 607.1h0M538.5 585.9h0M525.9 606.2h0M573.7 521.9h0M555 555.4h0M514.3 596.8h0M533 581.2h0M579.7 537.9h0M550.3 565h0M562.6 567.7h0M552.7 555.5h0M541.9 587.7h0M541.1 588.4h0M559.8 521.1h0M549.7 567h0M548.7 564.7h0M574 553.6h0M556.7 557.5h0M528 554h0M560.8 569.3h0M540.6 589.9h0M588.7 505.2h0M532 598.9h0M551.1 532.8h0M536.9 580.3h0M545.8 555.3h0M553.6 567.4h0M559.7 556.5h0M521.8 607.2h0M534.6 580.8h0M559.2 573.5h0M549.5 547.6h0M546.3 511.7h0M521.4 607.8h0M563.6 527.6h0M517.5 608.9h0M571.5 561h0M513.9 603.8h0M579.5 523.9h0M540.8 577.8h0M532.5 567.9h0M533.7 593.3h0M555.8 572.3h0M552.5 552.3h0M541.7 566.6h0M532.9 599h0M545.4 578.4h0M523.4 606.5h0M546.9 502.4h0M564.1 563.3h0M532.5 589.9h0M550.5 580.3h0M546.1 562.9h0M525.1 605.9h0M551.5 558.3h0M528.8 600.6h0M529.6 565h0M579.8 551.1h0M583.4 544.5h0M567.2 538.2h0M550 511.8h0M546.9 577.1h0M546.3 570.9h0M558.5 537.9h0M529.7 590.9h0M542.2 559.4h0M516 615.4h0M551.2 543.1h0M557.5 563.8h0M530.4 597.6h0M540.5 589h0M595.7 533.1h0M529.2 592.3h0M529.9 587.7h0M556 514h0M548.7 544.8h0M565.9 566.2h0M557.9 571.9h0M558.9 572.8h0M576 547.2h0M537.6 563h0M543.6 586.8h0M562.2 566.9h0M551 531.4h0M530.5 556.8h0M558.1 571.7h0M548 574.6h0M529.2 583.7h0M551.3 519.6h0M572.2 551.1h0M530.4 598.6h0M556.4 546.1h0M537.4 573.5h0M532.1 584.4h0M538.9 572.1h0M554.2 567.3h0M550.1 554.6h0M557.1 547.2h0M553.3 565.3h0M564.3 531h0M572.5 536.5h0M552.4 568.2h0M561.2 529.7h0M561.2 561.2h0M559.2 512.2h0M545.2 585.4h0M545.5 569.5h0M541.4 583.1h0M570.5 533.3h0M555.3 564.9h0M554.6 560.8h0M535.3 595.4h0M554.9 545.2h0M565.7 532.9h0M520.8 588.2h0M553.1 525.6h0M579.5 539h0M526.1 600.3h0M538.2 573.2h0M565.4 552.9h0M591 527.5h0M543.9 588.2h0M564.7 552.4h0M514.3 609.7h0M520 606.9h0M544.6 571.6h0M573.1 555.3h0M582 519.6h0M583.8 534.7h0M584.4 518.1h0M553.4 573.3h0M577.7 529.8h0M583.8 547.2h0M595.6 531.9h0M603.2 500h0M587.2 543.5h0M565.6 497.2h0M637.1 493.7h0M614.2 513.4h0M570.7 521.1h0M596.7 530.6h0M622.7 507.9h0M591 534.9h0M591.8 516.4h0M556.3 558.2h0M559.2 561.9h0M574 542.3h0M563.5 564.3h0M594.6 501.7h0M629.4 503.1h0M612.2 475.5h0M557.8 537.4h0M566.4 550.7h0M612.6 495.7h0M582.2 508.4h0M584.8 540.5h0M590.8 525.4h0M571.5 546.5h0M579.7 539.5h0M577.8 547.5h0M556.8 560.5h0M620 507.4h0M585.2 496.6h0M576.8 554.5h0M567.1 554.9h0M618.7 509.5h0M593.4 537.4h0M604.3 524.8h0M602.5 528.3h0M555.3 550.4h0M561.4 571.1h0M606.2 505.4h0M585.7 542.6h0M584.2 541.3h0M611.7 520.9h0M558.7 514.1h0M615.4 501.5h0M573.3 553.9h0M572.5 545.6h0M598.3 478.2h0M623.7 485.2h0M583.5 487.8h0M584.8 508.8h0M635.8 496.2h0M584.4 526.3h0M599.6 528.2h0M564.8 563.6h0M568.6 541.8h0M594.1 533.2h0M601.6 509.4h0M629.3 503.3h0M595.1 521.7h0M578.9 543.2h0M575.7 553.9h0M617.1 506.1h0M603.8 523.8h0M596.7 504.3h0M582.9 547.2h0M623.2 505.6h0M623.3 495h0M617.1 509.3h0M578.9 540.4h0M597.8 520.4h0M573.1 536.6h0M566.4 555.7h0M566.3 563.8h0M563.7 496.5h0M586.4 534.5h0M564.6 504.7h0M631.4 501.3h0M621.3 486.4h0M582.1 510.9h0M578.1 551.5h0M590.4 518.3h0M603.2 519h0M581.8 522.3h0M643 485.6h0M574.7 506.2h0M646 486.4h0M567.9 549.8h0M571.7 536.3h0M559.3 573.7h0M581.1 489.5h0M568.1 545h0M608.3 488.1h0M572.4 551.3h0M561.2 515.1h0M596 533.4h0M632.8 499.9h0M607.7 506.2h0M580.4 513.1h0M614.9 509.8h0M565 536.2h0M558.8 531.4h0M564.7 541.3h0M570.1 561.3h0M596.9 523.1h0M584.2 546.5h0M573.8 556.7h0M553.6 577.6h0M631.5 483.3h0M609.8 509.8h0M585.8 525.1h0M634.8 497.2h0M580 545.3h0M611.9 510.1h0M554.7 526.2h0M571.2 546.3h0M572.5 560.1h0M584.8 530.1h0M554.4 565.6h0M590.4 524h0M587.8 522.8h0M603.6 505h0M598.1 519.4h0M567 534.8h0M565.5 495.1h0M561.8 569.9h0M614.7 507.4h0M605.6 524.4h0M604.2 515.8h0M555 568.1h0M556.7 563.7h0M606.5 510.5h0M629.6 501.6h0M631.4 485.2h0M624.5 504h0M635.7 488.7h0M567.4 555.3h0M558.9 562.5h0M588.5 543.2h0M612.5 510.9h0M583.8 544.2h0M610.5 515.8h0M617 512.1h0M571.8 555.2h0M563.8 551.3h0M597.4 520.2h0M554.8 565.1h0M619.5 490.2h0M569.1 537.7h0M599.1 529.2h0M584.1 542.5h0M591.5 540.5h0M597.6 529.3h0M599.6 510.4h0M553.4 546.7h0M599.6 501.9h0M575.6 552.5h0M617.6 509.2h0M552.4 558.4h0M599.8 531h0M604.9 525h0M616.6 481.6h0M572.7 552.4h0M595.1 490.3h0M579.4 552.2h0M554 555.6h0M607.7 521.8h0M583 521.3h0M588.6 511.7h0M596.1 516.5h0M626.7 497.3h0M579.7 531.2h0M559.8 557h0M625.4 503.8h0M581.7 530.9h0M594.7 530.6h0M593.2 516.1h0M557.2 517.5h0M552.6 537.3h0M600.7 531.9h0M627.4 486.4h0M565 545.7h0M601.2 520.2h0M562.9 544.2h0M557.5 572.9h0M573.1 527.6h0M576.8 550.3h0M571.3 501.3h0M591.4 526.2h0M565.8 563.9h0M580.7 517.8h0M563.6 566.8h0M591.1 510.4h0M564.9 564.7h0M597.1 534.8h0M589.1 534.5h0M580.3 543.9h0M568.3 562.8h0M563.2 520.3h0M591.3 532.3h0M576.3 487.3h0M619.6 509.1h0M598.4 534.5h0M572.8 546.6h0M643.2 482.8h0M590.8 539.5h0M558.3 544.2h0M629.6 500.9h0M602.6 520.2h0M594.6 512.9h0M586.2 529.8h0M569.9 544.3h0M578.2 548.1h0M591.4 534.6h0M624.2 507.7h0M591 502.7h0M609.3 487.7h0M563.5 559.1h0M576.8 526.4h0M575 514.4h0M571.4 556.8h0M605.2 492.7h0M618.1 511.5h0M587.1 508.8h0M567.5 524.5h0M560.7 553.4h0M587.6 476.1h0M578.4 542.6h0M591.5 529.9h0M562.2 565.6h0M587.9 537.3h0M564.1 559.6h0M588.5 532.3h0M606.9 524.1h0M607.5 510.6h0M561.6 564.5h0M605.8 517.5h0M621.3 502.6h0M586 546.5h0M615.8 487h0M588 535.8h0M557.7 572.2h0M566.3 563.7h0M586.5 506.9h0M553.6 519.7h0M553.8 564.3h0M573.1 559.2h0M616 502h0M555.2 545.2h0M592.6 509.5h0M577.7 547.5h0M607.9 486.1h0M585.5 544.2h0M587.8 543.5h0M592.4 491.9h0M583.7 533.2h0M596.6 504.7h0M552.2 563.4h0M575.5 529h0M585.1 508.6h0M608.9 503.6h0M563.6 545.4h0M558.6 536.1h0M575 557.6h0M577.5 548.4h0M605.4 524.7h0M608.7 518.2h0M577.1 544.2h0M566 506h0M591.8 527.7h0M572.4 527.7h0M563.3 515.9h0M613.6 510.7h0M598.9 533h0M565.9 546.2h0M611 510.1h0M619.8 499.9h0M627.3 501.9h0M610.7 518.1h0M566.2 565.3h0M612 517.9h0M567.3 559.8h0M631.7 497.6h0M594.2 518.2h0M625.6 505.2h0M588 535.7h0M587.6 515.5h0M631.3 495.6h0M605.3 493.8h0M578.4 528.6h0M558.6 554.2h0M599.1 531.1h0M604.8 516.8h0M553.8 553h0M559.6 568.4h0M570.5 533.3h0M590.6 526.8h0M588.1 534.9h0M558 574h0M633.1 497.5h0M619.5 494.9h0M587.3 536h0M594.1 511.3h0M615.2 516.9h0M627.1 502.2h0M590 540.5h0M601.7 483.5h0M567.2 525.7h0M555.3 569h0M564.3 544.3h0M583.4 536.7h0M560.1 564.1h0M605.8 499.1h0M611 499.5h0M566.5 555.7h0M577.7 546.8h0M616.1 508.3h0M598.4 522.5h0M565.4 546.1h0M507.9 617.1h0M508.5 624.8h0M509.6 570.8h0M512 591.9h0M520.2 542.6h0M523.7 539.1h0M530.7 517.9h0M646.5 481h0M649.4 479.2h0M653.5 477.4h0M644.2 483.9h0M639.5 482.1h0M647.7 483.3h0M634.8 492.1h0M584.5 476.9h0M586.8 481.6h0" fill="none" stroke="#3e86c4" stroke-width="2.75" stroke-linecap="round" opacity="0.93"/>
<path d="M602.7 544.3h0M522.4 626.1h0M548.9 597.8h0M534.2 613.7h0M577.2 581.7h0M532.5 617.3h0M564.8 588.1h0M528.4 616.9h0M628 528.8h0M580.3 567h0M608 539.1h0M552.3 594.1h0M565.9 583h0M582.8 564.6h0M581.8 568.3h0M558.8 590.4h0M554.3 594.2h0M543.3 601.6h0M538.3 608.5h0M561.7 593.2h0M540.5 612h0M539.2 608.2h0M573.2 583.3h0M575.8 575.2h0M526.1 621.2h0M542.9 602h0M554.7 591.7h0M555.5 592.6h0M616.1 528.9h0M610.3 542.7h0M566.3 588.6h0M576.1 574h0M551 598.5h0M620.5 527.7h0M599.3 558.3h0M545.2 599.9h0M572.4 573.3h0M600.7 560h0M568.5 577.4h0M614 538h0M600.9 546.9h0M584 567.5h0M568.4 579.8h0M594.7 550.7h0M562.3 585.2h0M546.9 603.7h0M540.5 610h0M549.7 599.2h0M522.3 624.2h0M565.6 585.8h0M596.9 551.9h0M547.8 605.6h0M550.7 601.8h0M563.4 587.7h0M597 555.7h0M584.8 560.5h0M570.7 577.6h0M592.3 567.1h0M556.2 593h0M555.6 593.7h0M615.4 533.6h0M598.8 550.2h0M564.5 587.8h0M595.5 559h0M548.5 602.4h0M548.7 596.8h0M603.8 548.7h0M618.3 526.4h0M554.2 596.2h0M556.1 594.9h0M535 621.5h0M584.5 561.5h0M582.3 565.6h0M586.1 559.5h0M598 559.5h0M572.6 581.5h0M562.2 583.9h0M564.1 585.2h0M594.8 553.1h0M540.8 605.4h0M572.6 577.8h0M577.1 568.2h0M580.7 574.4h0M562.7 584.3h0M615.4 529.4h0M586.8 570h0M584.6 566.6h0M574.1 571.8h0M558.2 594.2h0M559.4 592.7h0M530.9 614.3h0M572.6 579.2h0M584.9 571.2h0M566.3 582.4h0M588.3 561.9h0M547.5 603.2h0M543.5 602.4h0M551.5 599.3h0M526.6 618.8h0M570 577.7h0M546.1 599.2h0M524.9 624.3h0M576.6 569.2h0M592 556.6h0M541.5 606.4h0M620.2 528.1h0M571.4 574.9h0M564.3 582.5h0M584.2 572.5h0M569.1 579.1h0M548 605.9h0M612.9 543.2h0M529 616.1h0M560.7 590.5h0M564.8 593.8h0M546.3 603.1h0M580.9 569.1h0M561.5 588.1h0M565.3 581.7h0M605.7 541.8h0M609.4 554.6h0M537.3 608.4h0M562.2 585.5h0M608.6 542.9h0M556.7 589.4h0M563.2 583.3h0M565.1 583.7h0M539.6 605.4h0M587 558.4h0M526.7 620.6h0M531.9 614.3h0M573.9 572.6h0M560.9 587.6h0M591 571.2h0M574.6 576h0M559.2 589.9h0M578.9 583.5h0M562.2 584.8h0M547.5 607.6h0M531.7 620h0M560.5 585.9h0M581.5 564.6h0M536.6 612.2h0M613.1 541.7h0M543.1 616.2h0M579.4 565.7h0M560 586.6h0M542.3 605.1h0M607.7 539.3h0M548.8 600.9h0M543.6 602.2h0M543.3 602.9h0M608.2 549h0M565.5 594.2h0M595.1 549.6h0M554.6 590.6h0M547.4 598h0M579.7 568.1h0M579.3 567.6h0M560.7 588.7h0M527.1 619.7h0M589.1 565.3h0M555.3 590h0M559.5 585.4h0M594.9 552.9h0M573.9 585.3h0M612.9 537h0M630.7 520.8h0M571.6 575.7h0M611 554.8h0M576.9 571.9h0M557.9 589.8h0M565.3 586.8h0M589 561.8h0M530 616.4h0M563.2 584.6h0M559.7 586h0M555.3 594.8h0M601.4 543.7h0M546.1 600.4h0M580.3 574.5h0M580.1 568.3h0M542.1 606.7h0M597.4 551.5h0M549.1 602.8h0M613.3 550.9h0M567.7 577.4h0M580.3 565.6h0M575.5 575.8h0M536.9 609.8h0M529.5 619.1h0M553.8 592.3h0M616.8 529.7h0M579.5 566h0M567.7 578.4h0M599.8 548.5h0M599.3 554h0M569.8 577.2h0M548 600.2h0M569.1 581.1h0M562.6 582.4h0M573.4 572.3h0M554 592.8h0M530.4 618h0M601.9 543.9h0M582.5 565.4h0M601.6 546.3h0M571.3 574.3h0M547.2 599.4h0M531.8 616.8h0M539.4 606h0M578.3 573.3h0M568.2 577.3h0M539 608h0M582.8 562.8h0M557.6 590.7h0M587.9 558.4h0M582.7 572.6h0M556.5 592.5h0M605.2 542.3h0M592 563.1h0M586.4 560.4h0M571.8 583.7h0M544.2 600.7h0M526.4 622.8h0M605.2 542.4h0M597.9 557.5h0M555.4 589.6h0M615.7 541.1h0M557.6 589h0M566.7 580h0M592.2 556.1h0M616.3 541.1h0M565.1 586.3h0M573.7 572.7h0M578.6 571.9h0M591.7 563.6h0M541.6 606.7h0M600 551.2h0M593.8 552.6h0M556.3 602.8h0M584.8 572.8h0M565.5 584.6h0M567.4 578.9h0M566.4 584.9h0M627.8 519.2h0M582.8 572.3h0M538.9 606.6h0M570.6 579.6h0M573.7 583.8h0M541.4 613.2h0M562.3 584.6h0M545.9 599.7h0M606.1 543.5h0M618.1 528.4h0M576.6 568.5h0M569.9 587.6h0M574.5 575.1h0M540.5 604.7h0M564 615.4h0M640.7 526.2h0M627.8 543.8h0M623.1 539.1h0M592.7 583.7h0" fill="none" stroke="#e8382f" stroke-width="2.75" stroke-linecap="round" opacity="0.93"/>
<path d="M491.2,467.8 L491.2,647 L672.3,647" fill="none" stroke="#111" stroke-width="1.1"/>
<line x1="491.2" y1="647" x2="671.3" y2="468.2" stroke="#000" stroke-width="1.6"/>
<line x1="488.8" y1="616.56" x2="491.2" y2="616.56" stroke="#111" stroke-width="1.1"/>
<line x1="522.5" y1="647" x2="522.5" y2="649.6" stroke="#111" stroke-width="1.1"/>
<text x="484.8" y="620.26" font-size="10.2" text-anchor="end" textLength="10.25" lengthAdjust="spacingAndGlyphs" fill="#231f20">-4</text>
<text x="522.5" y="662.4" font-size="10.2" text-anchor="middle" textLength="10.25" lengthAdjust="spacingAndGlyphs" fill="#231f20">-4</text>
<line x1="488.8" y1="569.6" x2="491.2" y2="569.6" stroke="#111" stroke-width="1.1"/>
<line x1="569.3" y1="647" x2="569.3" y2="649.6" stroke="#111" stroke-width="1.1"/>
<text x="484.8" y="573.3" font-size="10.2" text-anchor="end" textLength="6.41" lengthAdjust="spacingAndGlyphs" fill="#231f20">0</text>
<text x="569.3" y="662.4" font-size="10.2" text-anchor="middle" textLength="6.41" lengthAdjust="spacingAndGlyphs" fill="#231f20">0</text>
<line x1="488.8" y1="522.64" x2="491.2" y2="522.64" stroke="#111" stroke-width="1.1"/>
<line x1="616.1" y1="647" x2="616.1" y2="649.6" stroke="#111" stroke-width="1.1"/>
<text x="484.8" y="526.34" font-size="10.2" text-anchor="end" textLength="6.41" lengthAdjust="spacingAndGlyphs" fill="#231f20">4</text>
<text x="616.1" y="662.4" font-size="10.2" text-anchor="middle" textLength="6.41" lengthAdjust="spacingAndGlyphs" fill="#231f20">4</text>
<line x1="488.8" y1="475.68" x2="491.2" y2="475.68" stroke="#111" stroke-width="1.1"/>
<line x1="662.9" y1="647" x2="662.9" y2="649.6" stroke="#111" stroke-width="1.1"/>
<text x="484.8" y="479.38" font-size="10.2" text-anchor="end" textLength="6.41" lengthAdjust="spacingAndGlyphs" fill="#231f20">8</text>
<text x="662.9" y="662.4" font-size="10.2" text-anchor="middle" textLength="6.41" lengthAdjust="spacingAndGlyphs" fill="#231f20">8</text>
<text x="581.5" y="678" font-size="13.1" text-anchor="middle" fill="#231f20" xml:space="preserve" textLength="147.3" lengthAdjust="spacingAndGlyphs">Log<tspan font-size="10.22" dy="3">2</tspan><tspan dy="-3">(Motif Mut. RNA </tspan><tspan font-style="italic">R</tspan>)</text>
<text x="463.6" y="558.4" font-size="13.1" text-anchor="middle" fill="#231f20" xml:space="preserve" transform="rotate(-90 463.6 558.4)" textLength="107" lengthAdjust="spacingAndGlyphs">Log<tspan font-size="10.22" dy="3">2</tspan><tspan dy="-3">(WT RNA </tspan><tspan font-style="italic">R</tspan>)</text>
<text x="542.2" y="462.4" font-size="11.4" textLength="129.7" lengthAdjust="spacingAndGlyphs" fill="#231f20">wt bound better (n=2939)</text>
<text x="676.5" y="468.6" font-size="11.4" textLength="129.7" lengthAdjust="spacingAndGlyphs" fill="#231f20" transform="rotate(90 676.5 468.6)">mut bound better (n=259)</text>
<line x1="640.2" y1="484.6" x2="629.94" y2="473.84" stroke="#111" stroke-width="1.5"/>
<path d="M623.8,467.4 L634.48,470.2 L626.09,478.21 Z" fill="#111"/>
<line x1="652.5" y1="497.5" x2="662.24" y2="507.98" stroke="#111" stroke-width="1.5"/>
<path d="M668.3,514.5 L657.65,511.56 L666.15,503.67 Z" fill="#111"/>
<text x="591.6" y="621" font-size="13.5" textLength="73.6" lengthAdjust="spacingAndGlyphs" fill="#231f20">p &lt; 2.2e-16</text>
</svg>
</body></html>
